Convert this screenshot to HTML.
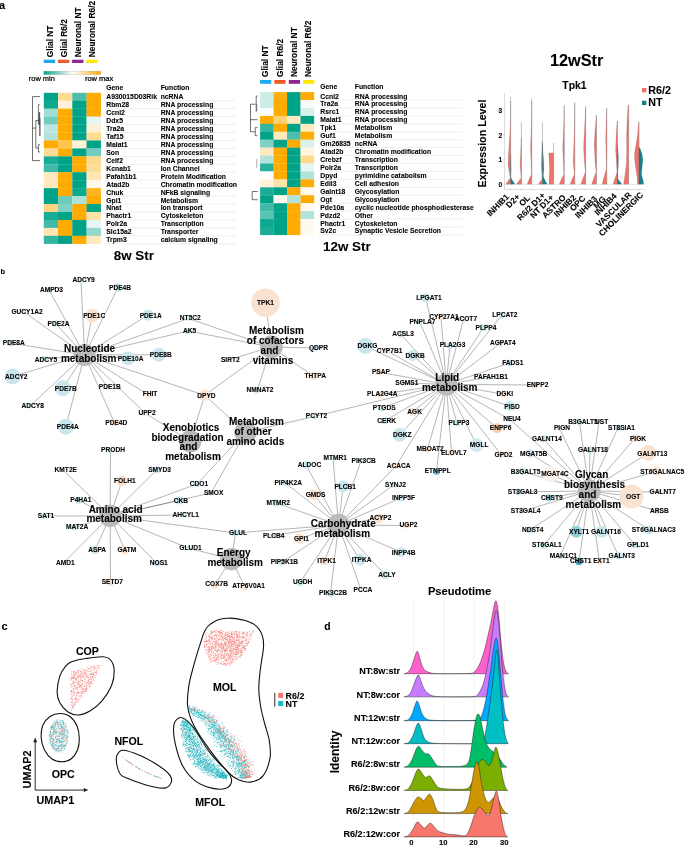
<!DOCTYPE html>
<html><head><meta charset="utf-8"><title>Figure</title>
<style>
html,body{margin:0;padding:0;background:#fff;}
svg{display:block;font-family:'Liberation Sans', Arial, Helvetica, sans-serif;}
text{stroke:#000;stroke-width:0.09px;}
text.rm{stroke-width:0.24px;}
</style></head><body>
<svg width="685" height="846" viewBox="0 0 685 846">
<rect width="685" height="846" fill="#fff"/>
<defs><linearGradient id="lg" x1="0" x2="1" y1="0" y2="0"><stop offset="0" stop-color="#00a388"/><stop offset="0.5" stop-color="#ffffff"/><stop offset="1" stop-color="#ffab00"/></linearGradient></defs>
<text x="-1.0" y="8.8" font-size="11" text-anchor="start" font-weight="bold" fill="#000">a</text>
<text x="0.5" y="273.6" font-size="7.5" text-anchor="start" font-weight="bold" fill="#000">b</text>
<text x="1.4" y="629.5" font-size="11" text-anchor="start" font-weight="bold" fill="#000">c</text>
<text x="324.2" y="629.5" font-size="10.3" text-anchor="start" font-weight="bold" fill="#000">d</text>
<rect x="43.80" y="92.80" width="14.40" height="8.10" fill="#00a388"/>
<rect x="58.05" y="92.80" width="14.40" height="8.10" fill="#ffdc94"/>
<rect x="72.30" y="92.80" width="14.40" height="8.10" fill="#4cbfac"/>
<rect x="86.55" y="92.80" width="14.40" height="8.10" fill="#ffab00"/>
<rect x="43.80" y="100.75" width="14.40" height="8.10" fill="#0da88e"/>
<rect x="58.05" y="100.75" width="14.40" height="8.10" fill="#fff2d9"/>
<rect x="72.30" y="100.75" width="14.40" height="8.10" fill="#00a388"/>
<rect x="86.55" y="100.75" width="14.40" height="8.10" fill="#ffab00"/>
<rect x="43.80" y="108.69" width="14.40" height="8.10" fill="#a1ddd3"/>
<rect x="58.05" y="108.69" width="14.40" height="8.10" fill="#ffab00"/>
<rect x="72.30" y="108.69" width="14.40" height="8.10" fill="#00a388"/>
<rect x="86.55" y="108.69" width="14.40" height="8.10" fill="#ffab00"/>
<rect x="43.80" y="116.63" width="14.40" height="8.10" fill="#73ccbe"/>
<rect x="58.05" y="116.63" width="14.40" height="8.10" fill="#ffab00"/>
<rect x="72.30" y="116.63" width="14.40" height="8.10" fill="#00a388"/>
<rect x="86.55" y="116.63" width="14.40" height="8.10" fill="#e6f6f3"/>
<rect x="43.80" y="124.58" width="14.40" height="8.10" fill="#bae6df"/>
<rect x="58.05" y="124.58" width="14.40" height="8.10" fill="#ffab00"/>
<rect x="72.30" y="124.58" width="14.40" height="8.10" fill="#00a388"/>
<rect x="86.55" y="124.58" width="14.40" height="8.10" fill="#fff1d4"/>
<rect x="43.80" y="132.53" width="14.40" height="8.10" fill="#b2e3db"/>
<rect x="58.05" y="132.53" width="14.40" height="8.10" fill="#ffab00"/>
<rect x="72.30" y="132.53" width="14.40" height="8.10" fill="#00a388"/>
<rect x="86.55" y="132.53" width="14.40" height="8.10" fill="#ffdc94"/>
<rect x="43.80" y="140.47" width="14.40" height="8.10" fill="#ffab00"/>
<rect x="58.05" y="140.47" width="14.40" height="8.10" fill="#ffc44c"/>
<rect x="72.30" y="140.47" width="14.40" height="8.10" fill="#fff1d4"/>
<rect x="86.55" y="140.47" width="14.40" height="8.10" fill="#00a388"/>
<rect x="43.80" y="148.41" width="14.40" height="8.10" fill="#ffdc94"/>
<rect x="58.05" y="148.41" width="14.40" height="8.10" fill="#ffab00"/>
<rect x="72.30" y="148.41" width="14.40" height="8.10" fill="#00a388"/>
<rect x="86.55" y="148.41" width="14.40" height="8.10" fill="#73ccbe"/>
<rect x="43.80" y="156.36" width="14.40" height="8.10" fill="#1aac94"/>
<rect x="58.05" y="156.36" width="14.40" height="8.10" fill="#00a388"/>
<rect x="72.30" y="156.36" width="14.40" height="8.10" fill="#ffab00"/>
<rect x="86.55" y="156.36" width="14.40" height="8.10" fill="#ffd98c"/>
<rect x="43.80" y="164.31" width="14.40" height="8.10" fill="#40baa6"/>
<rect x="58.05" y="164.31" width="14.40" height="8.10" fill="#00a388"/>
<rect x="72.30" y="164.31" width="14.40" height="8.10" fill="#ffab00"/>
<rect x="86.55" y="164.31" width="14.40" height="8.10" fill="#ffdd99"/>
<rect x="43.80" y="172.25" width="14.40" height="8.10" fill="#ffe8ba"/>
<rect x="58.05" y="172.25" width="14.40" height="8.10" fill="#ffab00"/>
<rect x="72.30" y="172.25" width="14.40" height="8.10" fill="#00a388"/>
<rect x="86.55" y="172.25" width="14.40" height="8.10" fill="#ffe6b2"/>
<rect x="43.80" y="180.19" width="14.40" height="8.10" fill="#ffeabf"/>
<rect x="58.05" y="180.19" width="14.40" height="8.10" fill="#ffab00"/>
<rect x="72.30" y="180.19" width="14.40" height="8.10" fill="#00a388"/>
<rect x="86.55" y="180.19" width="14.40" height="8.10" fill="#fff8eb"/>
<rect x="43.80" y="188.14" width="14.40" height="8.10" fill="#00a388"/>
<rect x="58.05" y="188.14" width="14.40" height="8.10" fill="#ffab00"/>
<rect x="72.30" y="188.14" width="14.40" height="8.10" fill="#0da88e"/>
<rect x="86.55" y="188.14" width="14.40" height="8.10" fill="#ffb51f"/>
<rect x="43.80" y="196.08" width="14.40" height="8.10" fill="#00a388"/>
<rect x="58.05" y="196.08" width="14.40" height="8.10" fill="#6ecbbb"/>
<rect x="72.30" y="196.08" width="14.40" height="8.10" fill="#ade2d9"/>
<rect x="86.55" y="196.08" width="14.40" height="8.10" fill="#ffab00"/>
<rect x="43.80" y="204.03" width="14.40" height="8.10" fill="#ffd580"/>
<rect x="58.05" y="204.03" width="14.40" height="8.10" fill="#80d1c4"/>
<rect x="72.30" y="204.03" width="14.40" height="8.10" fill="#ffab00"/>
<rect x="86.55" y="204.03" width="14.40" height="8.10" fill="#00a388"/>
<rect x="43.80" y="211.98" width="14.40" height="8.10" fill="#1aac94"/>
<rect x="58.05" y="211.98" width="14.40" height="8.10" fill="#00a388"/>
<rect x="72.30" y="211.98" width="14.40" height="8.10" fill="#ffab00"/>
<rect x="86.55" y="211.98" width="14.40" height="8.10" fill="#ffe2a6"/>
<rect x="43.80" y="219.92" width="14.40" height="8.10" fill="#40baa6"/>
<rect x="58.05" y="219.92" width="14.40" height="8.10" fill="#ffab00"/>
<rect x="72.30" y="219.92" width="14.40" height="8.10" fill="#00a388"/>
<rect x="86.55" y="219.92" width="14.40" height="8.10" fill="#e6f6f3"/>
<rect x="43.80" y="227.87" width="14.40" height="8.10" fill="#ffe6b2"/>
<rect x="58.05" y="227.87" width="14.40" height="8.10" fill="#ffab00"/>
<rect x="72.30" y="227.87" width="14.40" height="8.10" fill="#00a388"/>
<rect x="86.55" y="227.87" width="14.40" height="8.10" fill="#94d8cd"/>
<rect x="43.80" y="235.81" width="14.40" height="8.10" fill="#33b5a0"/>
<rect x="58.05" y="235.81" width="14.40" height="8.10" fill="#00a388"/>
<rect x="72.30" y="235.81" width="14.40" height="8.10" fill="#ffab00"/>
<rect x="86.55" y="235.81" width="14.40" height="8.10" fill="#ffeabf"/>
<text x="106.3" y="89.7" font-size="6.8" text-anchor="start" font-weight="bold" fill="#000">Gene</text>
<text x="160.7" y="89.7" font-size="6.8" text-anchor="start" font-weight="bold" fill="#000">Function</text>
<text x="106.3" y="99.2" font-size="6.8" text-anchor="start" font-weight="bold" fill="#000">A930015D03Rik</text>
<text x="160.7" y="99.2" font-size="6.8" text-anchor="start" font-weight="bold" fill="#000">ncRNA</text>
<line x1="105" x2="235" y1="100.75" y2="100.75" stroke="#dcdcdc" stroke-width="0.5"/>
<text x="106.3" y="107.2" font-size="6.8" text-anchor="start" font-weight="bold" fill="#000">Rbm28</text>
<text x="160.7" y="107.2" font-size="6.8" text-anchor="start" font-weight="bold" fill="#000">RNA processing</text>
<line x1="105" x2="235" y1="108.69" y2="108.69" stroke="#dcdcdc" stroke-width="0.5"/>
<text x="106.3" y="115.1" font-size="6.8" text-anchor="start" font-weight="bold" fill="#000">Ccnl2</text>
<text x="160.7" y="115.1" font-size="6.8" text-anchor="start" font-weight="bold" fill="#000">RNA processing</text>
<line x1="105" x2="235" y1="116.63" y2="116.63" stroke="#dcdcdc" stroke-width="0.5"/>
<text x="106.3" y="123.0" font-size="6.8" text-anchor="start" font-weight="bold" fill="#000">Ddx5</text>
<text x="160.7" y="123.0" font-size="6.8" text-anchor="start" font-weight="bold" fill="#000">RNA processing</text>
<line x1="105" x2="235" y1="124.58" y2="124.58" stroke="#dcdcdc" stroke-width="0.5"/>
<text x="106.3" y="131.0" font-size="6.8" text-anchor="start" font-weight="bold" fill="#000">Tra2a</text>
<text x="160.7" y="131.0" font-size="6.8" text-anchor="start" font-weight="bold" fill="#000">RNA processing</text>
<line x1="105" x2="235" y1="132.53" y2="132.53" stroke="#dcdcdc" stroke-width="0.5"/>
<text x="106.3" y="138.9" font-size="6.8" text-anchor="start" font-weight="bold" fill="#000">Taf15</text>
<text x="160.7" y="138.9" font-size="6.8" text-anchor="start" font-weight="bold" fill="#000">RNA processing</text>
<line x1="105" x2="235" y1="140.47" y2="140.47" stroke="#dcdcdc" stroke-width="0.5"/>
<text x="106.3" y="146.9" font-size="6.8" text-anchor="start" font-weight="bold" fill="#000">Malat1</text>
<text x="160.7" y="146.9" font-size="6.8" text-anchor="start" font-weight="bold" fill="#000">RNA processing</text>
<line x1="105" x2="235" y1="148.41" y2="148.41" stroke="#dcdcdc" stroke-width="0.5"/>
<text x="106.3" y="154.8" font-size="6.8" text-anchor="start" font-weight="bold" fill="#000">Son</text>
<text x="160.7" y="154.8" font-size="6.8" text-anchor="start" font-weight="bold" fill="#000">RNA processing</text>
<line x1="105" x2="235" y1="156.36" y2="156.36" stroke="#dcdcdc" stroke-width="0.5"/>
<text x="106.3" y="162.8" font-size="6.8" text-anchor="start" font-weight="bold" fill="#000">Celf2</text>
<text x="160.7" y="162.8" font-size="6.8" text-anchor="start" font-weight="bold" fill="#000">RNA processing</text>
<line x1="105" x2="235" y1="164.31" y2="164.31" stroke="#dcdcdc" stroke-width="0.5"/>
<text x="106.3" y="170.7" font-size="6.8" text-anchor="start" font-weight="bold" fill="#000">Kcnab1</text>
<text x="160.7" y="170.7" font-size="6.8" text-anchor="start" font-weight="bold" fill="#000">Ion Channel</text>
<line x1="105" x2="235" y1="172.25" y2="172.25" stroke="#dcdcdc" stroke-width="0.5"/>
<text x="106.3" y="178.7" font-size="6.8" text-anchor="start" font-weight="bold" fill="#000">Pafah1b1</text>
<text x="160.7" y="178.7" font-size="6.8" text-anchor="start" font-weight="bold" fill="#000">Protein Modification</text>
<line x1="105" x2="235" y1="180.19" y2="180.19" stroke="#dcdcdc" stroke-width="0.5"/>
<text x="106.3" y="186.6" font-size="6.8" text-anchor="start" font-weight="bold" fill="#000">Atad2b</text>
<text x="160.7" y="186.6" font-size="6.8" text-anchor="start" font-weight="bold" fill="#000">Chromatin modification</text>
<line x1="105" x2="235" y1="188.14" y2="188.14" stroke="#dcdcdc" stroke-width="0.5"/>
<text x="106.3" y="194.5" font-size="6.8" text-anchor="start" font-weight="bold" fill="#000">Chuk</text>
<text x="160.7" y="194.5" font-size="6.8" text-anchor="start" font-weight="bold" fill="#000">NFkB signaling</text>
<line x1="105" x2="235" y1="196.08" y2="196.08" stroke="#dcdcdc" stroke-width="0.5"/>
<text x="106.3" y="202.5" font-size="6.8" text-anchor="start" font-weight="bold" fill="#000">Gpi1</text>
<text x="160.7" y="202.5" font-size="6.8" text-anchor="start" font-weight="bold" fill="#000">Metabolism</text>
<line x1="105" x2="235" y1="204.03" y2="204.03" stroke="#dcdcdc" stroke-width="0.5"/>
<text x="106.3" y="210.4" font-size="6.8" text-anchor="start" font-weight="bold" fill="#000">Nnat</text>
<text x="160.7" y="210.4" font-size="6.8" text-anchor="start" font-weight="bold" fill="#000">Ion transport</text>
<line x1="105" x2="235" y1="211.98" y2="211.98" stroke="#dcdcdc" stroke-width="0.5"/>
<text x="106.3" y="218.4" font-size="6.8" text-anchor="start" font-weight="bold" fill="#000">Phactr1</text>
<text x="160.7" y="218.4" font-size="6.8" text-anchor="start" font-weight="bold" fill="#000">Cytoskeleton</text>
<line x1="105" x2="235" y1="219.92" y2="219.92" stroke="#dcdcdc" stroke-width="0.5"/>
<text x="106.3" y="226.3" font-size="6.8" text-anchor="start" font-weight="bold" fill="#000">Polr2a</text>
<text x="160.7" y="226.3" font-size="6.8" text-anchor="start" font-weight="bold" fill="#000">Transcription</text>
<line x1="105" x2="235" y1="227.87" y2="227.87" stroke="#dcdcdc" stroke-width="0.5"/>
<text x="106.3" y="234.3" font-size="6.8" text-anchor="start" font-weight="bold" fill="#000">Slc15a2</text>
<text x="160.7" y="234.3" font-size="6.8" text-anchor="start" font-weight="bold" fill="#000">Transporter</text>
<line x1="105" x2="235" y1="235.81" y2="235.81" stroke="#dcdcdc" stroke-width="0.5"/>
<text x="106.3" y="242.2" font-size="6.8" text-anchor="start" font-weight="bold" fill="#000">Trpm3</text>
<text x="160.7" y="242.2" font-size="6.8" text-anchor="start" font-weight="bold" fill="#000">calcium signaling</text>
<line x1="105" x2="235" y1="243.75" y2="243.75" stroke="#dcdcdc" stroke-width="0.5"/>
<rect x="43.8" y="59.7" width="11.3" height="3.3" fill="#1ba9e8"/>
<text transform="translate(53.2,57.2) rotate(-90)" font-size="8.4" text-anchor="start" font-weight="bold">Glial NT</text>
<rect x="57.9" y="59.7" width="11.3" height="3.3" fill="#f05a28"/>
<text transform="translate(67.2,57.2) rotate(-90)" font-size="8.4" text-anchor="start" font-weight="bold">Glial R6/2</text>
<rect x="72.1" y="59.7" width="11.3" height="3.3" fill="#92278f"/>
<text transform="translate(81.1,57.2) rotate(-90)" font-size="8.4" text-anchor="start" font-weight="bold">Neuronal NT</text>
<rect x="86.4" y="59.7" width="11.3" height="3.3" fill="#ffe900"/>
<text transform="translate(94.9,57.2) rotate(-90)" font-size="8.4" text-anchor="start" font-weight="bold">Neuronal R6/2</text>
<rect x="43.8" y="71.1" width="57" height="3.6" fill="url(#lg)" stroke="#a9a9a9" stroke-width="0.3"/>
<text x="28.8" y="80.7" font-size="7.45" text-anchor="start" font-weight="normal" fill="#000" class="rm">row min</text>
<text x="85.0" y="80.7" font-size="7.45" text-anchor="start" font-weight="normal" fill="#000" class="rm">row max</text>
<text x="133.8" y="260.1" font-size="13.4" text-anchor="middle" font-weight="bold" fill="#000">8w Str</text>
<polyline fill="none" stroke="#111" stroke-width="0.6" points="40.0,96.6 32.5,96.6 32.5,160.6 40.0,160.6"/>
<polyline fill="none" stroke="#111" stroke-width="0.6" points="32.5,128.1 35.8,128.1"/>
<polyline fill="none" stroke="#111" stroke-width="0.6" points="38.4,120.5 35.8,120.5 35.8,148.1 38.4,148.1"/>
<polyline fill="none" stroke="#111" stroke-width="0.6" points="39.7,104.7 38.4,104.7 38.4,124.4"/>
<polyline fill="none" stroke="#111" stroke-width="0.6" points="39.2,112.6 39.2,125.0"/>
<polyline fill="none" stroke="#111" stroke-width="0.6" points="39.7,112.0 39.7,136.2"/>
<polyline fill="none" stroke="#111" stroke-width="0.4" points="40.2,118.0 40.2,136.0"/>
<polyline fill="none" stroke="#111" stroke-width="0.6" points="40.0,144.8 38.4,144.8 38.4,152.0 40.0,152.0"/>
<rect x="260.10" y="92.10" width="13.63" height="8.08" fill="#ccede7"/>
<rect x="273.58" y="92.10" width="13.63" height="8.08" fill="#ffaf0d"/>
<rect x="287.06" y="92.10" width="13.63" height="8.08" fill="#00a388"/>
<rect x="300.54" y="92.10" width="13.63" height="8.08" fill="#ffab00"/>
<rect x="260.10" y="100.03" width="13.63" height="8.08" fill="#ccede7"/>
<rect x="273.58" y="100.03" width="13.63" height="8.08" fill="#ffab00"/>
<rect x="287.06" y="100.03" width="13.63" height="8.08" fill="#00a388"/>
<rect x="300.54" y="100.03" width="13.63" height="8.08" fill="#f7fcfb"/>
<rect x="260.10" y="107.97" width="13.63" height="8.08" fill="#fafdfd"/>
<rect x="273.58" y="107.97" width="13.63" height="8.08" fill="#ffab00"/>
<rect x="287.06" y="107.97" width="13.63" height="8.08" fill="#00a388"/>
<rect x="300.54" y="107.97" width="13.63" height="8.08" fill="#d9f1ed"/>
<rect x="260.10" y="115.91" width="13.63" height="8.08" fill="#ffab00"/>
<rect x="273.58" y="115.91" width="13.63" height="8.08" fill="#ffd173"/>
<rect x="287.06" y="115.91" width="13.63" height="8.08" fill="#ffeabf"/>
<rect x="300.54" y="115.91" width="13.63" height="8.08" fill="#00a388"/>
<rect x="260.10" y="123.84" width="13.63" height="8.08" fill="#33b5a0"/>
<rect x="273.58" y="123.84" width="13.63" height="8.08" fill="#ffab00"/>
<rect x="287.06" y="123.84" width="13.63" height="8.08" fill="#00a388"/>
<rect x="300.54" y="123.84" width="13.63" height="8.08" fill="#ffeabf"/>
<rect x="260.10" y="131.77" width="13.63" height="8.08" fill="#00a388"/>
<rect x="273.58" y="131.77" width="13.63" height="8.08" fill="#ffeabf"/>
<rect x="287.06" y="131.77" width="13.63" height="8.08" fill="#4cbfac"/>
<rect x="300.54" y="131.77" width="13.63" height="8.08" fill="#ffab00"/>
<rect x="260.10" y="139.71" width="13.63" height="8.08" fill="#80d1c4"/>
<rect x="273.58" y="139.71" width="13.63" height="8.08" fill="#00a388"/>
<rect x="287.06" y="139.71" width="13.63" height="8.08" fill="#ffab00"/>
<rect x="300.54" y="139.71" width="13.63" height="8.08" fill="#d9f1ed"/>
<rect x="260.10" y="147.64" width="13.63" height="8.08" fill="#ffeabf"/>
<rect x="273.58" y="147.64" width="13.63" height="8.08" fill="#ffab00"/>
<rect x="287.06" y="147.64" width="13.63" height="8.08" fill="#00a388"/>
<rect x="300.54" y="147.64" width="13.63" height="8.08" fill="#fff5e0"/>
<rect x="260.10" y="155.58" width="13.63" height="8.08" fill="#b2e3db"/>
<rect x="273.58" y="155.58" width="13.63" height="8.08" fill="#ffab00"/>
<rect x="287.06" y="155.58" width="13.63" height="8.08" fill="#00a388"/>
<rect x="300.54" y="155.58" width="13.63" height="8.08" fill="#ffd98c"/>
<rect x="260.10" y="163.51" width="13.63" height="8.08" fill="#26b19a"/>
<rect x="273.58" y="163.51" width="13.63" height="8.08" fill="#ffab00"/>
<rect x="287.06" y="163.51" width="13.63" height="8.08" fill="#00a388"/>
<rect x="300.54" y="163.51" width="13.63" height="8.08" fill="#e6f6f3"/>
<rect x="260.10" y="171.45" width="13.63" height="8.08" fill="#ffffff"/>
<rect x="273.58" y="171.45" width="13.63" height="8.08" fill="#ffab00"/>
<rect x="287.06" y="171.45" width="13.63" height="8.08" fill="#00a388"/>
<rect x="300.54" y="171.45" width="13.63" height="8.08" fill="#b2e3db"/>
<rect x="260.10" y="179.38" width="13.63" height="8.08" fill="#fff2d9"/>
<rect x="273.58" y="179.38" width="13.63" height="8.08" fill="#ffe2a6"/>
<rect x="287.06" y="179.38" width="13.63" height="8.08" fill="#00a388"/>
<rect x="300.54" y="179.38" width="13.63" height="8.08" fill="#ffab00"/>
<rect x="260.10" y="187.32" width="13.63" height="8.08" fill="#1aac94"/>
<rect x="273.58" y="187.32" width="13.63" height="8.08" fill="#00a388"/>
<rect x="287.06" y="187.32" width="13.63" height="8.08" fill="#ffab00"/>
<rect x="300.54" y="187.32" width="13.63" height="8.08" fill="#fff8eb"/>
<rect x="260.10" y="195.25" width="13.63" height="8.08" fill="#00a388"/>
<rect x="273.58" y="195.25" width="13.63" height="8.08" fill="#fff8eb"/>
<rect x="287.06" y="195.25" width="13.63" height="8.08" fill="#b2e3db"/>
<rect x="300.54" y="195.25" width="13.63" height="8.08" fill="#ffab00"/>
<rect x="260.10" y="203.19" width="13.63" height="8.08" fill="#40baa6"/>
<rect x="273.58" y="203.19" width="13.63" height="8.08" fill="#00a388"/>
<rect x="287.06" y="203.19" width="13.63" height="8.08" fill="#ffab00"/>
<rect x="300.54" y="203.19" width="13.63" height="8.08" fill="#fff8eb"/>
<rect x="260.10" y="211.12" width="13.63" height="8.08" fill="#59c3b2"/>
<rect x="273.58" y="211.12" width="13.63" height="8.08" fill="#00a388"/>
<rect x="287.06" y="211.12" width="13.63" height="8.08" fill="#ffab00"/>
<rect x="300.54" y="211.12" width="13.63" height="8.08" fill="#b2e3db"/>
<rect x="260.10" y="219.06" width="13.63" height="8.08" fill="#0da88e"/>
<rect x="273.58" y="219.06" width="13.63" height="8.08" fill="#00a388"/>
<rect x="287.06" y="219.06" width="13.63" height="8.08" fill="#ffab00"/>
<rect x="300.54" y="219.06" width="13.63" height="8.08" fill="#fffaf0"/>
<rect x="260.10" y="226.99" width="13.63" height="8.08" fill="#1aac94"/>
<rect x="273.58" y="226.99" width="13.63" height="8.08" fill="#00a388"/>
<rect x="287.06" y="226.99" width="13.63" height="8.08" fill="#ffab00"/>
<rect x="300.54" y="226.99" width="13.63" height="8.08" fill="#fffaf0"/>
<text x="320.3" y="89.0" font-size="6.8" text-anchor="start" font-weight="bold" fill="#000">Gene</text>
<text x="354.8" y="89.0" font-size="6.8" text-anchor="start" font-weight="bold" fill="#000">Function</text>
<text x="320.3" y="98.5" font-size="6.8" text-anchor="start" font-weight="bold" fill="#000">Ccnl2</text>
<text x="354.8" y="98.5" font-size="6.8" text-anchor="start" font-weight="bold" fill="#000">RNA processing</text>
<line x1="319" x2="463" y1="100.03" y2="100.03" stroke="#dcdcdc" stroke-width="0.5"/>
<text x="320.3" y="106.4" font-size="6.8" text-anchor="start" font-weight="bold" fill="#000">Tra2a</text>
<text x="354.8" y="106.4" font-size="6.8" text-anchor="start" font-weight="bold" fill="#000">RNA processing</text>
<line x1="319" x2="463" y1="107.97" y2="107.97" stroke="#dcdcdc" stroke-width="0.5"/>
<text x="320.3" y="114.4" font-size="6.8" text-anchor="start" font-weight="bold" fill="#000">Rsrc1</text>
<text x="354.8" y="114.4" font-size="6.8" text-anchor="start" font-weight="bold" fill="#000">RNA processing</text>
<line x1="319" x2="463" y1="115.91" y2="115.91" stroke="#dcdcdc" stroke-width="0.5"/>
<text x="320.3" y="122.3" font-size="6.8" text-anchor="start" font-weight="bold" fill="#000">Malat1</text>
<text x="354.8" y="122.3" font-size="6.8" text-anchor="start" font-weight="bold" fill="#000">RNA processing</text>
<line x1="319" x2="463" y1="123.84" y2="123.84" stroke="#dcdcdc" stroke-width="0.5"/>
<text x="320.3" y="130.2" font-size="6.8" text-anchor="start" font-weight="bold" fill="#000">Tpk1</text>
<text x="354.8" y="130.2" font-size="6.8" text-anchor="start" font-weight="bold" fill="#000">Metabolism</text>
<line x1="319" x2="463" y1="131.77" y2="131.77" stroke="#dcdcdc" stroke-width="0.5"/>
<text x="320.3" y="138.2" font-size="6.8" text-anchor="start" font-weight="bold" fill="#000">Guf1</text>
<text x="354.8" y="138.2" font-size="6.8" text-anchor="start" font-weight="bold" fill="#000">Metabolism</text>
<line x1="319" x2="463" y1="139.71" y2="139.71" stroke="#dcdcdc" stroke-width="0.5"/>
<text x="320.3" y="146.1" font-size="6.8" text-anchor="start" font-weight="bold" fill="#000">Gm26835</text>
<text x="354.8" y="146.1" font-size="6.8" text-anchor="start" font-weight="bold" fill="#000">ncRNA</text>
<line x1="319" x2="463" y1="147.64" y2="147.64" stroke="#dcdcdc" stroke-width="0.5"/>
<text x="320.3" y="154.0" font-size="6.8" text-anchor="start" font-weight="bold" fill="#000">Atad2b</text>
<text x="354.8" y="154.0" font-size="6.8" text-anchor="start" font-weight="bold" fill="#000">Chromatin modification</text>
<line x1="319" x2="463" y1="155.58" y2="155.58" stroke="#dcdcdc" stroke-width="0.5"/>
<text x="320.3" y="162.0" font-size="6.8" text-anchor="start" font-weight="bold" fill="#000">Crebzf</text>
<text x="354.8" y="162.0" font-size="6.8" text-anchor="start" font-weight="bold" fill="#000">Transcription</text>
<line x1="319" x2="463" y1="163.51" y2="163.51" stroke="#dcdcdc" stroke-width="0.5"/>
<text x="320.3" y="169.9" font-size="6.8" text-anchor="start" font-weight="bold" fill="#000">Polr2a</text>
<text x="354.8" y="169.9" font-size="6.8" text-anchor="start" font-weight="bold" fill="#000">Transcription</text>
<line x1="319" x2="463" y1="171.45" y2="171.45" stroke="#dcdcdc" stroke-width="0.5"/>
<text x="320.3" y="177.9" font-size="6.8" text-anchor="start" font-weight="bold" fill="#000">Dpyd</text>
<text x="354.8" y="177.9" font-size="6.8" text-anchor="start" font-weight="bold" fill="#000">pyrimidine catabolism</text>
<line x1="319" x2="463" y1="179.38" y2="179.38" stroke="#dcdcdc" stroke-width="0.5"/>
<text x="320.3" y="185.8" font-size="6.8" text-anchor="start" font-weight="bold" fill="#000">Edil3</text>
<text x="354.8" y="185.8" font-size="6.8" text-anchor="start" font-weight="bold" fill="#000">Cell adhesion</text>
<line x1="319" x2="463" y1="187.32" y2="187.32" stroke="#dcdcdc" stroke-width="0.5"/>
<text x="320.3" y="193.7" font-size="6.8" text-anchor="start" font-weight="bold" fill="#000">Galnt18</text>
<text x="354.8" y="193.7" font-size="6.8" text-anchor="start" font-weight="bold" fill="#000">Glycosylation</text>
<line x1="319" x2="463" y1="195.25" y2="195.25" stroke="#dcdcdc" stroke-width="0.5"/>
<text x="320.3" y="201.7" font-size="6.8" text-anchor="start" font-weight="bold" fill="#000">Ogt</text>
<text x="354.8" y="201.7" font-size="6.8" text-anchor="start" font-weight="bold" fill="#000">Glycosylation</text>
<line x1="319" x2="463" y1="203.19" y2="203.19" stroke="#dcdcdc" stroke-width="0.5"/>
<text x="320.3" y="209.6" font-size="6.8" text-anchor="start" font-weight="bold" fill="#000">Pde10a</text>
<text x="354.8" y="209.6" font-size="6.8" text-anchor="start" font-weight="bold" fill="#000">cyclic nucleotide phosphodiesterase</text>
<line x1="319" x2="463" y1="211.12" y2="211.12" stroke="#dcdcdc" stroke-width="0.5"/>
<text x="320.3" y="217.5" font-size="6.8" text-anchor="start" font-weight="bold" fill="#000">Pdzd2</text>
<text x="354.8" y="217.5" font-size="6.8" text-anchor="start" font-weight="bold" fill="#000">Other</text>
<line x1="319" x2="463" y1="219.06" y2="219.06" stroke="#dcdcdc" stroke-width="0.5"/>
<text x="320.3" y="225.5" font-size="6.8" text-anchor="start" font-weight="bold" fill="#000">Phactr1</text>
<text x="354.8" y="225.5" font-size="6.8" text-anchor="start" font-weight="bold" fill="#000">Cytoskeleton</text>
<line x1="319" x2="463" y1="226.99" y2="226.99" stroke="#dcdcdc" stroke-width="0.5"/>
<text x="320.3" y="233.4" font-size="6.8" text-anchor="start" font-weight="bold" fill="#000">Sv2c</text>
<text x="354.8" y="233.4" font-size="6.8" text-anchor="start" font-weight="bold" fill="#000">Synaptic Vesicle Secretion</text>
<line x1="319" x2="463" y1="234.93" y2="234.93" stroke="#dcdcdc" stroke-width="0.5"/>
<rect x="260.1" y="80" width="11.2" height="3.8" fill="#1ba9e8"/>
<text transform="translate(268.4,77.0) rotate(-90)" font-size="8.4" text-anchor="start" font-weight="bold">Glial NT</text>
<rect x="274.3" y="80" width="11.2" height="3.8" fill="#f05a28"/>
<text transform="translate(282.6,77.0) rotate(-90)" font-size="8.4" text-anchor="start" font-weight="bold">Glial R6/2</text>
<rect x="288.8" y="80" width="11.2" height="3.8" fill="#92278f"/>
<text transform="translate(296.8,77.0) rotate(-90)" font-size="8.4" text-anchor="start" font-weight="bold">Neuronal NT</text>
<rect x="303.1" y="80" width="11.2" height="3.8" fill="#ffe900"/>
<text transform="translate(311.2,77.0) rotate(-90)" font-size="8.4" text-anchor="start" font-weight="bold">Neuronal R6/2</text>
<text x="346.9" y="251.3" font-size="13.4" text-anchor="middle" font-weight="bold" fill="#000">12w Str</text>
<polyline fill="none" stroke="#111" stroke-width="0.6" points="255.5,104.2 250.5,104.2 250.5,131.8 255.2,131.8"/>
<polyline fill="none" stroke="#111" stroke-width="0.6" points="257.5,96.0 256.2,96.0 256.2,111.8"/>
<polyline fill="none" stroke="#111" stroke-width="0.4" points="256.8,104.0 256.8,111.0"/>
<polyline fill="none" stroke="#111" stroke-width="0.6" points="250.5,119.7 257.5,119.7"/>
<polyline fill="none" stroke="#111" stroke-width="0.6" points="257.5,127.6 255.2,127.6 255.2,135.7 257.5,135.7"/>
<polyline fill="none" stroke="#777" stroke-width="0.6" points="256.8,158.9 256.8,167.7"/>
<polyline fill="none" stroke="#111" stroke-width="0.6" points="257.7,191.5 252.2,191.5 252.2,199.7 257.7,199.7"/>
<text x="576.7" y="66.4" font-size="16.3" text-anchor="middle" font-weight="bold" fill="#000">12wStr</text>
<text x="574.5" y="89.4" font-size="10.4" text-anchor="middle" font-weight="bold" fill="#000">Tpk1</text>
<rect x="642" y="88" width="4.4" height="4.4" fill="#f0736a"/>
<rect x="642" y="100.7" width="4.4" height="4.4" fill="#17808d"/>
<text x="648.3" y="94.1" font-size="10.7" text-anchor="start" font-weight="bold" fill="#000">R6/2</text>
<text x="648.3" y="105.8" font-size="10.7" text-anchor="start" font-weight="bold" fill="#000">NT</text>
<text transform="translate(486.4,143.5) rotate(-90)" font-size="10.7" text-anchor="middle" font-weight="bold">Expression Level</text>
<polyline fill="none" stroke="#cfcfcf" stroke-width="0.7" points="504.5,93 504.5,189.4 645.5,189.4"/>
<text x="500.4" y="186.7" font-size="6.6" text-anchor="middle" font-weight="bold" fill="#000">0</text>
<line x1="503.3" x2="504.5" y1="184.3" y2="184.3" stroke="#999" stroke-width="0.4"/>
<text x="500.4" y="162.1" font-size="6.6" text-anchor="middle" font-weight="bold" fill="#000">1</text>
<line x1="503.3" x2="504.5" y1="159.8" y2="159.8" stroke="#999" stroke-width="0.4"/>
<text x="500.4" y="137.6" font-size="6.6" text-anchor="middle" font-weight="bold" fill="#000">2</text>
<line x1="503.3" x2="504.5" y1="135.2" y2="135.2" stroke="#999" stroke-width="0.4"/>
<text x="500.4" y="113.0" font-size="6.6" text-anchor="middle" font-weight="bold" fill="#000">3</text>
<line x1="503.3" x2="504.5" y1="110.7" y2="110.7" stroke="#999" stroke-width="0.4"/>
<line x1="510.6" x2="510.6" y1="97" y2="184.3" stroke="#555" stroke-width="0.35"/>
<path d="M510.60,184.30 L505.80,184.30 L508.44,180.32 L510.35,177.67 L509.40,173.25 L508.00,164.66 L508.60,152.39 L509.60,137.66 L510.40,124.15 L510.60,100.83 L510.60,100.83Z" fill="#f0736a" stroke="#444" stroke-width="0.15"/>
<path d="M510.60,184.30 L515.10,184.30 L513.40,181.84 L511.50,178.90 L510.80,176.94 L511.10,169.57 L510.90,162.21 L510.60,154.84 L510.60,154.84Z" fill="#17808d" stroke="#444" stroke-width="0.15"/>
<line x1="510.6" x2="510.6" y1="189.4" y2="190.3" stroke="#888" stroke-width="0.4"/>
<text transform="translate(509.6,197.4) rotate(-45)" font-size="8.4" text-anchor="end" font-weight="bold">INHIB1</text>
<line x1="505.40000000000003" x2="515.8000000000001" y1="184.5" y2="184.5" stroke="#bbb" stroke-width="0.3"/>
<line x1="521.4" x2="521.4" y1="121.9" y2="184.3" stroke="#555" stroke-width="0.35"/>
<path d="M521.40,184.30 L516.40,184.30 L519.15,180.62 L521.15,178.16 L520.80,173.25 L520.10,164.66 L520.60,154.84 L521.30,137.66 L521.40,137.66Z" fill="#f0736a" stroke="#444" stroke-width="0.15"/>
<line x1="521.4" x2="521.4" y1="189.4" y2="190.3" stroke="#888" stroke-width="0.4"/>
<text transform="translate(520.4,197.4) rotate(-45)" font-size="8.4" text-anchor="end" font-weight="bold">D2+</text>
<line x1="516.1999999999999" x2="526.6" y1="184.5" y2="184.5" stroke="#bbb" stroke-width="0.3"/>
<line x1="531.7" x2="531.7" y1="98.7" y2="184.3" stroke="#555" stroke-width="0.35"/>
<path d="M531.70,184.30 L527.10,184.30 L529.63,178.11 L531.45,173.99 L531.20,167.12 L530.50,147.48 L531.00,135.20 L531.55,122.93 L531.70,100.83 L531.70,100.83Z" fill="#f0736a" stroke="#444" stroke-width="0.15"/>
<line x1="531.7" x2="531.7" y1="189.4" y2="190.3" stroke="#888" stroke-width="0.4"/>
<text transform="translate(530.7,198.6) rotate(-45)" font-size="8.4" text-anchor="end" font-weight="bold">OL</text>
<line x1="526.5" x2="536.9000000000001" y1="184.5" y2="184.5" stroke="#bbb" stroke-width="0.3"/>
<line x1="542.4" x2="542.4" y1="121.9" y2="184.3" stroke="#555" stroke-width="0.35"/>
<path d="M542.40,184.30 L538.20,184.30 L540.51,181.06 L542.15,178.90 L541.90,173.25 L541.20,164.66 L541.80,154.84 L542.30,142.56 L542.40,142.56Z" fill="#f0736a" stroke="#444" stroke-width="0.15"/>
<path d="M542.40,184.30 L547.40,184.30 L545.60,181.35 L544.00,178.16 L543.30,175.71 L543.90,169.57 L543.70,162.21 L543.00,152.39 L542.40,141.34 L542.40,141.34Z" fill="#17808d" stroke="#444" stroke-width="0.15"/>
<line x1="542.4" x2="542.4" y1="189.4" y2="190.3" stroke="#888" stroke-width="0.4"/>
<text transform="translate(545.8,195.9) rotate(-45)" font-size="8.4" text-anchor="end" font-weight="bold">R6/2 D1+</text>
<line x1="537.1999999999999" x2="547.6" y1="184.5" y2="184.5" stroke="#bbb" stroke-width="0.3"/>
<line x1="553.6" x2="553.6" y1="143" y2="184.3" stroke="#555" stroke-width="0.35"/>
<path d="M553.60,184.30 L549.00,184.30 L549.20,176.94 L549.60,168.34 L549.10,159.75 L548.80,153.12 L553.60,152.88 L553.60,152.88Z" fill="#f0736a" stroke="#444" stroke-width="0.15"/>
<line x1="553.6" x2="553.6" y1="189.4" y2="190.3" stroke="#888" stroke-width="0.4"/>
<text transform="translate(554.1,198.1) rotate(-45)" font-size="8.4" text-anchor="end" font-weight="bold">NT D1+</text>
<line x1="548.4" x2="558.8000000000001" y1="184.5" y2="184.5" stroke="#bbb" stroke-width="0.3"/>
<line x1="564.2" x2="564.2" y1="105" y2="184.3" stroke="#555" stroke-width="0.35"/>
<path d="M564.20,184.30 L559.20,184.30 L561.95,178.11 L563.95,173.99 L563.50,164.66 L562.70,147.48 L563.30,135.20 L564.00,120.47 L564.20,105.74 L564.20,105.74Z" fill="#f0736a" stroke="#444" stroke-width="0.15"/>
<line x1="564.2" x2="564.2" y1="189.4" y2="190.3" stroke="#888" stroke-width="0.4"/>
<text transform="translate(566.3,198.1) rotate(-45)" font-size="8.4" text-anchor="end" font-weight="bold">ASTRO</text>
<line x1="559.0" x2="569.4000000000001" y1="184.5" y2="184.5" stroke="#bbb" stroke-width="0.3"/>
<line x1="574.7" x2="574.7" y1="102" y2="184.3" stroke="#555" stroke-width="0.35"/>
<path d="M574.70,184.30 L570.10,184.30 L572.63,178.11 L574.45,173.99 L573.80,169.57 L573.20,160.98 L573.80,145.02 L574.50,125.38 L574.70,103.29 L574.70,103.29Z" fill="#f0736a" stroke="#444" stroke-width="0.15"/>
<line x1="574.7" x2="574.7" y1="189.4" y2="190.3" stroke="#888" stroke-width="0.4"/>
<text transform="translate(576.7,198.1) rotate(-45)" font-size="8.4" text-anchor="end" font-weight="bold">INHIB2</text>
<line x1="569.5" x2="579.9000000000001" y1="184.5" y2="184.5" stroke="#bbb" stroke-width="0.3"/>
<line x1="585.6" x2="585.6" y1="105.9" y2="184.3" stroke="#555" stroke-width="0.35"/>
<path d="M585.60,184.30 L580.80,184.30 L583.44,176.94 L585.35,172.03 L584.40,162.21 L583.60,147.48 L584.30,132.75 L585.20,115.56 L585.60,106.97 L585.60,106.97Z" fill="#f0736a" stroke="#444" stroke-width="0.15"/>
<line x1="585.6" x2="585.6" y1="189.4" y2="190.3" stroke="#888" stroke-width="0.4"/>
<text transform="translate(586.1,198.9) rotate(-45)" font-size="8.4" text-anchor="end" font-weight="bold">OPC</text>
<line x1="580.4" x2="590.8000000000001" y1="184.5" y2="184.5" stroke="#bbb" stroke-width="0.3"/>
<line x1="596.4" x2="596.4" y1="115" y2="184.3" stroke="#555" stroke-width="0.35"/>
<path d="M596.40,184.30 L591.60,184.30 L594.24,176.94 L596.15,172.03 L595.10,162.21 L594.20,145.02 L594.90,132.75 L595.90,120.47 L596.40,115.56 L596.40,115.56Z" fill="#f0736a" stroke="#444" stroke-width="0.15"/>
<line x1="596.4" x2="596.4" y1="189.4" y2="190.3" stroke="#888" stroke-width="0.4"/>
<text transform="translate(597.9,199.4) rotate(-45)" font-size="8.4" text-anchor="end" font-weight="bold">INHIB3</text>
<line x1="591.1999999999999" x2="601.6" y1="184.5" y2="184.5" stroke="#bbb" stroke-width="0.3"/>
<line x1="606.7" x2="606.7" y1="108" y2="184.3" stroke="#555" stroke-width="0.35"/>
<path d="M606.70,184.30 L602.10,184.30 L604.63,174.73 L606.45,168.34 L606.20,159.75 L605.70,137.66 L606.20,122.93 L606.70,108.20 L606.70,108.20Z" fill="#f0736a" stroke="#444" stroke-width="0.15"/>
<line x1="606.7" x2="606.7" y1="189.4" y2="190.3" stroke="#888" stroke-width="0.4"/>
<text transform="translate(606.4,199.6) rotate(-45)" font-size="8.4" text-anchor="end" font-weight="bold">MG</text>
<line x1="601.5" x2="611.9000000000001" y1="184.5" y2="184.5" stroke="#bbb" stroke-width="0.3"/>
<line x1="617.4" x2="617.4" y1="121" y2="184.3" stroke="#555" stroke-width="0.35"/>
<path d="M617.40,184.30 L613.00,184.30 L615.42,176.94 L617.15,172.03 L616.40,162.21 L615.60,149.93 L616.20,135.20 L617.10,122.93 L617.40,120.96 L617.40,120.96Z" fill="#f0736a" stroke="#444" stroke-width="0.15"/>
<path d="M617.40,184.30 L621.90,184.30 L620.00,181.84 L618.00,178.90 L617.70,172.03 L618.30,164.66 L618.40,157.30 L617.90,149.93 L617.40,146.25 L617.40,146.25Z" fill="#17808d" stroke="#444" stroke-width="0.15"/>
<line x1="617.4" x2="617.4" y1="189.4" y2="190.3" stroke="#888" stroke-width="0.4"/>
<text transform="translate(617.4,196.7) rotate(-45)" font-size="8.4" text-anchor="end" font-weight="bold">INHIB4</text>
<line x1="612.1999999999999" x2="622.6" y1="184.5" y2="184.5" stroke="#bbb" stroke-width="0.3"/>
<line x1="628.6" x2="628.6" y1="105" y2="184.3" stroke="#555" stroke-width="0.35"/>
<path d="M628.60,184.30 L623.60,184.30 L625.00,174.48 L626.30,164.66 L626.70,152.39 L626.60,135.20 L627.10,120.47 L627.70,110.65 L628.00,105.25 L628.60,105.00 L628.60,105.00Z" fill="#f0736a" stroke="#444" stroke-width="0.15"/>
<line x1="628.6" x2="628.6" y1="189.4" y2="190.3" stroke="#888" stroke-width="0.4"/>
<text transform="translate(632.0,195.4) rotate(-45)" font-size="8.4" text-anchor="end" font-weight="bold">VASCULAR</text>
<line x1="623.4" x2="633.8000000000001" y1="184.5" y2="184.5" stroke="#bbb" stroke-width="0.3"/>
<line x1="638.9" x2="638.9" y1="121.6" y2="184.3" stroke="#555" stroke-width="0.35"/>
<path d="M638.90,184.30 L637.40,184.30 L637.30,178.16 L635.90,169.57 L634.60,159.75 L634.50,153.61 L635.90,145.02 L637.50,135.20 L638.40,125.38 L638.90,121.45 L638.90,121.45Z" fill="#f0736a" stroke="#444" stroke-width="0.15"/>
<path d="M638.90,184.30 L643.50,184.30 L643.20,180.62 L641.50,174.48 L642.10,167.12 L642.90,159.75 L641.90,153.61 L639.90,147.97 L638.90,147.48 L638.90,147.48Z" fill="#17808d" stroke="#444" stroke-width="0.15"/>
<line x1="638.9" x2="638.9" y1="189.4" y2="190.3" stroke="#888" stroke-width="0.4"/>
<text transform="translate(643.7,195.4) rotate(-45)" font-size="8.4" text-anchor="end" font-weight="bold">CHOLINERGIC</text>
<line x1="633.6999999999999" x2="644.1" y1="184.5" y2="184.5" stroke="#bbb" stroke-width="0.3"/>
<g stroke="#4f4f4f" stroke-width="0.42">
<line x1="84.6" y1="355" x2="81" y2="281.3"/>
<line x1="84.6" y1="355" x2="49" y2="290"/>
<line x1="84.6" y1="355" x2="118" y2="287.6"/>
<line x1="84.6" y1="355" x2="24" y2="312"/>
<line x1="84.6" y1="355" x2="92" y2="315.7"/>
<line x1="84.6" y1="355" x2="148" y2="315"/>
<line x1="84.6" y1="355" x2="56" y2="324"/>
<line x1="84.6" y1="355" x2="10.5" y2="343"/>
<line x1="84.6" y1="355" x2="44" y2="359.2"/>
<line x1="84.6" y1="355" x2="128" y2="358.4"/>
<line x1="84.6" y1="355" x2="158.8" y2="354.7"/>
<line x1="84.6" y1="355" x2="12.6" y2="376.4"/>
<line x1="84.6" y1="355" x2="62.8" y2="388.2"/>
<line x1="84.6" y1="355" x2="107.5" y2="387"/>
<line x1="84.6" y1="355" x2="148.2" y2="394.8"/>
<line x1="84.6" y1="355" x2="30" y2="406"/>
<line x1="84.6" y1="355" x2="145" y2="413"/>
<line x1="190.3" y1="441.3" x2="145" y2="413"/>
<line x1="84.6" y1="355" x2="114.5" y2="423"/>
<line x1="84.6" y1="355" x2="65.8" y2="426.7"/>
<line x1="84.6" y1="355" x2="188.5" y2="318.5"/>
<line x1="271.3" y1="347" x2="188.5" y2="318.5"/>
<line x1="84.6" y1="355" x2="188" y2="331"/>
<line x1="271.3" y1="347" x2="188" y2="331"/>
<line x1="84.6" y1="355" x2="204.7" y2="395.3"/>
<line x1="271.3" y1="347" x2="204.7" y2="395.3"/>
<line x1="190.3" y1="441.3" x2="204.7" y2="395.3"/>
<line x1="245.6" y1="432.2" x2="204.7" y2="395.3"/>
<line x1="271.3" y1="347" x2="265.5" y2="302.7"/>
<line x1="271.3" y1="347" x2="316" y2="348"/>
<line x1="271.3" y1="347" x2="228" y2="360"/>
<line x1="271.3" y1="347" x2="313.2" y2="376"/>
<line x1="271.3" y1="347" x2="257" y2="391"/>
<line x1="245.6" y1="432.2" x2="314.5" y2="416.5"/>
<line x1="446.3" y1="384.4" x2="314.5" y2="416.5"/>
<line x1="245.6" y1="432.2" x2="197" y2="484"/>
<line x1="110.2" y1="515.9" x2="197" y2="484"/>
<line x1="245.6" y1="432.2" x2="211" y2="493"/>
<line x1="110.2" y1="515.9" x2="211" y2="493"/>
<line x1="110.2" y1="515.9" x2="110.5" y2="451"/>
<line x1="110.2" y1="515.9" x2="63.5" y2="470.5"/>
<line x1="110.2" y1="515.9" x2="157" y2="469.8"/>
<line x1="110.2" y1="515.9" x2="121.9" y2="481"/>
<line x1="110.2" y1="515.9" x2="78.5" y2="500.5"/>
<line x1="110.2" y1="515.9" x2="44" y2="516"/>
<line x1="110.2" y1="515.9" x2="74.5" y2="527.5"/>
<line x1="110.2" y1="515.9" x2="95" y2="550.3"/>
<line x1="110.2" y1="515.9" x2="124.9" y2="550.3"/>
<line x1="110.2" y1="515.9" x2="63" y2="563.5"/>
<line x1="110.2" y1="515.9" x2="157" y2="563.5"/>
<line x1="110.2" y1="515.9" x2="110.5" y2="582.5"/>
<line x1="110.2" y1="515.9" x2="179" y2="500.5"/>
<line x1="110.2" y1="515.9" x2="183" y2="515"/>
<line x1="110.2" y1="515.9" x2="235.5" y2="533"/>
<line x1="231.4" y1="559.2" x2="235.5" y2="533"/>
<line x1="338.5" y1="524.9" x2="235.5" y2="533"/>
<line x1="110.2" y1="515.9" x2="188" y2="548"/>
<line x1="231.4" y1="559.2" x2="188" y2="548"/>
<line x1="231.4" y1="559.2" x2="214.5" y2="585"/>
<line x1="231.4" y1="559.2" x2="245" y2="587"/>
<line x1="338.5" y1="524.9" x2="333" y2="458"/>
<line x1="338.5" y1="524.9" x2="361" y2="461"/>
<line x1="338.5" y1="524.9" x2="306" y2="465"/>
<line x1="338.5" y1="524.9" x2="396" y2="466"/>
<line x1="446.3" y1="384.4" x2="396" y2="466"/>
<line x1="338.5" y1="524.9" x2="343.2" y2="486.2"/>
<line x1="338.5" y1="524.9" x2="393" y2="485.5"/>
<line x1="338.5" y1="524.9" x2="313.8" y2="494.5"/>
<line x1="338.5" y1="524.9" x2="401" y2="498"/>
<line x1="338.5" y1="524.9" x2="378.5" y2="518.5"/>
<line x1="338.5" y1="524.9" x2="406" y2="525.5"/>
<line x1="338.5" y1="524.9" x2="285.5" y2="483"/>
<line x1="338.5" y1="524.9" x2="276" y2="503"/>
<line x1="338.5" y1="524.9" x2="271" y2="536"/>
<line x1="338.5" y1="524.9" x2="299.5" y2="538.8"/>
<line x1="338.5" y1="524.9" x2="281.5" y2="562.5"/>
<line x1="338.5" y1="524.9" x2="300" y2="582.5"/>
<line x1="338.5" y1="524.9" x2="324.5" y2="561"/>
<line x1="338.5" y1="524.9" x2="330.5" y2="593.5"/>
<line x1="338.5" y1="524.9" x2="361" y2="590"/>
<line x1="338.5" y1="524.9" x2="359.6" y2="559.5"/>
<line x1="338.5" y1="524.9" x2="385" y2="574.9"/>
<line x1="338.5" y1="524.9" x2="401.3" y2="552.3"/>
<line x1="446.3" y1="384.4" x2="425.7" y2="298"/>
<line x1="446.3" y1="384.4" x2="441" y2="317.2"/>
<line x1="446.3" y1="384.4" x2="463.5" y2="319.5"/>
<line x1="446.3" y1="384.4" x2="501.5" y2="315.5"/>
<line x1="446.3" y1="384.4" x2="420" y2="322.5"/>
<line x1="446.3" y1="384.4" x2="483.5" y2="327.5"/>
<line x1="446.3" y1="384.4" x2="401" y2="334.5"/>
<line x1="446.3" y1="384.4" x2="500" y2="343.5"/>
<line x1="446.3" y1="384.4" x2="450" y2="345.5"/>
<line x1="446.3" y1="384.4" x2="365.4" y2="345.9"/>
<line x1="446.3" y1="384.4" x2="387.5" y2="351"/>
<line x1="446.3" y1="384.4" x2="412.6" y2="355.4"/>
<line x1="446.3" y1="384.4" x2="378" y2="372"/>
<line x1="446.3" y1="384.4" x2="509.5" y2="363"/>
<line x1="446.3" y1="384.4" x2="488" y2="377.5"/>
<line x1="446.3" y1="384.4" x2="404" y2="383"/>
<line x1="446.3" y1="384.4" x2="379" y2="394.5"/>
<line x1="446.3" y1="384.4" x2="502.5" y2="394"/>
<line x1="446.3" y1="384.4" x2="535" y2="385"/>
<line x1="446.3" y1="384.4" x2="381.5" y2="408"/>
<line x1="446.3" y1="384.4" x2="412.5" y2="412"/>
<line x1="446.3" y1="384.4" x2="509.9" y2="406.3"/>
<line x1="446.3" y1="384.4" x2="384.5" y2="421"/>
<line x1="446.3" y1="384.4" x2="457" y2="423"/>
<line x1="446.3" y1="384.4" x2="510" y2="419.5"/>
<line x1="589.2" y1="490.9" x2="510" y2="419.5"/>
<line x1="446.3" y1="384.4" x2="497.1" y2="428.2"/>
<line x1="446.3" y1="384.4" x2="399.8" y2="434.9"/>
<line x1="446.3" y1="384.4" x2="476.7" y2="445"/>
<line x1="446.3" y1="384.4" x2="427.5" y2="449"/>
<line x1="446.3" y1="384.4" x2="451.5" y2="452.8"/>
<line x1="446.3" y1="384.4" x2="501" y2="454.5"/>
<line x1="446.3" y1="384.4" x2="436.5" y2="471.5"/>
<line x1="589.2" y1="490.9" x2="579.5" y2="422.5"/>
<line x1="589.2" y1="490.9" x2="599" y2="422.5"/>
<line x1="589.2" y1="490.9" x2="559.5" y2="428.5"/>
<line x1="589.2" y1="490.9" x2="618" y2="428"/>
<line x1="589.2" y1="490.9" x2="543.5" y2="438.8"/>
<line x1="589.2" y1="490.9" x2="635.2" y2="438.2"/>
<line x1="589.2" y1="490.9" x2="590" y2="450"/>
<line x1="589.2" y1="490.9" x2="648.3" y2="452.9"/>
<line x1="589.2" y1="490.9" x2="530" y2="453.5"/>
<line x1="589.2" y1="490.9" x2="522" y2="471.5"/>
<line x1="589.2" y1="490.9" x2="550.3" y2="474.2"/>
<line x1="589.2" y1="490.9" x2="656.5" y2="471.3"/>
<line x1="589.2" y1="490.9" x2="518.5" y2="492"/>
<line x1="589.2" y1="490.9" x2="549" y2="497.8"/>
<line x1="589.2" y1="490.9" x2="631.5" y2="496.4"/>
<line x1="589.2" y1="490.9" x2="659.5" y2="492"/>
<line x1="589.2" y1="490.9" x2="521.5" y2="511.5"/>
<line x1="589.2" y1="490.9" x2="657" y2="511"/>
<line x1="589.2" y1="490.9" x2="530" y2="530"/>
<line x1="589.2" y1="490.9" x2="576.3" y2="531.7"/>
<line x1="589.2" y1="490.9" x2="601.9" y2="531.7"/>
<line x1="589.2" y1="490.9" x2="648.6" y2="529.7"/>
<line x1="589.2" y1="490.9" x2="543.5" y2="545.5"/>
<line x1="589.2" y1="490.9" x2="635.5" y2="545.5"/>
<line x1="589.2" y1="490.9" x2="560" y2="556"/>
<line x1="589.2" y1="490.9" x2="618.5" y2="556"/>
<line x1="589.2" y1="490.9" x2="579" y2="561.4"/>
<line x1="589.2" y1="490.9" x2="599.5" y2="561.5"/>
</g>
<circle cx="84.6" cy="355" r="11" fill="#bababa"/>
<circle cx="271.3" cy="347" r="11.4" fill="#bababa"/>
<circle cx="190.3" cy="441.3" r="11.1" fill="#bababa"/>
<circle cx="245.6" cy="432.2" r="11.3" fill="#bababa"/>
<circle cx="110.2" cy="515.9" r="11.1" fill="#bababa"/>
<circle cx="231.4" cy="559.2" r="11.2" fill="#bababa"/>
<circle cx="338.5" cy="524.9" r="11.1" fill="#bababa"/>
<circle cx="446.3" cy="384.4" r="11.1" fill="#bababa"/>
<circle cx="589.2" cy="490.9" r="11.4" fill="#bababa"/>
<circle cx="81" cy="281.3" r="2.6" fill="#d2ebef"/>
<circle cx="49" cy="290" r="2.6" fill="#d2ebef"/>
<circle cx="118" cy="287.6" r="4.5" fill="#c9e7ec"/>
<circle cx="24" cy="312" r="2.6" fill="#d2ebef"/>
<circle cx="92" cy="315.7" r="7" fill="#fae2d1"/>
<circle cx="148" cy="315" r="5.5" fill="#c9e7ec"/>
<circle cx="56" cy="324" r="2.6" fill="#d2ebef"/>
<circle cx="10.5" cy="343" r="3.5" fill="#c9e7ec"/>
<circle cx="44" cy="359.2" r="3.1" fill="#c9e7ec"/>
<circle cx="128" cy="358.4" r="7" fill="#c9e7ec"/>
<circle cx="158.8" cy="354.7" r="7" fill="#c9e7ec"/>
<circle cx="12.6" cy="376.4" r="8" fill="#c9e7ec"/>
<circle cx="62.8" cy="388.2" r="8" fill="#c9e7ec"/>
<circle cx="107.5" cy="387" r="2.6" fill="#d2ebef"/>
<circle cx="148.2" cy="394.8" r="3.6" fill="#fdf1e8"/>
<circle cx="30" cy="406" r="2.6" fill="#d2ebef"/>
<circle cx="145" cy="413" r="3.1" fill="#fdf1e8"/>
<circle cx="114.5" cy="423" r="3.6" fill="#fae2d1"/>
<circle cx="65.8" cy="426.7" r="8" fill="#c9e7ec"/>
<circle cx="188.5" cy="318.5" r="2.6" fill="#d2ebef"/>
<circle cx="188" cy="331" r="3.1" fill="#c9e7ec"/>
<circle cx="204.7" cy="395.3" r="5.5" fill="#fae2d1"/>
<circle cx="265.5" cy="302.7" r="14.3" fill="#fae2d1"/>
<circle cx="316" cy="348" r="3.1" fill="#c9e7ec"/>
<circle cx="228" cy="360" r="2.6" fill="#fdf1e8"/>
<circle cx="313.2" cy="376" r="4" fill="#fae2d1"/>
<circle cx="257" cy="391" r="2.6" fill="#d2ebef"/>
<circle cx="314.5" cy="416.5" r="2.6" fill="#c9e7ec"/>
<circle cx="197" cy="484" r="3.1" fill="#c9e7ec"/>
<circle cx="211" cy="493" r="2.6" fill="#d2ebef"/>
<circle cx="110.5" cy="451" r="2.6" fill="#d2ebef"/>
<circle cx="63.5" cy="470.5" r="2.6" fill="#fdf1e8"/>
<circle cx="157" cy="469.8" r="3.6" fill="#c9e7ec"/>
<circle cx="121.9" cy="481" r="5.5" fill="#fae2d1"/>
<circle cx="78.5" cy="500.5" r="3.6" fill="#c9e7ec"/>
<circle cx="44" cy="516" r="2.6" fill="#c9e7ec"/>
<circle cx="74.5" cy="527.5" r="3.1" fill="#c9e7ec"/>
<circle cx="95" cy="550.3" r="4" fill="#c9e7ec"/>
<circle cx="124.9" cy="550.3" r="4" fill="#fae2d1"/>
<circle cx="63" cy="563.5" r="2.6" fill="#fdf1e8"/>
<circle cx="157" cy="563.5" r="3.1" fill="#c9e7ec"/>
<circle cx="110.5" cy="582.5" r="3.6" fill="#fae2d1"/>
<circle cx="179" cy="500.5" r="4" fill="#c9e7ec"/>
<circle cx="183" cy="515" r="2.6" fill="#d2ebef"/>
<circle cx="235.5" cy="533" r="3.6" fill="#c9e7ec"/>
<circle cx="188" cy="548" r="2.6" fill="#d2ebef"/>
<circle cx="214.5" cy="585" r="3.6" fill="#fae2d1"/>
<circle cx="245" cy="587" r="3.1" fill="#fae2d1"/>
<circle cx="333" cy="458" r="2.6" fill="#d2ebef"/>
<circle cx="361" cy="461" r="2.6" fill="#d2ebef"/>
<circle cx="306" cy="465" r="3.6" fill="#c9e7ec"/>
<circle cx="396" cy="466" r="3.1" fill="#fae2d1"/>
<circle cx="343.2" cy="486.2" r="6" fill="#c9e7ec"/>
<circle cx="393" cy="485.5" r="2.6" fill="#d2ebef"/>
<circle cx="313.8" cy="494.5" r="5.5" fill="#fae2d1"/>
<circle cx="401" cy="498" r="3.6" fill="#c9e7ec"/>
<circle cx="378.5" cy="518.5" r="5" fill="#fae2d1"/>
<circle cx="406" cy="525.5" r="3.1" fill="#fae2d1"/>
<circle cx="285.5" cy="483" r="3.1" fill="#c9e7ec"/>
<circle cx="276" cy="503" r="3.6" fill="#c9e7ec"/>
<circle cx="271" cy="536" r="2.6" fill="#d2ebef"/>
<circle cx="299.5" cy="538.8" r="5" fill="#fae2d1"/>
<circle cx="281.5" cy="562.5" r="3.1" fill="#c9e7ec"/>
<circle cx="300" cy="582.5" r="3.6" fill="#c9e7ec"/>
<circle cx="324.5" cy="561" r="4.5" fill="#fae2d1"/>
<circle cx="330.5" cy="593.5" r="3.6" fill="#c9e7ec"/>
<circle cx="361" cy="590" r="2.6" fill="#fdf1e8"/>
<circle cx="359.6" cy="559.5" r="6" fill="#c9e7ec"/>
<circle cx="385" cy="574.9" r="4" fill="#c9e7ec"/>
<circle cx="401.3" cy="552.3" r="5" fill="#c9e7ec"/>
<circle cx="425.7" cy="298" r="4.5" fill="#c9e7ec"/>
<circle cx="441" cy="317.2" r="3.6" fill="#fae2d1"/>
<circle cx="463.5" cy="319.5" r="3.1" fill="#fae2d1"/>
<circle cx="501.5" cy="315.5" r="3.1" fill="#c9e7ec"/>
<circle cx="420" cy="322.5" r="2.6" fill="#d2ebef"/>
<circle cx="483.5" cy="327.5" r="3.5" fill="#c9e7ec"/>
<circle cx="401" cy="334.5" r="3.1" fill="#c9e7ec"/>
<circle cx="500" cy="343.5" r="3.1" fill="#fae2d1"/>
<circle cx="450" cy="345.5" r="3.6" fill="#c9e7ec"/>
<circle cx="365.4" cy="345.9" r="8" fill="#c9e7ec"/>
<circle cx="387.5" cy="351" r="3.1" fill="#fae2d1"/>
<circle cx="412.6" cy="355.4" r="5.5" fill="#c9e7ec"/>
<circle cx="378" cy="372" r="3.1" fill="#fae2d1"/>
<circle cx="509.5" cy="363" r="3.6" fill="#c9e7ec"/>
<circle cx="488" cy="377.5" r="2.6" fill="#d2ebef"/>
<circle cx="404" cy="383" r="2.6" fill="#d2ebef"/>
<circle cx="379" cy="394.5" r="3.1" fill="#fae2d1"/>
<circle cx="502.5" cy="394" r="3.6" fill="#fae2d1"/>
<circle cx="535" cy="385" r="3.5" fill="#fae2d1"/>
<circle cx="381.5" cy="408" r="3.1" fill="#c9e7ec"/>
<circle cx="412.5" cy="412" r="4" fill="#fae2d1"/>
<circle cx="509.9" cy="406.3" r="5" fill="#c9e7ec"/>
<circle cx="384.5" cy="421" r="3.6" fill="#c9e7ec"/>
<circle cx="457" cy="423" r="3.6" fill="#c9e7ec"/>
<circle cx="510" cy="419.5" r="2.6" fill="#d2ebef"/>
<circle cx="497.1" cy="428.2" r="5" fill="#f9cfae"/>
<circle cx="399.8" cy="434.9" r="7" fill="#c9e7ec"/>
<circle cx="476.7" cy="445" r="7" fill="#d2ebef"/>
<circle cx="427.5" cy="449" r="3.5" fill="#fae2d1"/>
<circle cx="451.5" cy="452.8" r="3.6" fill="#fae2d1"/>
<circle cx="501" cy="454.5" r="3.6" fill="#fae2d1"/>
<circle cx="436.5" cy="471.5" r="3.5" fill="#74c4d0"/>
<circle cx="579.5" cy="422.5" r="3.1" fill="#c9e7ec"/>
<circle cx="599" cy="422.5" r="2.6" fill="#d2ebef"/>
<circle cx="559.5" cy="428.5" r="2.6" fill="#d2ebef"/>
<circle cx="618" cy="428" r="3.1" fill="#c9e7ec"/>
<circle cx="543.5" cy="438.8" r="3.6" fill="#c9e7ec"/>
<circle cx="635.2" cy="438.2" r="4" fill="#fae2d1"/>
<circle cx="590" cy="450" r="3.6" fill="#c9e7ec"/>
<circle cx="648.3" cy="452.9" r="8" fill="#fae2d1"/>
<circle cx="530" cy="453.5" r="4" fill="#c9e7ec"/>
<circle cx="522" cy="471.5" r="3.6" fill="#c9e7ec"/>
<circle cx="550.3" cy="474.2" r="8" fill="#fdf1e8"/>
<circle cx="656.5" cy="471.3" r="5" fill="#fae2d1"/>
<circle cx="518.5" cy="492" r="3.6" fill="#c9e7ec"/>
<circle cx="549" cy="497.8" r="3.5" fill="#8fd0db"/>
<circle cx="631.5" cy="496.4" r="12" fill="#fae2d1"/>
<circle cx="659.5" cy="492" r="2.6" fill="#d2ebef"/>
<circle cx="521.5" cy="511.5" r="3.1" fill="#fdf1e8"/>
<circle cx="657" cy="511" r="3.5" fill="#fae2d1"/>
<circle cx="530" cy="530" r="3.5" fill="#c9e7ec"/>
<circle cx="576.3" cy="531.7" r="6" fill="#8fd0db"/>
<circle cx="601.9" cy="531.7" r="6" fill="#c9e7ec"/>
<circle cx="648.6" cy="529.7" r="4.5" fill="#c9e7ec"/>
<circle cx="543.5" cy="545.5" r="3.6" fill="#c9e7ec"/>
<circle cx="635.5" cy="545.5" r="3.1" fill="#c9e7ec"/>
<circle cx="560" cy="556" r="3.1" fill="#d2ebef"/>
<circle cx="618.5" cy="556" r="3.5" fill="#c9e7ec"/>
<circle cx="579" cy="561.4" r="3.6" fill="#3fa9b8"/>
<circle cx="599.5" cy="561.5" r="3.1" fill="#fae2d1"/>
<g font-size="6.6" font-weight="bold" text-anchor="middle">
<text x="83.6" y="282.4">ADCY9</text>
<text x="51.5" y="291.7">AMPD3</text>
<text x="120.0" y="290.0">PDE4B</text>
<text x="27.0" y="313.9">GUCY1A2</text>
<text x="94.2" y="318.1">PDE1C</text>
<text x="150.7" y="317.6">PDE1A</text>
<text x="58.5" y="325.7">PDE2A</text>
<text x="13.8" y="345.3">PDE8A</text>
<text x="46.0" y="361.6">ADCY5</text>
<text x="130.6" y="361.4">PDE10A</text>
<text x="160.8" y="357.1">PDE8B</text>
<text x="16.3" y="378.8">ADCY2</text>
<text x="65.8" y="390.6">PDE7B</text>
<text x="109.8" y="389.1">PDE1B</text>
<text x="150.0" y="396.4">FHIT</text>
<text x="32.7" y="408.2">ADCY8</text>
<text x="147.0" y="414.8">UPP2</text>
<text x="116.3" y="425.4">PDE4D</text>
<text x="67.8" y="429.1">PDE4A</text>
<text x="190.3" y="320.1">NT5C2</text>
<text x="189.6" y="332.7">AK5</text>
<text x="206.4" y="397.7">DPYD</text>
<text x="265.5" y="305.1">TPK1</text>
<text x="318.5" y="349.8">QDPR</text>
<text x="230.3" y="362.4">SIRT2</text>
<text x="315.2" y="378.4">THTPA</text>
<text x="260.0" y="392.1">NMNAT2</text>
<text x="316.5" y="418.4">PCYT2</text>
<text x="199.0" y="485.8">CDO1</text>
<text x="213.6" y="494.9">SMOX</text>
<text x="113.0" y="452.0">PRODH</text>
<text x="65.8" y="471.6">KMT2E</text>
<text x="159.5" y="471.6">SMYD3</text>
<text x="124.9" y="483.4">FOLH1</text>
<text x="80.9" y="502.3">P4HA1</text>
<text x="46.0" y="518.1">SAT1</text>
<text x="77.1" y="529.1">MAT2A</text>
<text x="97.2" y="552.2">ASPA</text>
<text x="126.9" y="551.9">GATM</text>
<text x="65.3" y="565.0">AMD1</text>
<text x="158.8" y="565.0">NOS1</text>
<text x="112.3" y="584.1">SETD7</text>
<text x="181.0" y="502.9">CKB</text>
<text x="185.7" y="516.8">AHCYL1</text>
<text x="238.0" y="534.7">GLUL</text>
<text x="190.5" y="549.5">GLUD1</text>
<text x="216.7" y="586.4">COX7B</text>
<text x="248.6" y="588.4">ATP6V0A1</text>
<text x="335.2" y="459.5">MTMR1</text>
<text x="363.6" y="462.5">PIK3CB</text>
<text x="309.5" y="467.0">ALDOC</text>
<text x="398.7" y="467.8">ACACA</text>
<text x="345.2" y="488.6">PLCB1</text>
<text x="395.5" y="486.9">SYNJ2</text>
<text x="315.6" y="496.9">GMDS</text>
<text x="403.5" y="499.9">INPP5F</text>
<text x="380.4" y="520.3">ACYP2</text>
<text x="408.5" y="527.3">UGP2</text>
<text x="288.2" y="484.8">PIP4K2A</text>
<text x="278.2" y="504.7">MTMR2</text>
<text x="273.7" y="537.9">PLCB4</text>
<text x="301.5" y="540.9">GPI1</text>
<text x="284.4" y="564.2">PIP5K1B</text>
<text x="302.6" y="583.9">UGDH</text>
<text x="326.5" y="563.0">ITPK1</text>
<text x="333.0" y="595.0">PIK3C2B</text>
<text x="362.9" y="591.8">PCCA</text>
<text x="361.6" y="561.9">ITPKA</text>
<text x="387.0" y="577.3">ACLY</text>
<text x="403.6" y="554.7">INPP4B</text>
<text x="428.9" y="300.0">LPGAT1</text>
<text x="444.0" y="318.9">CYP27A1</text>
<text x="465.9" y="320.9">ACOT7</text>
<text x="504.8" y="317.1">LPCAT2</text>
<text x="422.4" y="323.9">PNPLA7</text>
<text x="486.0" y="329.9">PLPP4</text>
<text x="403.0" y="335.9">ACSL3</text>
<text x="502.8" y="345.2">AGPAT4</text>
<text x="452.5" y="347.0">PLA2G3</text>
<text x="367.4" y="348.3">DGKG</text>
<text x="389.5" y="352.8">CYP7B1</text>
<text x="415.1" y="357.8">DGKB</text>
<text x="380.9" y="373.9">PSAP</text>
<text x="512.8" y="364.7">FADS1</text>
<text x="491.0" y="379.2">PAFAH1B1</text>
<text x="406.8" y="384.5">SGMS1</text>
<text x="382.2" y="396.3">PLA2G4A</text>
<text x="504.8" y="396.0">DGKI</text>
<text x="537.5" y="386.8">ENPP2</text>
<text x="384.2" y="409.9">PTGDS</text>
<text x="414.6" y="413.9">AGK</text>
<text x="512.0" y="408.8">PISD</text>
<text x="386.7" y="422.7">CERK</text>
<text x="459.0" y="424.7">PLPP3</text>
<text x="512.0" y="421.3">NEU4</text>
<text x="500.6" y="430.4">ENPP6</text>
<text x="402.3" y="437.3">DGKZ</text>
<text x="479.2" y="447.4">MGLL</text>
<text x="430.1" y="450.8">MBOAT2</text>
<text x="453.8" y="454.5">ELOVL7</text>
<text x="503.5" y="456.6">GPD2</text>
<text x="437.7" y="473.3">ETNPPL</text>
<text x="583.0" y="423.8">B3GALT5</text>
<text x="601.6" y="424.1">UST</text>
<text x="562.0" y="430.1">PIGN</text>
<text x="621.5" y="429.8">ST8SIA1</text>
<text x="546.9" y="440.6">GALNT14</text>
<text x="638.0" y="440.6">PIGK</text>
<text x="593.0" y="451.7">GALNT18</text>
<text x="652.3" y="455.7">GALNT13</text>
<text x="533.6" y="455.7">MGAT5B</text>
<text x="525.6" y="473.7">B3GALT5</text>
<text x="554.9" y="476.0">MGAT4C</text>
<text x="662.2" y="473.7">ST6GALNAC5</text>
<text x="522.7" y="493.9">ST3GAL3</text>
<text x="551.8" y="500.2">CHST9</text>
<text x="633.2" y="498.8">OGT</text>
<text x="662.8" y="493.9">GALNT7</text>
<text x="525.6" y="513.3">ST3GAL4</text>
<text x="659.4" y="513.3">ARSB</text>
<text x="532.7" y="532.1">NDST4</text>
<text x="579.1" y="534.1">XYLT1</text>
<text x="605.9" y="534.1">GALNT16</text>
<text x="653.7" y="532.1">ST6GALNAC3</text>
<text x="546.9" y="547.2">ST6GAL1</text>
<text x="638.0" y="547.2">GPLD1</text>
<text x="563.3" y="557.9">MAN1C1</text>
<text x="621.7" y="557.9">GALNT3</text>
<text x="580.7" y="563.4">CHST1</text>
<text x="601.4" y="563.4">EXT1</text>
</g>
<g font-size="10" font-weight="bold" text-anchor="middle">
<text x="89.6" y="351.9">Nucleotide</text>
<text x="88.7" y="361.8">metabolism</text>
<text x="276.4" y="334.4">Metabolism</text>
<text x="275.4" y="343.9">of cofactors</text>
<text x="269.5" y="353.9">and</text>
<text x="273.0" y="363.9">vitamins</text>
<text x="191.1" y="430.8">Xenobiotics</text>
<text x="187.5" y="440.5">biodegradation</text>
<text x="188.5" y="450.4">and</text>
<text x="193.0" y="460.3">metabolism</text>
<text x="256.5" y="424.8">Metabolism</text>
<text x="253.0" y="434.8">of other</text>
<text x="255.3" y="444.7">amino acids</text>
<text x="115.6" y="512.5">Amino acid</text>
<text x="114.2" y="522.4">metabolism</text>
<text x="233.7" y="556.4">Energy</text>
<text x="235.2" y="566.3">metabolism</text>
<text x="343.2" y="526.6">Carbohydrate</text>
<text x="342.3" y="536.5">metabolism</text>
<text x="447.3" y="380.7">Lipid</text>
<text x="449.7" y="390.5">metabolism</text>
<text x="591.6" y="478.0">Glycan</text>
<text x="594.6" y="487.9">biosynthesis</text>
<text x="587.5" y="497.6">and</text>
<text x="593.4" y="507.5">metabolism</text>
</g>
<path d="M71.5,661.8C75.0,660.4 80.7,659.3 86.0,658.5C91.3,657.7 98.9,656.5 103.1,656.8C107.3,657.1 109.2,658.1 111.0,660.5C112.8,662.9 114.1,666.8 114.2,671.0C114.3,675.2 113.7,680.5 111.6,685.5C109.5,690.5 105.4,696.9 101.8,701.2C98.2,705.5 93.9,708.8 89.9,711.1C86.0,713.4 81.8,714.9 78.1,715.0C74.4,715.1 70.7,713.9 67.6,711.8C64.5,709.7 61.5,705.9 59.7,702.6C58.0,699.3 57.1,696.4 57.1,692.0C57.1,687.6 58.4,680.4 59.7,676.3C61.0,672.1 63.0,669.5 65.0,667.1C67.0,664.7 68.0,663.2 71.5,661.8Z" fill="none" stroke="#111" stroke-width="1.1"/>
<path d="M60.0,713.5C63.3,713.5 67.2,714.4 70.0,716.5C72.8,718.6 75.5,722.4 77.0,726.0C78.5,729.6 79.2,734.0 79.3,738.0C79.4,742.0 78.9,746.5 77.5,750.0C76.1,753.5 73.6,757.0 71.0,759.0C68.4,761.0 65.2,761.7 62.0,761.7C58.8,761.7 54.9,761.0 52.0,759.0C49.1,757.0 46.3,753.5 44.5,750.0C42.7,746.5 41.5,742.2 41.2,738.0C41.0,733.8 41.5,728.6 43.0,725.0C44.5,721.4 47.2,718.4 50.0,716.5C52.8,714.6 56.7,713.5 60.0,713.5Z" fill="none" stroke="#111" stroke-width="1.1"/>
<path d="M116.8,755.7C117.8,753.2 119.1,750.2 123.1,750.2C127.1,750.2 135.2,753.4 140.7,755.7C146.2,758.0 151.4,761.1 156.0,764.0C160.6,766.9 165.7,770.5 168.3,773.3C170.9,776.1 172.0,778.4 171.6,780.8C171.2,783.2 169.1,786.9 165.8,787.9C162.5,788.9 156.2,787.3 152.0,786.5C147.8,785.7 144.7,784.6 140.7,783.3C136.7,782.0 131.3,780.0 128.0,778.5C124.7,777.0 122.4,776.8 120.6,774.5C118.8,772.2 117.5,768.1 116.9,765.0C116.3,761.9 115.8,758.2 116.8,755.7Z" fill="none" stroke="#111" stroke-width="1.1"/>
<path d="M203.8,633.0C204.9,630.6 206.0,628.4 207.7,626.5C209.3,624.6 211.6,623.1 213.7,621.9C215.8,620.7 217.8,619.8 220.2,619.2C222.6,618.6 225.5,618.3 228.1,618.2C230.7,618.1 233.2,618.2 236.0,618.6C238.8,619.0 242.3,619.6 245.2,620.5C248.0,621.4 250.8,622.4 253.1,623.8C255.4,625.2 257.5,627.1 259.0,629.1C260.5,631.1 261.5,633.1 262.3,635.7C263.1,638.3 263.6,641.5 263.6,644.8C263.6,648.1 263.1,651.2 262.5,655.4C261.9,659.6 260.9,664.4 260.3,669.8C259.7,675.2 258.8,682.0 258.8,688.0C258.8,694.0 259.6,699.7 260.5,705.5C261.4,711.3 263.0,717.1 264.5,723.0C266.0,728.9 268.4,734.8 269.3,740.7C270.2,746.6 271.1,752.4 270.0,758.2C268.9,764.1 266.2,771.8 263.0,775.8C259.8,779.8 254.7,781.5 250.5,782.1C246.3,782.7 241.7,781.3 237.9,779.6C234.1,777.9 232.4,776.8 227.8,772.0C223.2,767.2 216.0,758.4 210.3,750.7C204.7,743.0 197.7,733.1 193.9,725.6C190.1,718.1 188.4,712.2 187.6,705.5C186.8,698.8 188.1,691.3 188.9,685.4C189.7,679.5 191.2,675.0 192.5,670.0C193.8,665.0 195.2,660.2 196.6,655.4C198.0,650.5 200.0,644.6 201.2,640.9C202.4,637.2 202.7,635.4 203.8,633.0Z" fill="none" stroke="#111" stroke-width="1.1"/>
<path d="M178.8,718.0C180.7,717.0 182.6,717.6 185.1,719.3C187.6,721.0 191.2,724.6 193.9,728.1C196.6,731.6 198.8,735.8 201.5,740.0C204.2,744.2 207.4,749.4 210.3,753.2C213.2,757.0 216.1,759.9 219.0,763.0C221.9,766.1 225.7,769.0 227.8,772.0C229.9,775.0 231.8,778.2 231.6,780.9C231.4,783.5 229.7,786.6 226.6,787.9C223.5,789.1 218.0,789.6 212.8,788.4C207.6,787.2 200.2,784.7 195.2,780.9C190.2,777.1 185.9,772.1 182.6,765.8C179.2,759.5 176.6,749.9 175.1,743.2C173.6,736.5 173.2,729.8 173.8,725.6C174.4,721.4 176.9,719.0 178.8,718.0Z" fill="none" stroke="#111" stroke-width="1.1"/>
<path d="M69.0,678.7h0.62v0.62h-0.62zM69.9,698.7h0.62v0.62h-0.62zM70.7,710.2h0.62v0.62h-0.62zM155.1,776.1h0.62v0.62h-0.62zM132.4,765.0h0.62v0.62h-0.62zM157.4,777.2h0.62v0.62h-0.62zM129.8,762.2h0.62v0.62h-0.62zM128.9,762.4h0.62v0.62h-0.62zM135.6,766.6h0.62v0.62h-0.62zM156.3,776.7h0.62v0.62h-0.62zM122.5,756.7h0.62v0.62h-0.62zM137.1,767.5h0.62v0.62h-0.62zM138.3,768.2h0.62v0.62h-0.62zM157.2,776.9h0.62v0.62h-0.62zM153.9,775.4h0.62v0.62h-0.62zM159.2,777.2h0.62v0.62h-0.62zM148.9,773.4h0.62v0.62h-0.62zM135.5,766.5h0.62v0.62h-0.62zM153.9,775.8h0.62v0.62h-0.62zM157.7,777.0h0.62v0.62h-0.62zM138.6,768.0h0.62v0.62h-0.62zM160.1,778.1h0.62v0.62h-0.62zM127.0,760.6h0.62v0.62h-0.62zM139.2,768.6h0.62v0.62h-0.62zM139.1,768.8h0.62v0.62h-0.62zM157.1,776.3h0.62v0.62h-0.62zM139.3,768.3h0.62v0.62h-0.62zM135.1,766.1h0.62v0.62h-0.62zM141.9,769.9h0.62v0.62h-0.62zM127.8,762.2h0.62v0.62h-0.62zM158.1,776.8h0.62v0.62h-0.62zM136.4,766.8h0.62v0.62h-0.62zM130.3,763.2h0.62v0.62h-0.62zM157.7,777.1h0.62v0.62h-0.62zM147.1,772.5h0.62v0.62h-0.62zM138.7,768.2h0.62v0.62h-0.62zM150.5,774.2h0.62v0.62h-0.62zM146.0,772.4h0.62v0.62h-0.62zM130.1,762.5h0.62v0.62h-0.62zM150.3,773.9h0.62v0.62h-0.62zM125.5,759.8h0.62v0.62h-0.62zM147.4,773.0h0.62v0.62h-0.62zM125.5,759.4h0.62v0.62h-0.62zM139.5,769.0h0.62v0.62h-0.62zM149.9,774.0h0.62v0.62h-0.62zM155.7,776.0h0.62v0.62h-0.62zM236.9,757.1h0.62v0.62h-0.62zM213.3,721.7h0.62v0.62h-0.62zM220.9,736.0h0.62v0.62h-0.62zM214.1,725.1h0.62v0.62h-0.62zM246.2,764.1h0.62v0.62h-0.62zM216.8,730.6h0.62v0.62h-0.62zM213.1,719.3h0.62v0.62h-0.62zM238.3,765.4h0.62v0.62h-0.62zM226.8,744.4h0.62v0.62h-0.62zM213.9,732.4h0.62v0.62h-0.62zM209.6,721.6h0.62v0.62h-0.62zM241.0,765.0h0.62v0.62h-0.62zM235.8,757.5h0.62v0.62h-0.62zM240.0,757.6h0.62v0.62h-0.62zM229.5,753.2h0.62v0.62h-0.62zM214.1,735.3h0.62v0.62h-0.62zM231.7,761.4h0.62v0.62h-0.62zM210.1,722.0h0.62v0.62h-0.62zM201.9,711.7h0.62v0.62h-0.62zM221.8,734.0h0.62v0.62h-0.62zM248.5,765.9h0.62v0.62h-0.62zM222.3,736.2h0.62v0.62h-0.62zM244.7,774.4h0.62v0.62h-0.62zM236.0,764.2h0.62v0.62h-0.62zM229.1,741.1h0.62v0.62h-0.62zM219.1,729.7h0.62v0.62h-0.62zM232.8,757.8h0.62v0.62h-0.62zM208.7,725.1h0.62v0.62h-0.62zM238.7,756.7h0.62v0.62h-0.62zM223.7,741.4h0.62v0.62h-0.62zM232.1,752.2h0.62v0.62h-0.62zM236.1,749.2h0.62v0.62h-0.62zM244.0,765.2h0.62v0.62h-0.62zM229.7,745.3h0.62v0.62h-0.62zM210.1,723.3h0.62v0.62h-0.62zM211.6,724.6h0.62v0.62h-0.62zM194.4,708.4h0.62v0.62h-0.62zM217.7,728.0h0.62v0.62h-0.62zM246.3,774.4h0.62v0.62h-0.62zM219.7,729.8h0.62v0.62h-0.62zM220.5,736.2h0.62v0.62h-0.62zM221.4,732.9h0.62v0.62h-0.62zM240.8,766.5h0.62v0.62h-0.62zM245.7,765.5h0.62v0.62h-0.62zM241.4,774.9h0.62v0.62h-0.62zM232.3,756.2h0.62v0.62h-0.62zM205.2,718.6h0.62v0.62h-0.62zM202.3,710.8h0.62v0.62h-0.62zM213.7,720.7h0.62v0.62h-0.62zM213.4,731.8h0.62v0.62h-0.62zM244.7,777.9h0.62v0.62h-0.62zM241.1,771.0h0.62v0.62h-0.62zM208.6,717.7h0.62v0.62h-0.62zM196.8,710.8h0.62v0.62h-0.62zM220.5,734.1h0.62v0.62h-0.62zM223.1,737.7h0.62v0.62h-0.62zM230.0,739.9h0.62v0.62h-0.62zM228.6,760.3h0.62v0.62h-0.62zM206.1,722.9h0.62v0.62h-0.62zM219.8,740.4h0.62v0.62h-0.62zM240.0,771.7h0.62v0.62h-0.62zM238.4,763.8h0.62v0.62h-0.62zM240.7,762.3h0.62v0.62h-0.62zM238.7,756.4h0.62v0.62h-0.62zM244.4,762.8h0.62v0.62h-0.62zM246.3,767.3h0.62v0.62h-0.62zM237.1,754.9h0.62v0.62h-0.62zM199.6,712.0h0.62v0.62h-0.62zM212.9,725.2h0.62v0.62h-0.62zM230.2,747.5h0.62v0.62h-0.62zM216.8,725.7h0.62v0.62h-0.62zM223.0,738.0h0.62v0.62h-0.62zM227.2,730.9h0.62v0.62h-0.62zM188.7,707.5h0.62v0.62h-0.62zM233.3,753.3h0.62v0.62h-0.62zM230.1,747.6h0.62v0.62h-0.62zM214.5,727.1h0.62v0.62h-0.62zM211.2,724.5h0.62v0.62h-0.62zM220.2,740.4h0.62v0.62h-0.62zM202.3,711.3h0.62v0.62h-0.62zM239.1,764.7h0.62v0.62h-0.62zM248.8,776.9h0.62v0.62h-0.62zM234.5,756.9h0.62v0.62h-0.62zM204.4,717.5h0.62v0.62h-0.62zM231.6,751.6h0.62v0.62h-0.62zM245.9,760.1h0.62v0.62h-0.62zM221.1,745.7h0.62v0.62h-0.62zM223.4,735.2h0.62v0.62h-0.62zM194.1,709.9h0.62v0.62h-0.62zM236.2,758.7h0.62v0.62h-0.62zM210.2,713.4h0.62v0.62h-0.62zM238.2,767.9h0.62v0.62h-0.62zM222.5,750.1h0.62v0.62h-0.62zM215.6,726.6h0.62v0.62h-0.62zM212.8,724.2h0.62v0.62h-0.62zM204.6,721.0h0.62v0.62h-0.62zM209.2,720.9h0.62v0.62h-0.62zM219.8,744.8h0.62v0.62h-0.62zM240.5,764.3h0.62v0.62h-0.62zM216.2,731.8h0.62v0.62h-0.62zM211.9,725.0h0.62v0.62h-0.62zM230.7,736.8h0.62v0.62h-0.62zM241.6,778.7h0.62v0.62h-0.62zM236.1,750.3h0.62v0.62h-0.62zM202.9,711.7h0.62v0.62h-0.62zM225.5,736.2h0.62v0.62h-0.62zM232.6,754.8h0.62v0.62h-0.62zM205.6,723.1h0.62v0.62h-0.62zM195.4,710.2h0.62v0.62h-0.62zM223.5,749.5h0.62v0.62h-0.62zM235.8,761.4h0.62v0.62h-0.62zM227.3,732.5h0.62v0.62h-0.62zM203.3,715.8h0.62v0.62h-0.62zM228.5,732.0h0.62v0.62h-0.62zM194.4,709.2h0.62v0.62h-0.62zM245.4,776.5h0.62v0.62h-0.62zM218.5,737.8h0.62v0.62h-0.62zM241.8,776.3h0.62v0.62h-0.62zM244.4,760.2h0.62v0.62h-0.62zM210.8,726.4h0.62v0.62h-0.62zM219.9,737.8h0.62v0.62h-0.62zM212.5,724.6h0.62v0.62h-0.62zM245.2,760.4h0.62v0.62h-0.62zM200.8,712.5h0.62v0.62h-0.62zM229.8,738.6h0.62v0.62h-0.62zM238.1,768.4h0.62v0.62h-0.62zM236.1,753.0h0.62v0.62h-0.62zM219.2,725.0h0.62v0.62h-0.62zM233.6,754.7h0.62v0.62h-0.62zM246.6,766.3h0.62v0.62h-0.62zM244.5,761.1h0.62v0.62h-0.62zM240.4,757.2h0.62v0.62h-0.62zM241.5,768.4h0.62v0.62h-0.62zM219.2,739.0h0.62v0.62h-0.62zM218.8,729.4h0.62v0.62h-0.62zM245.0,763.3h0.62v0.62h-0.62zM208.8,729.6h0.62v0.62h-0.62zM215.4,721.2h0.62v0.62h-0.62zM198.5,710.0h0.62v0.62h-0.62zM193.8,709.9h0.62v0.62h-0.62zM210.4,727.4h0.62v0.62h-0.62zM244.5,768.4h0.62v0.62h-0.62zM230.5,739.5h0.62v0.62h-0.62zM239.7,760.5h0.62v0.62h-0.62zM212.4,724.6h0.62v0.62h-0.62zM234.7,772.0h0.62v0.62h-0.62zM224.9,753.5h0.62v0.62h-0.62zM236.3,762.2h0.62v0.62h-0.62zM224.1,730.1h0.62v0.62h-0.62zM200.8,714.5h0.62v0.62h-0.62zM232.3,742.0h0.62v0.62h-0.62zM246.7,769.6h0.62v0.62h-0.62zM200.9,715.1h0.62v0.62h-0.62zM213.5,721.8h0.62v0.62h-0.62zM197.7,712.6h0.62v0.62h-0.62zM194.8,709.2h0.62v0.62h-0.62zM226.2,741.3h0.62v0.62h-0.62zM229.6,741.8h0.62v0.62h-0.62zM246.4,776.6h0.62v0.62h-0.62zM212.1,726.2h0.62v0.62h-0.62zM194.6,706.2h0.62v0.62h-0.62zM215.3,740.9h0.62v0.62h-0.62zM211.8,722.4h0.62v0.62h-0.62zM241.6,764.0h0.62v0.62h-0.62zM210.4,727.7h0.62v0.62h-0.62zM226.2,740.2h0.62v0.62h-0.62zM244.2,772.5h0.62v0.62h-0.62zM228.8,734.5h0.62v0.62h-0.62zM232.9,753.0h0.62v0.62h-0.62zM232.7,751.6h0.62v0.62h-0.62zM247.6,772.7h0.62v0.62h-0.62zM233.5,740.1h0.62v0.62h-0.62zM247.2,775.5h0.62v0.62h-0.62zM235.2,750.6h0.62v0.62h-0.62zM204.4,713.0h0.62v0.62h-0.62zM194.1,708.2h0.62v0.62h-0.62zM241.6,760.9h0.62v0.62h-0.62zM227.4,749.0h0.62v0.62h-0.62zM215.8,738.9h0.62v0.62h-0.62zM200.0,712.5h0.62v0.62h-0.62zM211.4,728.4h0.62v0.62h-0.62zM217.3,730.5h0.62v0.62h-0.62zM207.0,718.0h0.62v0.62h-0.62zM244.2,767.0h0.62v0.62h-0.62zM215.2,727.4h0.62v0.62h-0.62zM229.9,739.5h0.62v0.62h-0.62zM238.1,771.2h0.62v0.62h-0.62zM211.5,721.9h0.62v0.62h-0.62zM238.2,766.5h0.62v0.62h-0.62zM236.6,755.4h0.62v0.62h-0.62zM221.3,723.1h0.62v0.62h-0.62zM212.7,723.9h0.62v0.62h-0.62zM219.2,742.0h0.62v0.62h-0.62zM238.7,755.3h0.62v0.62h-0.62zM190.3,709.0h0.62v0.62h-0.62zM236.9,773.2h0.62v0.62h-0.62zM249.1,772.5h0.62v0.62h-0.62zM218.7,732.7h0.62v0.62h-0.62zM191.4,712.1h0.62v0.62h-0.62zM248.3,760.4h0.62v0.62h-0.62zM240.4,774.8h0.62v0.62h-0.62zM207.1,715.8h0.62v0.62h-0.62zM238.0,765.4h0.62v0.62h-0.62zM219.8,730.1h0.62v0.62h-0.62zM232.1,762.7h0.62v0.62h-0.62zM245.0,763.5h0.62v0.62h-0.62zM243.4,773.0h0.62v0.62h-0.62zM211.1,719.8h0.62v0.62h-0.62zM222.1,742.4h0.62v0.62h-0.62zM237.0,765.9h0.62v0.62h-0.62zM229.6,755.4h0.62v0.62h-0.62zM245.0,765.3h0.62v0.62h-0.62zM240.3,755.5h0.62v0.62h-0.62zM220.5,745.2h0.62v0.62h-0.62zM235.3,771.6h0.62v0.62h-0.62zM208.3,718.5h0.62v0.62h-0.62zM204.5,716.4h0.62v0.62h-0.62zM216.6,724.7h0.62v0.62h-0.62zM239.0,764.0h0.62v0.62h-0.62zM224.9,746.3h0.62v0.62h-0.62zM200.8,715.2h0.62v0.62h-0.62zM193.4,709.3h0.62v0.62h-0.62zM217.0,730.6h0.62v0.62h-0.62zM201.5,715.3h0.62v0.62h-0.62zM244.6,762.9h0.62v0.62h-0.62zM223.9,737.3h0.62v0.62h-0.62zM214.0,733.4h0.62v0.62h-0.62zM245.1,777.5h0.62v0.62h-0.62zM237.1,766.2h0.62v0.62h-0.62zM233.3,750.8h0.62v0.62h-0.62zM233.3,762.3h0.62v0.62h-0.62zM229.6,740.7h0.62v0.62h-0.62zM230.0,731.8h0.62v0.62h-0.62zM228.8,748.4h0.62v0.62h-0.62zM232.8,756.0h0.62v0.62h-0.62zM211.0,730.1h0.62v0.62h-0.62zM245.0,759.6h0.62v0.62h-0.62zM208.3,719.6h0.62v0.62h-0.62zM217.7,735.9h0.62v0.62h-0.62zM230.1,756.8h0.62v0.62h-0.62zM213.3,719.4h0.62v0.62h-0.62zM224.0,749.8h0.62v0.62h-0.62zM220.7,746.5h0.62v0.62h-0.62zM190.6,710.1h0.62v0.62h-0.62zM231.9,742.1h0.62v0.62h-0.62zM223.2,744.1h0.62v0.62h-0.62zM220.8,743.8h0.62v0.62h-0.62zM238.8,769.6h0.62v0.62h-0.62zM199.1,716.1h0.62v0.62h-0.62zM221.3,740.8h0.62v0.62h-0.62zM211.4,716.8h0.62v0.62h-0.62zM239.8,779.0h0.62v0.62h-0.62zM242.8,749.1h0.62v0.62h-0.62zM232.1,750.1h0.62v0.62h-0.62zM241.3,760.6h0.62v0.62h-0.62zM207.1,716.1h0.62v0.62h-0.62zM220.0,737.8h0.62v0.62h-0.62zM225.8,740.3h0.62v0.62h-0.62zM210.9,726.6h0.62v0.62h-0.62zM203.7,715.1h0.62v0.62h-0.62zM244.4,776.4h0.62v0.62h-0.62zM238.6,762.3h0.62v0.62h-0.62zM201.3,714.1h0.62v0.62h-0.62zM201.7,714.9h0.62v0.62h-0.62zM245.1,773.6h0.62v0.62h-0.62zM209.0,721.2h0.62v0.62h-0.62zM218.8,731.4h0.62v0.62h-0.62zM222.9,731.0h0.62v0.62h-0.62zM228.5,751.4h0.62v0.62h-0.62zM206.8,727.7h0.62v0.62h-0.62zM228.0,749.1h0.62v0.62h-0.62zM194.7,714.7h0.62v0.62h-0.62zM191.5,708.5h0.62v0.62h-0.62zM240.8,775.2h0.62v0.62h-0.62zM200.3,714.0h0.62v0.62h-0.62zM204.8,717.1h0.62v0.62h-0.62zM196.4,712.1h0.62v0.62h-0.62zM240.2,763.0h0.62v0.62h-0.62zM236.4,746.9h0.62v0.62h-0.62zM240.5,774.2h0.62v0.62h-0.62zM218.5,731.7h0.62v0.62h-0.62zM234.8,745.6h0.62v0.62h-0.62zM194.0,711.0h0.62v0.62h-0.62zM208.2,728.8h0.62v0.62h-0.62zM224.3,739.8h0.62v0.62h-0.62zM246.2,778.0h0.62v0.62h-0.62zM231.2,743.9h0.62v0.62h-0.62zM213.5,730.4h0.62v0.62h-0.62zM249.0,770.6h0.62v0.62h-0.62zM241.0,759.6h0.62v0.62h-0.62zM226.4,736.1h0.62v0.62h-0.62zM233.2,751.2h0.62v0.62h-0.62zM199.8,715.4h0.62v0.62h-0.62zM224.7,737.2h0.62v0.62h-0.62zM206.9,714.3h0.62v0.62h-0.62zM208.1,718.0h0.62v0.62h-0.62zM246.8,765.3h0.62v0.62h-0.62zM233.1,754.0h0.62v0.62h-0.62zM241.4,771.9h0.62v0.62h-0.62zM221.1,745.0h0.62v0.62h-0.62zM189.5,708.2h0.62v0.62h-0.62zM241.6,776.9h0.62v0.62h-0.62zM199.5,713.0h0.62v0.62h-0.62zM227.3,738.7h0.62v0.62h-0.62zM225.4,753.8h0.62v0.62h-0.62zM214.1,725.8h0.62v0.62h-0.62zM204.3,715.0h0.62v0.62h-0.62zM226.4,754.3h0.62v0.62h-0.62zM210.7,720.9h0.62v0.62h-0.62zM216.6,726.8h0.62v0.62h-0.62zM210.1,719.2h0.62v0.62h-0.62zM248.0,769.2h0.62v0.62h-0.62zM226.1,745.0h0.62v0.62h-0.62zM213.9,733.3h0.62v0.62h-0.62zM198.7,713.9h0.62v0.62h-0.62zM239.3,759.5h0.62v0.62h-0.62zM219.4,730.6h0.62v0.62h-0.62zM192.7,713.4h0.62v0.62h-0.62zM217.4,738.7h0.62v0.62h-0.62zM227.7,745.6h0.62v0.62h-0.62zM233.7,753.7h0.62v0.62h-0.62zM223.7,749.0h0.62v0.62h-0.62zM224.6,740.3h0.62v0.62h-0.62zM218.6,744.5h0.62v0.62h-0.62zM227.0,729.5h0.62v0.62h-0.62zM234.0,770.9h0.62v0.62h-0.62zM210.3,721.8h0.62v0.62h-0.62zM212.4,725.1h0.62v0.62h-0.62zM242.1,763.1h0.62v0.62h-0.62zM240.5,763.0h0.62v0.62h-0.62zM207.7,714.8h0.62v0.62h-0.62zM225.3,740.2h0.62v0.62h-0.62zM216.7,720.6h0.62v0.62h-0.62zM207.5,722.0h0.62v0.62h-0.62zM238.6,757.3h0.62v0.62h-0.62zM220.4,733.0h0.62v0.62h-0.62zM205.2,719.9h0.62v0.62h-0.62zM243.4,766.6h0.62v0.62h-0.62zM227.8,753.3h0.62v0.62h-0.62zM238.6,767.0h0.62v0.62h-0.62zM240.3,763.0h0.62v0.62h-0.62zM214.0,735.4h0.62v0.62h-0.62zM242.2,770.4h0.62v0.62h-0.62zM217.8,743.4h0.62v0.62h-0.62zM209.4,721.2h0.62v0.62h-0.62zM190.9,709.4h0.62v0.62h-0.62zM222.0,734.2h0.62v0.62h-0.62zM232.6,752.6h0.62v0.62h-0.62zM189.0,705.5h0.62v0.62h-0.62zM215.8,740.6h0.62v0.62h-0.62zM233.1,745.2h0.62v0.62h-0.62zM219.6,737.2h0.62v0.62h-0.62zM239.4,763.0h0.62v0.62h-0.62zM241.8,770.3h0.62v0.62h-0.62zM218.9,737.8h0.62v0.62h-0.62zM248.5,775.8h0.62v0.62h-0.62zM246.6,770.2h0.62v0.62h-0.62zM221.0,734.5h0.62v0.62h-0.62zM230.9,752.7h0.62v0.62h-0.62zM225.7,734.5h0.62v0.62h-0.62zM217.3,742.1h0.62v0.62h-0.62zM241.6,764.0h0.62v0.62h-0.62zM241.0,771.1h0.62v0.62h-0.62zM213.3,724.5h0.62v0.62h-0.62zM218.3,732.1h0.62v0.62h-0.62zM237.6,763.7h0.62v0.62h-0.62zM203.9,717.3h0.62v0.62h-0.62zM238.4,772.7h0.62v0.62h-0.62zM221.1,750.8h0.62v0.62h-0.62zM215.7,723.9h0.62v0.62h-0.62zM242.2,766.0h0.62v0.62h-0.62zM243.5,777.7h0.62v0.62h-0.62zM239.5,771.0h0.62v0.62h-0.62zM243.2,756.4h0.62v0.62h-0.62zM234.5,774.4h0.62v0.62h-0.62zM247.0,772.2h0.62v0.62h-0.62zM232.2,746.3h0.62v0.62h-0.62zM221.1,730.9h0.62v0.62h-0.62zM242.8,764.3h0.62v0.62h-0.62zM223.0,746.9h0.62v0.62h-0.62zM210.3,720.5h0.62v0.62h-0.62zM213.2,736.1h0.62v0.62h-0.62zM244.3,755.8h0.62v0.62h-0.62zM221.7,740.9h0.62v0.62h-0.62zM211.5,717.8h0.62v0.62h-0.62zM233.0,738.1h0.62v0.62h-0.62zM221.8,739.8h0.62v0.62h-0.62zM215.2,725.3h0.62v0.62h-0.62zM239.3,760.0h0.62v0.62h-0.62zM226.1,749.1h0.62v0.62h-0.62zM219.8,732.0h0.62v0.62h-0.62zM220.0,744.6h0.62v0.62h-0.62zM230.6,751.1h0.62v0.62h-0.62zM215.1,733.7h0.62v0.62h-0.62zM223.0,744.0h0.62v0.62h-0.62zM242.4,774.8h0.62v0.62h-0.62zM230.7,745.8h0.62v0.62h-0.62zM188.3,707.1h0.62v0.62h-0.62zM206.0,720.7h0.62v0.62h-0.62zM233.0,755.6h0.62v0.62h-0.62zM223.7,753.7h0.62v0.62h-0.62zM232.5,757.8h0.62v0.62h-0.62zM233.5,754.3h0.62v0.62h-0.62zM220.3,734.7h0.62v0.62h-0.62zM234.2,739.6h0.62v0.62h-0.62zM222.9,738.2h0.62v0.62h-0.62zM241.8,762.4h0.62v0.62h-0.62zM209.6,718.2h0.62v0.62h-0.62zM213.6,738.5h0.62v0.62h-0.62zM216.7,725.6h0.62v0.62h-0.62zM217.1,730.7h0.62v0.62h-0.62zM234.6,764.7h0.62v0.62h-0.62zM231.2,750.9h0.62v0.62h-0.62zM245.9,772.9h0.62v0.62h-0.62zM204.7,716.2h0.62v0.62h-0.62zM191.5,709.7h0.62v0.62h-0.62zM232.2,770.2h0.62v0.62h-0.62zM201.8,713.0h0.62v0.62h-0.62zM239.0,756.9h0.62v0.62h-0.62zM217.5,739.6h0.62v0.62h-0.62zM239.5,776.0h0.62v0.62h-0.62zM234.3,744.2h0.62v0.62h-0.62zM237.9,759.3h0.62v0.62h-0.62zM196.7,712.3h0.62v0.62h-0.62zM229.5,750.2h0.62v0.62h-0.62zM237.8,762.7h0.62v0.62h-0.62zM237.8,774.4h0.62v0.62h-0.62zM194.6,709.4h0.62v0.62h-0.62zM241.2,772.9h0.62v0.62h-0.62zM220.6,741.1h0.62v0.62h-0.62zM222.9,737.3h0.62v0.62h-0.62zM198.7,712.7h0.62v0.62h-0.62zM200.3,714.6h0.62v0.62h-0.62zM224.7,749.2h0.62v0.62h-0.62zM245.2,774.5h0.62v0.62h-0.62zM197.3,713.4h0.62v0.62h-0.62zM204.4,721.9h0.62v0.62h-0.62zM211.2,726.0h0.62v0.62h-0.62zM191.0,709.1h0.62v0.62h-0.62zM232.6,753.8h0.62v0.62h-0.62zM216.9,728.0h0.62v0.62h-0.62zM211.2,727.1h0.62v0.62h-0.62zM194.8,712.9h0.62v0.62h-0.62zM203.7,714.6h0.62v0.62h-0.62zM208.6,718.3h0.62v0.62h-0.62zM217.5,735.3h0.62v0.62h-0.62zM231.5,738.5h0.62v0.62h-0.62zM219.1,725.6h0.62v0.62h-0.62zM189.4,706.1h0.62v0.62h-0.62zM237.2,770.3h0.62v0.62h-0.62zM209.3,724.2h0.62v0.62h-0.62zM209.4,715.7h0.62v0.62h-0.62zM232.4,757.1h0.62v0.62h-0.62zM237.4,758.7h0.62v0.62h-0.62zM235.7,752.3h0.62v0.62h-0.62zM230.2,755.4h0.62v0.62h-0.62zM195.9,713.9h0.62v0.62h-0.62zM211.8,724.9h0.62v0.62h-0.62zM196.3,714.5h0.62v0.62h-0.62zM218.4,734.0h0.62v0.62h-0.62zM228.6,739.3h0.62v0.62h-0.62zM202.8,718.7h0.62v0.62h-0.62zM218.1,734.0h0.62v0.62h-0.62zM227.5,732.7h0.62v0.62h-0.62zM194.3,710.0h0.62v0.62h-0.62zM214.1,741.2h0.62v0.62h-0.62zM218.0,730.1h0.62v0.62h-0.62zM213.1,734.7h0.62v0.62h-0.62zM196.8,712.4h0.62v0.62h-0.62zM220.2,731.7h0.62v0.62h-0.62zM212.4,723.4h0.62v0.62h-0.62zM228.9,739.0h0.62v0.62h-0.62zM245.5,777.9h0.62v0.62h-0.62zM241.5,772.3h0.62v0.62h-0.62zM238.3,764.6h0.62v0.62h-0.62zM217.9,732.9h0.62v0.62h-0.62zM232.2,763.0h0.62v0.62h-0.62zM225.7,738.9h0.62v0.62h-0.62zM204.2,715.9h0.62v0.62h-0.62zM240.1,759.5h0.62v0.62h-0.62zM228.2,751.1h0.62v0.62h-0.62zM207.6,719.8h0.62v0.62h-0.62zM243.0,765.2h0.62v0.62h-0.62zM194.7,710.3h0.62v0.62h-0.62zM226.7,746.6h0.62v0.62h-0.62zM229.3,751.7h0.62v0.62h-0.62zM235.5,753.3h0.62v0.62h-0.62zM220.4,732.0h0.62v0.62h-0.62zM193.5,712.7h0.62v0.62h-0.62zM226.4,738.1h0.62v0.62h-0.62zM204.0,714.7h0.62v0.62h-0.62zM211.0,727.1h0.62v0.62h-0.62zM225.5,741.8h0.62v0.62h-0.62zM243.0,774.6h0.62v0.62h-0.62zM208.7,718.9h0.62v0.62h-0.62zM245.6,760.1h0.62v0.62h-0.62zM238.6,765.0h0.62v0.62h-0.62zM217.8,737.7h0.62v0.62h-0.62zM238.0,774.2h0.62v0.62h-0.62zM214.9,728.8h0.62v0.62h-0.62zM242.8,764.4h0.62v0.62h-0.62zM197.7,710.4h0.62v0.62h-0.62zM213.3,720.4h0.62v0.62h-0.62zM243.5,766.9h0.62v0.62h-0.62zM240.8,763.4h0.62v0.62h-0.62zM242.0,778.4h0.62v0.62h-0.62zM237.6,752.3h0.62v0.62h-0.62zM202.9,716.2h0.62v0.62h-0.62zM244.6,777.7h0.62v0.62h-0.62zM209.3,725.5h0.62v0.62h-0.62zM212.7,732.0h0.62v0.62h-0.62zM233.3,750.3h0.62v0.62h-0.62zM220.4,750.1h0.62v0.62h-0.62zM233.3,749.5h0.62v0.62h-0.62zM243.8,760.2h0.62v0.62h-0.62zM235.6,753.5h0.62v0.62h-0.62zM245.8,777.7h0.62v0.62h-0.62zM229.4,747.4h0.62v0.62h-0.62zM206.9,718.7h0.62v0.62h-0.62zM234.0,737.4h0.62v0.62h-0.62zM234.4,756.3h0.62v0.62h-0.62zM246.5,777.4h0.62v0.62h-0.62zM229.7,743.6h0.62v0.62h-0.62zM193.3,709.0h0.62v0.62h-0.62zM245.4,764.1h0.62v0.62h-0.62zM210.0,727.7h0.62v0.62h-0.62zM204.9,712.3h0.62v0.62h-0.62zM192.2,710.5h0.62v0.62h-0.62zM220.5,732.3h0.62v0.62h-0.62zM201.2,712.4h0.62v0.62h-0.62zM226.1,739.0h0.62v0.62h-0.62zM238.5,759.5h0.62v0.62h-0.62zM232.6,765.7h0.62v0.62h-0.62zM213.5,715.8h0.62v0.62h-0.62zM228.8,753.0h0.62v0.62h-0.62zM230.6,740.6h0.62v0.62h-0.62zM231.5,748.9h0.62v0.62h-0.62zM246.2,756.3h0.62v0.62h-0.62zM247.2,777.0h0.62v0.62h-0.62zM209.5,724.7h0.62v0.62h-0.62zM241.1,765.1h0.62v0.62h-0.62zM245.6,766.1h0.62v0.62h-0.62zM243.7,777.4h0.62v0.62h-0.62zM227.6,756.1h0.62v0.62h-0.62zM210.4,721.8h0.62v0.62h-0.62zM217.3,727.9h0.62v0.62h-0.62zM213.5,733.7h0.62v0.62h-0.62zM239.0,762.3h0.62v0.62h-0.62zM233.5,769.5h0.62v0.62h-0.62zM236.6,760.3h0.62v0.62h-0.62zM221.7,745.4h0.62v0.62h-0.62zM221.0,747.1h0.62v0.62h-0.62zM226.2,751.9h0.62v0.62h-0.62zM208.9,719.9h0.62v0.62h-0.62zM196.3,711.3h0.62v0.62h-0.62zM236.3,762.8h0.62v0.62h-0.62zM246.2,773.1h0.62v0.62h-0.62zM238.1,760.5h0.62v0.62h-0.62zM235.7,766.8h0.62v0.62h-0.62zM218.5,725.2h0.62v0.62h-0.62zM219.6,735.7h0.62v0.62h-0.62zM251.8,771.1h0.62v0.62h-0.62zM212.9,728.9h0.62v0.62h-0.62zM203.0,715.1h0.62v0.62h-0.62zM210.8,721.5h0.62v0.62h-0.62zM232.3,758.4h0.62v0.62h-0.62zM211.9,734.9h0.62v0.62h-0.62zM224.0,738.8h0.62v0.62h-0.62zM236.3,775.4h0.62v0.62h-0.62zM203.8,717.3h0.62v0.62h-0.62zM233.6,753.5h0.62v0.62h-0.62zM238.5,771.5h0.62v0.62h-0.62zM208.7,724.0h0.62v0.62h-0.62zM229.5,754.9h0.62v0.62h-0.62zM211.0,723.4h0.62v0.62h-0.62zM208.0,726.5h0.62v0.62h-0.62zM223.0,726.2h0.62v0.62h-0.62zM222.6,745.4h0.62v0.62h-0.62zM203.6,717.5h0.62v0.62h-0.62zM246.4,771.8h0.62v0.62h-0.62zM209.4,728.3h0.62v0.62h-0.62zM220.2,746.4h0.62v0.62h-0.62zM214.1,733.3h0.62v0.62h-0.62zM223.7,739.2h0.62v0.62h-0.62zM230.5,741.7h0.62v0.62h-0.62zM216.0,719.8h0.62v0.62h-0.62zM242.5,770.3h0.62v0.62h-0.62zM236.7,753.2h0.62v0.62h-0.62zM214.1,719.1h0.62v0.62h-0.62zM207.5,718.2h0.62v0.62h-0.62zM224.6,740.7h0.62v0.62h-0.62zM201.6,717.9h0.62v0.62h-0.62zM241.5,763.0h0.62v0.62h-0.62zM241.1,762.4h0.62v0.62h-0.62zM224.0,745.9h0.62v0.62h-0.62zM220.9,743.0h0.62v0.62h-0.62zM238.4,768.9h0.62v0.62h-0.62zM245.2,777.1h0.62v0.62h-0.62zM206.0,717.6h0.62v0.62h-0.62zM230.4,757.5h0.62v0.62h-0.62zM225.3,736.8h0.62v0.62h-0.62zM221.8,737.8h0.62v0.62h-0.62zM209.8,716.3h0.62v0.62h-0.62zM213.8,724.2h0.62v0.62h-0.62zM245.0,775.7h0.62v0.62h-0.62zM201.6,717.4h0.62v0.62h-0.62zM230.5,759.3h0.62v0.62h-0.62zM230.0,757.9h0.62v0.62h-0.62zM212.8,724.4h0.62v0.62h-0.62zM213.8,734.6h0.62v0.62h-0.62zM220.6,742.6h0.62v0.62h-0.62zM193.9,707.3h0.62v0.62h-0.62zM202.4,716.4h0.62v0.62h-0.62zM240.4,776.9h0.62v0.62h-0.62zM203.9,718.7h0.62v0.62h-0.62zM195.6,711.6h0.62v0.62h-0.62zM237.2,759.2h0.62v0.62h-0.62zM194.3,708.9h0.62v0.62h-0.62zM198.5,717.3h0.62v0.62h-0.62zM230.1,757.5h0.62v0.62h-0.62zM240.7,776.4h0.62v0.62h-0.62zM218.6,735.5h0.62v0.62h-0.62zM218.9,732.8h0.62v0.62h-0.62zM229.3,742.6h0.62v0.62h-0.62zM223.8,728.2h0.62v0.62h-0.62zM218.7,738.8h0.62v0.62h-0.62zM220.7,743.1h0.62v0.62h-0.62zM234.0,756.8h0.62v0.62h-0.62zM221.2,739.4h0.62v0.62h-0.62zM221.1,733.7h0.62v0.62h-0.62zM244.0,777.9h0.62v0.62h-0.62zM231.9,765.8h0.62v0.62h-0.62zM189.6,708.5h0.62v0.62h-0.62zM222.6,733.6h0.62v0.62h-0.62zM221.0,735.6h0.62v0.62h-0.62zM189.1,707.8h0.62v0.62h-0.62zM199.3,713.9h0.62v0.62h-0.62zM231.8,756.0h0.62v0.62h-0.62zM218.5,724.4h0.62v0.62h-0.62zM189.3,708.6h0.62v0.62h-0.62zM229.9,752.5h0.62v0.62h-0.62zM232.5,764.7h0.62v0.62h-0.62zM234.7,765.9h0.62v0.62h-0.62zM209.2,720.4h0.62v0.62h-0.62zM239.6,763.4h0.62v0.62h-0.62zM217.8,736.4h0.62v0.62h-0.62zM194.4,711.4h0.62v0.62h-0.62zM228.2,756.3h0.62v0.62h-0.62zM233.4,748.5h0.62v0.62h-0.62zM218.0,729.5h0.62v0.62h-0.62zM228.4,740.4h0.62v0.62h-0.62zM215.5,729.5h0.62v0.62h-0.62zM238.9,762.4h0.62v0.62h-0.62zM218.5,729.6h0.62v0.62h-0.62zM208.7,727.8h0.62v0.62h-0.62zM191.7,709.5h0.62v0.62h-0.62zM208.8,721.0h0.62v0.62h-0.62zM239.4,762.1h0.62v0.62h-0.62zM224.3,744.4h0.62v0.62h-0.62zM245.6,774.7h0.62v0.62h-0.62zM241.1,766.3h0.62v0.62h-0.62zM199.7,712.6h0.62v0.62h-0.62zM245.1,777.1h0.62v0.62h-0.62zM189.5,708.8h0.62v0.62h-0.62zM202.8,710.1h0.62v0.62h-0.62zM228.5,742.1h0.62v0.62h-0.62zM224.8,736.0h0.62v0.62h-0.62zM219.6,731.5h0.62v0.62h-0.62zM215.5,730.2h0.62v0.62h-0.62zM233.3,763.1h0.62v0.62h-0.62zM242.9,769.0h0.62v0.62h-0.62zM243.6,775.3h0.62v0.62h-0.62zM245.1,755.4h0.62v0.62h-0.62zM229.6,738.8h0.62v0.62h-0.62zM226.7,731.4h0.62v0.62h-0.62zM221.8,722.0h0.62v0.62h-0.62zM212.9,722.5h0.62v0.62h-0.62zM246.2,777.6h0.62v0.62h-0.62zM225.5,733.7h0.62v0.62h-0.62zM219.9,727.7h0.62v0.62h-0.62zM211.1,730.4h0.62v0.62h-0.62zM223.0,736.4h0.62v0.62h-0.62zM210.2,731.4h0.62v0.62h-0.62zM236.8,763.6h0.62v0.62h-0.62zM198.4,713.5h0.62v0.62h-0.62zM224.5,738.3h0.62v0.62h-0.62zM214.1,734.4h0.62v0.62h-0.62zM205.9,717.0h0.62v0.62h-0.62zM219.9,730.5h0.62v0.62h-0.62zM207.7,715.4h0.62v0.62h-0.62zM252.5,774.3h0.62v0.62h-0.62zM234.1,760.2h0.62v0.62h-0.62zM232.8,755.2h0.62v0.62h-0.62zM246.4,775.5h0.62v0.62h-0.62zM240.6,777.2h0.62v0.62h-0.62zM240.9,757.5h0.62v0.62h-0.62zM234.9,773.4h0.62v0.62h-0.62zM239.1,767.6h0.62v0.62h-0.62zM214.3,721.2h0.62v0.62h-0.62zM220.6,747.0h0.62v0.62h-0.62zM239.4,768.9h0.62v0.62h-0.62zM192.1,711.7h0.62v0.62h-0.62zM244.2,767.4h0.62v0.62h-0.62zM216.0,726.3h0.62v0.62h-0.62zM248.9,766.6h0.62v0.62h-0.62zM225.7,739.4h0.62v0.62h-0.62zM239.2,766.1h0.62v0.62h-0.62zM193.8,710.8h0.62v0.62h-0.62zM233.8,739.4h0.62v0.62h-0.62zM223.3,743.3h0.62v0.62h-0.62zM242.0,769.9h0.62v0.62h-0.62zM217.9,732.1h0.62v0.62h-0.62zM209.8,716.8h0.62v0.62h-0.62zM235.2,757.1h0.62v0.62h-0.62zM228.8,747.4h0.62v0.62h-0.62zM224.5,742.2h0.62v0.62h-0.62zM221.6,736.3h0.62v0.62h-0.62zM221.8,752.0h0.62v0.62h-0.62zM213.2,735.6h0.62v0.62h-0.62zM237.4,766.3h0.62v0.62h-0.62zM242.9,761.4h0.62v0.62h-0.62zM212.0,723.6h0.62v0.62h-0.62zM221.5,731.5h0.62v0.62h-0.62zM218.4,735.5h0.62v0.62h-0.62zM217.6,731.6h0.62v0.62h-0.62zM219.7,734.5h0.62v0.62h-0.62zM207.9,718.2h0.62v0.62h-0.62zM223.8,736.5h0.62v0.62h-0.62zM231.3,740.7h0.62v0.62h-0.62zM242.5,763.1h0.62v0.62h-0.62zM240.3,772.4h0.62v0.62h-0.62zM228.3,740.8h0.62v0.62h-0.62zM215.4,721.0h0.62v0.62h-0.62zM231.6,744.5h0.62v0.62h-0.62zM232.0,743.8h0.62v0.62h-0.62zM216.1,735.1h0.62v0.62h-0.62zM208.8,720.0h0.62v0.62h-0.62zM197.4,711.8h0.62v0.62h-0.62zM236.8,753.0h0.62v0.62h-0.62zM217.5,732.5h0.62v0.62h-0.62zM239.2,769.3h0.62v0.62h-0.62zM221.5,751.3h0.62v0.62h-0.62zM240.3,774.9h0.62v0.62h-0.62zM233.0,761.2h0.62v0.62h-0.62zM225.3,749.2h0.62v0.62h-0.62zM228.7,757.7h0.62v0.62h-0.62zM251.9,761.2h0.62v0.62h-0.62zM224.0,749.7h0.62v0.62h-0.62zM219.9,729.1h0.62v0.62h-0.62zM230.0,744.0h0.62v0.62h-0.62zM224.7,742.7h0.62v0.62h-0.62zM211.5,721.4h0.62v0.62h-0.62zM206.4,712.8h0.62v0.62h-0.62zM239.9,770.5h0.62v0.62h-0.62zM213.6,733.3h0.62v0.62h-0.62zM235.6,762.2h0.62v0.62h-0.62zM228.0,744.2h0.62v0.62h-0.62zM219.3,735.6h0.62v0.62h-0.62zM238.5,765.3h0.62v0.62h-0.62zM223.8,734.2h0.62v0.62h-0.62zM236.0,764.7h0.62v0.62h-0.62zM197.6,710.6h0.62v0.62h-0.62zM244.4,766.8h0.62v0.62h-0.62zM234.9,750.9h0.62v0.62h-0.62zM241.4,777.6h0.62v0.62h-0.62zM218.0,731.9h0.62v0.62h-0.62zM190.4,708.5h0.62v0.62h-0.62zM216.6,722.6h0.62v0.62h-0.62zM241.8,775.7h0.62v0.62h-0.62zM227.5,732.7h0.62v0.62h-0.62zM228.7,738.8h0.62v0.62h-0.62zM236.8,760.9h0.62v0.62h-0.62zM214.2,726.2h0.62v0.62h-0.62zM240.5,764.7h0.62v0.62h-0.62zM213.9,725.3h0.62v0.62h-0.62zM230.0,751.6h0.62v0.62h-0.62zM235.5,768.7h0.62v0.62h-0.62zM242.1,766.1h0.62v0.62h-0.62zM202.8,713.5h0.62v0.62h-0.62zM241.7,772.3h0.62v0.62h-0.62zM247.0,776.0h0.62v0.62h-0.62zM219.5,731.8h0.62v0.62h-0.62zM226.4,752.0h0.62v0.62h-0.62zM224.0,737.2h0.62v0.62h-0.62zM211.6,721.6h0.62v0.62h-0.62zM226.8,751.9h0.62v0.62h-0.62zM241.0,777.8h0.62v0.62h-0.62zM201.6,716.3h0.62v0.62h-0.62zM213.7,723.0h0.62v0.62h-0.62zM245.2,765.0h0.62v0.62h-0.62zM216.9,726.9h0.62v0.62h-0.62zM229.4,743.9h0.62v0.62h-0.62zM234.1,761.0h0.62v0.62h-0.62zM247.0,774.6h0.62v0.62h-0.62zM193.9,710.8h0.62v0.62h-0.62zM235.2,741.9h0.62v0.62h-0.62zM245.9,772.8h0.62v0.62h-0.62zM199.8,715.4h0.62v0.62h-0.62zM214.3,721.9h0.62v0.62h-0.62zM213.1,725.7h0.62v0.62h-0.62zM238.1,759.7h0.62v0.62h-0.62zM231.0,744.7h0.62v0.62h-0.62zM245.9,775.3h0.62v0.62h-0.62zM247.7,769.6h0.62v0.62h-0.62zM238.5,763.9h0.62v0.62h-0.62zM230.7,744.9h0.62v0.62h-0.62zM222.4,737.9h0.62v0.62h-0.62zM232.2,756.9h0.62v0.62h-0.62zM223.1,736.5h0.62v0.62h-0.62zM190.8,710.0h0.62v0.62h-0.62zM193.5,709.0h0.62v0.62h-0.62zM218.9,728.8h0.62v0.62h-0.62zM202.8,719.5h0.62v0.62h-0.62zM215.3,737.3h0.62v0.62h-0.62zM237.6,756.9h0.62v0.62h-0.62zM229.7,747.9h0.62v0.62h-0.62zM239.6,752.0h0.62v0.62h-0.62zM201.2,717.0h0.62v0.62h-0.62zM229.9,764.7h0.62v0.62h-0.62zM245.7,765.4h0.62v0.62h-0.62zM235.5,750.2h0.62v0.62h-0.62zM220.7,740.7h0.62v0.62h-0.62zM194.4,708.2h0.62v0.62h-0.62zM198.9,716.4h0.62v0.62h-0.62zM247.6,777.3h0.62v0.62h-0.62zM235.5,753.8h0.62v0.62h-0.62zM233.2,758.8h0.62v0.62h-0.62zM241.0,756.7h0.62v0.62h-0.62zM247.3,762.5h0.62v0.62h-0.62zM210.2,720.8h0.62v0.62h-0.62zM215.6,728.2h0.62v0.62h-0.62zM243.6,771.7h0.62v0.62h-0.62zM241.5,757.8h0.62v0.62h-0.62zM239.5,771.8h0.62v0.62h-0.62zM227.1,756.5h0.62v0.62h-0.62zM229.8,748.7h0.62v0.62h-0.62zM189.6,707.7h0.62v0.62h-0.62zM237.4,751.5h0.62v0.62h-0.62zM223.8,735.6h0.62v0.62h-0.62zM234.5,739.2h0.62v0.62h-0.62zM242.4,775.5h0.62v0.62h-0.62zM229.2,750.4h0.62v0.62h-0.62zM227.3,745.4h0.62v0.62h-0.62zM225.2,753.1h0.62v0.62h-0.62zM242.2,777.3h0.62v0.62h-0.62zM213.9,723.9h0.62v0.62h-0.62zM197.6,717.0h0.62v0.62h-0.62zM210.3,728.3h0.62v0.62h-0.62zM240.6,765.2h0.62v0.62h-0.62zM216.2,739.1h0.62v0.62h-0.62zM236.9,751.0h0.62v0.62h-0.62zM214.5,734.4h0.62v0.62h-0.62zM219.1,731.1h0.62v0.62h-0.62zM214.7,729.2h0.62v0.62h-0.62zM247.8,774.4h0.62v0.62h-0.62zM215.9,729.1h0.62v0.62h-0.62zM237.1,755.5h0.62v0.62h-0.62zM240.3,749.6h0.62v0.62h-0.62zM218.9,733.5h0.62v0.62h-0.62zM210.8,723.6h0.62v0.62h-0.62zM201.1,714.5h0.62v0.62h-0.62zM207.2,719.3h0.62v0.62h-0.62zM207.7,722.9h0.62v0.62h-0.62zM229.8,740.8h0.62v0.62h-0.62zM221.5,737.4h0.62v0.62h-0.62zM237.1,759.6h0.62v0.62h-0.62zM197.7,715.4h0.62v0.62h-0.62zM214.0,727.8h0.62v0.62h-0.62zM244.9,768.5h0.62v0.62h-0.62zM198.2,712.0h0.62v0.62h-0.62zM227.0,737.7h0.62v0.62h-0.62zM241.9,767.2h0.62v0.62h-0.62zM226.3,735.5h0.62v0.62h-0.62zM212.7,719.4h0.62v0.62h-0.62zM241.8,776.5h0.62v0.62h-0.62zM250.1,757.5h0.62v0.62h-0.62zM223.5,741.7h0.62v0.62h-0.62zM241.1,767.3h0.62v0.62h-0.62zM244.1,760.8h0.62v0.62h-0.62zM227.3,752.5h0.62v0.62h-0.62zM198.1,714.5h0.62v0.62h-0.62zM233.3,745.2h0.62v0.62h-0.62zM222.4,735.1h0.62v0.62h-0.62zM203.8,718.8h0.62v0.62h-0.62zM244.1,771.8h0.62v0.62h-0.62zM245.2,775.7h0.62v0.62h-0.62zM218.8,728.6h0.62v0.62h-0.62zM233.0,761.8h0.62v0.62h-0.62zM225.1,744.8h0.62v0.62h-0.62zM225.9,744.7h0.62v0.62h-0.62zM198.5,715.3h0.62v0.62h-0.62zM210.5,733.4h0.62v0.62h-0.62zM232.6,751.9h0.62v0.62h-0.62zM223.0,743.1h0.62v0.62h-0.62zM243.3,769.2h0.62v0.62h-0.62zM242.7,760.9h0.62v0.62h-0.62zM235.3,755.7h0.62v0.62h-0.62zM207.5,724.5h0.62v0.62h-0.62zM226.6,738.8h0.62v0.62h-0.62zM239.6,767.5h0.62v0.62h-0.62zM193.5,707.1h0.62v0.62h-0.62zM240.6,755.4h0.62v0.62h-0.62zM216.0,738.1h0.62v0.62h-0.62zM214.2,728.4h0.62v0.62h-0.62zM237.7,756.4h0.62v0.62h-0.62zM241.9,760.6h0.62v0.62h-0.62zM239.4,770.5h0.62v0.62h-0.62zM239.3,775.0h0.62v0.62h-0.62zM224.8,752.0h0.62v0.62h-0.62zM244.1,761.8h0.62v0.62h-0.62zM216.5,728.7h0.62v0.62h-0.62zM226.4,749.0h0.62v0.62h-0.62zM223.1,737.6h0.62v0.62h-0.62zM220.9,733.2h0.62v0.62h-0.62zM236.5,751.4h0.62v0.62h-0.62zM237.6,763.3h0.62v0.62h-0.62zM236.9,756.3h0.62v0.62h-0.62zM225.3,739.6h0.62v0.62h-0.62zM230.9,745.3h0.62v0.62h-0.62zM217.9,723.1h0.62v0.62h-0.62zM214.7,723.6h0.62v0.62h-0.62zM212.0,719.5h0.62v0.62h-0.62zM217.1,737.2h0.62v0.62h-0.62zM193.1,707.9h0.62v0.62h-0.62zM214.9,737.0h0.62v0.62h-0.62zM213.4,728.5h0.62v0.62h-0.62zM231.0,768.1h0.62v0.62h-0.62zM246.7,776.5h0.62v0.62h-0.62zM221.8,732.0h0.62v0.62h-0.62zM245.2,767.2h0.62v0.62h-0.62zM215.2,723.1h0.62v0.62h-0.62zM210.0,725.8h0.62v0.62h-0.62zM236.0,766.0h0.62v0.62h-0.62zM218.2,729.4h0.62v0.62h-0.62zM242.1,775.6h0.62v0.62h-0.62zM222.3,739.0h0.62v0.62h-0.62zM247.0,773.0h0.62v0.62h-0.62zM243.8,772.5h0.62v0.62h-0.62zM246.7,777.9h0.62v0.62h-0.62zM239.9,768.2h0.62v0.62h-0.62zM211.6,727.0h0.62v0.62h-0.62zM216.7,733.3h0.62v0.62h-0.62zM191.5,711.4h0.62v0.62h-0.62zM248.6,773.5h0.62v0.62h-0.62zM206.7,716.9h0.62v0.62h-0.62zM195.8,712.4h0.62v0.62h-0.62zM219.8,733.9h0.62v0.62h-0.62zM225.3,738.1h0.62v0.62h-0.62zM219.7,733.1h0.62v0.62h-0.62zM236.4,768.0h0.62v0.62h-0.62zM222.8,742.5h0.62v0.62h-0.62zM221.4,747.7h0.62v0.62h-0.62zM246.6,753.5h0.62v0.62h-0.62zM241.1,772.1h0.62v0.62h-0.62zM224.0,733.2h0.62v0.62h-0.62zM221.7,722.3h0.62v0.62h-0.62zM220.3,730.8h0.62v0.62h-0.62zM202.4,715.5h0.62v0.62h-0.62zM212.5,726.7h0.62v0.62h-0.62zM248.0,775.8h0.62v0.62h-0.62zM222.5,746.4h0.62v0.62h-0.62zM224.8,746.3h0.62v0.62h-0.62zM230.9,750.9h0.62v0.62h-0.62zM228.5,755.6h0.62v0.62h-0.62zM224.2,751.5h0.62v0.62h-0.62zM243.8,773.2h0.62v0.62h-0.62zM249.7,777.4h0.62v0.62h-0.62zM229.3,754.2h0.62v0.62h-0.62zM194.4,712.0h0.62v0.62h-0.62zM233.5,753.4h0.62v0.62h-0.62zM238.9,740.1h0.62v0.62h-0.62zM244.1,756.4h0.62v0.62h-0.62zM245.6,771.1h0.62v0.62h-0.62zM202.2,718.1h0.62v0.62h-0.62zM216.9,728.7h0.62v0.62h-0.62zM246.1,776.8h0.62v0.62h-0.62zM232.0,747.5h0.62v0.62h-0.62zM244.4,768.5h0.62v0.62h-0.62zM212.3,723.7h0.62v0.62h-0.62zM246.5,763.8h0.62v0.62h-0.62zM226.9,735.5h0.62v0.62h-0.62zM238.9,762.7h0.62v0.62h-0.62zM192.7,708.6h0.62v0.62h-0.62zM225.3,744.6h0.62v0.62h-0.62zM224.5,740.6h0.62v0.62h-0.62zM201.4,714.6h0.62v0.62h-0.62zM240.5,774.7h0.62v0.62h-0.62zM211.4,729.0h0.62v0.62h-0.62zM233.4,751.9h0.62v0.62h-0.62zM207.4,722.4h0.62v0.62h-0.62zM237.0,755.6h0.62v0.62h-0.62zM229.5,752.7h0.62v0.62h-0.62zM220.4,740.3h0.62v0.62h-0.62zM236.3,757.0h0.62v0.62h-0.62zM197.9,712.8h0.62v0.62h-0.62zM229.6,736.3h0.62v0.62h-0.62zM189.2,707.8h0.62v0.62h-0.62zM222.4,736.7h0.62v0.62h-0.62zM231.2,745.2h0.62v0.62h-0.62zM214.5,723.2h0.62v0.62h-0.62zM219.3,734.5h0.62v0.62h-0.62zM224.1,732.0h0.62v0.62h-0.62zM226.5,730.1h0.62v0.62h-0.62zM221.4,736.4h0.62v0.62h-0.62zM228.0,745.8h0.62v0.62h-0.62zM208.9,723.8h0.62v0.62h-0.62zM247.8,765.5h0.62v0.62h-0.62zM206.5,717.7h0.62v0.62h-0.62zM241.3,777.1h0.62v0.62h-0.62zM233.9,758.2h0.62v0.62h-0.62zM213.7,716.7h0.62v0.62h-0.62zM238.3,758.5h0.62v0.62h-0.62zM240.9,767.8h0.62v0.62h-0.62zM247.7,769.3h0.62v0.62h-0.62zM226.7,748.5h0.62v0.62h-0.62zM198.3,713.8h0.62v0.62h-0.62zM237.3,766.8h0.62v0.62h-0.62zM219.1,745.4h0.62v0.62h-0.62zM201.3,717.4h0.62v0.62h-0.62zM209.6,732.5h0.62v0.62h-0.62zM228.4,747.9h0.62v0.62h-0.62zM243.2,773.0h0.62v0.62h-0.62zM202.3,718.4h0.62v0.62h-0.62zM214.0,727.8h0.62v0.62h-0.62zM229.2,745.4h0.62v0.62h-0.62zM216.1,731.8h0.62v0.62h-0.62zM209.5,726.1h0.62v0.62h-0.62zM240.5,774.8h0.62v0.62h-0.62zM241.2,759.1h0.62v0.62h-0.62zM238.1,766.8h0.62v0.62h-0.62zM203.8,712.0h0.62v0.62h-0.62zM199.7,713.9h0.62v0.62h-0.62zM240.1,765.6h0.62v0.62h-0.62zM216.3,737.4h0.62v0.62h-0.62zM247.6,776.3h0.62v0.62h-0.62zM239.0,755.8h0.62v0.62h-0.62zM204.2,718.8h0.62v0.62h-0.62zM228.5,744.1h0.62v0.62h-0.62zM237.7,761.7h0.62v0.62h-0.62zM201.5,715.0h0.62v0.62h-0.62zM222.9,745.2h0.62v0.62h-0.62zM195.8,713.6h0.62v0.62h-0.62zM225.0,735.9h0.62v0.62h-0.62zM222.7,736.8h0.62v0.62h-0.62zM223.8,736.8h0.62v0.62h-0.62zM189.5,706.3h0.62v0.62h-0.62zM215.6,731.9h0.62v0.62h-0.62zM223.3,743.8h0.62v0.62h-0.62zM208.1,716.6h0.62v0.62h-0.62zM225.1,725.9h0.62v0.62h-0.62zM218.7,736.1h0.62v0.62h-0.62zM212.3,727.6h0.62v0.62h-0.62zM196.0,713.2h0.62v0.62h-0.62zM213.8,730.5h0.62v0.62h-0.62zM227.8,744.3h0.62v0.62h-0.62zM218.3,736.2h0.62v0.62h-0.62zM203.7,717.8h0.62v0.62h-0.62zM230.5,752.6h0.62v0.62h-0.62zM219.5,736.1h0.62v0.62h-0.62zM215.6,732.0h0.62v0.62h-0.62zM199.2,711.6h0.62v0.62h-0.62zM211.8,726.3h0.62v0.62h-0.62zM229.5,762.2h0.62v0.62h-0.62zM222.3,746.6h0.62v0.62h-0.62zM216.3,742.0h0.62v0.62h-0.62zM219.5,728.8h0.62v0.62h-0.62zM203.9,714.2h0.62v0.62h-0.62zM211.2,726.8h0.62v0.62h-0.62zM240.7,769.6h0.62v0.62h-0.62zM219.5,746.3h0.62v0.62h-0.62zM238.3,748.7h0.62v0.62h-0.62zM214.9,730.0h0.62v0.62h-0.62zM205.8,721.7h0.62v0.62h-0.62zM216.4,727.9h0.62v0.62h-0.62zM228.7,740.3h0.62v0.62h-0.62zM233.6,746.6h0.62v0.62h-0.62zM233.3,752.7h0.62v0.62h-0.62zM209.0,719.4h0.62v0.62h-0.62zM216.8,731.5h0.62v0.62h-0.62zM204.9,717.8h0.62v0.62h-0.62zM238.5,758.6h0.62v0.62h-0.62zM208.9,717.3h0.62v0.62h-0.62zM214.4,725.8h0.62v0.62h-0.62zM240.9,745.6h0.62v0.62h-0.62zM245.6,775.0h0.62v0.62h-0.62zM205.6,716.8h0.62v0.62h-0.62zM235.7,749.9h0.62v0.62h-0.62zM223.4,745.1h0.62v0.62h-0.62zM215.9,732.9h0.62v0.62h-0.62zM200.0,712.5h0.62v0.62h-0.62zM229.8,745.1h0.62v0.62h-0.62zM246.6,770.6h0.62v0.62h-0.62zM241.7,772.8h0.62v0.62h-0.62zM212.6,717.3h0.62v0.62h-0.62zM215.1,729.5h0.62v0.62h-0.62zM218.0,728.2h0.62v0.62h-0.62zM237.9,769.9h0.62v0.62h-0.62zM244.4,761.8h0.62v0.62h-0.62zM238.6,763.3h0.62v0.62h-0.62zM227.4,752.7h0.62v0.62h-0.62zM195.0,713.5h0.62v0.62h-0.62zM243.5,771.1h0.62v0.62h-0.62zM229.6,749.6h0.62v0.62h-0.62zM225.7,733.3h0.62v0.62h-0.62zM212.9,727.9h0.62v0.62h-0.62zM245.9,759.6h0.62v0.62h-0.62zM213.0,729.7h0.62v0.62h-0.62zM238.7,764.1h0.62v0.62h-0.62zM193.0,710.0h0.62v0.62h-0.62zM241.9,768.4h0.62v0.62h-0.62zM205.2,717.2h0.62v0.62h-0.62zM214.1,719.9h0.62v0.62h-0.62zM202.2,712.4h0.62v0.62h-0.62zM226.9,734.8h0.62v0.62h-0.62zM213.4,733.2h0.62v0.62h-0.62zM214.3,732.6h0.62v0.62h-0.62zM232.7,755.1h0.62v0.62h-0.62zM212.2,724.7h0.62v0.62h-0.62zM219.2,726.3h0.62v0.62h-0.62zM220.9,737.7h0.62v0.62h-0.62zM224.4,755.2h0.62v0.62h-0.62zM237.2,770.8h0.62v0.62h-0.62zM241.2,761.7h0.62v0.62h-0.62zM222.7,743.4h0.62v0.62h-0.62zM236.0,757.5h0.62v0.62h-0.62zM205.6,725.3h0.62v0.62h-0.62zM223.5,734.8h0.62v0.62h-0.62zM218.2,733.8h0.62v0.62h-0.62zM231.3,761.7h0.62v0.62h-0.62zM209.3,713.9h0.62v0.62h-0.62zM238.4,757.3h0.62v0.62h-0.62zM218.3,728.7h0.62v0.62h-0.62zM224.5,747.1h0.62v0.62h-0.62zM220.4,739.4h0.62v0.62h-0.62zM233.8,762.1h0.62v0.62h-0.62zM221.6,734.8h0.62v0.62h-0.62zM224.9,743.7h0.62v0.62h-0.62zM233.3,754.0h0.62v0.62h-0.62zM224.1,746.4h0.62v0.62h-0.62zM217.1,730.0h0.62v0.62h-0.62zM215.3,731.4h0.62v0.62h-0.62zM195.8,712.0h0.62v0.62h-0.62zM220.9,744.8h0.62v0.62h-0.62zM215.0,734.4h0.62v0.62h-0.62zM234.0,735.9h0.62v0.62h-0.62zM239.7,774.5h0.62v0.62h-0.62zM222.2,750.2h0.62v0.62h-0.62zM225.1,747.2h0.62v0.62h-0.62zM192.0,709.3h0.62v0.62h-0.62zM217.4,733.6h0.62v0.62h-0.62zM200.1,716.5h0.62v0.62h-0.62zM246.5,772.8h0.62v0.62h-0.62zM228.2,740.2h0.62v0.62h-0.62zM239.0,770.3h0.62v0.62h-0.62zM235.0,768.6h0.62v0.62h-0.62zM192.6,705.8h0.62v0.62h-0.62zM193.8,712.5h0.62v0.62h-0.62zM235.6,763.8h0.62v0.62h-0.62zM231.7,737.2h0.62v0.62h-0.62zM235.7,757.8h0.62v0.62h-0.62zM238.8,764.0h0.62v0.62h-0.62zM231.9,754.8h0.62v0.62h-0.62zM235.8,754.8h0.62v0.62h-0.62zM216.6,736.8h0.62v0.62h-0.62zM210.9,724.1h0.62v0.62h-0.62zM235.6,752.6h0.62v0.62h-0.62zM242.2,769.0h0.62v0.62h-0.62zM233.8,757.8h0.62v0.62h-0.62zM226.2,734.8h0.62v0.62h-0.62zM248.7,762.4h0.62v0.62h-0.62zM222.7,731.6h0.62v0.62h-0.62zM222.0,732.5h0.62v0.62h-0.62zM200.0,714.7h0.62v0.62h-0.62zM248.3,774.9h0.62v0.62h-0.62zM202.0,715.5h0.62v0.62h-0.62zM232.4,762.0h0.62v0.62h-0.62zM202.9,715.1h0.62v0.62h-0.62zM200.8,710.8h0.62v0.62h-0.62zM207.8,716.8h0.62v0.62h-0.62zM216.4,731.5h0.62v0.62h-0.62zM243.9,765.6h0.62v0.62h-0.62zM226.5,751.0h0.62v0.62h-0.62zM197.0,711.2h0.62v0.62h-0.62zM233.7,751.9h0.62v0.62h-0.62zM240.3,766.4h0.62v0.62h-0.62zM208.5,730.4h0.62v0.62h-0.62zM222.6,735.5h0.62v0.62h-0.62zM215.7,721.2h0.62v0.62h-0.62zM201.7,717.6h0.62v0.62h-0.62zM245.1,771.3h0.62v0.62h-0.62zM211.2,731.0h0.62v0.62h-0.62zM188.1,707.6h0.62v0.62h-0.62zM241.2,757.6h0.62v0.62h-0.62zM219.5,730.4h0.62v0.62h-0.62zM238.1,772.4h0.62v0.62h-0.62zM231.5,736.5h0.62v0.62h-0.62zM194.4,708.6h0.62v0.62h-0.62zM199.9,711.5h0.62v0.62h-0.62zM232.2,761.2h0.62v0.62h-0.62zM243.2,769.7h0.62v0.62h-0.62zM215.8,726.7h0.62v0.62h-0.62zM220.9,731.0h0.62v0.62h-0.62zM242.1,773.6h0.62v0.62h-0.62zM230.6,765.0h0.62v0.62h-0.62zM218.1,731.6h0.62v0.62h-0.62zM247.3,776.9h0.62v0.62h-0.62zM223.5,731.0h0.62v0.62h-0.62zM209.1,724.1h0.62v0.62h-0.62zM238.3,767.0h0.62v0.62h-0.62zM215.0,731.3h0.62v0.62h-0.62zM244.8,765.3h0.62v0.62h-0.62zM199.5,716.3h0.62v0.62h-0.62zM217.8,731.5h0.62v0.62h-0.62zM218.2,723.9h0.62v0.62h-0.62zM222.2,730.6h0.62v0.62h-0.62zM235.4,772.9h0.62v0.62h-0.62zM229.9,754.3h0.62v0.62h-0.62zM189.2,706.5h0.62v0.62h-0.62zM240.9,763.8h0.62v0.62h-0.62zM209.4,712.1h0.62v0.62h-0.62zM228.9,743.1h0.62v0.62h-0.62zM228.1,739.0h0.62v0.62h-0.62zM224.3,754.8h0.62v0.62h-0.62zM213.0,725.0h0.62v0.62h-0.62zM200.5,715.5h0.62v0.62h-0.62zM194.5,707.9h0.62v0.62h-0.62zM242.8,763.0h0.62v0.62h-0.62zM238.1,757.3h0.62v0.62h-0.62zM227.2,748.4h0.62v0.62h-0.62zM241.7,764.6h0.62v0.62h-0.62zM205.9,715.9h0.62v0.62h-0.62zM236.7,770.1h0.62v0.62h-0.62zM215.6,732.7h0.62v0.62h-0.62zM223.3,728.9h0.62v0.62h-0.62zM233.8,751.0h0.62v0.62h-0.62zM240.1,777.3h0.62v0.62h-0.62zM195.0,708.2h0.62v0.62h-0.62zM226.0,745.1h0.62v0.62h-0.62zM236.3,765.0h0.62v0.62h-0.62zM224.3,740.9h0.62v0.62h-0.62zM208.3,713.8h0.62v0.62h-0.62zM197.5,709.6h0.62v0.62h-0.62zM237.9,760.1h0.62v0.62h-0.62zM238.1,771.9h0.62v0.62h-0.62zM222.8,735.1h0.62v0.62h-0.62zM214.5,723.8h0.62v0.62h-0.62zM223.4,737.9h0.62v0.62h-0.62zM195.0,710.7h0.62v0.62h-0.62zM224.4,741.0h0.62v0.62h-0.62zM210.3,721.7h0.62v0.62h-0.62zM233.9,768.6h0.62v0.62h-0.62zM242.6,773.9h0.62v0.62h-0.62zM212.7,738.1h0.62v0.62h-0.62zM229.2,753.2h0.62v0.62h-0.62zM209.7,729.8h0.62v0.62h-0.62zM241.8,762.1h0.62v0.62h-0.62zM241.4,768.7h0.62v0.62h-0.62zM221.4,732.3h0.62v0.62h-0.62zM205.3,723.2h0.62v0.62h-0.62zM220.4,730.6h0.62v0.62h-0.62zM230.9,754.5h0.62v0.62h-0.62zM243.6,773.7h0.62v0.62h-0.62zM215.3,730.1h0.62v0.62h-0.62zM245.3,774.0h0.62v0.62h-0.62zM214.5,729.4h0.62v0.62h-0.62zM236.6,756.7h0.62v0.62h-0.62zM192.8,708.8h0.62v0.62h-0.62zM245.5,775.5h0.62v0.62h-0.62zM224.0,745.3h0.62v0.62h-0.62zM218.6,721.7h0.62v0.62h-0.62zM229.8,750.0h0.62v0.62h-0.62zM218.3,736.2h0.62v0.62h-0.62zM241.9,762.7h0.62v0.62h-0.62zM199.3,710.1h0.62v0.62h-0.62zM244.3,775.1h0.62v0.62h-0.62zM197.7,714.9h0.62v0.62h-0.62zM202.5,711.0h0.62v0.62h-0.62zM233.2,760.1h0.62v0.62h-0.62zM213.5,726.1h0.62v0.62h-0.62zM242.3,770.8h0.62v0.62h-0.62zM213.9,722.4h0.62v0.62h-0.62zM242.4,752.9h0.62v0.62h-0.62zM241.7,774.9h0.62v0.62h-0.62zM243.8,774.6h0.62v0.62h-0.62zM233.3,738.4h0.62v0.62h-0.62zM248.9,763.9h0.62v0.62h-0.62zM215.5,722.7h0.62v0.62h-0.62zM217.0,725.1h0.62v0.62h-0.62zM236.2,772.7h0.62v0.62h-0.62zM223.3,730.3h0.62v0.62h-0.62zM203.3,715.9h0.62v0.62h-0.62zM214.7,726.8h0.62v0.62h-0.62zM200.4,712.3h0.62v0.62h-0.62zM222.0,753.4h0.62v0.62h-0.62zM235.4,756.1h0.62v0.62h-0.62zM219.4,737.0h0.62v0.62h-0.62zM246.1,775.2h0.62v0.62h-0.62zM205.2,714.0h0.62v0.62h-0.62zM237.2,765.6h0.62v0.62h-0.62zM203.0,719.2h0.62v0.62h-0.62zM227.0,756.0h0.62v0.62h-0.62zM226.7,742.6h0.62v0.62h-0.62zM204.0,714.6h0.62v0.62h-0.62zM238.7,764.7h0.62v0.62h-0.62zM244.5,777.3h0.62v0.62h-0.62zM205.9,717.2h0.62v0.62h-0.62zM217.6,732.7h0.62v0.62h-0.62zM237.5,754.8h0.62v0.62h-0.62zM216.5,721.0h0.62v0.62h-0.62zM213.7,735.4h0.62v0.62h-0.62zM245.9,770.9h0.62v0.62h-0.62zM217.1,726.9h0.62v0.62h-0.62zM219.5,727.7h0.62v0.62h-0.62zM245.8,767.0h0.62v0.62h-0.62zM226.3,748.9h0.62v0.62h-0.62zM229.9,751.8h0.62v0.62h-0.62zM238.8,753.6h0.62v0.62h-0.62zM245.8,772.6h0.62v0.62h-0.62zM204.6,713.7h0.62v0.62h-0.62zM222.8,724.3h0.62v0.62h-0.62zM217.6,736.0h0.62v0.62h-0.62zM218.3,729.9h0.62v0.62h-0.62zM225.9,750.7h0.62v0.62h-0.62zM231.8,749.9h0.62v0.62h-0.62zM203.1,716.6h0.62v0.62h-0.62zM236.9,773.0h0.62v0.62h-0.62zM213.5,727.5h0.62v0.62h-0.62zM211.7,732.9h0.62v0.62h-0.62zM222.6,741.1h0.62v0.62h-0.62zM224.4,733.5h0.62v0.62h-0.62zM219.8,732.8h0.62v0.62h-0.62zM203.6,721.8h0.62v0.62h-0.62zM252.8,774.7h0.62v0.62h-0.62zM244.0,776.8h0.62v0.62h-0.62zM237.6,756.2h0.62v0.62h-0.62zM241.0,773.3h0.62v0.62h-0.62zM237.3,756.3h0.62v0.62h-0.62zM208.4,714.5h0.62v0.62h-0.62zM243.7,777.1h0.62v0.62h-0.62zM236.1,759.3h0.62v0.62h-0.62zM219.1,727.6h0.62v0.62h-0.62zM213.7,721.9h0.62v0.62h-0.62zM223.4,744.2h0.62v0.62h-0.62zM235.3,743.0h0.62v0.62h-0.62zM190.4,710.6h0.62v0.62h-0.62zM216.3,724.5h0.62v0.62h-0.62zM228.0,743.5h0.62v0.62h-0.62zM221.4,740.7h0.62v0.62h-0.62zM198.7,708.7h0.62v0.62h-0.62zM191.8,712.9h0.62v0.62h-0.62zM240.8,776.1h0.62v0.62h-0.62zM230.4,748.6h0.62v0.62h-0.62zM226.3,742.3h0.62v0.62h-0.62zM243.3,771.3h0.62v0.62h-0.62zM228.3,746.5h0.62v0.62h-0.62zM247.3,764.7h0.62v0.62h-0.62zM243.4,774.8h0.62v0.62h-0.62zM243.1,769.8h0.62v0.62h-0.62zM233.5,743.5h0.62v0.62h-0.62zM233.6,745.5h0.62v0.62h-0.62zM195.4,709.4h0.62v0.62h-0.62zM242.6,762.4h0.62v0.62h-0.62zM241.5,763.2h0.62v0.62h-0.62zM206.4,714.7h0.62v0.62h-0.62zM218.5,744.2h0.62v0.62h-0.62zM238.0,772.3h0.62v0.62h-0.62zM213.3,720.9h0.62v0.62h-0.62zM218.8,742.5h0.62v0.62h-0.62zM204.7,718.5h0.62v0.62h-0.62zM200.9,714.2h0.62v0.62h-0.62zM243.5,769.9h0.62v0.62h-0.62zM223.9,727.6h0.62v0.62h-0.62zM222.0,736.2h0.62v0.62h-0.62zM230.3,745.8h0.62v0.62h-0.62zM233.9,762.1h0.62v0.62h-0.62zM222.3,741.3h0.62v0.62h-0.62zM221.6,750.5h0.62v0.62h-0.62zM225.8,748.2h0.62v0.62h-0.62zM221.2,731.4h0.62v0.62h-0.62zM235.8,754.7h0.62v0.62h-0.62zM190.9,711.1h0.62v0.62h-0.62zM225.8,745.6h0.62v0.62h-0.62zM219.9,727.6h0.62v0.62h-0.62zM215.7,731.0h0.62v0.62h-0.62zM240.0,766.4h0.62v0.62h-0.62zM243.9,761.3h0.62v0.62h-0.62zM226.4,740.7h0.62v0.62h-0.62zM228.2,763.7h0.62v0.62h-0.62zM225.7,735.1h0.62v0.62h-0.62zM244.8,759.4h0.62v0.62h-0.62zM226.5,740.8h0.62v0.62h-0.62zM224.6,737.2h0.62v0.62h-0.62zM217.2,731.3h0.62v0.62h-0.62zM231.3,736.8h0.62v0.62h-0.62zM191.4,712.8h0.62v0.62h-0.62zM240.1,763.0h0.62v0.62h-0.62zM198.9,717.4h0.62v0.62h-0.62zM201.4,720.7h0.62v0.62h-0.62zM199.4,709.1h0.62v0.62h-0.62zM199.3,713.2h0.62v0.62h-0.62zM187.9,706.0h0.62v0.62h-0.62zM230.6,740.0h0.62v0.62h-0.62zM197.1,708.4h0.62v0.62h-0.62zM194.4,711.2h0.62v0.62h-0.62zM222.2,735.6h0.62v0.62h-0.62zM248.9,771.5h0.62v0.62h-0.62zM232.3,745.4h0.62v0.62h-0.62zM190.6,708.0h0.62v0.62h-0.62zM232.3,747.9h0.62v0.62h-0.62zM242.1,771.5h0.62v0.62h-0.62zM241.9,773.5h0.62v0.62h-0.62zM221.4,733.9h0.62v0.62h-0.62zM214.2,723.6h0.62v0.62h-0.62zM228.8,753.5h0.62v0.62h-0.62zM198.7,714.5h0.62v0.62h-0.62zM245.1,770.8h0.62v0.62h-0.62zM231.2,741.1h0.62v0.62h-0.62zM226.1,747.0h0.62v0.62h-0.62zM223.8,727.0h0.62v0.62h-0.62zM239.8,773.7h0.62v0.62h-0.62zM193.1,710.6h0.62v0.62h-0.62zM210.7,728.2h0.62v0.62h-0.62zM218.6,726.6h0.62v0.62h-0.62zM191.0,710.3h0.62v0.62h-0.62zM230.7,735.2h0.62v0.62h-0.62zM243.7,776.7h0.62v0.62h-0.62zM217.4,742.7h0.62v0.62h-0.62zM229.4,741.9h0.62v0.62h-0.62zM244.4,770.8h0.62v0.62h-0.62zM232.9,742.2h0.62v0.62h-0.62zM210.7,727.4h0.62v0.62h-0.62zM239.6,758.3h0.62v0.62h-0.62zM208.0,721.3h0.62v0.62h-0.62zM220.6,737.4h0.62v0.62h-0.62zM208.4,725.6h0.62v0.62h-0.62zM233.1,749.5h0.62v0.62h-0.62zM213.6,734.8h0.62v0.62h-0.62zM237.9,751.1h0.62v0.62h-0.62zM190.8,709.6h0.62v0.62h-0.62zM235.8,743.0h0.62v0.62h-0.62zM241.7,776.2h0.62v0.62h-0.62zM205.1,712.3h0.62v0.62h-0.62zM236.8,758.4h0.62v0.62h-0.62zM243.3,776.1h0.62v0.62h-0.62zM242.3,765.9h0.62v0.62h-0.62zM220.2,729.5h0.62v0.62h-0.62zM231.0,761.1h0.62v0.62h-0.62zM198.1,712.4h0.62v0.62h-0.62zM201.1,719.2h0.62v0.62h-0.62zM224.8,751.4h0.62v0.62h-0.62zM241.5,774.1h0.62v0.62h-0.62zM230.6,753.8h0.62v0.62h-0.62zM236.4,758.4h0.62v0.62h-0.62zM225.3,749.9h0.62v0.62h-0.62zM216.8,731.4h0.62v0.62h-0.62zM229.2,741.1h0.62v0.62h-0.62zM196.7,709.9h0.62v0.62h-0.62zM229.3,750.3h0.62v0.62h-0.62zM231.4,749.5h0.62v0.62h-0.62zM206.9,725.2h0.62v0.62h-0.62zM237.9,749.6h0.62v0.62h-0.62zM194.1,710.0h0.62v0.62h-0.62zM243.0,762.0h0.62v0.62h-0.62zM216.6,732.4h0.62v0.62h-0.62zM201.2,710.6h0.62v0.62h-0.62zM241.4,764.5h0.62v0.62h-0.62zM205.5,718.0h0.62v0.62h-0.62zM212.0,718.4h0.62v0.62h-0.62zM228.2,738.3h0.62v0.62h-0.62zM223.9,753.9h0.62v0.62h-0.62zM242.9,762.7h0.62v0.62h-0.62zM226.4,746.1h0.62v0.62h-0.62zM243.4,774.4h0.62v0.62h-0.62zM189.7,708.8h0.62v0.62h-0.62zM245.8,775.5h0.62v0.62h-0.62zM211.6,715.4h0.62v0.62h-0.62zM247.7,769.6h0.62v0.62h-0.62zM195.3,706.6h0.62v0.62h-0.62zM233.0,764.6h0.62v0.62h-0.62zM244.6,777.9h0.62v0.62h-0.62zM249.3,773.1h0.62v0.62h-0.62zM236.7,765.1h0.62v0.62h-0.62zM238.7,760.8h0.62v0.62h-0.62zM213.2,731.1h0.62v0.62h-0.62zM245.4,769.7h0.62v0.62h-0.62zM229.8,766.1h0.62v0.62h-0.62zM217.3,730.3h0.62v0.62h-0.62zM245.5,767.0h0.62v0.62h-0.62zM203.3,720.1h0.62v0.62h-0.62zM215.9,737.9h0.62v0.62h-0.62zM231.4,762.0h0.62v0.62h-0.62zM245.0,771.0h0.62v0.62h-0.62zM216.8,729.3h0.62v0.62h-0.62zM198.4,712.6h0.62v0.62h-0.62zM232.7,749.5h0.62v0.62h-0.62zM243.3,766.6h0.62v0.62h-0.62zM235.1,771.7h0.62v0.62h-0.62zM194.0,712.2h0.62v0.62h-0.62zM212.7,733.3h0.62v0.62h-0.62zM215.0,731.2h0.62v0.62h-0.62zM218.1,739.2h0.62v0.62h-0.62zM232.1,745.9h0.62v0.62h-0.62zM208.0,720.4h0.62v0.62h-0.62zM218.2,738.6h0.62v0.62h-0.62zM242.6,772.9h0.62v0.62h-0.62zM211.0,734.0h0.62v0.62h-0.62zM228.6,745.7h0.62v0.62h-0.62zM224.8,749.6h0.62v0.62h-0.62zM211.1,719.3h0.62v0.62h-0.62zM191.7,708.7h0.62v0.62h-0.62zM207.8,715.0h0.62v0.62h-0.62zM245.4,777.6h0.62v0.62h-0.62zM215.3,722.4h0.62v0.62h-0.62zM226.6,730.8h0.62v0.62h-0.62zM210.6,734.0h0.62v0.62h-0.62zM217.9,735.9h0.62v0.62h-0.62zM219.5,738.3h0.62v0.62h-0.62zM215.4,732.2h0.62v0.62h-0.62zM245.6,762.8h0.62v0.62h-0.62zM228.1,741.1h0.62v0.62h-0.62zM224.5,753.6h0.62v0.62h-0.62zM208.2,730.6h0.62v0.62h-0.62zM233.5,763.7h0.62v0.62h-0.62zM216.2,745.2h0.62v0.62h-0.62zM208.4,728.5h0.62v0.62h-0.62zM234.7,767.9h0.62v0.62h-0.62zM212.2,731.7h0.62v0.62h-0.62zM237.1,777.6h0.62v0.62h-0.62zM201.5,717.5h0.62v0.62h-0.62zM193.6,714.8h0.62v0.62h-0.62zM241.2,778.7h0.62v0.62h-0.62zM201.6,720.2h0.62v0.62h-0.62zM238.7,778.9h0.62v0.62h-0.62zM228.5,764.9h0.62v0.62h-0.62zM214.4,734.5h0.62v0.62h-0.62zM223.4,755.0h0.62v0.62h-0.62zM240.0,775.6h0.62v0.62h-0.62zM237.1,774.4h0.62v0.62h-0.62zM195.7,716.2h0.62v0.62h-0.62zM200.1,719.7h0.62v0.62h-0.62zM198.5,716.8h0.62v0.62h-0.62zM227.2,766.0h0.62v0.62h-0.62zM233.3,765.1h0.62v0.62h-0.62zM218.8,741.1h0.62v0.62h-0.62zM193.6,715.6h0.62v0.62h-0.62zM195.0,716.3h0.62v0.62h-0.62zM230.3,762.7h0.62v0.62h-0.62zM196.4,714.7h0.62v0.62h-0.62zM227.2,758.8h0.62v0.62h-0.62zM204.4,724.5h0.62v0.62h-0.62zM239.4,777.3h0.62v0.62h-0.62zM190.8,712.3h0.62v0.62h-0.62zM220.1,746.8h0.62v0.62h-0.62zM216.1,746.3h0.62v0.62h-0.62zM224.9,756.3h0.62v0.62h-0.62zM227.2,753.5h0.62v0.62h-0.62zM234.4,774.3h0.62v0.62h-0.62zM227.5,764.1h0.62v0.62h-0.62zM206.7,730.9h0.62v0.62h-0.62zM228.9,765.9h0.62v0.62h-0.62zM232.7,767.1h0.62v0.62h-0.62zM232.9,766.0h0.62v0.62h-0.62zM201.0,718.2h0.62v0.62h-0.62zM230.8,766.0h0.62v0.62h-0.62zM229.4,765.4h0.62v0.62h-0.62zM194.0,714.2h0.62v0.62h-0.62zM192.0,713.3h0.62v0.62h-0.62zM238.1,772.3h0.62v0.62h-0.62zM228.0,762.3h0.62v0.62h-0.62zM197.9,717.0h0.62v0.62h-0.62zM193.6,713.1h0.62v0.62h-0.62zM228.8,767.7h0.62v0.62h-0.62zM207.7,727.9h0.62v0.62h-0.62zM211.3,732.2h0.62v0.62h-0.62zM189.5,710.6h0.62v0.62h-0.62zM222.4,756.1h0.62v0.62h-0.62zM192.3,714.3h0.62v0.62h-0.62zM198.3,717.5h0.62v0.62h-0.62zM197.7,719.0h0.62v0.62h-0.62zM207.9,733.2h0.62v0.62h-0.62zM219.3,751.5h0.62v0.62h-0.62zM205.5,725.9h0.62v0.62h-0.62zM212.9,735.6h0.62v0.62h-0.62zM200.0,718.1h0.62v0.62h-0.62zM225.0,751.8h0.62v0.62h-0.62zM233.0,765.1h0.62v0.62h-0.62zM217.5,751.3h0.62v0.62h-0.62zM235.8,772.5h0.62v0.62h-0.62zM220.1,751.4h0.62v0.62h-0.62zM192.9,714.8h0.62v0.62h-0.62zM235.3,773.9h0.62v0.62h-0.62zM212.8,732.4h0.62v0.62h-0.62zM214.4,741.7h0.62v0.62h-0.62zM211.2,734.1h0.62v0.62h-0.62zM222.8,750.8h0.62v0.62h-0.62zM189.9,710.8h0.62v0.62h-0.62zM229.1,757.1h0.62v0.62h-0.62zM207.3,731.2h0.62v0.62h-0.62zM237.7,777.3h0.62v0.62h-0.62zM235.3,767.2h0.62v0.62h-0.62zM226.2,761.1h0.62v0.62h-0.62zM216.8,742.9h0.62v0.62h-0.62zM205.3,724.3h0.62v0.62h-0.62zM239.5,777.6h0.62v0.62h-0.62zM220.5,750.9h0.62v0.62h-0.62zM205.1,722.1h0.62v0.62h-0.62zM193.7,714.1h0.62v0.62h-0.62zM224.5,749.7h0.62v0.62h-0.62zM200.6,717.0h0.62v0.62h-0.62zM220.7,756.0h0.62v0.62h-0.62zM206.5,729.4h0.62v0.62h-0.62zM235.1,771.0h0.62v0.62h-0.62zM231.6,774.0h0.62v0.62h-0.62zM214.7,735.9h0.62v0.62h-0.62zM197.0,717.1h0.62v0.62h-0.62zM223.9,750.3h0.62v0.62h-0.62zM201.0,721.0h0.62v0.62h-0.62zM189.7,711.2h0.62v0.62h-0.62zM220.7,756.0h0.62v0.62h-0.62zM196.4,716.1h0.62v0.62h-0.62zM219.8,754.8h0.62v0.62h-0.62zM234.6,771.7h0.62v0.62h-0.62zM222.7,751.4h0.62v0.62h-0.62zM210.5,731.8h0.62v0.62h-0.62zM211.8,732.5h0.62v0.62h-0.62zM214.3,745.2h0.62v0.62h-0.62zM208.1,733.5h0.62v0.62h-0.62zM231.8,773.9h0.62v0.62h-0.62zM214.3,736.7h0.62v0.62h-0.62zM209.8,737.1h0.62v0.62h-0.62zM202.0,720.4h0.62v0.62h-0.62zM204.8,721.9h0.62v0.62h-0.62zM203.1,719.0h0.62v0.62h-0.62zM223.5,757.7h0.62v0.62h-0.62zM212.5,735.4h0.62v0.62h-0.62zM199.7,716.6h0.62v0.62h-0.62zM197.6,716.2h0.62v0.62h-0.62zM218.1,741.6h0.62v0.62h-0.62zM193.0,714.7h0.62v0.62h-0.62zM217.6,748.5h0.62v0.62h-0.62zM195.1,735.8h0.62v0.62h-0.62zM209.6,771.2h0.62v0.62h-0.62zM185.2,740.4h0.62v0.62h-0.62zM190.4,729.5h0.62v0.62h-0.62zM190.1,745.7h0.62v0.62h-0.62zM188.6,739.7h0.62v0.62h-0.62zM222.5,776.1h0.62v0.62h-0.62zM200.6,769.7h0.62v0.62h-0.62zM219.2,772.8h0.62v0.62h-0.62zM192.5,743.3h0.62v0.62h-0.62zM189.0,724.8h0.62v0.62h-0.62zM185.8,722.7h0.62v0.62h-0.62zM215.8,775.2h0.62v0.62h-0.62zM184.5,728.3h0.62v0.62h-0.62zM184.6,737.4h0.62v0.62h-0.62zM188.6,756.7h0.62v0.62h-0.62zM211.8,769.9h0.62v0.62h-0.62zM191.2,737.5h0.62v0.62h-0.62zM193.5,729.3h0.62v0.62h-0.62zM220.4,776.6h0.62v0.62h-0.62zM187.0,723.1h0.62v0.62h-0.62zM221.4,773.4h0.62v0.62h-0.62zM189.2,735.4h0.62v0.62h-0.62zM196.4,756.4h0.62v0.62h-0.62zM198.1,758.5h0.62v0.62h-0.62zM196.8,743.9h0.62v0.62h-0.62zM194.2,748.8h0.62v0.62h-0.62zM203.4,767.6h0.62v0.62h-0.62zM197.0,752.3h0.62v0.62h-0.62zM184.2,746.4h0.62v0.62h-0.62zM205.8,768.0h0.62v0.62h-0.62zM216.3,772.1h0.62v0.62h-0.62zM194.1,752.2h0.62v0.62h-0.62zM208.7,756.1h0.62v0.62h-0.62zM206.5,764.0h0.62v0.62h-0.62zM208.1,775.3h0.62v0.62h-0.62zM192.1,755.3h0.62v0.62h-0.62zM221.6,775.7h0.62v0.62h-0.62zM182.6,721.0h0.62v0.62h-0.62zM211.5,761.5h0.62v0.62h-0.62zM216.0,765.1h0.62v0.62h-0.62zM214.7,772.0h0.62v0.62h-0.62zM181.4,724.0h0.62v0.62h-0.62zM207.1,766.0h0.62v0.62h-0.62zM196.0,746.2h0.62v0.62h-0.62zM186.4,737.9h0.62v0.62h-0.62zM181.5,736.5h0.62v0.62h-0.62zM222.9,775.4h0.62v0.62h-0.62zM190.4,726.2h0.62v0.62h-0.62zM212.7,765.6h0.62v0.62h-0.62zM188.7,747.0h0.62v0.62h-0.62zM193.3,754.0h0.62v0.62h-0.62zM205.2,749.9h0.62v0.62h-0.62zM213.3,772.7h0.62v0.62h-0.62zM195.6,749.4h0.62v0.62h-0.62zM192.9,749.0h0.62v0.62h-0.62zM192.1,750.4h0.62v0.62h-0.62zM182.7,725.4h0.62v0.62h-0.62zM189.7,737.0h0.62v0.62h-0.62zM225.5,775.7h0.62v0.62h-0.62zM219.5,771.2h0.62v0.62h-0.62zM208.1,770.8h0.62v0.62h-0.62zM199.2,760.9h0.62v0.62h-0.62zM200.7,762.0h0.62v0.62h-0.62zM207.8,774.2h0.62v0.62h-0.62zM189.3,736.5h0.62v0.62h-0.62zM200.3,761.4h0.62v0.62h-0.62zM220.0,772.2h0.62v0.62h-0.62zM225.1,777.5h0.62v0.62h-0.62zM221.1,772.3h0.62v0.62h-0.62zM194.5,760.8h0.62v0.62h-0.62zM219.7,775.1h0.62v0.62h-0.62zM217.1,766.9h0.62v0.62h-0.62zM183.9,724.1h0.62v0.62h-0.62zM197.4,738.6h0.62v0.62h-0.62zM185.2,719.7h0.62v0.62h-0.62zM189.9,732.8h0.62v0.62h-0.62zM209.4,758.2h0.62v0.62h-0.62zM212.5,766.0h0.62v0.62h-0.62zM180.3,725.0h0.62v0.62h-0.62zM206.8,762.7h0.62v0.62h-0.62zM207.8,764.8h0.62v0.62h-0.62zM189.2,738.5h0.62v0.62h-0.62zM182.4,726.4h0.62v0.62h-0.62zM213.0,764.3h0.62v0.62h-0.62zM204.6,763.4h0.62v0.62h-0.62zM189.3,757.1h0.62v0.62h-0.62zM204.4,760.0h0.62v0.62h-0.62zM224.5,775.0h0.62v0.62h-0.62zM190.5,725.4h0.62v0.62h-0.62zM189.7,727.8h0.62v0.62h-0.62zM220.8,777.5h0.62v0.62h-0.62zM203.2,761.7h0.62v0.62h-0.62zM197.3,763.3h0.62v0.62h-0.62zM206.6,756.7h0.62v0.62h-0.62zM186.4,726.2h0.62v0.62h-0.62zM187.8,748.2h0.62v0.62h-0.62zM212.1,759.4h0.62v0.62h-0.62zM187.4,726.6h0.62v0.62h-0.62zM190.0,750.4h0.62v0.62h-0.62zM188.5,744.6h0.62v0.62h-0.62zM225.3,777.5h0.62v0.62h-0.62zM207.6,772.4h0.62v0.62h-0.62zM186.7,722.3h0.62v0.62h-0.62zM188.4,742.4h0.62v0.62h-0.62zM191.6,751.2h0.62v0.62h-0.62zM209.7,766.8h0.62v0.62h-0.62zM221.3,769.2h0.62v0.62h-0.62zM198.0,752.4h0.62v0.62h-0.62zM226.0,775.7h0.62v0.62h-0.62zM198.9,736.9h0.62v0.62h-0.62zM213.0,768.7h0.62v0.62h-0.62zM204.6,754.6h0.62v0.62h-0.62zM216.0,768.9h0.62v0.62h-0.62zM187.5,733.7h0.62v0.62h-0.62zM198.5,743.8h0.62v0.62h-0.62zM186.2,730.5h0.62v0.62h-0.62zM201.2,761.0h0.62v0.62h-0.62zM190.7,747.2h0.62v0.62h-0.62zM216.8,768.8h0.62v0.62h-0.62zM181.3,737.3h0.62v0.62h-0.62zM206.2,759.6h0.62v0.62h-0.62zM200.7,748.3h0.62v0.62h-0.62zM202.0,765.2h0.62v0.62h-0.62zM213.5,764.5h0.62v0.62h-0.62zM187.2,721.7h0.62v0.62h-0.62zM206.6,764.0h0.62v0.62h-0.62zM219.4,774.8h0.62v0.62h-0.62zM210.1,759.9h0.62v0.62h-0.62zM221.6,776.5h0.62v0.62h-0.62zM189.0,750.0h0.62v0.62h-0.62zM195.9,752.9h0.62v0.62h-0.62zM190.9,743.2h0.62v0.62h-0.62zM218.4,769.2h0.62v0.62h-0.62zM202.9,762.3h0.62v0.62h-0.62zM207.1,766.5h0.62v0.62h-0.62zM185.7,720.5h0.62v0.62h-0.62zM193.2,729.6h0.62v0.62h-0.62zM200.5,754.5h0.62v0.62h-0.62zM202.9,753.9h0.62v0.62h-0.62zM198.1,759.6h0.62v0.62h-0.62zM206.7,763.1h0.62v0.62h-0.62zM190.0,746.6h0.62v0.62h-0.62zM196.6,761.4h0.62v0.62h-0.62zM190.1,732.7h0.62v0.62h-0.62zM190.8,753.4h0.62v0.62h-0.62zM199.3,749.7h0.62v0.62h-0.62zM207.0,769.6h0.62v0.62h-0.62zM201.7,759.2h0.62v0.62h-0.62zM183.4,728.2h0.62v0.62h-0.62zM186.9,724.1h0.62v0.62h-0.62zM211.3,770.4h0.62v0.62h-0.62zM224.7,778.2h0.62v0.62h-0.62zM196.8,759.4h0.62v0.62h-0.62zM183.2,726.9h0.62v0.62h-0.62zM188.5,731.6h0.62v0.62h-0.62zM197.5,755.6h0.62v0.62h-0.62zM190.8,754.4h0.62v0.62h-0.62zM201.4,756.8h0.62v0.62h-0.62zM191.7,744.8h0.62v0.62h-0.62zM199.2,764.2h0.62v0.62h-0.62zM205.7,761.7h0.62v0.62h-0.62zM212.2,768.2h0.62v0.62h-0.62zM189.7,732.1h0.62v0.62h-0.62zM188.9,744.2h0.62v0.62h-0.62zM208.0,755.3h0.62v0.62h-0.62zM207.9,767.5h0.62v0.62h-0.62zM205.4,752.9h0.62v0.62h-0.62zM200.4,763.2h0.62v0.62h-0.62zM186.8,747.0h0.62v0.62h-0.62zM197.7,739.1h0.62v0.62h-0.62zM189.1,723.3h0.62v0.62h-0.62zM199.9,757.8h0.62v0.62h-0.62zM223.4,775.0h0.62v0.62h-0.62zM206.7,769.4h0.62v0.62h-0.62zM189.6,736.1h0.62v0.62h-0.62zM215.7,766.5h0.62v0.62h-0.62zM188.3,725.5h0.62v0.62h-0.62zM210.6,773.1h0.62v0.62h-0.62zM215.8,772.0h0.62v0.62h-0.62zM211.9,761.0h0.62v0.62h-0.62zM199.7,749.0h0.62v0.62h-0.62zM209.4,761.6h0.62v0.62h-0.62zM203.1,767.5h0.62v0.62h-0.62zM205.8,772.2h0.62v0.62h-0.62zM197.3,752.0h0.62v0.62h-0.62zM206.6,762.5h0.62v0.62h-0.62zM182.7,720.4h0.62v0.62h-0.62zM186.5,722.2h0.62v0.62h-0.62zM193.9,745.7h0.62v0.62h-0.62zM197.6,763.1h0.62v0.62h-0.62zM213.2,768.8h0.62v0.62h-0.62zM183.9,722.2h0.62v0.62h-0.62zM183.4,723.6h0.62v0.62h-0.62zM191.2,738.9h0.62v0.62h-0.62zM215.4,776.7h0.62v0.62h-0.62zM206.6,772.2h0.62v0.62h-0.62zM200.2,755.2h0.62v0.62h-0.62zM188.5,729.1h0.62v0.62h-0.62zM200.9,744.7h0.62v0.62h-0.62zM183.4,729.0h0.62v0.62h-0.62zM207.5,758.9h0.62v0.62h-0.62zM192.1,742.7h0.62v0.62h-0.62zM221.9,773.0h0.62v0.62h-0.62zM223.0,774.2h0.62v0.62h-0.62zM214.7,767.3h0.62v0.62h-0.62zM190.5,750.8h0.62v0.62h-0.62zM186.9,745.1h0.62v0.62h-0.62zM219.0,774.2h0.62v0.62h-0.62zM188.3,749.5h0.62v0.62h-0.62zM220.8,773.0h0.62v0.62h-0.62zM189.3,744.3h0.62v0.62h-0.62zM191.8,739.8h0.62v0.62h-0.62zM183.3,743.6h0.62v0.62h-0.62zM212.6,775.5h0.62v0.62h-0.62zM214.5,775.6h0.62v0.62h-0.62zM200.5,762.0h0.62v0.62h-0.62zM199.4,744.9h0.62v0.62h-0.62zM196.6,750.2h0.62v0.62h-0.62zM209.6,762.9h0.62v0.62h-0.62zM204.6,770.7h0.62v0.62h-0.62zM225.3,776.1h0.62v0.62h-0.62zM187.2,735.0h0.62v0.62h-0.62zM220.8,773.1h0.62v0.62h-0.62zM194.3,737.8h0.62v0.62h-0.62zM190.7,729.7h0.62v0.62h-0.62zM186.6,751.6h0.62v0.62h-0.62zM222.3,776.0h0.62v0.62h-0.62zM207.1,753.7h0.62v0.62h-0.62zM199.3,762.3h0.62v0.62h-0.62zM222.1,774.7h0.62v0.62h-0.62zM223.8,777.3h0.62v0.62h-0.62zM186.1,726.1h0.62v0.62h-0.62zM194.2,741.2h0.62v0.62h-0.62zM220.8,774.6h0.62v0.62h-0.62zM213.0,774.5h0.62v0.62h-0.62zM198.9,755.1h0.62v0.62h-0.62zM202.3,761.2h0.62v0.62h-0.62zM186.8,733.5h0.62v0.62h-0.62zM184.6,719.6h0.62v0.62h-0.62zM197.6,745.1h0.62v0.62h-0.62zM201.7,757.0h0.62v0.62h-0.62zM205.4,769.3h0.62v0.62h-0.62zM218.4,768.1h0.62v0.62h-0.62zM223.3,773.1h0.62v0.62h-0.62zM184.2,719.6h0.62v0.62h-0.62zM195.4,749.0h0.62v0.62h-0.62zM182.4,721.1h0.62v0.62h-0.62zM196.7,741.0h0.62v0.62h-0.62zM210.6,776.2h0.62v0.62h-0.62zM205.2,764.1h0.62v0.62h-0.62zM186.1,723.3h0.62v0.62h-0.62zM190.3,746.2h0.62v0.62h-0.62zM215.1,773.2h0.62v0.62h-0.62zM202.6,752.9h0.62v0.62h-0.62zM203.6,760.1h0.62v0.62h-0.62zM213.7,771.4h0.62v0.62h-0.62zM210.7,771.0h0.62v0.62h-0.62zM207.6,764.0h0.62v0.62h-0.62zM209.6,768.5h0.62v0.62h-0.62zM183.9,726.0h0.62v0.62h-0.62zM219.8,776.4h0.62v0.62h-0.62zM201.0,745.5h0.62v0.62h-0.62zM186.8,734.4h0.62v0.62h-0.62zM198.0,746.3h0.62v0.62h-0.62zM192.6,750.2h0.62v0.62h-0.62zM208.8,769.0h0.62v0.62h-0.62zM190.1,744.1h0.62v0.62h-0.62zM188.1,746.1h0.62v0.62h-0.62zM215.5,768.4h0.62v0.62h-0.62zM224.9,774.2h0.62v0.62h-0.62zM205.6,769.8h0.62v0.62h-0.62zM225.7,778.4h0.62v0.62h-0.62zM197.7,762.8h0.62v0.62h-0.62zM196.0,757.0h0.62v0.62h-0.62zM195.4,745.8h0.62v0.62h-0.62zM195.8,760.5h0.62v0.62h-0.62zM204.2,768.0h0.62v0.62h-0.62zM194.6,731.7h0.62v0.62h-0.62zM210.9,766.0h0.62v0.62h-0.62zM181.1,725.7h0.62v0.62h-0.62zM209.9,759.6h0.62v0.62h-0.62zM221.2,770.6h0.62v0.62h-0.62zM208.6,767.1h0.62v0.62h-0.62zM199.4,746.8h0.62v0.62h-0.62zM202.9,763.2h0.62v0.62h-0.62zM189.4,752.8h0.62v0.62h-0.62zM207.7,763.1h0.62v0.62h-0.62zM218.4,772.0h0.62v0.62h-0.62zM220.8,776.9h0.62v0.62h-0.62zM201.2,743.1h0.62v0.62h-0.62zM218.3,772.0h0.62v0.62h-0.62zM196.8,750.9h0.62v0.62h-0.62zM217.2,775.2h0.62v0.62h-0.62zM184.1,735.7h0.62v0.62h-0.62zM187.2,724.6h0.62v0.62h-0.62zM202.9,754.7h0.62v0.62h-0.62zM186.1,748.2h0.62v0.62h-0.62zM191.2,741.0h0.62v0.62h-0.62zM187.0,725.8h0.62v0.62h-0.62zM217.3,765.2h0.62v0.62h-0.62zM216.8,770.7h0.62v0.62h-0.62zM191.8,755.6h0.62v0.62h-0.62zM198.5,762.9h0.62v0.62h-0.62zM182.9,724.9h0.62v0.62h-0.62zM202.4,761.2h0.62v0.62h-0.62zM198.9,740.8h0.62v0.62h-0.62zM226.4,776.4h0.62v0.62h-0.62zM188.4,750.1h0.62v0.62h-0.62zM189.9,724.2h0.62v0.62h-0.62zM220.8,776.1h0.62v0.62h-0.62zM191.8,726.7h0.62v0.62h-0.62zM186.5,745.2h0.62v0.62h-0.62zM194.5,751.6h0.62v0.62h-0.62zM205.0,754.1h0.62v0.62h-0.62zM189.2,724.4h0.62v0.62h-0.62zM221.5,776.4h0.62v0.62h-0.62zM187.5,722.7h0.62v0.62h-0.62zM213.1,758.9h0.62v0.62h-0.62zM217.6,774.9h0.62v0.62h-0.62zM189.9,728.8h0.62v0.62h-0.62zM202.7,772.6h0.62v0.62h-0.62zM187.3,722.0h0.62v0.62h-0.62zM189.9,742.1h0.62v0.62h-0.62zM213.9,768.5h0.62v0.62h-0.62zM193.8,742.2h0.62v0.62h-0.62zM217.5,771.0h0.62v0.62h-0.62zM200.1,768.7h0.62v0.62h-0.62zM209.4,762.4h0.62v0.62h-0.62zM214.2,760.4h0.62v0.62h-0.62zM195.8,765.9h0.62v0.62h-0.62zM199.0,754.5h0.62v0.62h-0.62zM220.1,768.4h0.62v0.62h-0.62zM224.4,774.0h0.62v0.62h-0.62zM195.5,739.9h0.62v0.62h-0.62zM195.8,734.0h0.62v0.62h-0.62zM189.6,737.5h0.62v0.62h-0.62zM192.1,750.5h0.62v0.62h-0.62zM203.3,753.1h0.62v0.62h-0.62zM189.9,729.3h0.62v0.62h-0.62zM203.8,757.3h0.62v0.62h-0.62zM188.5,757.3h0.62v0.62h-0.62zM220.7,775.8h0.62v0.62h-0.62zM194.9,745.9h0.62v0.62h-0.62zM197.3,751.7h0.62v0.62h-0.62zM218.2,774.5h0.62v0.62h-0.62zM212.6,775.5h0.62v0.62h-0.62zM224.7,775.9h0.62v0.62h-0.62zM200.2,768.6h0.62v0.62h-0.62zM183.4,724.7h0.62v0.62h-0.62zM206.0,768.0h0.62v0.62h-0.62zM218.7,765.1h0.62v0.62h-0.62zM207.4,771.6h0.62v0.62h-0.62zM203.3,751.5h0.62v0.62h-0.62zM198.3,744.6h0.62v0.62h-0.62zM200.2,754.5h0.62v0.62h-0.62zM224.1,776.9h0.62v0.62h-0.62zM198.6,768.7h0.62v0.62h-0.62zM211.2,764.2h0.62v0.62h-0.62zM190.1,744.6h0.62v0.62h-0.62zM192.3,739.2h0.62v0.62h-0.62zM194.5,747.9h0.62v0.62h-0.62zM195.4,751.2h0.62v0.62h-0.62zM186.3,725.6h0.62v0.62h-0.62zM217.7,767.7h0.62v0.62h-0.62zM186.8,725.2h0.62v0.62h-0.62zM188.7,735.1h0.62v0.62h-0.62zM206.4,769.0h0.62v0.62h-0.62zM199.5,755.7h0.62v0.62h-0.62zM198.9,755.5h0.62v0.62h-0.62zM214.3,772.5h0.62v0.62h-0.62zM182.7,746.5h0.62v0.62h-0.62zM192.6,734.5h0.62v0.62h-0.62zM207.4,769.9h0.62v0.62h-0.62zM190.2,728.4h0.62v0.62h-0.62zM191.8,742.1h0.62v0.62h-0.62zM210.9,766.9h0.62v0.62h-0.62zM188.3,726.8h0.62v0.62h-0.62zM204.2,758.7h0.62v0.62h-0.62zM194.0,755.5h0.62v0.62h-0.62zM185.0,725.2h0.62v0.62h-0.62zM225.9,778.0h0.62v0.62h-0.62zM197.1,741.8h0.62v0.62h-0.62zM196.6,756.3h0.62v0.62h-0.62zM214.5,764.9h0.62v0.62h-0.62zM216.4,769.7h0.62v0.62h-0.62zM192.8,750.5h0.62v0.62h-0.62zM202.8,753.3h0.62v0.62h-0.62zM196.8,734.3h0.62v0.62h-0.62zM205.5,770.4h0.62v0.62h-0.62zM199.9,759.7h0.62v0.62h-0.62zM183.5,728.8h0.62v0.62h-0.62zM222.3,775.8h0.62v0.62h-0.62zM189.9,736.0h0.62v0.62h-0.62zM186.5,739.5h0.62v0.62h-0.62zM218.7,774.2h0.62v0.62h-0.62zM200.9,766.3h0.62v0.62h-0.62zM222.0,775.2h0.62v0.62h-0.62zM208.0,764.0h0.62v0.62h-0.62zM201.1,744.1h0.62v0.62h-0.62zM189.1,738.5h0.62v0.62h-0.62zM183.0,730.5h0.62v0.62h-0.62zM217.0,770.5h0.62v0.62h-0.62zM202.7,758.1h0.62v0.62h-0.62zM179.9,728.4h0.62v0.62h-0.62zM209.0,766.2h0.62v0.62h-0.62zM197.0,740.8h0.62v0.62h-0.62zM208.6,767.9h0.62v0.62h-0.62zM192.9,742.7h0.62v0.62h-0.62zM199.6,752.5h0.62v0.62h-0.62zM212.7,774.8h0.62v0.62h-0.62zM223.5,778.2h0.62v0.62h-0.62zM205.4,762.3h0.62v0.62h-0.62zM203.6,768.0h0.62v0.62h-0.62zM190.1,725.2h0.62v0.62h-0.62zM194.7,733.3h0.62v0.62h-0.62zM210.4,769.3h0.62v0.62h-0.62zM225.8,776.2h0.62v0.62h-0.62zM183.9,719.5h0.62v0.62h-0.62zM193.7,757.1h0.62v0.62h-0.62zM196.6,759.3h0.62v0.62h-0.62zM221.1,773.0h0.62v0.62h-0.62zM189.3,731.0h0.62v0.62h-0.62zM205.9,759.4h0.62v0.62h-0.62zM226.5,776.1h0.62v0.62h-0.62zM186.7,725.0h0.62v0.62h-0.62zM209.7,767.0h0.62v0.62h-0.62zM205.6,759.2h0.62v0.62h-0.62zM198.6,758.1h0.62v0.62h-0.62zM189.1,732.9h0.62v0.62h-0.62zM184.9,745.4h0.62v0.62h-0.62zM208.4,765.8h0.62v0.62h-0.62zM201.6,770.4h0.62v0.62h-0.62zM196.9,741.6h0.62v0.62h-0.62zM183.3,719.5h0.62v0.62h-0.62zM199.3,753.6h0.62v0.62h-0.62zM203.2,766.8h0.62v0.62h-0.62zM204.1,768.5h0.62v0.62h-0.62zM204.3,761.8h0.62v0.62h-0.62zM185.1,734.7h0.62v0.62h-0.62zM208.2,762.9h0.62v0.62h-0.62zM204.6,766.6h0.62v0.62h-0.62zM217.2,771.2h0.62v0.62h-0.62zM226.2,777.2h0.62v0.62h-0.62zM223.6,776.7h0.62v0.62h-0.62zM210.6,766.9h0.62v0.62h-0.62zM206.0,766.8h0.62v0.62h-0.62zM200.5,751.5h0.62v0.62h-0.62zM193.9,743.7h0.62v0.62h-0.62zM182.7,725.0h0.62v0.62h-0.62zM207.6,764.0h0.62v0.62h-0.62zM218.7,773.2h0.62v0.62h-0.62zM201.2,760.4h0.62v0.62h-0.62zM206.1,760.5h0.62v0.62h-0.62zM226.6,777.2h0.62v0.62h-0.62zM203.2,763.3h0.62v0.62h-0.62zM181.8,721.0h0.62v0.62h-0.62zM192.0,739.3h0.62v0.62h-0.62zM214.4,775.3h0.62v0.62h-0.62zM215.9,768.5h0.62v0.62h-0.62zM188.6,750.2h0.62v0.62h-0.62zM199.6,746.9h0.62v0.62h-0.62zM185.0,720.2h0.62v0.62h-0.62zM218.7,777.4h0.62v0.62h-0.62zM186.4,740.3h0.62v0.62h-0.62zM192.6,729.8h0.62v0.62h-0.62zM217.1,774.3h0.62v0.62h-0.62zM185.7,741.5h0.62v0.62h-0.62zM222.1,776.3h0.62v0.62h-0.62zM192.6,737.3h0.62v0.62h-0.62zM210.6,768.1h0.62v0.62h-0.62zM216.8,775.8h0.62v0.62h-0.62zM216.7,769.1h0.62v0.62h-0.62zM204.1,746.8h0.62v0.62h-0.62zM221.2,769.7h0.62v0.62h-0.62zM203.8,764.5h0.62v0.62h-0.62zM185.4,731.1h0.62v0.62h-0.62zM208.8,764.3h0.62v0.62h-0.62zM196.8,748.8h0.62v0.62h-0.62zM215.6,775.4h0.62v0.62h-0.62zM185.3,725.3h0.62v0.62h-0.62zM192.5,750.9h0.62v0.62h-0.62zM207.2,774.5h0.62v0.62h-0.62zM213.8,764.3h0.62v0.62h-0.62zM197.5,760.0h0.62v0.62h-0.62zM198.1,750.5h0.62v0.62h-0.62zM202.4,765.3h0.62v0.62h-0.62zM208.2,760.3h0.62v0.62h-0.62zM213.0,766.9h0.62v0.62h-0.62zM184.9,729.3h0.62v0.62h-0.62zM205.4,768.5h0.62v0.62h-0.62zM191.5,737.8h0.62v0.62h-0.62zM203.9,754.0h0.62v0.62h-0.62zM210.5,770.2h0.62v0.62h-0.62zM201.3,754.9h0.62v0.62h-0.62zM197.8,744.3h0.62v0.62h-0.62zM188.7,728.6h0.62v0.62h-0.62zM191.7,753.5h0.62v0.62h-0.62zM200.7,747.7h0.62v0.62h-0.62zM188.8,729.8h0.62v0.62h-0.62zM204.7,761.3h0.62v0.62h-0.62zM197.7,764.5h0.62v0.62h-0.62zM194.5,756.6h0.62v0.62h-0.62zM222.7,777.0h0.62v0.62h-0.62zM220.4,774.0h0.62v0.62h-0.62zM219.5,770.8h0.62v0.62h-0.62zM182.4,720.8h0.62v0.62h-0.62zM203.0,753.1h0.62v0.62h-0.62zM203.1,768.9h0.62v0.62h-0.62zM207.9,753.2h0.62v0.62h-0.62zM215.4,772.0h0.62v0.62h-0.62zM184.1,732.7h0.62v0.62h-0.62zM208.2,769.0h0.62v0.62h-0.62zM195.8,760.5h0.62v0.62h-0.62zM195.3,736.1h0.62v0.62h-0.62zM204.9,769.5h0.62v0.62h-0.62zM212.9,765.9h0.62v0.62h-0.62zM197.4,744.9h0.62v0.62h-0.62zM225.5,777.4h0.62v0.62h-0.62zM212.3,772.5h0.62v0.62h-0.62zM188.1,749.4h0.62v0.62h-0.62zM190.2,742.8h0.62v0.62h-0.62zM200.1,741.3h0.62v0.62h-0.62zM189.1,730.1h0.62v0.62h-0.62zM207.4,765.8h0.62v0.62h-0.62zM214.3,772.0h0.62v0.62h-0.62zM197.7,765.2h0.62v0.62h-0.62zM181.8,730.1h0.62v0.62h-0.62zM183.2,725.3h0.62v0.62h-0.62zM185.3,723.5h0.62v0.62h-0.62zM204.9,763.3h0.62v0.62h-0.62zM219.7,769.2h0.62v0.62h-0.62zM191.8,762.9h0.62v0.62h-0.62zM204.9,764.5h0.62v0.62h-0.62zM221.7,776.1h0.62v0.62h-0.62zM219.9,766.0h0.62v0.62h-0.62zM207.4,750.8h0.62v0.62h-0.62zM190.9,733.5h0.62v0.62h-0.62zM196.7,745.3h0.62v0.62h-0.62zM226.3,777.4h0.62v0.62h-0.62zM186.3,731.8h0.62v0.62h-0.62zM191.5,750.0h0.62v0.62h-0.62zM204.9,758.9h0.62v0.62h-0.62zM199.6,767.8h0.62v0.62h-0.62zM221.0,769.8h0.62v0.62h-0.62zM211.3,774.3h0.62v0.62h-0.62zM205.4,761.2h0.62v0.62h-0.62zM200.5,760.6h0.62v0.62h-0.62zM211.8,770.4h0.62v0.62h-0.62zM205.3,769.5h0.62v0.62h-0.62zM198.9,753.8h0.62v0.62h-0.62zM219.1,771.7h0.62v0.62h-0.62zM216.0,769.8h0.62v0.62h-0.62zM208.5,764.1h0.62v0.62h-0.62zM224.0,777.6h0.62v0.62h-0.62zM212.3,777.0h0.62v0.62h-0.62zM182.8,744.6h0.62v0.62h-0.62zM225.0,773.9h0.62v0.62h-0.62zM182.4,745.0h0.62v0.62h-0.62zM203.2,762.1h0.62v0.62h-0.62zM215.1,773.3h0.62v0.62h-0.62zM184.6,735.5h0.62v0.62h-0.62zM185.0,720.0h0.62v0.62h-0.62zM183.2,741.3h0.62v0.62h-0.62zM183.4,720.3h0.62v0.62h-0.62zM185.3,743.9h0.62v0.62h-0.62zM191.8,738.8h0.62v0.62h-0.62zM221.4,774.9h0.62v0.62h-0.62zM181.7,723.3h0.62v0.62h-0.62zM214.1,765.5h0.62v0.62h-0.62zM201.7,768.4h0.62v0.62h-0.62zM193.2,749.3h0.62v0.62h-0.62zM181.1,735.2h0.62v0.62h-0.62zM196.5,757.3h0.62v0.62h-0.62zM195.2,738.4h0.62v0.62h-0.62zM206.3,770.1h0.62v0.62h-0.62zM185.8,745.4h0.62v0.62h-0.62zM226.4,775.6h0.62v0.62h-0.62zM185.1,748.3h0.62v0.62h-0.62zM220.9,777.3h0.62v0.62h-0.62zM226.0,778.7h0.62v0.62h-0.62zM192.6,735.3h0.62v0.62h-0.62zM198.7,758.7h0.62v0.62h-0.62zM214.9,762.9h0.62v0.62h-0.62zM186.4,729.5h0.62v0.62h-0.62zM189.9,746.6h0.62v0.62h-0.62zM219.9,772.7h0.62v0.62h-0.62zM208.8,771.4h0.62v0.62h-0.62zM190.3,729.9h0.62v0.62h-0.62zM201.8,770.2h0.62v0.62h-0.62zM212.6,759.5h0.62v0.62h-0.62zM193.3,737.3h0.62v0.62h-0.62zM197.7,765.4h0.62v0.62h-0.62zM218.6,775.1h0.62v0.62h-0.62zM212.1,758.2h0.62v0.62h-0.62zM218.3,773.1h0.62v0.62h-0.62zM189.5,756.2h0.62v0.62h-0.62zM222.2,771.9h0.62v0.62h-0.62zM226.1,778.3h0.62v0.62h-0.62zM191.1,729.7h0.62v0.62h-0.62zM190.6,740.9h0.62v0.62h-0.62zM186.6,724.0h0.62v0.62h-0.62zM203.3,764.0h0.62v0.62h-0.62zM218.2,776.4h0.62v0.62h-0.62zM193.7,736.6h0.62v0.62h-0.62zM186.6,743.5h0.62v0.62h-0.62zM197.8,752.2h0.62v0.62h-0.62zM184.1,728.4h0.62v0.62h-0.62zM191.9,753.7h0.62v0.62h-0.62zM185.9,722.8h0.62v0.62h-0.62zM189.7,738.0h0.62v0.62h-0.62zM195.8,742.9h0.62v0.62h-0.62zM201.2,754.5h0.62v0.62h-0.62zM214.7,768.7h0.62v0.62h-0.62zM208.8,765.5h0.62v0.62h-0.62zM198.7,746.2h0.62v0.62h-0.62zM189.6,730.0h0.62v0.62h-0.62zM188.9,737.1h0.62v0.62h-0.62zM201.7,754.3h0.62v0.62h-0.62zM220.3,773.0h0.62v0.62h-0.62zM211.1,768.6h0.62v0.62h-0.62zM188.8,740.5h0.62v0.62h-0.62zM222.8,776.7h0.62v0.62h-0.62zM200.9,760.0h0.62v0.62h-0.62zM186.5,724.3h0.62v0.62h-0.62zM207.3,767.7h0.62v0.62h-0.62zM191.0,740.8h0.62v0.62h-0.62zM194.5,761.5h0.62v0.62h-0.62zM191.8,738.1h0.62v0.62h-0.62zM187.2,739.5h0.62v0.62h-0.62zM206.9,759.5h0.62v0.62h-0.62zM216.8,772.0h0.62v0.62h-0.62zM195.3,753.7h0.62v0.62h-0.62zM211.9,771.2h0.62v0.62h-0.62zM197.6,734.6h0.62v0.62h-0.62zM183.5,730.2h0.62v0.62h-0.62zM198.0,762.1h0.62v0.62h-0.62zM185.7,744.8h0.62v0.62h-0.62zM204.8,765.4h0.62v0.62h-0.62zM196.3,753.8h0.62v0.62h-0.62zM204.9,769.7h0.62v0.62h-0.62zM186.4,733.6h0.62v0.62h-0.62zM183.6,725.9h0.62v0.62h-0.62zM226.8,776.0h0.62v0.62h-0.62zM212.7,771.0h0.62v0.62h-0.62zM220.2,772.2h0.62v0.62h-0.62zM196.7,746.8h0.62v0.62h-0.62zM185.9,750.4h0.62v0.62h-0.62zM200.2,740.9h0.62v0.62h-0.62zM185.6,748.6h0.62v0.62h-0.62zM183.5,744.1h0.62v0.62h-0.62zM184.1,721.9h0.62v0.62h-0.62zM196.6,747.2h0.62v0.62h-0.62zM184.8,734.8h0.62v0.62h-0.62zM219.2,777.3h0.62v0.62h-0.62zM193.1,741.3h0.62v0.62h-0.62zM184.1,723.2h0.62v0.62h-0.62zM202.2,762.0h0.62v0.62h-0.62zM205.0,752.6h0.62v0.62h-0.62zM209.1,763.2h0.62v0.62h-0.62zM214.6,770.2h0.62v0.62h-0.62zM211.5,772.0h0.62v0.62h-0.62zM218.1,765.1h0.62v0.62h-0.62zM198.6,740.2h0.62v0.62h-0.62zM208.1,760.3h0.62v0.62h-0.62zM196.4,752.9h0.62v0.62h-0.62zM183.2,744.6h0.62v0.62h-0.62zM209.0,762.4h0.62v0.62h-0.62zM196.5,756.4h0.62v0.62h-0.62zM204.8,752.2h0.62v0.62h-0.62zM199.7,764.7h0.62v0.62h-0.62zM186.2,731.7h0.62v0.62h-0.62zM185.1,739.5h0.62v0.62h-0.62zM199.6,761.3h0.62v0.62h-0.62zM196.1,765.4h0.62v0.62h-0.62zM220.1,773.8h0.62v0.62h-0.62zM188.1,728.2h0.62v0.62h-0.62zM191.7,730.4h0.62v0.62h-0.62zM193.2,735.6h0.62v0.62h-0.62zM190.0,751.5h0.62v0.62h-0.62zM189.5,751.2h0.62v0.62h-0.62zM200.3,748.3h0.62v0.62h-0.62zM226.5,775.7h0.62v0.62h-0.62zM182.5,721.5h0.62v0.62h-0.62zM193.5,764.1h0.62v0.62h-0.62zM187.2,734.9h0.62v0.62h-0.62zM200.7,739.7h0.62v0.62h-0.62zM202.4,763.8h0.62v0.62h-0.62zM212.2,771.2h0.62v0.62h-0.62zM227.0,775.5h0.62v0.62h-0.62zM223.7,776.5h0.62v0.62h-0.62zM223.0,778.5h0.62v0.62h-0.62zM193.9,749.0h0.62v0.62h-0.62zM209.1,762.3h0.62v0.62h-0.62zM225.7,779.3h0.62v0.62h-0.62zM202.1,769.7h0.62v0.62h-0.62zM206.1,765.3h0.62v0.62h-0.62zM202.8,755.6h0.62v0.62h-0.62zM183.7,731.9h0.62v0.62h-0.62zM204.2,761.6h0.62v0.62h-0.62zM195.0,745.6h0.62v0.62h-0.62zM203.8,753.7h0.62v0.62h-0.62zM187.1,730.6h0.62v0.62h-0.62zM202.2,762.1h0.62v0.62h-0.62zM194.8,743.7h0.62v0.62h-0.62zM184.7,725.0h0.62v0.62h-0.62zM213.2,764.9h0.62v0.62h-0.62zM213.6,771.0h0.62v0.62h-0.62zM197.3,742.1h0.62v0.62h-0.62zM206.1,767.7h0.62v0.62h-0.62zM208.7,765.9h0.62v0.62h-0.62zM194.3,744.6h0.62v0.62h-0.62zM193.9,749.6h0.62v0.62h-0.62zM203.9,758.2h0.62v0.62h-0.62zM190.6,738.0h0.62v0.62h-0.62zM190.8,748.3h0.62v0.62h-0.62zM190.3,735.8h0.62v0.62h-0.62zM197.2,744.8h0.62v0.62h-0.62zM188.0,743.9h0.62v0.62h-0.62zM187.3,723.5h0.62v0.62h-0.62zM183.2,725.2h0.62v0.62h-0.62zM210.5,774.2h0.62v0.62h-0.62zM188.9,748.3h0.62v0.62h-0.62zM217.6,771.9h0.62v0.62h-0.62zM199.2,756.5h0.62v0.62h-0.62zM200.2,757.9h0.62v0.62h-0.62zM214.4,769.0h0.62v0.62h-0.62zM197.2,752.9h0.62v0.62h-0.62zM208.4,769.4h0.62v0.62h-0.62zM208.6,771.2h0.62v0.62h-0.62zM213.6,775.8h0.62v0.62h-0.62zM201.1,755.5h0.62v0.62h-0.62zM220.9,774.7h0.62v0.62h-0.62zM213.5,768.7h0.62v0.62h-0.62zM212.7,764.0h0.62v0.62h-0.62zM183.7,724.9h0.62v0.62h-0.62zM210.5,761.9h0.62v0.62h-0.62zM196.8,751.7h0.62v0.62h-0.62zM182.9,730.0h0.62v0.62h-0.62zM207.4,771.8h0.62v0.62h-0.62zM211.9,771.6h0.62v0.62h-0.62zM189.0,751.4h0.62v0.62h-0.62zM193.3,753.2h0.62v0.62h-0.62zM204.3,759.6h0.62v0.62h-0.62zM224.8,775.3h0.62v0.62h-0.62zM225.4,776.7h0.62v0.62h-0.62zM200.1,760.2h0.62v0.62h-0.62zM204.7,760.2h0.62v0.62h-0.62zM181.8,723.8h0.62v0.62h-0.62zM220.5,775.2h0.62v0.62h-0.62zM207.2,761.1h0.62v0.62h-0.62zM188.5,722.9h0.62v0.62h-0.62zM194.0,757.8h0.62v0.62h-0.62zM203.3,764.0h0.62v0.62h-0.62zM209.0,775.3h0.62v0.62h-0.62zM187.9,729.3h0.62v0.62h-0.62zM189.1,730.3h0.62v0.62h-0.62zM187.2,727.4h0.62v0.62h-0.62zM204.2,768.1h0.62v0.62h-0.62zM214.2,767.6h0.62v0.62h-0.62zM187.5,734.0h0.62v0.62h-0.62zM217.5,770.8h0.62v0.62h-0.62zM202.4,753.5h0.62v0.62h-0.62zM202.1,768.9h0.62v0.62h-0.62zM218.9,776.4h0.62v0.62h-0.62zM197.9,755.6h0.62v0.62h-0.62zM193.0,736.3h0.62v0.62h-0.62zM213.9,762.9h0.62v0.62h-0.62zM209.4,769.6h0.62v0.62h-0.62zM222.9,776.9h0.62v0.62h-0.62zM206.3,762.1h0.62v0.62h-0.62zM190.3,742.7h0.62v0.62h-0.62zM221.6,774.4h0.62v0.62h-0.62zM188.3,731.5h0.62v0.62h-0.62zM199.9,742.4h0.62v0.62h-0.62zM187.8,726.9h0.62v0.62h-0.62zM212.0,765.5h0.62v0.62h-0.62zM195.7,755.6h0.62v0.62h-0.62zM197.8,755.0h0.62v0.62h-0.62zM189.2,744.1h0.62v0.62h-0.62zM196.6,744.9h0.62v0.62h-0.62zM192.7,742.7h0.62v0.62h-0.62zM208.1,760.4h0.62v0.62h-0.62zM184.9,736.2h0.62v0.62h-0.62zM215.2,770.7h0.62v0.62h-0.62zM181.7,724.0h0.62v0.62h-0.62zM187.6,739.6h0.62v0.62h-0.62zM216.5,772.4h0.62v0.62h-0.62zM202.6,760.7h0.62v0.62h-0.62zM224.5,773.8h0.62v0.62h-0.62zM221.9,773.8h0.62v0.62h-0.62zM200.0,760.8h0.62v0.62h-0.62zM222.8,772.9h0.62v0.62h-0.62zM214.3,769.3h0.62v0.62h-0.62zM216.9,775.1h0.62v0.62h-0.62zM219.1,775.6h0.62v0.62h-0.62zM191.9,744.8h0.62v0.62h-0.62zM197.7,759.1h0.62v0.62h-0.62zM215.6,774.1h0.62v0.62h-0.62zM183.9,724.8h0.62v0.62h-0.62zM223.3,774.0h0.62v0.62h-0.62zM202.5,769.9h0.62v0.62h-0.62zM216.1,772.1h0.62v0.62h-0.62zM195.2,742.8h0.62v0.62h-0.62zM226.3,776.1h0.62v0.62h-0.62zM184.0,723.1h0.62v0.62h-0.62zM188.9,739.6h0.62v0.62h-0.62zM192.8,749.4h0.62v0.62h-0.62zM200.0,742.9h0.62v0.62h-0.62zM188.1,727.0h0.62v0.62h-0.62zM183.7,736.5h0.62v0.62h-0.62zM188.2,732.4h0.62v0.62h-0.62zM214.6,768.7h0.62v0.62h-0.62zM201.3,750.6h0.62v0.62h-0.62zM193.8,741.2h0.62v0.62h-0.62zM196.4,761.4h0.62v0.62h-0.62zM192.2,734.4h0.62v0.62h-0.62zM218.7,764.8h0.62v0.62h-0.62zM193.6,748.0h0.62v0.62h-0.62zM185.1,741.1h0.62v0.62h-0.62zM192.7,736.0h0.62v0.62h-0.62zM217.0,777.8h0.62v0.62h-0.62zM215.7,778.2h0.62v0.62h-0.62zM192.8,749.4h0.62v0.62h-0.62zM195.4,754.0h0.62v0.62h-0.62zM203.3,771.7h0.62v0.62h-0.62zM182.6,721.5h0.62v0.62h-0.62zM225.9,777.8h0.62v0.62h-0.62zM183.8,721.8h0.62v0.62h-0.62zM189.9,725.8h0.62v0.62h-0.62zM212.8,758.1h0.62v0.62h-0.62zM183.7,725.6h0.62v0.62h-0.62zM183.1,724.5h0.62v0.62h-0.62zM208.0,769.9h0.62v0.62h-0.62zM224.4,775.1h0.62v0.62h-0.62zM196.3,747.3h0.62v0.62h-0.62zM224.0,778.0h0.62v0.62h-0.62zM225.7,777.1h0.62v0.62h-0.62zM191.5,741.6h0.62v0.62h-0.62zM186.3,738.8h0.62v0.62h-0.62zM195.0,742.2h0.62v0.62h-0.62zM211.9,775.3h0.62v0.62h-0.62zM211.9,769.9h0.62v0.62h-0.62zM191.0,739.3h0.62v0.62h-0.62zM198.1,759.9h0.62v0.62h-0.62zM199.0,745.5h0.62v0.62h-0.62zM193.0,745.9h0.62v0.62h-0.62zM197.9,762.3h0.62v0.62h-0.62zM188.5,731.7h0.62v0.62h-0.62zM209.2,764.6h0.62v0.62h-0.62zM187.8,735.4h0.62v0.62h-0.62zM182.5,726.2h0.62v0.62h-0.62zM196.3,751.6h0.62v0.62h-0.62zM185.6,737.3h0.62v0.62h-0.62zM219.1,775.0h0.62v0.62h-0.62zM211.1,771.1h0.62v0.62h-0.62zM205.5,759.2h0.62v0.62h-0.62zM190.2,736.0h0.62v0.62h-0.62zM186.5,728.7h0.62v0.62h-0.62zM218.5,771.6h0.62v0.62h-0.62zM185.7,722.5h0.62v0.62h-0.62zM183.6,732.4h0.62v0.62h-0.62zM197.7,749.4h0.62v0.62h-0.62zM185.4,721.9h0.62v0.62h-0.62zM223.5,776.2h0.62v0.62h-0.62zM192.8,751.8h0.62v0.62h-0.62zM188.0,753.4h0.62v0.62h-0.62zM206.0,756.7h0.62v0.62h-0.62zM196.2,743.6h0.62v0.62h-0.62zM187.4,738.0h0.62v0.62h-0.62zM197.7,760.7h0.62v0.62h-0.62zM191.3,737.0h0.62v0.62h-0.62zM180.7,724.3h0.62v0.62h-0.62zM197.4,759.0h0.62v0.62h-0.62zM189.0,731.3h0.62v0.62h-0.62zM199.3,763.3h0.62v0.62h-0.62zM215.3,769.4h0.62v0.62h-0.62zM181.0,734.7h0.62v0.62h-0.62zM186.3,736.6h0.62v0.62h-0.62zM209.8,771.2h0.62v0.62h-0.62zM207.8,771.2h0.62v0.62h-0.62zM209.4,758.9h0.62v0.62h-0.62zM197.2,757.8h0.62v0.62h-0.62zM216.4,772.8h0.62v0.62h-0.62zM221.8,773.1h0.62v0.62h-0.62zM183.6,733.9h0.62v0.62h-0.62zM182.1,731.1h0.62v0.62h-0.62zM206.4,767.7h0.62v0.62h-0.62zM219.5,773.1h0.62v0.62h-0.62zM205.6,768.4h0.62v0.62h-0.62zM183.3,719.5h0.62v0.62h-0.62zM186.4,732.1h0.62v0.62h-0.62zM182.0,737.5h0.62v0.62h-0.62zM197.8,745.9h0.62v0.62h-0.62zM189.5,755.3h0.62v0.62h-0.62zM213.8,761.9h0.62v0.62h-0.62zM187.3,754.7h0.62v0.62h-0.62zM201.3,767.6h0.62v0.62h-0.62zM205.7,764.7h0.62v0.62h-0.62zM209.1,763.4h0.62v0.62h-0.62zM186.4,742.4h0.62v0.62h-0.62zM202.3,764.6h0.62v0.62h-0.62zM183.4,721.7h0.62v0.62h-0.62zM200.1,765.5h0.62v0.62h-0.62zM208.7,759.8h0.62v0.62h-0.62zM222.8,772.3h0.62v0.62h-0.62zM195.1,743.2h0.62v0.62h-0.62zM196.9,750.4h0.62v0.62h-0.62zM212.0,763.5h0.62v0.62h-0.62zM211.8,772.5h0.62v0.62h-0.62zM202.0,761.7h0.62v0.62h-0.62zM192.1,727.3h0.62v0.62h-0.62zM196.2,766.1h0.62v0.62h-0.62zM222.5,776.9h0.62v0.62h-0.62zM216.7,769.3h0.62v0.62h-0.62zM204.2,753.5h0.62v0.62h-0.62zM188.8,748.7h0.62v0.62h-0.62zM215.1,768.7h0.62v0.62h-0.62zM223.4,776.2h0.62v0.62h-0.62zM191.6,762.7h0.62v0.62h-0.62zM206.8,774.8h0.62v0.62h-0.62zM186.2,748.1h0.62v0.62h-0.62zM190.7,730.3h0.62v0.62h-0.62zM193.4,729.9h0.62v0.62h-0.62zM188.0,755.6h0.62v0.62h-0.62zM199.5,758.7h0.62v0.62h-0.62zM224.3,775.5h0.62v0.62h-0.62zM205.1,759.0h0.62v0.62h-0.62zM226.2,775.6h0.62v0.62h-0.62zM189.0,732.0h0.62v0.62h-0.62zM222.6,776.5h0.62v0.62h-0.62zM181.8,720.5h0.62v0.62h-0.62zM203.6,760.4h0.62v0.62h-0.62zM219.5,776.3h0.62v0.62h-0.62zM200.1,754.3h0.62v0.62h-0.62zM203.6,761.2h0.62v0.62h-0.62zM196.9,748.7h0.62v0.62h-0.62zM188.9,738.8h0.62v0.62h-0.62zM189.2,743.1h0.62v0.62h-0.62zM195.3,758.1h0.62v0.62h-0.62zM213.0,767.2h0.62v0.62h-0.62zM203.8,767.4h0.62v0.62h-0.62zM190.9,759.2h0.62v0.62h-0.62zM223.2,772.4h0.62v0.62h-0.62zM222.1,774.9h0.62v0.62h-0.62zM203.8,753.4h0.62v0.62h-0.62zM185.5,731.6h0.62v0.62h-0.62zM191.1,744.7h0.62v0.62h-0.62zM185.3,721.3h0.62v0.62h-0.62zM189.5,741.2h0.62v0.62h-0.62zM216.1,767.6h0.62v0.62h-0.62zM210.0,767.4h0.62v0.62h-0.62zM189.1,734.4h0.62v0.62h-0.62zM185.0,732.4h0.62v0.62h-0.62zM221.8,775.6h0.62v0.62h-0.62zM218.3,769.8h0.62v0.62h-0.62zM198.7,741.7h0.62v0.62h-0.62zM206.0,750.4h0.62v0.62h-0.62zM198.4,762.3h0.62v0.62h-0.62zM188.3,723.4h0.62v0.62h-0.62zM190.3,731.6h0.62v0.62h-0.62zM193.6,749.1h0.62v0.62h-0.62zM205.1,766.6h0.62v0.62h-0.62zM202.8,764.5h0.62v0.62h-0.62zM182.0,721.0h0.62v0.62h-0.62zM188.8,748.6h0.62v0.62h-0.62zM184.3,740.5h0.62v0.62h-0.62zM192.4,733.3h0.62v0.62h-0.62zM182.6,722.2h0.62v0.62h-0.62zM184.0,724.3h0.62v0.62h-0.62zM186.8,729.4h0.62v0.62h-0.62zM207.7,757.7h0.62v0.62h-0.62zM194.9,760.5h0.62v0.62h-0.62zM196.3,732.0h0.62v0.62h-0.62zM198.1,764.1h0.62v0.62h-0.62zM187.4,727.4h0.62v0.62h-0.62zM209.7,766.9h0.62v0.62h-0.62zM215.4,777.8h0.62v0.62h-0.62zM222.3,776.0h0.62v0.62h-0.62zM187.9,748.2h0.62v0.62h-0.62zM193.4,737.9h0.62v0.62h-0.62zM196.9,752.5h0.62v0.62h-0.62zM207.5,753.1h0.62v0.62h-0.62zM210.9,769.8h0.62v0.62h-0.62zM207.1,755.8h0.62v0.62h-0.62zM193.9,752.0h0.62v0.62h-0.62zM197.6,755.4h0.62v0.62h-0.62zM195.6,758.0h0.62v0.62h-0.62zM184.4,721.3h0.62v0.62h-0.62zM207.8,766.3h0.62v0.62h-0.62zM192.8,755.2h0.62v0.62h-0.62zM188.1,754.2h0.62v0.62h-0.62zM221.3,777.9h0.62v0.62h-0.62zM196.7,749.1h0.62v0.62h-0.62zM182.0,723.8h0.62v0.62h-0.62zM206.8,765.4h0.62v0.62h-0.62zM195.4,737.2h0.62v0.62h-0.62zM216.0,776.9h0.62v0.62h-0.62zM181.7,726.9h0.62v0.62h-0.62zM203.5,767.3h0.62v0.62h-0.62zM220.2,773.8h0.62v0.62h-0.62zM187.2,728.8h0.62v0.62h-0.62zM185.2,732.8h0.62v0.62h-0.62zM190.1,728.5h0.62v0.62h-0.62zM202.1,762.6h0.62v0.62h-0.62zM223.0,777.9h0.62v0.62h-0.62zM216.0,769.8h0.62v0.62h-0.62zM194.8,762.9h0.62v0.62h-0.62zM186.2,745.9h0.62v0.62h-0.62zM180.9,725.4h0.62v0.62h-0.62zM193.5,748.6h0.62v0.62h-0.62zM222.0,778.3h0.62v0.62h-0.62zM209.5,770.0h0.62v0.62h-0.62zM211.6,760.6h0.62v0.62h-0.62zM220.8,777.3h0.62v0.62h-0.62zM199.8,750.5h0.62v0.62h-0.62zM207.2,755.1h0.62v0.62h-0.62zM218.6,777.5h0.62v0.62h-0.62zM190.8,734.9h0.62v0.62h-0.62zM181.1,733.8h0.62v0.62h-0.62zM190.9,746.8h0.62v0.62h-0.62zM223.1,775.5h0.62v0.62h-0.62zM222.8,774.2h0.62v0.62h-0.62zM198.7,764.3h0.62v0.62h-0.62zM187.6,730.5h0.62v0.62h-0.62zM184.7,725.3h0.62v0.62h-0.62zM225.0,777.1h0.62v0.62h-0.62zM221.9,770.6h0.62v0.62h-0.62zM213.0,770.1h0.62v0.62h-0.62zM191.3,732.3h0.62v0.62h-0.62zM184.8,750.8h0.62v0.62h-0.62zM211.3,761.2h0.62v0.62h-0.62zM199.3,748.7h0.62v0.62h-0.62zM189.2,749.2h0.62v0.62h-0.62zM194.1,737.8h0.62v0.62h-0.62zM200.5,748.9h0.62v0.62h-0.62zM192.4,743.0h0.62v0.62h-0.62zM197.6,750.5h0.62v0.62h-0.62zM185.8,734.1h0.62v0.62h-0.62zM207.1,762.3h0.62v0.62h-0.62zM226.0,775.9h0.62v0.62h-0.62zM206.9,769.2h0.62v0.62h-0.62zM216.3,772.6h0.62v0.62h-0.62zM198.1,763.2h0.62v0.62h-0.62zM200.2,762.1h0.62v0.62h-0.62zM192.7,754.5h0.62v0.62h-0.62zM184.7,733.6h0.62v0.62h-0.62zM221.3,777.2h0.62v0.62h-0.62zM193.8,763.4h0.62v0.62h-0.62zM197.5,765.7h0.62v0.62h-0.62zM186.1,725.7h0.62v0.62h-0.62zM186.6,733.9h0.62v0.62h-0.62zM202.5,763.0h0.62v0.62h-0.62zM222.0,775.3h0.62v0.62h-0.62zM192.0,747.3h0.62v0.62h-0.62zM211.2,766.6h0.62v0.62h-0.62zM191.7,739.6h0.62v0.62h-0.62zM200.5,739.2h0.62v0.62h-0.62zM188.7,727.3h0.62v0.62h-0.62zM191.2,737.9h0.62v0.62h-0.62zM180.9,728.8h0.62v0.62h-0.62zM196.1,732.1h0.62v0.62h-0.62zM186.2,739.0h0.62v0.62h-0.62zM195.2,763.9h0.62v0.62h-0.62zM200.5,754.1h0.62v0.62h-0.62zM227.5,774.9h0.62v0.62h-0.62zM193.2,747.9h0.62v0.62h-0.62zM211.9,766.8h0.62v0.62h-0.62zM192.3,758.7h0.62v0.62h-0.62zM190.7,750.7h0.62v0.62h-0.62zM208.6,766.8h0.62v0.62h-0.62zM203.0,758.9h0.62v0.62h-0.62zM184.2,726.2h0.62v0.62h-0.62zM208.5,763.9h0.62v0.62h-0.62zM196.5,750.8h0.62v0.62h-0.62zM218.7,770.6h0.62v0.62h-0.62zM209.4,775.6h0.62v0.62h-0.62zM216.2,774.8h0.62v0.62h-0.62zM208.7,764.2h0.62v0.62h-0.62zM183.4,739.4h0.62v0.62h-0.62zM200.3,760.3h0.62v0.62h-0.62zM196.8,754.6h0.62v0.62h-0.62zM197.0,765.7h0.62v0.62h-0.62zM223.7,777.6h0.62v0.62h-0.62zM219.1,768.5h0.62v0.62h-0.62zM218.2,771.9h0.62v0.62h-0.62zM190.6,747.0h0.62v0.62h-0.62zM220.4,774.6h0.62v0.62h-0.62zM189.4,735.6h0.62v0.62h-0.62zM203.3,761.3h0.62v0.62h-0.62zM185.3,738.8h0.62v0.62h-0.62zM193.0,743.7h0.62v0.62h-0.62zM208.0,765.6h0.62v0.62h-0.62zM185.6,721.2h0.62v0.62h-0.62zM192.9,754.6h0.62v0.62h-0.62zM215.9,771.4h0.62v0.62h-0.62zM203.9,770.4h0.62v0.62h-0.62zM223.9,772.9h0.62v0.62h-0.62zM184.8,728.7h0.62v0.62h-0.62zM189.8,749.7h0.62v0.62h-0.62zM190.8,733.1h0.62v0.62h-0.62zM184.0,719.5h0.62v0.62h-0.62zM200.9,762.0h0.62v0.62h-0.62zM194.8,746.8h0.62v0.62h-0.62zM194.0,754.5h0.62v0.62h-0.62zM216.0,772.7h0.62v0.62h-0.62zM202.7,751.3h0.62v0.62h-0.62zM180.1,729.2h0.62v0.62h-0.62zM183.2,721.7h0.62v0.62h-0.62zM215.4,771.5h0.62v0.62h-0.62zM184.0,721.0h0.62v0.62h-0.62zM199.6,750.5h0.62v0.62h-0.62zM210.0,766.6h0.62v0.62h-0.62zM190.2,740.7h0.62v0.62h-0.62zM197.2,752.7h0.62v0.62h-0.62zM198.8,754.5h0.62v0.62h-0.62zM197.1,742.5h0.62v0.62h-0.62zM225.0,776.5h0.62v0.62h-0.62zM189.7,735.1h0.62v0.62h-0.62zM191.3,747.0h0.62v0.62h-0.62zM196.9,744.2h0.62v0.62h-0.62zM200.9,751.8h0.62v0.62h-0.62zM206.0,768.8h0.62v0.62h-0.62zM195.9,750.3h0.62v0.62h-0.62zM184.6,725.2h0.62v0.62h-0.62zM218.0,768.9h0.62v0.62h-0.62zM201.7,761.9h0.62v0.62h-0.62zM204.4,765.8h0.62v0.62h-0.62zM212.9,774.8h0.62v0.62h-0.62zM214.8,772.9h0.62v0.62h-0.62zM191.6,752.2h0.62v0.62h-0.62zM218.0,775.8h0.62v0.62h-0.62zM220.2,777.3h0.62v0.62h-0.62zM217.7,773.7h0.62v0.62h-0.62zM183.2,728.2h0.62v0.62h-0.62zM190.2,738.3h0.62v0.62h-0.62zM187.7,733.3h0.62v0.62h-0.62zM198.2,765.4h0.62v0.62h-0.62zM181.6,721.7h0.62v0.62h-0.62zM182.7,744.2h0.62v0.62h-0.62zM200.0,760.7h0.62v0.62h-0.62zM223.2,776.6h0.62v0.62h-0.62zM180.8,728.3h0.62v0.62h-0.62zM201.3,763.8h0.62v0.62h-0.62zM193.1,736.7h0.62v0.62h-0.62zM185.2,728.2h0.62v0.62h-0.62zM222.0,772.6h0.62v0.62h-0.62zM207.2,755.3h0.62v0.62h-0.62zM188.7,741.1h0.62v0.62h-0.62zM211.9,770.4h0.62v0.62h-0.62zM200.1,753.8h0.62v0.62h-0.62zM196.6,750.9h0.62v0.62h-0.62zM221.7,771.1h0.62v0.62h-0.62zM212.6,769.4h0.62v0.62h-0.62zM205.2,765.6h0.62v0.62h-0.62zM184.3,741.2h0.62v0.62h-0.62zM191.4,748.1h0.62v0.62h-0.62zM221.0,777.6h0.62v0.62h-0.62zM199.8,752.1h0.62v0.62h-0.62zM222.2,774.8h0.62v0.62h-0.62zM217.7,771.1h0.62v0.62h-0.62zM189.2,755.7h0.62v0.62h-0.62zM210.8,773.1h0.62v0.62h-0.62zM182.2,731.0h0.62v0.62h-0.62zM187.2,746.9h0.62v0.62h-0.62zM197.3,751.1h0.62v0.62h-0.62zM193.1,764.1h0.62v0.62h-0.62zM193.0,745.2h0.62v0.62h-0.62zM196.2,759.4h0.62v0.62h-0.62zM197.3,746.1h0.62v0.62h-0.62zM186.1,727.4h0.62v0.62h-0.62zM204.6,751.6h0.62v0.62h-0.62zM205.2,757.8h0.62v0.62h-0.62zM200.4,747.4h0.62v0.62h-0.62zM185.8,720.8h0.62v0.62h-0.62zM200.4,754.8h0.62v0.62h-0.62zM200.4,763.2h0.62v0.62h-0.62zM202.1,761.5h0.62v0.62h-0.62zM215.5,775.9h0.62v0.62h-0.62zM186.5,729.1h0.62v0.62h-0.62zM204.4,767.2h0.62v0.62h-0.62zM193.3,748.2h0.62v0.62h-0.62zM193.1,740.7h0.62v0.62h-0.62zM187.9,726.2h0.62v0.62h-0.62zM189.7,744.2h0.62v0.62h-0.62zM198.9,765.4h0.62v0.62h-0.62zM199.5,739.2h0.62v0.62h-0.62zM213.1,769.0h0.62v0.62h-0.62zM223.8,771.5h0.62v0.62h-0.62zM217.2,769.8h0.62v0.62h-0.62zM185.6,723.6h0.62v0.62h-0.62zM184.9,721.4h0.62v0.62h-0.62zM195.3,752.5h0.62v0.62h-0.62zM215.8,772.6h0.62v0.62h-0.62zM186.5,734.0h0.62v0.62h-0.62zM194.2,757.7h0.62v0.62h-0.62zM192.4,734.1h0.62v0.62h-0.62zM220.9,775.6h0.62v0.62h-0.62zM203.4,753.7h0.62v0.62h-0.62zM204.5,756.7h0.62v0.62h-0.62zM204.3,752.1h0.62v0.62h-0.62zM210.1,758.4h0.62v0.62h-0.62zM195.6,757.0h0.62v0.62h-0.62zM183.3,739.2h0.62v0.62h-0.62zM206.4,766.4h0.62v0.62h-0.62zM208.4,759.7h0.62v0.62h-0.62zM198.0,762.2h0.62v0.62h-0.62zM199.4,751.9h0.62v0.62h-0.62zM193.1,740.2h0.62v0.62h-0.62zM196.0,740.0h0.62v0.62h-0.62zM202.3,760.4h0.62v0.62h-0.62zM194.1,744.0h0.62v0.62h-0.62zM189.7,754.8h0.62v0.62h-0.62zM216.8,773.2h0.62v0.62h-0.62zM200.1,766.0h0.62v0.62h-0.62zM223.1,775.0h0.62v0.62h-0.62zM182.1,734.1h0.62v0.62h-0.62zM208.1,770.6h0.62v0.62h-0.62zM190.1,739.6h0.62v0.62h-0.62zM193.7,742.3h0.62v0.62h-0.62zM183.4,733.4h0.62v0.62h-0.62zM186.6,754.5h0.62v0.62h-0.62zM213.4,769.1h0.62v0.62h-0.62zM214.3,768.7h0.62v0.62h-0.62zM224.3,774.3h0.62v0.62h-0.62zM187.0,735.9h0.62v0.62h-0.62zM194.4,755.0h0.62v0.62h-0.62zM216.5,774.3h0.62v0.62h-0.62zM196.7,762.0h0.62v0.62h-0.62zM199.8,759.2h0.62v0.62h-0.62zM213.1,772.3h0.62v0.62h-0.62zM218.8,774.9h0.62v0.62h-0.62zM212.1,769.0h0.62v0.62h-0.62zM186.3,743.6h0.62v0.62h-0.62zM203.6,769.1h0.62v0.62h-0.62zM195.2,755.3h0.62v0.62h-0.62zM188.4,727.1h0.62v0.62h-0.62zM198.3,762.2h0.62v0.62h-0.62zM193.4,738.9h0.62v0.62h-0.62zM208.2,772.2h0.62v0.62h-0.62zM214.0,766.5h0.62v0.62h-0.62zM187.6,755.3h0.62v0.62h-0.62zM210.4,762.3h0.62v0.62h-0.62zM200.6,757.8h0.62v0.62h-0.62zM222.8,771.9h0.62v0.62h-0.62zM199.5,753.1h0.62v0.62h-0.62zM186.1,737.1h0.62v0.62h-0.62zM205.2,762.3h0.62v0.62h-0.62zM184.5,723.7h0.62v0.62h-0.62zM212.5,769.4h0.62v0.62h-0.62zM207.1,764.4h0.62v0.62h-0.62zM187.9,731.9h0.62v0.62h-0.62zM183.5,734.2h0.62v0.62h-0.62zM197.6,752.0h0.62v0.62h-0.62zM210.5,760.4h0.62v0.62h-0.62zM218.6,765.8h0.62v0.62h-0.62zM197.8,749.0h0.62v0.62h-0.62zM206.1,747.5h0.62v0.62h-0.62zM189.7,728.4h0.62v0.62h-0.62zM183.9,726.9h0.62v0.62h-0.62zM198.9,741.0h0.62v0.62h-0.62zM189.4,747.5h0.62v0.62h-0.62zM183.5,735.6h0.62v0.62h-0.62zM210.7,761.3h0.62v0.62h-0.62zM191.1,756.3h0.62v0.62h-0.62zM213.3,768.8h0.62v0.62h-0.62zM197.5,758.9h0.62v0.62h-0.62zM220.2,773.1h0.62v0.62h-0.62zM193.6,753.5h0.62v0.62h-0.62zM214.2,768.1h0.62v0.62h-0.62zM207.6,772.5h0.62v0.62h-0.62zM185.3,725.4h0.62v0.62h-0.62zM212.2,756.4h0.62v0.62h-0.62zM206.1,750.7h0.62v0.62h-0.62zM205.0,763.6h0.62v0.62h-0.62zM190.9,744.2h0.62v0.62h-0.62zM185.7,723.3h0.62v0.62h-0.62zM191.5,744.8h0.62v0.62h-0.62zM182.7,720.9h0.62v0.62h-0.62zM198.4,760.3h0.62v0.62h-0.62zM225.3,774.9h0.62v0.62h-0.62zM212.3,764.1h0.62v0.62h-0.62zM204.5,768.0h0.62v0.62h-0.62zM204.5,763.5h0.62v0.62h-0.62zM187.8,734.9h0.62v0.62h-0.62zM209.7,759.2h0.62v0.62h-0.62zM221.8,775.5h0.62v0.62h-0.62zM197.6,761.6h0.62v0.62h-0.62zM201.0,757.3h0.62v0.62h-0.62zM208.9,762.5h0.62v0.62h-0.62zM200.1,750.9h0.62v0.62h-0.62zM219.9,772.4h0.62v0.62h-0.62zM203.3,745.2h0.62v0.62h-0.62zM190.9,744.3h0.62v0.62h-0.62zM219.0,775.8h0.62v0.62h-0.62zM181.0,720.9h0.62v0.62h-0.62zM191.1,733.5h0.62v0.62h-0.62zM180.9,732.7h0.62v0.62h-0.62zM190.4,754.8h0.62v0.62h-0.62zM199.7,761.1h0.62v0.62h-0.62zM220.6,774.2h0.62v0.62h-0.62zM211.7,770.3h0.62v0.62h-0.62zM188.0,751.7h0.62v0.62h-0.62zM214.0,772.0h0.62v0.62h-0.62zM207.7,762.1h0.62v0.62h-0.62zM219.6,775.1h0.62v0.62h-0.62zM199.3,768.0h0.62v0.62h-0.62zM201.5,752.0h0.62v0.62h-0.62zM209.1,764.8h0.62v0.62h-0.62zM194.6,735.3h0.62v0.62h-0.62zM191.1,739.1h0.62v0.62h-0.62zM186.7,728.8h0.62v0.62h-0.62zM191.3,748.3h0.62v0.62h-0.62zM204.6,767.7h0.62v0.62h-0.62zM204.0,750.6h0.62v0.62h-0.62zM197.6,758.9h0.62v0.62h-0.62zM182.0,731.0h0.62v0.62h-0.62zM189.5,726.9h0.62v0.62h-0.62zM219.9,775.9h0.62v0.62h-0.62zM205.1,759.9h0.62v0.62h-0.62zM191.9,728.7h0.62v0.62h-0.62zM224.2,776.4h0.62v0.62h-0.62zM214.0,766.0h0.62v0.62h-0.62zM217.2,771.4h0.62v0.62h-0.62zM199.9,763.3h0.62v0.62h-0.62zM197.2,762.5h0.62v0.62h-0.62zM198.2,753.9h0.62v0.62h-0.62zM198.9,754.8h0.62v0.62h-0.62zM225.8,773.6h0.62v0.62h-0.62zM212.8,777.2h0.62v0.62h-0.62zM191.8,738.5h0.62v0.62h-0.62zM200.6,762.3h0.62v0.62h-0.62zM225.5,774.6h0.62v0.62h-0.62zM195.0,751.5h0.62v0.62h-0.62zM222.4,773.5h0.62v0.62h-0.62zM195.1,753.5h0.62v0.62h-0.62zM185.8,742.9h0.62v0.62h-0.62zM188.2,755.5h0.62v0.62h-0.62zM182.6,732.6h0.62v0.62h-0.62zM226.4,776.2h0.62v0.62h-0.62zM201.7,761.0h0.62v0.62h-0.62zM199.8,759.3h0.62v0.62h-0.62zM209.4,767.5h0.62v0.62h-0.62zM193.5,746.2h0.62v0.62h-0.62zM184.3,736.8h0.62v0.62h-0.62zM185.6,740.7h0.62v0.62h-0.62zM190.2,734.3h0.62v0.62h-0.62zM207.0,770.1h0.62v0.62h-0.62zM216.2,765.5h0.62v0.62h-0.62zM185.2,735.5h0.62v0.62h-0.62zM196.7,759.1h0.62v0.62h-0.62zM189.7,730.4h0.62v0.62h-0.62zM218.2,771.4h0.62v0.62h-0.62zM212.9,769.1h0.62v0.62h-0.62zM200.6,764.4h0.62v0.62h-0.62zM188.1,724.1h0.62v0.62h-0.62zM183.8,722.2h0.62v0.62h-0.62zM205.2,769.3h0.62v0.62h-0.62zM189.3,755.1h0.62v0.62h-0.62zM219.3,775.6h0.62v0.62h-0.62zM190.5,754.8h0.62v0.62h-0.62zM187.8,748.9h0.62v0.62h-0.62zM196.3,755.0h0.62v0.62h-0.62zM195.0,766.1h0.62v0.62h-0.62zM216.1,775.5h0.62v0.62h-0.62zM188.8,747.1h0.62v0.62h-0.62zM187.5,730.2h0.62v0.62h-0.62zM194.9,756.4h0.62v0.62h-0.62zM210.1,764.6h0.62v0.62h-0.62zM194.0,760.6h0.62v0.62h-0.62zM220.8,772.6h0.62v0.62h-0.62zM208.0,768.1h0.62v0.62h-0.62zM197.8,747.5h0.62v0.62h-0.62zM214.9,769.4h0.62v0.62h-0.62zM188.1,737.2h0.62v0.62h-0.62zM199.8,754.4h0.62v0.62h-0.62zM187.9,747.4h0.62v0.62h-0.62zM207.9,765.8h0.62v0.62h-0.62zM213.3,763.7h0.62v0.62h-0.62zM223.4,775.6h0.62v0.62h-0.62zM198.2,767.3h0.62v0.62h-0.62zM221.9,770.7h0.62v0.62h-0.62zM215.1,767.0h0.62v0.62h-0.62zM192.0,742.9h0.62v0.62h-0.62zM187.4,731.1h0.62v0.62h-0.62zM225.7,777.0h0.62v0.62h-0.62zM190.2,746.5h0.62v0.62h-0.62zM220.6,775.6h0.62v0.62h-0.62zM219.3,770.9h0.62v0.62h-0.62zM197.0,763.8h0.62v0.62h-0.62zM194.0,751.9h0.62v0.62h-0.62zM186.0,728.5h0.62v0.62h-0.62zM185.0,745.2h0.62v0.62h-0.62zM185.0,735.8h0.62v0.62h-0.62zM185.3,739.3h0.62v0.62h-0.62zM186.4,726.3h0.62v0.62h-0.62zM192.6,738.0h0.62v0.62h-0.62zM210.7,765.1h0.62v0.62h-0.62zM189.8,738.7h0.62v0.62h-0.62zM191.4,744.7h0.62v0.62h-0.62zM196.7,756.5h0.62v0.62h-0.62zM192.6,756.1h0.62v0.62h-0.62zM186.4,735.3h0.62v0.62h-0.62zM224.6,776.5h0.62v0.62h-0.62zM186.1,741.9h0.62v0.62h-0.62zM184.8,727.6h0.62v0.62h-0.62zM204.2,747.1h0.62v0.62h-0.62zM183.5,726.7h0.62v0.62h-0.62zM211.3,771.1h0.62v0.62h-0.62zM194.7,744.1h0.62v0.62h-0.62zM224.4,777.4h0.62v0.62h-0.62zM201.4,744.0h0.62v0.62h-0.62zM185.1,721.6h0.62v0.62h-0.62zM194.5,742.2h0.62v0.62h-0.62zM195.0,763.6h0.62v0.62h-0.62zM201.3,766.9h0.62v0.62h-0.62zM189.9,754.8h0.62v0.62h-0.62zM203.3,760.7h0.62v0.62h-0.62zM200.2,753.6h0.62v0.62h-0.62zM195.1,742.5h0.62v0.62h-0.62zM194.6,756.6h0.62v0.62h-0.62zM188.4,732.4h0.62v0.62h-0.62zM193.2,757.8h0.62v0.62h-0.62zM216.9,773.7h0.62v0.62h-0.62zM218.7,766.4h0.62v0.62h-0.62zM182.4,724.1h0.62v0.62h-0.62zM189.3,745.0h0.62v0.62h-0.62zM203.7,766.5h0.62v0.62h-0.62zM183.5,728.0h0.62v0.62h-0.62zM218.5,770.9h0.62v0.62h-0.62zM183.2,722.3h0.62v0.62h-0.62zM219.7,777.4h0.62v0.62h-0.62zM225.3,775.3h0.62v0.62h-0.62zM188.1,732.0h0.62v0.62h-0.62zM198.2,767.6h0.62v0.62h-0.62zM211.7,775.3h0.62v0.62h-0.62zM209.0,769.1h0.62v0.62h-0.62zM182.7,731.0h0.62v0.62h-0.62zM196.7,764.2h0.62v0.62h-0.62zM190.6,750.7h0.62v0.62h-0.62zM189.2,741.4h0.62v0.62h-0.62zM213.0,770.5h0.62v0.62h-0.62zM209.6,763.9h0.62v0.62h-0.62zM186.5,732.6h0.62v0.62h-0.62zM209.5,757.8h0.62v0.62h-0.62zM190.5,729.2h0.62v0.62h-0.62zM209.3,759.5h0.62v0.62h-0.62zM192.4,751.6h0.62v0.62h-0.62zM182.6,724.0h0.62v0.62h-0.62zM188.3,748.9h0.62v0.62h-0.62zM188.3,728.4h0.62v0.62h-0.62zM221.3,774.2h0.62v0.62h-0.62zM187.2,736.5h0.62v0.62h-0.62zM223.2,770.9h0.62v0.62h-0.62zM193.9,743.4h0.62v0.62h-0.62zM183.9,729.1h0.62v0.62h-0.62zM203.2,752.8h0.62v0.62h-0.62zM209.7,768.2h0.62v0.62h-0.62zM226.2,775.6h0.62v0.62h-0.62zM189.0,755.6h0.62v0.62h-0.62zM183.1,722.1h0.62v0.62h-0.62zM185.9,726.2h0.62v0.62h-0.62zM207.6,767.8h0.62v0.62h-0.62zM190.2,757.2h0.62v0.62h-0.62zM209.9,766.5h0.62v0.62h-0.62zM203.7,764.7h0.62v0.62h-0.62zM181.6,721.7h0.62v0.62h-0.62zM184.5,744.5h0.62v0.62h-0.62zM197.2,755.6h0.62v0.62h-0.62zM198.8,743.4h0.62v0.62h-0.62zM188.9,736.7h0.62v0.62h-0.62zM227.0,775.0h0.62v0.62h-0.62zM205.3,768.4h0.62v0.62h-0.62zM200.8,766.7h0.62v0.62h-0.62zM188.9,730.1h0.62v0.62h-0.62zM200.5,764.9h0.62v0.62h-0.62zM202.5,758.7h0.62v0.62h-0.62zM193.7,757.9h0.62v0.62h-0.62zM192.9,733.1h0.62v0.62h-0.62zM200.9,754.6h0.62v0.62h-0.62zM202.4,753.2h0.62v0.62h-0.62zM182.9,735.6h0.62v0.62h-0.62zM214.0,774.6h0.62v0.62h-0.62zM207.9,772.0h0.62v0.62h-0.62zM197.5,755.1h0.62v0.62h-0.62zM204.3,759.1h0.62v0.62h-0.62zM186.1,751.6h0.62v0.62h-0.62zM189.3,758.0h0.62v0.62h-0.62zM189.4,753.1h0.62v0.62h-0.62zM189.6,742.1h0.62v0.62h-0.62zM185.5,733.9h0.62v0.62h-0.62zM198.9,762.3h0.62v0.62h-0.62zM209.7,768.4h0.62v0.62h-0.62zM203.9,767.9h0.62v0.62h-0.62zM199.5,746.0h0.62v0.62h-0.62zM189.0,730.6h0.62v0.62h-0.62zM187.6,734.8h0.62v0.62h-0.62zM224.4,774.6h0.62v0.62h-0.62zM201.1,762.6h0.62v0.62h-0.62zM201.6,769.3h0.62v0.62h-0.62zM214.8,768.5h0.62v0.62h-0.62zM200.1,758.5h0.62v0.62h-0.62zM221.5,771.6h0.62v0.62h-0.62zM209.4,761.6h0.62v0.62h-0.62zM189.4,750.0h0.62v0.62h-0.62zM186.1,723.6h0.62v0.62h-0.62zM197.0,756.5h0.62v0.62h-0.62zM217.3,772.3h0.62v0.62h-0.62zM212.7,774.2h0.62v0.62h-0.62zM217.0,766.7h0.62v0.62h-0.62zM189.2,734.1h0.62v0.62h-0.62zM181.5,728.3h0.62v0.62h-0.62zM207.6,772.3h0.62v0.62h-0.62zM217.8,775.6h0.62v0.62h-0.62zM205.6,755.9h0.62v0.62h-0.62zM179.8,725.5h0.62v0.62h-0.62zM188.5,739.9h0.62v0.62h-0.62zM182.6,735.8h0.62v0.62h-0.62zM186.0,730.6h0.62v0.62h-0.62zM185.3,725.0h0.62v0.62h-0.62zM190.0,745.8h0.62v0.62h-0.62zM222.2,775.0h0.62v0.62h-0.62zM207.1,767.2h0.62v0.62h-0.62zM193.5,758.8h0.62v0.62h-0.62zM184.4,729.3h0.62v0.62h-0.62zM193.5,733.7h0.62v0.62h-0.62zM211.4,769.1h0.62v0.62h-0.62zM197.8,754.2h0.62v0.62h-0.62zM224.7,773.9h0.62v0.62h-0.62zM190.3,736.0h0.62v0.62h-0.62zM187.6,737.6h0.62v0.62h-0.62zM202.8,772.1h0.62v0.62h-0.62zM183.4,734.0h0.62v0.62h-0.62zM196.0,754.5h0.62v0.62h-0.62zM191.7,736.1h0.62v0.62h-0.62zM207.3,769.6h0.62v0.62h-0.62zM207.5,756.7h0.62v0.62h-0.62zM222.0,775.6h0.62v0.62h-0.62zM194.3,750.6h0.62v0.62h-0.62zM186.7,747.4h0.62v0.62h-0.62zM185.7,720.8h0.62v0.62h-0.62zM195.4,766.6h0.62v0.62h-0.62zM199.9,755.8h0.62v0.62h-0.62zM208.0,760.0h0.62v0.62h-0.62zM179.7,725.3h0.62v0.62h-0.62zM188.8,729.5h0.62v0.62h-0.62zM202.6,759.4h0.62v0.62h-0.62zM214.8,772.9h0.62v0.62h-0.62zM196.2,752.8h0.62v0.62h-0.62zM219.8,773.9h0.62v0.62h-0.62zM223.9,775.2h0.62v0.62h-0.62zM184.8,722.6h0.62v0.62h-0.62zM208.0,757.5h0.62v0.62h-0.62zM214.1,765.7h0.62v0.62h-0.62zM193.8,756.6h0.62v0.62h-0.62zM204.5,763.5h0.62v0.62h-0.62zM197.7,754.4h0.62v0.62h-0.62zM216.1,768.6h0.62v0.62h-0.62zM205.0,749.4h0.62v0.62h-0.62zM196.1,747.8h0.62v0.62h-0.62zM192.8,753.8h0.62v0.62h-0.62zM186.0,724.8h0.62v0.62h-0.62zM196.0,756.8h0.62v0.62h-0.62zM205.2,768.7h0.62v0.62h-0.62zM205.5,767.1h0.62v0.62h-0.62zM204.9,748.6h0.62v0.62h-0.62zM187.3,724.4h0.62v0.62h-0.62zM211.0,765.3h0.62v0.62h-0.62zM200.5,740.8h0.62v0.62h-0.62zM211.8,764.4h0.62v0.62h-0.62zM192.0,763.6h0.62v0.62h-0.62zM211.1,768.1h0.62v0.62h-0.62zM192.6,727.7h0.62v0.62h-0.62zM191.2,739.2h0.62v0.62h-0.62zM185.0,739.0h0.62v0.62h-0.62zM185.9,720.7h0.62v0.62h-0.62zM217.1,775.0h0.62v0.62h-0.62zM222.5,775.2h0.62v0.62h-0.62zM193.8,756.9h0.62v0.62h-0.62zM202.1,762.0h0.62v0.62h-0.62zM209.1,770.2h0.62v0.62h-0.62zM214.1,771.9h0.62v0.62h-0.62zM201.8,764.7h0.62v0.62h-0.62zM186.5,733.4h0.62v0.62h-0.62zM199.2,755.9h0.62v0.62h-0.62zM188.3,739.5h0.62v0.62h-0.62zM197.7,750.5h0.62v0.62h-0.62zM190.8,759.2h0.62v0.62h-0.62zM203.2,757.8h0.62v0.62h-0.62zM224.7,776.4h0.62v0.62h-0.62zM194.1,739.4h0.62v0.62h-0.62zM197.8,759.2h0.62v0.62h-0.62zM181.4,734.0h0.62v0.62h-0.62zM187.5,743.6h0.62v0.62h-0.62zM188.7,736.6h0.62v0.62h-0.62zM190.7,727.1h0.62v0.62h-0.62zM193.4,748.8h0.62v0.62h-0.62zM183.4,741.9h0.62v0.62h-0.62zM192.5,749.5h0.62v0.62h-0.62zM192.9,748.4h0.62v0.62h-0.62zM185.6,724.6h0.62v0.62h-0.62zM222.0,777.0h0.62v0.62h-0.62zM195.4,750.9h0.62v0.62h-0.62zM188.6,736.7h0.62v0.62h-0.62zM196.4,748.2h0.62v0.62h-0.62zM189.1,748.6h0.62v0.62h-0.62zM195.2,758.1h0.62v0.62h-0.62zM181.7,722.3h0.62v0.62h-0.62zM185.3,732.2h0.62v0.62h-0.62zM224.2,773.6h0.62v0.62h-0.62zM194.2,731.3h0.62v0.62h-0.62zM204.1,772.4h0.62v0.62h-0.62zM192.7,745.4h0.62v0.62h-0.62zM217.1,773.9h0.62v0.62h-0.62zM207.5,763.3h0.62v0.62h-0.62zM189.0,724.7h0.62v0.62h-0.62zM205.3,763.1h0.62v0.62h-0.62zM192.1,732.2h0.62v0.62h-0.62zM196.2,739.0h0.62v0.62h-0.62zM194.3,762.3h0.62v0.62h-0.62zM198.6,759.2h0.62v0.62h-0.62zM206.7,760.6h0.62v0.62h-0.62zM190.4,728.2h0.62v0.62h-0.62zM225.2,775.3h0.62v0.62h-0.62zM199.5,756.5h0.62v0.62h-0.62zM213.2,772.9h0.62v0.62h-0.62zM225.4,774.5h0.62v0.62h-0.62zM200.5,750.8h0.62v0.62h-0.62zM190.0,727.6h0.62v0.62h-0.62zM200.2,765.0h0.62v0.62h-0.62zM211.0,773.0h0.62v0.62h-0.62zM205.6,766.8h0.62v0.62h-0.62zM204.2,767.5h0.62v0.62h-0.62zM188.9,723.9h0.62v0.62h-0.62zM208.0,770.3h0.62v0.62h-0.62zM183.5,722.4h0.62v0.62h-0.62zM195.5,738.9h0.62v0.62h-0.62zM225.9,775.2h0.62v0.62h-0.62zM204.7,751.5h0.62v0.62h-0.62zM203.6,757.2h0.62v0.62h-0.62zM198.6,758.5h0.62v0.62h-0.62zM206.8,768.3h0.62v0.62h-0.62zM185.8,744.5h0.62v0.62h-0.62zM197.8,749.9h0.62v0.62h-0.62zM223.4,775.2h0.62v0.62h-0.62zM190.3,754.0h0.62v0.62h-0.62zM226.5,774.7h0.62v0.62h-0.62zM196.0,754.2h0.62v0.62h-0.62zM216.9,772.7h0.62v0.62h-0.62zM210.8,768.0h0.62v0.62h-0.62zM210.9,772.2h0.62v0.62h-0.62zM219.5,769.3h0.62v0.62h-0.62zM197.7,759.5h0.62v0.62h-0.62zM197.7,757.4h0.62v0.62h-0.62zM190.0,735.8h0.62v0.62h-0.62zM191.9,745.4h0.62v0.62h-0.62zM189.2,728.9h0.62v0.62h-0.62zM212.3,769.6h0.62v0.62h-0.62zM224.3,774.8h0.62v0.62h-0.62zM196.6,742.7h0.62v0.62h-0.62zM214.6,777.4h0.62v0.62h-0.62zM204.9,763.3h0.62v0.62h-0.62zM201.9,769.8h0.62v0.62h-0.62zM204.3,764.6h0.62v0.62h-0.62zM180.3,724.6h0.62v0.62h-0.62zM209.2,767.9h0.62v0.62h-0.62zM188.2,741.5h0.62v0.62h-0.62zM220.6,769.6h0.62v0.62h-0.62zM212.3,772.7h0.62v0.62h-0.62zM186.5,739.6h0.62v0.62h-0.62zM206.0,767.0h0.62v0.62h-0.62zM218.3,773.3h0.62v0.62h-0.62zM214.4,775.2h0.62v0.62h-0.62zM191.6,748.3h0.62v0.62h-0.62zM188.2,743.9h0.62v0.62h-0.62zM220.1,773.5h0.62v0.62h-0.62zM185.0,722.2h0.62v0.62h-0.62zM215.2,766.3h0.62v0.62h-0.62zM183.8,744.1h0.62v0.62h-0.62zM182.7,727.1h0.62v0.62h-0.62zM194.7,746.8h0.62v0.62h-0.62zM192.2,732.9h0.62v0.62h-0.62zM194.6,730.6h0.62v0.62h-0.62zM219.2,776.9h0.62v0.62h-0.62zM198.3,747.6h0.62v0.62h-0.62zM198.4,758.2h0.62v0.62h-0.62zM222.4,774.6h0.62v0.62h-0.62zM189.1,748.6h0.62v0.62h-0.62zM212.6,770.7h0.62v0.62h-0.62zM190.2,729.3h0.62v0.62h-0.62zM216.1,771.5h0.62v0.62h-0.62zM205.0,761.8h0.62v0.62h-0.62zM196.9,756.5h0.62v0.62h-0.62zM201.6,754.8h0.62v0.62h-0.62zM217.8,773.0h0.62v0.62h-0.62zM218.0,776.8h0.62v0.62h-0.62zM182.4,722.7h0.62v0.62h-0.62zM198.6,760.5h0.62v0.62h-0.62zM188.7,736.1h0.62v0.62h-0.62zM200.9,754.5h0.62v0.62h-0.62zM223.8,777.5h0.62v0.62h-0.62zM206.5,772.3h0.62v0.62h-0.62zM203.4,759.3h0.62v0.62h-0.62zM189.4,739.2h0.62v0.62h-0.62zM185.1,751.4h0.62v0.62h-0.62zM200.3,741.5h0.62v0.62h-0.62zM187.8,736.1h0.62v0.62h-0.62zM204.8,752.9h0.62v0.62h-0.62zM181.1,725.2h0.62v0.62h-0.62zM196.7,755.9h0.62v0.62h-0.62zM226.6,775.9h0.62v0.62h-0.62zM205.9,756.9h0.62v0.62h-0.62zM191.9,758.7h0.62v0.62h-0.62zM188.5,732.5h0.62v0.62h-0.62zM212.9,762.9h0.62v0.62h-0.62zM200.7,762.8h0.62v0.62h-0.62zM182.8,725.8h0.62v0.62h-0.62zM222.7,774.3h0.62v0.62h-0.62zM184.4,733.0h0.62v0.62h-0.62zM205.4,767.3h0.62v0.62h-0.62zM185.0,747.7h0.62v0.62h-0.62zM195.6,756.5h0.62v0.62h-0.62zM188.7,732.7h0.62v0.62h-0.62zM208.9,756.2h0.62v0.62h-0.62zM189.6,729.4h0.62v0.62h-0.62zM223.8,777.3h0.62v0.62h-0.62zM197.1,735.9h0.62v0.62h-0.62zM202.2,765.1h0.62v0.62h-0.62zM220.6,775.5h0.62v0.62h-0.62zM218.2,770.3h0.62v0.62h-0.62zM181.5,728.8h0.62v0.62h-0.62zM214.9,773.6h0.62v0.62h-0.62zM219.5,773.1h0.62v0.62h-0.62zM193.8,739.3h0.62v0.62h-0.62zM197.1,737.8h0.62v0.62h-0.62zM205.7,756.2h0.62v0.62h-0.62zM201.7,755.7h0.62v0.62h-0.62zM209.8,770.7h0.62v0.62h-0.62zM205.0,762.2h0.62v0.62h-0.62zM202.2,752.2h0.62v0.62h-0.62zM193.1,754.7h0.62v0.62h-0.62zM191.8,755.2h0.62v0.62h-0.62zM193.6,745.0h0.62v0.62h-0.62zM206.0,766.5h0.62v0.62h-0.62zM184.3,719.2h0.62v0.62h-0.62zM193.8,737.5h0.62v0.62h-0.62zM209.7,774.2h0.62v0.62h-0.62zM209.2,767.7h0.62v0.62h-0.62zM215.0,773.6h0.62v0.62h-0.62zM199.9,743.0h0.62v0.62h-0.62zM193.4,755.8h0.62v0.62h-0.62zM216.0,773.9h0.62v0.62h-0.62zM217.2,771.8h0.62v0.62h-0.62zM189.1,738.9h0.62v0.62h-0.62zM202.4,749.8h0.62v0.62h-0.62zM200.4,759.9h0.62v0.62h-0.62zM192.2,730.5h0.62v0.62h-0.62zM202.7,765.3h0.62v0.62h-0.62zM190.7,740.2h0.62v0.62h-0.62zM201.4,761.8h0.62v0.62h-0.62zM185.0,720.9h0.62v0.62h-0.62zM190.0,749.0h0.62v0.62h-0.62zM203.4,749.8h0.62v0.62h-0.62zM206.4,760.1h0.62v0.62h-0.62zM188.2,736.3h0.62v0.62h-0.62zM186.6,727.2h0.62v0.62h-0.62zM204.6,767.9h0.62v0.62h-0.62zM208.6,763.4h0.62v0.62h-0.62zM207.8,764.3h0.62v0.62h-0.62zM193.9,742.0h0.62v0.62h-0.62zM191.6,738.1h0.62v0.62h-0.62zM192.4,743.0h0.62v0.62h-0.62zM205.3,765.0h0.62v0.62h-0.62zM199.7,757.6h0.62v0.62h-0.62zM182.7,738.1h0.62v0.62h-0.62zM202.8,755.9h0.62v0.62h-0.62zM183.6,743.8h0.62v0.62h-0.62zM206.3,770.4h0.62v0.62h-0.62zM194.2,736.4h0.62v0.62h-0.62zM183.2,741.6h0.62v0.62h-0.62zM194.6,743.2h0.62v0.62h-0.62zM216.1,776.4h0.62v0.62h-0.62zM193.3,758.8h0.62v0.62h-0.62zM201.1,760.0h0.62v0.62h-0.62zM198.6,761.0h0.62v0.62h-0.62zM216.8,770.9h0.62v0.62h-0.62zM216.1,770.7h0.62v0.62h-0.62zM189.2,723.6h0.62v0.62h-0.62zM189.6,729.1h0.62v0.62h-0.62zM215.3,776.3h0.62v0.62h-0.62zM217.5,774.6h0.62v0.62h-0.62zM190.0,759.3h0.62v0.62h-0.62zM209.1,763.8h0.62v0.62h-0.62zM222.5,771.3h0.62v0.62h-0.62zM186.1,742.0h0.62v0.62h-0.62zM202.6,750.7h0.62v0.62h-0.62zM204.6,752.1h0.62v0.62h-0.62zM211.4,762.8h0.62v0.62h-0.62zM184.9,729.0h0.62v0.62h-0.62zM204.8,752.6h0.62v0.62h-0.62zM196.2,739.7h0.62v0.62h-0.62zM211.2,766.1h0.62v0.62h-0.62zM183.5,730.2h0.62v0.62h-0.62zM184.7,743.0h0.62v0.62h-0.62zM222.7,775.3h0.62v0.62h-0.62zM189.9,747.6h0.62v0.62h-0.62zM191.8,727.2h0.62v0.62h-0.62zM188.1,750.1h0.62v0.62h-0.62zM189.1,736.9h0.62v0.62h-0.62zM219.3,774.4h0.62v0.62h-0.62zM210.2,767.5h0.62v0.62h-0.62zM188.5,727.3h0.62v0.62h-0.62zM225.7,777.3h0.62v0.62h-0.62zM189.2,749.4h0.62v0.62h-0.62zM196.4,763.1h0.62v0.62h-0.62zM207.0,773.4h0.62v0.62h-0.62zM194.7,736.6h0.62v0.62h-0.62zM202.2,757.0h0.62v0.62h-0.62zM203.0,753.4h0.62v0.62h-0.62zM207.8,764.4h0.62v0.62h-0.62zM197.0,748.6h0.62v0.62h-0.62zM183.5,724.1h0.62v0.62h-0.62zM225.0,777.9h0.62v0.62h-0.62zM189.1,749.6h0.62v0.62h-0.62zM205.7,771.9h0.62v0.62h-0.62zM226.6,775.7h0.62v0.62h-0.62zM189.7,739.5h0.62v0.62h-0.62zM182.2,735.5h0.62v0.62h-0.62zM190.4,755.9h0.62v0.62h-0.62zM192.5,758.4h0.62v0.62h-0.62zM182.2,732.0h0.62v0.62h-0.62zM212.9,768.0h0.62v0.62h-0.62zM192.9,754.5h0.62v0.62h-0.62zM183.8,719.3h0.62v0.62h-0.62zM209.3,772.7h0.62v0.62h-0.62zM203.2,771.6h0.62v0.62h-0.62zM195.2,732.4h0.62v0.62h-0.62zM211.4,772.2h0.62v0.62h-0.62zM213.7,771.9h0.62v0.62h-0.62zM206.9,769.5h0.62v0.62h-0.62zM186.3,721.9h0.62v0.62h-0.62zM201.8,769.8h0.62v0.62h-0.62zM205.2,764.8h0.62v0.62h-0.62zM196.3,752.1h0.62v0.62h-0.62zM192.4,758.8h0.62v0.62h-0.62zM199.9,741.9h0.62v0.62h-0.62zM222.6,774.2h0.62v0.62h-0.62zM190.6,731.2h0.62v0.62h-0.62zM192.4,742.0h0.62v0.62h-0.62zM203.1,769.2h0.62v0.62h-0.62zM215.8,771.7h0.62v0.62h-0.62zM191.8,747.2h0.62v0.62h-0.62zM199.1,755.0h0.62v0.62h-0.62zM194.4,762.6h0.62v0.62h-0.62zM222.5,774.7h0.62v0.62h-0.62zM204.9,763.3h0.62v0.62h-0.62zM181.6,726.7h0.62v0.62h-0.62zM196.8,764.3h0.62v0.62h-0.62zM187.2,723.9h0.62v0.62h-0.62zM205.1,762.1h0.62v0.62h-0.62zM203.9,766.3h0.62v0.62h-0.62zM215.7,770.1h0.62v0.62h-0.62zM189.0,730.3h0.62v0.62h-0.62zM191.8,748.6h0.62v0.62h-0.62zM219.6,772.8h0.62v0.62h-0.62zM218.8,766.7h0.62v0.62h-0.62zM213.8,767.4h0.62v0.62h-0.62zM192.2,739.7h0.62v0.62h-0.62zM203.5,743.7h0.62v0.62h-0.62zM190.4,760.2h0.62v0.62h-0.62zM200.1,755.0h0.62v0.62h-0.62zM202.1,768.4h0.62v0.62h-0.62zM222.6,776.1h0.62v0.62h-0.62zM185.6,737.7h0.62v0.62h-0.62zM193.5,743.3h0.62v0.62h-0.62zM203.0,743.2h0.62v0.62h-0.62zM210.9,763.7h0.62v0.62h-0.62zM222.7,777.6h0.62v0.62h-0.62zM206.6,765.1h0.62v0.62h-0.62zM206.5,760.7h0.62v0.62h-0.62zM183.4,721.7h0.62v0.62h-0.62zM188.3,735.8h0.62v0.62h-0.62zM187.5,743.9h0.62v0.62h-0.62zM204.0,758.2h0.62v0.62h-0.62zM193.6,741.6h0.62v0.62h-0.62zM213.9,773.0h0.62v0.62h-0.62zM192.6,735.4h0.62v0.62h-0.62zM225.0,775.6h0.62v0.62h-0.62zM204.2,766.7h0.62v0.62h-0.62zM189.7,736.2h0.62v0.62h-0.62zM192.6,728.2h0.62v0.62h-0.62zM209.9,766.6h0.62v0.62h-0.62zM191.8,740.8h0.62v0.62h-0.62zM225.0,777.2h0.62v0.62h-0.62zM194.7,739.2h0.62v0.62h-0.62zM200.3,742.0h0.62v0.62h-0.62zM212.3,774.6h0.62v0.62h-0.62zM205.1,769.0h0.62v0.62h-0.62zM210.5,776.4h0.62v0.62h-0.62zM189.8,730.0h0.62v0.62h-0.62zM223.6,773.7h0.62v0.62h-0.62zM221.3,775.4h0.62v0.62h-0.62zM182.7,742.9h0.62v0.62h-0.62zM221.0,773.6h0.62v0.62h-0.62zM212.7,760.2h0.62v0.62h-0.62zM209.5,764.5h0.62v0.62h-0.62zM187.7,751.5h0.62v0.62h-0.62zM226.0,776.5h0.62v0.62h-0.62zM195.5,745.1h0.62v0.62h-0.62zM208.1,766.0h0.62v0.62h-0.62zM209.9,766.9h0.62v0.62h-0.62zM196.7,742.2h0.62v0.62h-0.62zM181.1,729.5h0.62v0.62h-0.62zM210.7,772.2h0.62v0.62h-0.62zM200.2,766.4h0.62v0.62h-0.62zM221.8,774.3h0.62v0.62h-0.62zM184.9,730.2h0.62v0.62h-0.62zM224.5,775.3h0.62v0.62h-0.62zM194.8,761.6h0.62v0.62h-0.62zM207.1,767.3h0.62v0.62h-0.62zM188.7,734.5h0.62v0.62h-0.62zM206.5,764.7h0.62v0.62h-0.62zM198.1,761.5h0.62v0.62h-0.62zM211.2,768.9h0.62v0.62h-0.62zM185.6,742.2h0.62v0.62h-0.62zM187.8,743.9h0.62v0.62h-0.62zM187.0,730.6h0.62v0.62h-0.62zM204.6,759.6h0.62v0.62h-0.62zM187.0,743.2h0.62v0.62h-0.62zM187.6,747.2h0.62v0.62h-0.62zM191.0,752.3h0.62v0.62h-0.62zM224.6,772.3h0.62v0.62h-0.62zM210.1,770.0h0.62v0.62h-0.62zM219.0,775.0h0.62v0.62h-0.62zM195.6,745.3h0.62v0.62h-0.62zM193.3,745.4h0.62v0.62h-0.62zM206.5,766.9h0.62v0.62h-0.62zM191.5,738.0h0.62v0.62h-0.62zM194.3,755.8h0.62v0.62h-0.62zM218.8,777.3h0.62v0.62h-0.62zM222.7,778.0h0.62v0.62h-0.62zM218.3,773.1h0.62v0.62h-0.62zM222.7,773.5h0.62v0.62h-0.62zM221.0,773.0h0.62v0.62h-0.62zM186.7,723.4h0.62v0.62h-0.62zM185.1,733.2h0.62v0.62h-0.62zM200.2,759.6h0.62v0.62h-0.62zM219.9,768.3h0.62v0.62h-0.62zM211.4,764.9h0.62v0.62h-0.62zM195.5,754.4h0.62v0.62h-0.62zM185.8,742.9h0.62v0.62h-0.62zM198.2,757.8h0.62v0.62h-0.62zM208.5,772.4h0.62v0.62h-0.62zM185.0,729.5h0.62v0.62h-0.62zM219.4,770.4h0.62v0.62h-0.62zM227.3,773.5h0.62v0.62h-0.62zM203.8,760.0h0.62v0.62h-0.62zM224.3,771.9h0.62v0.62h-0.62zM194.2,763.8h0.62v0.62h-0.62zM189.5,735.0h0.62v0.62h-0.62zM185.3,721.1h0.62v0.62h-0.62zM191.2,750.8h0.62v0.62h-0.62zM192.9,729.2h0.62v0.62h-0.62zM185.0,726.5h0.62v0.62h-0.62zM186.3,738.5h0.62v0.62h-0.62zM190.0,751.0h0.62v0.62h-0.62zM221.8,774.9h0.62v0.62h-0.62zM183.9,726.2h0.62v0.62h-0.62zM205.9,768.7h0.62v0.62h-0.62zM210.5,770.3h0.62v0.62h-0.62zM212.4,766.4h0.62v0.62h-0.62zM199.1,748.0h0.62v0.62h-0.62zM194.1,740.6h0.62v0.62h-0.62zM216.8,776.4h0.62v0.62h-0.62zM193.5,762.2h0.62v0.62h-0.62zM188.2,736.7h0.62v0.62h-0.62zM204.0,754.0h0.62v0.62h-0.62zM209.4,772.7h0.62v0.62h-0.62zM200.9,744.0h0.62v0.62h-0.62zM186.8,738.2h0.62v0.62h-0.62zM199.8,749.7h0.62v0.62h-0.62zM190.0,734.7h0.62v0.62h-0.62zM200.7,760.5h0.62v0.62h-0.62zM190.1,754.4h0.62v0.62h-0.62zM201.6,766.5h0.62v0.62h-0.62zM199.4,764.7h0.62v0.62h-0.62zM213.5,765.9h0.62v0.62h-0.62zM207.1,756.9h0.62v0.62h-0.62zM187.5,751.7h0.62v0.62h-0.62zM224.4,777.3h0.62v0.62h-0.62zM217.9,776.1h0.62v0.62h-0.62zM187.0,749.2h0.62v0.62h-0.62zM184.3,738.0h0.62v0.62h-0.62zM192.7,744.6h0.62v0.62h-0.62zM205.8,760.1h0.62v0.62h-0.62zM198.5,766.7h0.62v0.62h-0.62zM214.0,765.0h0.62v0.62h-0.62zM196.0,744.1h0.62v0.62h-0.62zM199.3,744.0h0.62v0.62h-0.62zM222.9,774.8h0.62v0.62h-0.62zM224.5,772.4h0.62v0.62h-0.62zM185.9,728.0h0.62v0.62h-0.62zM200.0,751.3h0.62v0.62h-0.62zM189.8,736.6h0.62v0.62h-0.62zM183.8,745.4h0.62v0.62h-0.62zM212.9,765.5h0.62v0.62h-0.62zM202.4,746.3h0.62v0.62h-0.62zM214.1,772.8h0.62v0.62h-0.62zM203.2,753.4h0.62v0.62h-0.62zM194.2,743.7h0.62v0.62h-0.62zM184.9,733.1h0.62v0.62h-0.62zM198.2,742.1h0.62v0.62h-0.62zM188.3,726.0h0.62v0.62h-0.62zM202.3,758.9h0.62v0.62h-0.62zM211.5,771.0h0.62v0.62h-0.62zM188.0,754.9h0.62v0.62h-0.62zM186.5,741.8h0.62v0.62h-0.62zM217.6,769.7h0.62v0.62h-0.62zM211.3,771.8h0.62v0.62h-0.62zM215.4,777.2h0.62v0.62h-0.62zM203.6,760.0h0.62v0.62h-0.62zM185.7,721.4h0.62v0.62h-0.62zM187.4,750.7h0.62v0.62h-0.62zM207.5,763.7h0.62v0.62h-0.62zM212.2,768.2h0.62v0.62h-0.62zM192.3,752.1h0.62v0.62h-0.62zM197.5,749.8h0.62v0.62h-0.62zM225.6,774.4h0.62v0.62h-0.62zM205.3,770.6h0.62v0.62h-0.62zM210.0,770.1h0.62v0.62h-0.62zM185.8,725.2h0.62v0.62h-0.62zM200.4,748.1h0.62v0.62h-0.62zM194.5,761.7h0.62v0.62h-0.62zM190.0,728.5h0.62v0.62h-0.62zM186.0,738.4h0.62v0.62h-0.62zM211.1,766.1h0.62v0.62h-0.62zM205.7,758.7h0.62v0.62h-0.62zM209.1,773.5h0.62v0.62h-0.62zM224.3,774.7h0.62v0.62h-0.62zM186.8,724.8h0.62v0.62h-0.62zM195.7,763.8h0.62v0.62h-0.62zM210.8,767.5h0.62v0.62h-0.62zM191.6,733.1h0.62v0.62h-0.62zM193.0,728.9h0.62v0.62h-0.62zM204.0,772.6h0.62v0.62h-0.62zM220.0,776.9h0.62v0.62h-0.62zM193.1,747.7h0.62v0.62h-0.62zM196.6,737.6h0.62v0.62h-0.62zM184.8,725.6h0.62v0.62h-0.62zM203.1,761.2h0.62v0.62h-0.62zM215.6,777.7h0.62v0.62h-0.62zM187.0,737.3h0.62v0.62h-0.62zM194.0,754.4h0.62v0.62h-0.62zM225.9,774.0h0.62v0.62h-0.62zM195.7,753.2h0.62v0.62h-0.62zM187.2,737.3h0.62v0.62h-0.62zM195.8,753.0h0.62v0.62h-0.62zM199.1,757.3h0.62v0.62h-0.62zM184.0,728.9h0.62v0.62h-0.62zM188.8,750.8h0.62v0.62h-0.62zM188.9,735.0h0.62v0.62h-0.62zM189.5,726.2h0.62v0.62h-0.62zM192.2,750.6h0.62v0.62h-0.62zM219.0,772.4h0.62v0.62h-0.62z" fill="#1fb6c1"/>
<path d="M80.2,671.5h0.62v0.62h-0.62zM90.5,667.7h0.62v0.62h-0.62zM86.9,682.0h0.62v0.62h-0.62zM71.8,688.9h0.62v0.62h-0.62zM71.2,685.3h0.62v0.62h-0.62zM73.9,675.1h0.62v0.62h-0.62zM88.2,683.5h0.62v0.62h-0.62zM75.7,692.5h0.62v0.62h-0.62zM90.1,682.3h0.62v0.62h-0.62zM87.2,667.2h0.62v0.62h-0.62zM71.9,674.2h0.62v0.62h-0.62zM79.9,692.7h0.62v0.62h-0.62zM84.3,678.8h0.62v0.62h-0.62zM77.7,692.2h0.62v0.62h-0.62zM93.0,678.2h0.62v0.62h-0.62zM74.8,688.0h0.62v0.62h-0.62zM71.2,696.7h0.62v0.62h-0.62zM88.3,686.4h0.62v0.62h-0.62zM71.9,698.4h0.62v0.62h-0.62zM70.7,686.7h0.62v0.62h-0.62zM71.8,701.6h0.62v0.62h-0.62zM74.1,676.2h0.62v0.62h-0.62zM72.5,686.1h0.62v0.62h-0.62zM78.8,684.4h0.62v0.62h-0.62zM75.5,675.5h0.62v0.62h-0.62zM77.3,687.8h0.62v0.62h-0.62zM88.5,677.0h0.62v0.62h-0.62zM81.6,691.8h0.62v0.62h-0.62zM91.3,666.8h0.62v0.62h-0.62zM82.3,683.6h0.62v0.62h-0.62zM73.3,695.1h0.62v0.62h-0.62zM76.6,672.1h0.62v0.62h-0.62zM73.2,681.9h0.62v0.62h-0.62zM89.3,671.4h0.62v0.62h-0.62zM77.9,681.1h0.62v0.62h-0.62zM81.5,670.2h0.62v0.62h-0.62zM84.7,687.8h0.62v0.62h-0.62zM80.8,677.1h0.62v0.62h-0.62zM96.1,672.1h0.62v0.62h-0.62zM70.7,710.5h0.62v0.62h-0.62zM86.6,671.3h0.62v0.62h-0.62zM78.2,682.0h0.62v0.62h-0.62zM75.3,701.8h0.62v0.62h-0.62zM80.4,675.1h0.62v0.62h-0.62zM77.1,689.4h0.62v0.62h-0.62zM70.9,677.8h0.62v0.62h-0.62zM78.2,697.9h0.62v0.62h-0.62zM76.9,675.2h0.62v0.62h-0.62zM76.2,674.1h0.62v0.62h-0.62zM72.7,696.4h0.62v0.62h-0.62zM75.6,702.6h0.62v0.62h-0.62zM92.8,672.5h0.62v0.62h-0.62zM74.0,671.6h0.62v0.62h-0.62zM74.6,704.4h0.62v0.62h-0.62zM81.0,690.9h0.62v0.62h-0.62zM96.0,674.5h0.62v0.62h-0.62zM77.9,678.5h0.62v0.62h-0.62zM77.6,692.7h0.62v0.62h-0.62zM78.2,684.6h0.62v0.62h-0.62zM81.1,686.5h0.62v0.62h-0.62zM85.8,690.1h0.62v0.62h-0.62zM83.9,673.1h0.62v0.62h-0.62zM75.4,687.2h0.62v0.62h-0.62zM80.3,689.4h0.62v0.62h-0.62zM73.3,691.5h0.62v0.62h-0.62zM77.8,677.7h0.62v0.62h-0.62zM84.2,690.2h0.62v0.62h-0.62zM96.4,670.9h0.62v0.62h-0.62zM73.8,685.7h0.62v0.62h-0.62zM72.3,675.9h0.62v0.62h-0.62zM72.3,696.8h0.62v0.62h-0.62zM74.9,699.1h0.62v0.62h-0.62zM90.8,671.2h0.62v0.62h-0.62zM82.5,687.9h0.62v0.62h-0.62zM75.1,685.2h0.62v0.62h-0.62zM86.2,680.7h0.62v0.62h-0.62zM76.2,679.7h0.62v0.62h-0.62zM87.4,685.6h0.62v0.62h-0.62zM70.6,680.3h0.62v0.62h-0.62zM73.3,677.1h0.62v0.62h-0.62zM71.2,702.1h0.62v0.62h-0.62zM78.5,670.5h0.62v0.62h-0.62zM72.6,705.9h0.62v0.62h-0.62zM72.1,706.2h0.62v0.62h-0.62zM84.3,680.7h0.62v0.62h-0.62zM78.4,670.5h0.62v0.62h-0.62zM86.6,675.8h0.62v0.62h-0.62zM73.4,672.1h0.62v0.62h-0.62zM71.6,674.0h0.62v0.62h-0.62zM79.8,679.0h0.62v0.62h-0.62zM93.9,678.3h0.62v0.62h-0.62zM85.7,672.9h0.62v0.62h-0.62zM76.0,687.3h0.62v0.62h-0.62zM82.4,688.9h0.62v0.62h-0.62zM82.7,681.1h0.62v0.62h-0.62zM72.2,700.3h0.62v0.62h-0.62zM78.0,672.1h0.62v0.62h-0.62zM72.7,705.2h0.62v0.62h-0.62zM78.9,676.0h0.62v0.62h-0.62zM79.2,686.6h0.62v0.62h-0.62zM75.0,685.9h0.62v0.62h-0.62zM79.7,681.6h0.62v0.62h-0.62zM84.9,688.7h0.62v0.62h-0.62zM76.3,688.8h0.62v0.62h-0.62zM72.8,683.6h0.62v0.62h-0.62zM79.6,675.5h0.62v0.62h-0.62zM82.3,680.1h0.62v0.62h-0.62zM71.4,704.9h0.62v0.62h-0.62zM74.4,689.7h0.62v0.62h-0.62zM74.2,681.8h0.62v0.62h-0.62zM73.3,704.9h0.62v0.62h-0.62zM85.8,690.3h0.62v0.62h-0.62zM90.8,667.4h0.62v0.62h-0.62zM93.2,676.5h0.62v0.62h-0.62zM72.3,677.1h0.62v0.62h-0.62zM93.0,674.2h0.62v0.62h-0.62zM85.5,682.8h0.62v0.62h-0.62zM90.2,668.0h0.62v0.62h-0.62zM74.6,676.6h0.62v0.62h-0.62zM93.4,679.0h0.62v0.62h-0.62zM71.9,677.3h0.62v0.62h-0.62zM91.3,678.4h0.62v0.62h-0.62zM86.3,686.8h0.62v0.62h-0.62zM84.7,670.0h0.62v0.62h-0.62zM70.5,686.5h0.62v0.62h-0.62zM84.1,677.3h0.62v0.62h-0.62zM76.6,692.5h0.62v0.62h-0.62zM74.5,689.7h0.62v0.62h-0.62zM84.2,678.9h0.62v0.62h-0.62zM74.4,680.9h0.62v0.62h-0.62zM96.4,670.0h0.62v0.62h-0.62zM81.7,683.3h0.62v0.62h-0.62zM81.4,685.0h0.62v0.62h-0.62zM73.2,704.8h0.62v0.62h-0.62zM77.8,677.1h0.62v0.62h-0.62zM86.1,673.4h0.62v0.62h-0.62zM92.7,666.6h0.62v0.62h-0.62zM84.9,680.9h0.62v0.62h-0.62zM90.7,678.8h0.62v0.62h-0.62zM87.5,683.4h0.62v0.62h-0.62zM75.3,672.1h0.62v0.62h-0.62zM85.6,674.9h0.62v0.62h-0.62zM84.2,671.0h0.62v0.62h-0.62zM80.8,668.6h0.62v0.62h-0.62zM77.5,676.8h0.62v0.62h-0.62zM83.0,689.7h0.62v0.62h-0.62zM81.9,680.7h0.62v0.62h-0.62zM71.9,677.7h0.62v0.62h-0.62zM78.5,676.3h0.62v0.62h-0.62zM82.6,685.9h0.62v0.62h-0.62zM97.5,665.3h0.62v0.62h-0.62zM71.0,698.7h0.62v0.62h-0.62zM73.4,671.7h0.62v0.62h-0.62zM84.4,691.0h0.62v0.62h-0.62zM71.2,702.3h0.62v0.62h-0.62zM90.3,679.0h0.62v0.62h-0.62zM74.0,676.5h0.62v0.62h-0.62zM82.2,675.1h0.62v0.62h-0.62zM79.5,686.6h0.62v0.62h-0.62zM77.4,676.2h0.62v0.62h-0.62zM83.2,676.7h0.62v0.62h-0.62zM80.6,684.7h0.62v0.62h-0.62zM91.5,673.8h0.62v0.62h-0.62zM85.9,674.2h0.62v0.62h-0.62zM95.8,675.4h0.62v0.62h-0.62zM77.0,701.2h0.62v0.62h-0.62zM85.6,673.3h0.62v0.62h-0.62zM77.0,684.5h0.62v0.62h-0.62zM74.6,683.4h0.62v0.62h-0.62zM71.9,683.3h0.62v0.62h-0.62zM93.5,665.7h0.62v0.62h-0.62zM90.9,682.6h0.62v0.62h-0.62zM81.8,680.3h0.62v0.62h-0.62zM78.8,681.3h0.62v0.62h-0.62zM71.5,687.2h0.62v0.62h-0.62zM76.1,681.9h0.62v0.62h-0.62zM98.2,665.7h0.62v0.62h-0.62zM94.1,666.2h0.62v0.62h-0.62zM80.7,677.5h0.62v0.62h-0.62zM78.2,699.1h0.62v0.62h-0.62zM80.0,677.6h0.62v0.62h-0.62zM99.7,665.4h0.62v0.62h-0.62zM77.4,687.3h0.62v0.62h-0.62zM82.2,676.4h0.62v0.62h-0.62zM83.5,688.2h0.62v0.62h-0.62zM89.1,680.2h0.62v0.62h-0.62zM80.1,681.8h0.62v0.62h-0.62zM94.6,668.0h0.62v0.62h-0.62zM76.2,700.9h0.62v0.62h-0.62zM71.1,691.1h0.62v0.62h-0.62zM73.0,688.5h0.62v0.62h-0.62zM77.4,684.5h0.62v0.62h-0.62zM90.9,670.1h0.62v0.62h-0.62zM87.8,682.4h0.62v0.62h-0.62zM93.2,673.9h0.62v0.62h-0.62zM77.8,676.1h0.62v0.62h-0.62zM88.2,680.1h0.62v0.62h-0.62zM86.0,675.5h0.62v0.62h-0.62zM71.3,678.5h0.62v0.62h-0.62zM73.7,673.4h0.62v0.62h-0.62zM76.8,682.1h0.62v0.62h-0.62zM74.4,674.1h0.62v0.62h-0.62zM78.0,693.4h0.62v0.62h-0.62zM90.5,674.1h0.62v0.62h-0.62zM91.4,673.2h0.62v0.62h-0.62zM79.8,674.1h0.62v0.62h-0.62zM82.4,691.0h0.62v0.62h-0.62zM90.1,668.6h0.62v0.62h-0.62zM75.1,698.1h0.62v0.62h-0.62zM82.9,678.0h0.62v0.62h-0.62zM79.8,691.8h0.62v0.62h-0.62zM81.2,684.5h0.62v0.62h-0.62zM81.4,673.8h0.62v0.62h-0.62zM92.9,674.1h0.62v0.62h-0.62zM84.5,672.1h0.62v0.62h-0.62zM70.5,691.1h0.62v0.62h-0.62zM72.8,694.5h0.62v0.62h-0.62zM81.7,688.8h0.62v0.62h-0.62zM74.6,678.0h0.62v0.62h-0.62zM73.4,688.1h0.62v0.62h-0.62zM76.2,670.4h0.62v0.62h-0.62zM96.0,672.0h0.62v0.62h-0.62zM94.7,675.0h0.62v0.62h-0.62zM96.1,673.1h0.62v0.62h-0.62zM76.9,683.7h0.62v0.62h-0.62zM86.3,682.9h0.62v0.62h-0.62zM73.9,676.2h0.62v0.62h-0.62zM71.3,691.6h0.62v0.62h-0.62zM93.9,666.0h0.62v0.62h-0.62zM96.4,669.9h0.62v0.62h-0.62zM89.7,679.1h0.62v0.62h-0.62zM83.2,692.6h0.62v0.62h-0.62zM84.1,685.5h0.62v0.62h-0.62zM70.7,694.3h0.62v0.62h-0.62zM85.4,675.6h0.62v0.62h-0.62zM84.4,672.9h0.62v0.62h-0.62zM84.9,669.4h0.62v0.62h-0.62zM74.0,685.2h0.62v0.62h-0.62zM72.9,685.7h0.62v0.62h-0.62zM90.0,668.2h0.62v0.62h-0.62zM85.9,682.6h0.62v0.62h-0.62zM72.1,681.3h0.62v0.62h-0.62zM93.8,671.9h0.62v0.62h-0.62zM95.7,671.2h0.62v0.62h-0.62zM76.6,677.0h0.62v0.62h-0.62zM85.9,679.7h0.62v0.62h-0.62zM71.2,673.1h0.62v0.62h-0.62zM75.3,702.4h0.62v0.62h-0.62zM73.6,690.0h0.62v0.62h-0.62zM90.0,681.7h0.62v0.62h-0.62zM89.8,683.4h0.62v0.62h-0.62zM95.1,677.1h0.62v0.62h-0.62zM83.9,672.8h0.62v0.62h-0.62zM93.4,666.5h0.62v0.62h-0.62zM71.1,671.5h0.62v0.62h-0.62zM89.4,685.2h0.62v0.62h-0.62zM74.1,675.3h0.62v0.62h-0.62zM73.3,681.6h0.62v0.62h-0.62zM77.1,692.6h0.62v0.62h-0.62zM88.5,674.1h0.62v0.62h-0.62zM77.7,671.5h0.62v0.62h-0.62zM73.0,695.3h0.62v0.62h-0.62zM82.7,677.1h0.62v0.62h-0.62zM87.7,681.3h0.62v0.62h-0.62zM90.3,685.8h0.62v0.62h-0.62zM71.4,690.1h0.62v0.62h-0.62zM82.8,675.8h0.62v0.62h-0.62zM71.8,702.1h0.62v0.62h-0.62zM70.4,691.0h0.62v0.62h-0.62zM76.3,693.8h0.62v0.62h-0.62zM95.6,672.7h0.62v0.62h-0.62zM79.7,678.8h0.62v0.62h-0.62zM71.5,707.5h0.62v0.62h-0.62zM92.4,677.1h0.62v0.62h-0.62zM87.4,685.4h0.62v0.62h-0.62zM78.3,695.5h0.62v0.62h-0.62zM97.7,664.9h0.62v0.62h-0.62zM78.2,675.7h0.62v0.62h-0.62zM93.5,680.1h0.62v0.62h-0.62zM88.0,679.2h0.62v0.62h-0.62zM76.7,694.5h0.62v0.62h-0.62zM72.4,708.5h0.62v0.62h-0.62zM80.9,671.1h0.62v0.62h-0.62zM72.1,692.9h0.62v0.62h-0.62zM72.1,706.5h0.62v0.62h-0.62zM73.4,674.2h0.62v0.62h-0.62zM89.9,678.2h0.62v0.62h-0.62zM93.8,674.2h0.62v0.62h-0.62zM80.0,684.8h0.62v0.62h-0.62zM70.6,676.7h0.62v0.62h-0.62zM78.9,699.0h0.62v0.62h-0.62zM81.6,679.8h0.62v0.62h-0.62zM71.0,684.3h0.62v0.62h-0.62zM86.9,674.7h0.62v0.62h-0.62zM97.2,668.6h0.62v0.62h-0.62zM95.8,672.5h0.62v0.62h-0.62zM75.8,688.3h0.62v0.62h-0.62zM78.9,674.6h0.62v0.62h-0.62zM73.5,695.2h0.62v0.62h-0.62zM72.5,702.6h0.62v0.62h-0.62zM89.8,681.5h0.62v0.62h-0.62zM82.6,683.4h0.62v0.62h-0.62zM98.0,668.4h0.62v0.62h-0.62zM98.0,665.4h0.62v0.62h-0.62zM76.5,677.0h0.62v0.62h-0.62zM77.3,686.6h0.62v0.62h-0.62zM81.0,680.1h0.62v0.62h-0.62zM74.9,705.2h0.62v0.62h-0.62zM75.3,685.6h0.62v0.62h-0.62zM74.0,686.7h0.62v0.62h-0.62zM76.0,678.9h0.62v0.62h-0.62zM74.9,671.8h0.62v0.62h-0.62zM77.8,680.1h0.62v0.62h-0.62zM86.4,672.0h0.62v0.62h-0.62zM80.3,673.4h0.62v0.62h-0.62zM73.2,682.9h0.62v0.62h-0.62zM76.2,695.3h0.62v0.62h-0.62zM73.4,674.2h0.62v0.62h-0.62zM74.5,693.6h0.62v0.62h-0.62zM83.3,675.3h0.62v0.62h-0.62zM79.8,694.8h0.62v0.62h-0.62zM73.1,684.6h0.62v0.62h-0.62zM89.8,676.4h0.62v0.62h-0.62zM83.3,686.4h0.62v0.62h-0.62zM89.6,684.1h0.62v0.62h-0.62zM75.8,696.1h0.62v0.62h-0.62zM71.2,690.7h0.62v0.62h-0.62zM75.1,702.3h0.62v0.62h-0.62zM73.2,692.2h0.62v0.62h-0.62zM76.6,697.5h0.62v0.62h-0.62zM78.6,683.7h0.62v0.62h-0.62zM70.4,684.6h0.62v0.62h-0.62zM81.1,677.1h0.62v0.62h-0.62zM77.1,700.3h0.62v0.62h-0.62zM82.3,674.5h0.62v0.62h-0.62zM74.1,702.0h0.62v0.62h-0.62zM84.8,691.6h0.62v0.62h-0.62zM81.1,695.3h0.62v0.62h-0.62zM84.7,678.5h0.62v0.62h-0.62zM87.3,670.3h0.62v0.62h-0.62zM81.8,676.5h0.62v0.62h-0.62zM83.4,673.2h0.62v0.62h-0.62zM78.8,676.1h0.62v0.62h-0.62zM79.5,687.5h0.62v0.62h-0.62zM90.8,681.8h0.62v0.62h-0.62zM71.8,704.5h0.62v0.62h-0.62zM74.4,704.7h0.62v0.62h-0.62zM90.7,676.4h0.62v0.62h-0.62zM73.2,671.1h0.62v0.62h-0.62zM77.3,702.0h0.62v0.62h-0.62zM80.9,671.6h0.62v0.62h-0.62zM76.2,697.9h0.62v0.62h-0.62zM87.5,677.1h0.62v0.62h-0.62zM77.4,671.0h0.62v0.62h-0.62zM84.7,671.2h0.62v0.62h-0.62zM85.5,688.5h0.62v0.62h-0.62zM84.7,691.6h0.62v0.62h-0.62zM81.8,684.6h0.62v0.62h-0.62zM70.9,693.9h0.62v0.62h-0.62zM86.1,687.8h0.62v0.62h-0.62zM98.3,665.8h0.62v0.62h-0.62zM81.5,687.3h0.62v0.62h-0.62zM76.6,685.4h0.62v0.62h-0.62zM83.3,691.2h0.62v0.62h-0.62zM85.9,677.4h0.62v0.62h-0.62zM80.4,679.6h0.62v0.62h-0.62zM79.4,692.8h0.62v0.62h-0.62zM71.3,699.4h0.62v0.62h-0.62zM71.6,678.8h0.62v0.62h-0.62zM91.4,674.5h0.62v0.62h-0.62zM94.0,669.1h0.62v0.62h-0.62zM90.6,682.2h0.62v0.62h-0.62zM87.7,676.8h0.62v0.62h-0.62zM79.5,684.7h0.62v0.62h-0.62zM80.0,685.2h0.62v0.62h-0.62zM71.7,691.8h0.62v0.62h-0.62zM70.4,683.0h0.62v0.62h-0.62zM83.0,669.2h0.62v0.62h-0.62zM90.3,674.5h0.62v0.62h-0.62zM72.8,706.5h0.62v0.62h-0.62zM92.6,676.0h0.62v0.62h-0.62zM93.1,673.3h0.62v0.62h-0.62zM71.6,701.9h0.62v0.62h-0.62zM93.0,668.3h0.62v0.62h-0.62zM95.7,668.1h0.62v0.62h-0.62zM81.6,692.2h0.62v0.62h-0.62zM74.6,703.0h0.62v0.62h-0.62zM81.4,695.6h0.62v0.62h-0.62zM89.8,684.5h0.62v0.62h-0.62zM87.8,678.4h0.62v0.62h-0.62zM80.4,693.7h0.62v0.62h-0.62zM88.9,679.2h0.62v0.62h-0.62zM83.3,692.8h0.62v0.62h-0.62zM71.3,704.8h0.62v0.62h-0.62zM88.0,677.5h0.62v0.62h-0.62zM76.3,700.7h0.62v0.62h-0.62zM84.6,674.3h0.62v0.62h-0.62zM78.0,700.8h0.62v0.62h-0.62zM72.8,703.5h0.62v0.62h-0.62zM94.3,675.5h0.62v0.62h-0.62zM85.0,692.9h0.62v0.62h-0.62zM75.9,673.6h0.62v0.62h-0.62zM75.7,698.3h0.62v0.62h-0.62zM81.4,691.7h0.62v0.62h-0.62zM82.7,689.4h0.62v0.62h-0.62zM73.3,695.0h0.62v0.62h-0.62zM94.8,671.8h0.62v0.62h-0.62zM88.8,681.0h0.62v0.62h-0.62zM87.9,676.9h0.62v0.62h-0.62zM76.3,673.0h0.62v0.62h-0.62zM98.7,667.3h0.62v0.62h-0.62zM88.8,683.5h0.62v0.62h-0.62zM78.1,691.7h0.62v0.62h-0.62zM91.1,683.3h0.62v0.62h-0.62zM84.1,672.0h0.62v0.62h-0.62zM78.0,681.3h0.62v0.62h-0.62zM96.4,666.5h0.62v0.62h-0.62zM71.7,671.2h0.62v0.62h-0.62zM91.3,678.7h0.62v0.62h-0.62zM73.3,680.0h0.62v0.62h-0.62zM78.1,670.2h0.62v0.62h-0.62zM85.2,672.4h0.62v0.62h-0.62zM77.5,671.2h0.62v0.62h-0.62zM92.6,673.7h0.62v0.62h-0.62zM71.1,709.4h0.62v0.62h-0.62zM74.4,686.0h0.62v0.62h-0.62zM84.2,680.7h0.62v0.62h-0.62zM89.8,671.1h0.62v0.62h-0.62zM78.4,684.2h0.62v0.62h-0.62zM74.9,677.4h0.62v0.62h-0.62zM75.3,688.1h0.62v0.62h-0.62zM71.8,707.8h0.62v0.62h-0.62zM91.0,674.5h0.62v0.62h-0.62zM85.0,678.1h0.62v0.62h-0.62zM78.1,674.0h0.62v0.62h-0.62zM73.1,678.3h0.62v0.62h-0.62zM98.2,667.0h0.62v0.62h-0.62zM92.9,678.5h0.62v0.62h-0.62zM100.8,665.0h0.62v0.62h-0.62zM75.8,685.4h0.62v0.62h-0.62zM88.0,670.9h0.62v0.62h-0.62zM75.7,701.7h0.62v0.62h-0.62zM92.4,673.8h0.62v0.62h-0.62zM78.6,674.2h0.62v0.62h-0.62zM92.7,666.9h0.62v0.62h-0.62zM81.6,672.2h0.62v0.62h-0.62zM81.7,693.2h0.62v0.62h-0.62zM84.0,689.3h0.62v0.62h-0.62zM73.8,699.0h0.62v0.62h-0.62zM71.9,706.7h0.62v0.62h-0.62zM86.2,690.0h0.62v0.62h-0.62zM92.0,673.7h0.62v0.62h-0.62zM70.5,693.4h0.62v0.62h-0.62zM92.1,669.2h0.62v0.62h-0.62zM85.5,688.6h0.62v0.62h-0.62zM78.8,670.1h0.62v0.62h-0.62zM82.8,670.9h0.62v0.62h-0.62zM74.6,692.1h0.62v0.62h-0.62zM93.5,672.2h0.62v0.62h-0.62zM82.2,684.7h0.62v0.62h-0.62zM77.6,680.5h0.62v0.62h-0.62zM71.7,689.4h0.62v0.62h-0.62zM77.8,684.7h0.62v0.62h-0.62zM89.9,681.9h0.62v0.62h-0.62zM86.7,667.6h0.62v0.62h-0.62zM83.6,688.8h0.62v0.62h-0.62zM97.9,665.9h0.62v0.62h-0.62zM90.2,677.1h0.62v0.62h-0.62zM91.4,677.5h0.62v0.62h-0.62zM89.6,676.4h0.62v0.62h-0.62zM86.4,685.3h0.62v0.62h-0.62zM79.6,695.7h0.62v0.62h-0.62zM73.8,693.1h0.62v0.62h-0.62zM78.4,686.9h0.62v0.62h-0.62zM86.8,671.4h0.62v0.62h-0.62zM73.9,670.6h0.62v0.62h-0.62zM79.2,684.0h0.62v0.62h-0.62zM79.1,676.0h0.62v0.62h-0.62zM72.8,690.8h0.62v0.62h-0.62zM76.3,698.8h0.62v0.62h-0.62zM84.5,690.9h0.62v0.62h-0.62zM89.3,687.0h0.62v0.62h-0.62zM79.8,676.0h0.62v0.62h-0.62zM77.0,689.1h0.62v0.62h-0.62zM82.1,692.7h0.62v0.62h-0.62zM87.5,688.1h0.62v0.62h-0.62zM71.9,683.1h0.62v0.62h-0.62zM73.4,675.2h0.62v0.62h-0.62zM74.9,680.6h0.62v0.62h-0.62zM81.1,697.1h0.62v0.62h-0.62zM88.0,684.5h0.62v0.62h-0.62zM89.1,682.7h0.62v0.62h-0.62zM84.2,686.5h0.62v0.62h-0.62zM92.8,678.5h0.62v0.62h-0.62zM82.3,691.2h0.62v0.62h-0.62zM82.1,679.9h0.62v0.62h-0.62zM85.7,685.8h0.62v0.62h-0.62zM75.8,679.0h0.62v0.62h-0.62zM74.6,692.2h0.62v0.62h-0.62zM88.3,668.5h0.62v0.62h-0.62zM87.8,688.4h0.62v0.62h-0.62zM86.3,689.4h0.62v0.62h-0.62zM91.6,683.2h0.62v0.62h-0.62zM81.3,693.2h0.62v0.62h-0.62zM73.1,682.4h0.62v0.62h-0.62zM82.6,691.5h0.62v0.62h-0.62zM75.4,679.7h0.62v0.62h-0.62zM86.1,669.6h0.62v0.62h-0.62zM74.9,678.3h0.62v0.62h-0.62zM86.1,688.8h0.62v0.62h-0.62zM75.9,673.1h0.62v0.62h-0.62zM90.0,666.3h0.62v0.62h-0.62zM79.7,697.8h0.62v0.62h-0.62zM91.0,673.8h0.62v0.62h-0.62zM85.7,691.1h0.62v0.62h-0.62zM78.4,695.7h0.62v0.62h-0.62zM88.1,684.2h0.62v0.62h-0.62zM73.8,671.8h0.62v0.62h-0.62zM93.9,669.4h0.62v0.62h-0.62zM73.1,672.5h0.62v0.62h-0.62zM94.3,679.9h0.62v0.62h-0.62zM92.5,681.4h0.62v0.62h-0.62zM75.3,677.2h0.62v0.62h-0.62zM73.1,708.2h0.62v0.62h-0.62zM88.3,681.2h0.62v0.62h-0.62zM84.2,683.0h0.62v0.62h-0.62zM71.7,707.6h0.62v0.62h-0.62zM77.6,683.2h0.62v0.62h-0.62zM92.6,675.0h0.62v0.62h-0.62zM77.7,672.6h0.62v0.62h-0.62zM81.3,673.3h0.62v0.62h-0.62zM87.7,669.8h0.62v0.62h-0.62zM86.8,683.0h0.62v0.62h-0.62zM73.9,704.4h0.62v0.62h-0.62zM81.1,676.1h0.62v0.62h-0.62zM76.0,678.0h0.62v0.62h-0.62zM90.9,680.8h0.62v0.62h-0.62zM74.9,698.6h0.62v0.62h-0.62zM72.9,677.3h0.62v0.62h-0.62zM96.3,670.4h0.62v0.62h-0.62zM95.3,671.9h0.62v0.62h-0.62zM85.9,675.3h0.62v0.62h-0.62zM84.2,670.6h0.62v0.62h-0.62zM92.2,676.9h0.62v0.62h-0.62zM81.6,676.2h0.62v0.62h-0.62zM89.1,674.5h0.62v0.62h-0.62zM97.5,670.2h0.62v0.62h-0.62zM86.2,690.6h0.62v0.62h-0.62zM82.1,696.2h0.62v0.62h-0.62zM87.9,679.3h0.62v0.62h-0.62zM82.3,668.4h0.62v0.62h-0.62zM80.1,696.5h0.62v0.62h-0.62zM73.4,691.6h0.62v0.62h-0.62zM81.4,688.6h0.62v0.62h-0.62zM79.8,675.2h0.62v0.62h-0.62zM74.0,699.1h0.62v0.62h-0.62zM78.9,683.8h0.62v0.62h-0.62zM74.2,677.7h0.62v0.62h-0.62zM70.9,697.3h0.62v0.62h-0.62zM90.9,681.3h0.62v0.62h-0.62zM92.0,676.3h0.62v0.62h-0.62zM89.8,673.0h0.62v0.62h-0.62zM75.1,673.8h0.62v0.62h-0.62zM79.5,682.7h0.62v0.62h-0.62zM71.2,679.3h0.62v0.62h-0.62zM90.1,672.9h0.62v0.62h-0.62zM92.6,676.6h0.62v0.62h-0.62zM71.5,676.1h0.62v0.62h-0.62zM73.5,702.7h0.62v0.62h-0.62zM93.6,668.4h0.62v0.62h-0.62zM91.9,683.4h0.62v0.62h-0.62zM89.8,686.2h0.62v0.62h-0.62zM71.7,698.2h0.62v0.62h-0.62zM83.5,689.1h0.62v0.62h-0.62zM94.0,666.3h0.62v0.62h-0.62zM78.2,690.8h0.62v0.62h-0.62zM87.1,676.3h0.62v0.62h-0.62zM71.9,681.6h0.62v0.62h-0.62zM83.0,674.0h0.62v0.62h-0.62zM79.8,670.8h0.62v0.62h-0.62zM77.5,676.0h0.62v0.62h-0.62zM86.2,685.9h0.62v0.62h-0.62zM74.5,691.6h0.62v0.62h-0.62zM75.3,696.7h0.62v0.62h-0.62zM88.8,686.6h0.62v0.62h-0.62zM73.6,678.3h0.62v0.62h-0.62zM81.3,674.2h0.62v0.62h-0.62zM71.9,677.9h0.62v0.62h-0.62zM76.2,698.4h0.62v0.62h-0.62zM84.1,669.7h0.62v0.62h-0.62zM80.2,687.0h0.62v0.62h-0.62zM81.4,672.4h0.62v0.62h-0.62zM72.6,699.1h0.62v0.62h-0.62zM73.4,688.0h0.62v0.62h-0.62zM83.7,673.4h0.62v0.62h-0.62zM90.5,676.4h0.62v0.62h-0.62zM77.7,670.9h0.62v0.62h-0.62zM70.9,701.9h0.62v0.62h-0.62zM75.8,695.3h0.62v0.62h-0.62zM75.3,702.4h0.62v0.62h-0.62zM80.3,673.2h0.62v0.62h-0.62zM81.6,691.0h0.62v0.62h-0.62zM85.6,688.5h0.62v0.62h-0.62zM75.0,678.8h0.62v0.62h-0.62zM88.3,668.1h0.62v0.62h-0.62zM91.7,672.2h0.62v0.62h-0.62zM83.8,673.5h0.62v0.62h-0.62zM78.9,696.4h0.62v0.62h-0.62zM86.2,684.7h0.62v0.62h-0.62zM80.7,685.6h0.62v0.62h-0.62zM79.3,685.8h0.62v0.62h-0.62zM87.7,681.1h0.62v0.62h-0.62zM80.2,686.6h0.62v0.62h-0.62zM95.5,667.1h0.62v0.62h-0.62zM79.3,692.0h0.62v0.62h-0.62zM90.4,678.8h0.62v0.62h-0.62zM70.9,673.4h0.62v0.62h-0.62zM72.7,696.4h0.62v0.62h-0.62zM81.7,692.5h0.62v0.62h-0.62zM83.1,690.0h0.62v0.62h-0.62zM87.8,683.5h0.62v0.62h-0.62zM73.6,673.0h0.62v0.62h-0.62zM73.5,706.2h0.62v0.62h-0.62zM86.7,676.4h0.62v0.62h-0.62zM85.4,691.2h0.62v0.62h-0.62zM77.1,692.1h0.62v0.62h-0.62zM73.6,689.2h0.62v0.62h-0.62zM88.5,668.1h0.62v0.62h-0.62zM93.8,669.8h0.62v0.62h-0.62zM73.2,704.6h0.62v0.62h-0.62zM82.3,672.5h0.62v0.62h-0.62zM94.4,670.9h0.62v0.62h-0.62zM94.4,667.0h0.62v0.62h-0.62zM77.5,682.3h0.62v0.62h-0.62zM70.5,693.1h0.62v0.62h-0.62zM76.7,678.8h0.62v0.62h-0.62zM75.3,700.5h0.62v0.62h-0.62zM73.9,682.4h0.62v0.62h-0.62zM92.7,666.3h0.62v0.62h-0.62zM89.0,669.0h0.62v0.62h-0.62zM64.2,701.7h0.62v0.62h-0.62zM69.7,699.2h0.62v0.62h-0.62zM59.3,746.1h0.62v0.62h-0.62zM61.7,729.1h0.62v0.62h-0.62zM52.6,735.0h0.62v0.62h-0.62zM64.8,739.2h0.62v0.62h-0.62zM51.0,746.0h0.62v0.62h-0.62zM52.4,738.4h0.62v0.62h-0.62zM54.4,742.5h0.62v0.62h-0.62zM56.1,725.7h0.62v0.62h-0.62zM65.5,737.9h0.62v0.62h-0.62zM62.0,746.2h0.62v0.62h-0.62zM55.4,725.9h0.62v0.62h-0.62zM58.4,748.3h0.62v0.62h-0.62zM52.4,746.6h0.62v0.62h-0.62zM61.8,733.4h0.62v0.62h-0.62zM57.9,726.1h0.62v0.62h-0.62zM64.9,733.4h0.62v0.62h-0.62zM65.5,740.1h0.62v0.62h-0.62zM50.3,731.4h0.62v0.62h-0.62zM53.0,748.9h0.62v0.62h-0.62zM60.1,722.5h0.62v0.62h-0.62zM52.1,732.4h0.62v0.62h-0.62zM57.8,739.1h0.62v0.62h-0.62zM56.3,732.2h0.62v0.62h-0.62zM57.6,751.8h0.62v0.62h-0.62zM61.6,729.6h0.62v0.62h-0.62zM54.1,736.7h0.62v0.62h-0.62zM53.9,738.8h0.62v0.62h-0.62zM58.9,750.9h0.62v0.62h-0.62zM59.5,745.1h0.62v0.62h-0.62zM65.5,745.2h0.62v0.62h-0.62zM60.9,740.9h0.62v0.62h-0.62zM55.8,729.9h0.62v0.62h-0.62zM64.0,748.2h0.62v0.62h-0.62zM66.7,742.3h0.62v0.62h-0.62zM54.7,744.9h0.62v0.62h-0.62zM62.9,737.0h0.62v0.62h-0.62zM61.0,732.1h0.62v0.62h-0.62zM59.4,733.8h0.62v0.62h-0.62zM50.0,731.6h0.62v0.62h-0.62zM58.0,732.6h0.62v0.62h-0.62zM53.5,728.5h0.62v0.62h-0.62zM55.5,725.4h0.62v0.62h-0.62zM57.5,735.0h0.62v0.62h-0.62zM59.7,730.6h0.62v0.62h-0.62zM54.6,730.8h0.62v0.62h-0.62zM62.7,738.3h0.62v0.62h-0.62zM66.7,731.7h0.62v0.62h-0.62zM66.4,739.3h0.62v0.62h-0.62zM59.9,751.8h0.62v0.62h-0.62zM55.7,745.2h0.62v0.62h-0.62zM57.0,748.1h0.62v0.62h-0.62zM50.2,736.2h0.62v0.62h-0.62zM66.0,729.7h0.62v0.62h-0.62zM52.0,729.5h0.62v0.62h-0.62zM62.3,728.0h0.62v0.62h-0.62zM56.5,727.4h0.62v0.62h-0.62zM60.3,748.0h0.62v0.62h-0.62zM61.2,727.3h0.62v0.62h-0.62zM60.3,723.6h0.62v0.62h-0.62zM64.3,748.3h0.62v0.62h-0.62zM55.4,725.4h0.62v0.62h-0.62zM52.5,737.8h0.62v0.62h-0.62zM65.5,741.0h0.62v0.62h-0.62zM55.1,744.4h0.62v0.62h-0.62zM61.2,733.8h0.62v0.62h-0.62zM61.8,731.7h0.62v0.62h-0.62zM50.0,734.0h0.62v0.62h-0.62zM49.8,740.6h0.62v0.62h-0.62zM55.2,736.5h0.62v0.62h-0.62zM60.2,729.2h0.62v0.62h-0.62zM57.7,721.6h0.62v0.62h-0.62zM66.5,738.7h0.62v0.62h-0.62zM60.6,743.6h0.62v0.62h-0.62zM55.1,724.1h0.62v0.62h-0.62zM51.9,725.6h0.62v0.62h-0.62zM63.5,724.0h0.62v0.62h-0.62zM64.4,734.3h0.62v0.62h-0.62zM59.1,739.4h0.62v0.62h-0.62zM59.4,741.6h0.62v0.62h-0.62zM60.3,731.4h0.62v0.62h-0.62zM63.0,729.2h0.62v0.62h-0.62zM62.4,744.9h0.62v0.62h-0.62zM63.6,730.8h0.62v0.62h-0.62zM57.5,729.8h0.62v0.62h-0.62zM58.8,750.4h0.62v0.62h-0.62zM57.9,741.5h0.62v0.62h-0.62zM63.6,732.4h0.62v0.62h-0.62zM63.3,724.0h0.62v0.62h-0.62zM50.0,736.7h0.62v0.62h-0.62zM59.4,726.8h0.62v0.62h-0.62zM66.7,732.5h0.62v0.62h-0.62zM51.7,726.7h0.62v0.62h-0.62zM62.9,749.8h0.62v0.62h-0.62zM63.7,728.7h0.62v0.62h-0.62zM67.6,736.7h0.62v0.62h-0.62zM61.0,731.9h0.62v0.62h-0.62zM64.1,735.5h0.62v0.62h-0.62zM55.0,749.2h0.62v0.62h-0.62zM50.9,743.9h0.62v0.62h-0.62zM50.1,741.2h0.62v0.62h-0.62zM56.5,748.0h0.62v0.62h-0.62zM50.0,738.7h0.62v0.62h-0.62zM56.7,749.7h0.62v0.62h-0.62zM66.8,740.6h0.62v0.62h-0.62zM53.1,729.0h0.62v0.62h-0.62zM53.9,734.6h0.62v0.62h-0.62zM53.3,727.5h0.62v0.62h-0.62zM63.3,741.1h0.62v0.62h-0.62zM53.0,738.8h0.62v0.62h-0.62zM51.9,747.9h0.62v0.62h-0.62zM65.4,729.5h0.62v0.62h-0.62zM63.2,746.7h0.62v0.62h-0.62zM54.3,731.5h0.62v0.62h-0.62zM58.1,748.8h0.62v0.62h-0.62zM52.0,742.4h0.62v0.62h-0.62zM60.2,735.2h0.62v0.62h-0.62zM59.9,748.6h0.62v0.62h-0.62zM52.9,748.6h0.62v0.62h-0.62zM55.7,745.4h0.62v0.62h-0.62zM65.3,726.8h0.62v0.62h-0.62zM51.8,744.0h0.62v0.62h-0.62zM61.9,724.0h0.62v0.62h-0.62zM55.3,749.7h0.62v0.62h-0.62zM62.5,748.5h0.62v0.62h-0.62zM53.3,745.7h0.62v0.62h-0.62zM62.0,722.4h0.62v0.62h-0.62zM58.5,728.4h0.62v0.62h-0.62zM57.1,724.4h0.62v0.62h-0.62zM54.9,748.4h0.62v0.62h-0.62zM51.2,736.3h0.62v0.62h-0.62zM51.5,734.5h0.62v0.62h-0.62zM52.3,742.4h0.62v0.62h-0.62zM51.7,744.1h0.62v0.62h-0.62zM58.4,724.7h0.62v0.62h-0.62zM55.6,736.6h0.62v0.62h-0.62zM66.3,732.0h0.62v0.62h-0.62zM65.7,743.9h0.62v0.62h-0.62zM54.1,726.7h0.62v0.62h-0.62zM53.9,723.3h0.62v0.62h-0.62zM49.7,737.0h0.62v0.62h-0.62zM56.6,738.4h0.62v0.62h-0.62zM62.0,741.4h0.62v0.62h-0.62zM59.2,738.2h0.62v0.62h-0.62zM65.5,743.4h0.62v0.62h-0.62zM56.5,731.1h0.62v0.62h-0.62zM56.9,751.4h0.62v0.62h-0.62zM56.2,733.1h0.62v0.62h-0.62zM56.7,725.6h0.62v0.62h-0.62zM60.4,749.9h0.62v0.62h-0.62zM53.7,740.1h0.62v0.62h-0.62zM56.1,728.7h0.62v0.62h-0.62zM52.7,724.8h0.62v0.62h-0.62zM64.9,745.5h0.62v0.62h-0.62zM62.1,731.2h0.62v0.62h-0.62zM61.2,738.2h0.62v0.62h-0.62zM65.1,737.0h0.62v0.62h-0.62zM53.3,740.7h0.62v0.62h-0.62zM63.0,732.9h0.62v0.62h-0.62zM62.4,733.4h0.62v0.62h-0.62zM58.9,740.2h0.62v0.62h-0.62zM61.8,731.2h0.62v0.62h-0.62zM60.8,738.0h0.62v0.62h-0.62zM53.1,740.2h0.62v0.62h-0.62zM53.9,749.4h0.62v0.62h-0.62zM57.9,743.6h0.62v0.62h-0.62zM58.8,736.0h0.62v0.62h-0.62zM53.1,725.6h0.62v0.62h-0.62zM66.5,737.6h0.62v0.62h-0.62zM58.8,737.5h0.62v0.62h-0.62zM64.3,728.6h0.62v0.62h-0.62zM52.2,746.7h0.62v0.62h-0.62zM57.6,741.0h0.62v0.62h-0.62zM56.1,747.0h0.62v0.62h-0.62zM64.4,725.0h0.62v0.62h-0.62zM51.8,729.0h0.62v0.62h-0.62zM50.8,732.2h0.62v0.62h-0.62zM64.2,737.4h0.62v0.62h-0.62zM57.5,723.9h0.62v0.62h-0.62zM62.1,735.1h0.62v0.62h-0.62zM58.0,745.9h0.62v0.62h-0.62zM63.3,725.8h0.62v0.62h-0.62zM61.8,732.6h0.62v0.62h-0.62zM58.8,728.6h0.62v0.62h-0.62zM55.9,731.7h0.62v0.62h-0.62zM56.1,721.7h0.62v0.62h-0.62zM52.7,738.9h0.62v0.62h-0.62zM62.5,729.7h0.62v0.62h-0.62zM55.0,728.7h0.62v0.62h-0.62zM61.0,747.8h0.62v0.62h-0.62zM52.7,734.3h0.62v0.62h-0.62zM63.9,740.3h0.62v0.62h-0.62zM56.0,722.6h0.62v0.62h-0.62zM57.3,732.6h0.62v0.62h-0.62zM62.4,730.3h0.62v0.62h-0.62zM56.6,741.3h0.62v0.62h-0.62zM64.3,732.1h0.62v0.62h-0.62zM56.2,739.1h0.62v0.62h-0.62zM56.0,741.8h0.62v0.62h-0.62zM55.1,723.4h0.62v0.62h-0.62zM63.3,733.0h0.62v0.62h-0.62zM58.9,736.6h0.62v0.62h-0.62zM66.0,744.7h0.62v0.62h-0.62zM49.4,739.6h0.62v0.62h-0.62zM57.7,735.5h0.62v0.62h-0.62zM64.8,734.1h0.62v0.62h-0.62zM57.9,748.8h0.62v0.62h-0.62zM57.2,736.4h0.62v0.62h-0.62zM58.6,746.8h0.62v0.62h-0.62zM61.6,744.1h0.62v0.62h-0.62zM56.5,722.4h0.62v0.62h-0.62zM61.8,738.4h0.62v0.62h-0.62zM63.5,745.1h0.62v0.62h-0.62zM51.1,728.0h0.62v0.62h-0.62zM63.2,738.7h0.62v0.62h-0.62zM49.9,742.3h0.62v0.62h-0.62zM62.4,736.2h0.62v0.62h-0.62zM49.9,742.6h0.62v0.62h-0.62zM56.8,739.3h0.62v0.62h-0.62zM55.2,737.3h0.62v0.62h-0.62zM54.1,729.3h0.62v0.62h-0.62zM54.8,729.1h0.62v0.62h-0.62zM65.2,738.4h0.62v0.62h-0.62zM58.6,734.2h0.62v0.62h-0.62zM49.9,730.6h0.62v0.62h-0.62zM65.4,746.1h0.62v0.62h-0.62zM65.2,729.2h0.62v0.62h-0.62zM59.1,732.8h0.62v0.62h-0.62zM57.7,736.3h0.62v0.62h-0.62zM60.0,732.5h0.62v0.62h-0.62zM64.1,727.4h0.62v0.62h-0.62zM66.4,738.4h0.62v0.62h-0.62zM49.9,730.9h0.62v0.62h-0.62zM59.0,733.9h0.62v0.62h-0.62zM59.6,731.2h0.62v0.62h-0.62zM54.1,745.9h0.62v0.62h-0.62zM54.4,743.2h0.62v0.62h-0.62zM64.1,739.5h0.62v0.62h-0.62zM57.5,750.2h0.62v0.62h-0.62zM57.3,748.4h0.62v0.62h-0.62zM50.0,734.6h0.62v0.62h-0.62zM139.0,768.6h0.62v0.62h-0.62zM127.0,760.5h0.62v0.62h-0.62zM146.0,772.0h0.62v0.62h-0.62zM140.5,769.2h0.62v0.62h-0.62zM126.3,760.1h0.62v0.62h-0.62zM132.2,764.0h0.62v0.62h-0.62zM161.3,778.6h0.62v0.62h-0.62zM159.8,777.5h0.62v0.62h-0.62zM155.7,776.4h0.62v0.62h-0.62zM136.9,767.1h0.62v0.62h-0.62zM150.9,774.4h0.62v0.62h-0.62zM148.1,772.6h0.62v0.62h-0.62zM155.3,776.3h0.62v0.62h-0.62zM154.6,776.1h0.62v0.62h-0.62zM155.5,776.5h0.62v0.62h-0.62zM143.8,771.0h0.62v0.62h-0.62zM130.6,762.7h0.62v0.62h-0.62zM132.0,764.3h0.62v0.62h-0.62zM153.6,775.6h0.62v0.62h-0.62zM124.9,759.2h0.62v0.62h-0.62zM140.4,769.4h0.62v0.62h-0.62zM157.5,776.9h0.62v0.62h-0.62zM144.8,771.3h0.62v0.62h-0.62zM145.4,772.0h0.62v0.62h-0.62zM148.4,773.3h0.62v0.62h-0.62zM153.3,775.5h0.62v0.62h-0.62zM130.9,763.4h0.62v0.62h-0.62zM130.1,763.1h0.62v0.62h-0.62zM153.6,775.1h0.62v0.62h-0.62zM142.3,770.6h0.62v0.62h-0.62zM138.9,768.2h0.62v0.62h-0.62zM140.6,769.4h0.62v0.62h-0.62zM131.5,763.8h0.62v0.62h-0.62zM132.9,765.0h0.62v0.62h-0.62zM159.5,777.2h0.62v0.62h-0.62zM127.7,761.3h0.62v0.62h-0.62zM131.8,764.0h0.62v0.62h-0.62zM128.5,761.4h0.62v0.62h-0.62zM128.5,761.9h0.62v0.62h-0.62zM129.4,762.5h0.62v0.62h-0.62zM140.8,769.4h0.62v0.62h-0.62zM145.5,772.0h0.62v0.62h-0.62zM138.1,767.8h0.62v0.62h-0.62zM149.4,773.9h0.62v0.62h-0.62zM128.1,761.6h0.62v0.62h-0.62zM136.1,766.4h0.62v0.62h-0.62zM139.2,768.2h0.62v0.62h-0.62zM250.9,634.7h0.62v0.62h-0.62zM232.9,653.9h0.62v0.62h-0.62zM223.6,636.0h0.62v0.62h-0.62zM204.8,641.1h0.62v0.62h-0.62zM228.2,642.5h0.62v0.62h-0.62zM235.4,646.7h0.62v0.62h-0.62zM216.5,642.8h0.62v0.62h-0.62zM211.5,654.4h0.62v0.62h-0.62zM210.8,637.6h0.62v0.62h-0.62zM231.0,662.8h0.62v0.62h-0.62zM238.8,652.2h0.62v0.62h-0.62zM225.2,643.5h0.62v0.62h-0.62zM212.2,635.9h0.62v0.62h-0.62zM221.0,656.1h0.62v0.62h-0.62zM229.9,654.0h0.62v0.62h-0.62zM225.4,658.0h0.62v0.62h-0.62zM231.5,634.5h0.62v0.62h-0.62zM222.6,654.4h0.62v0.62h-0.62zM231.9,655.8h0.62v0.62h-0.62zM219.3,643.0h0.62v0.62h-0.62zM219.4,656.8h0.62v0.62h-0.62zM224.8,663.2h0.62v0.62h-0.62zM242.3,633.1h0.62v0.62h-0.62zM225.5,655.7h0.62v0.62h-0.62zM239.9,652.9h0.62v0.62h-0.62zM228.1,655.5h0.62v0.62h-0.62zM236.1,639.4h0.62v0.62h-0.62zM226.3,660.7h0.62v0.62h-0.62zM209.4,656.5h0.62v0.62h-0.62zM230.5,656.2h0.62v0.62h-0.62zM235.3,643.0h0.62v0.62h-0.62zM226.7,646.4h0.62v0.62h-0.62zM209.5,636.1h0.62v0.62h-0.62zM227.1,657.8h0.62v0.62h-0.62zM242.0,652.2h0.62v0.62h-0.62zM246.1,645.4h0.62v0.62h-0.62zM237.5,656.3h0.62v0.62h-0.62zM231.1,644.1h0.62v0.62h-0.62zM210.3,646.4h0.62v0.62h-0.62zM216.9,642.7h0.62v0.62h-0.62zM241.5,650.7h0.62v0.62h-0.62zM222.7,649.2h0.62v0.62h-0.62zM204.9,636.8h0.62v0.62h-0.62zM217.7,652.2h0.62v0.62h-0.62zM221.5,651.3h0.62v0.62h-0.62zM252.0,631.7h0.62v0.62h-0.62zM231.1,636.8h0.62v0.62h-0.62zM219.1,650.0h0.62v0.62h-0.62zM223.7,654.6h0.62v0.62h-0.62zM209.0,656.4h0.62v0.62h-0.62zM231.0,642.4h0.62v0.62h-0.62zM216.2,634.5h0.62v0.62h-0.62zM211.5,647.6h0.62v0.62h-0.62zM231.5,644.3h0.62v0.62h-0.62zM224.6,638.0h0.62v0.62h-0.62zM215.6,659.2h0.62v0.62h-0.62zM208.1,646.7h0.62v0.62h-0.62zM220.2,657.1h0.62v0.62h-0.62zM233.6,635.9h0.62v0.62h-0.62zM207.6,641.4h0.62v0.62h-0.62zM235.9,644.7h0.62v0.62h-0.62zM229.0,663.3h0.62v0.62h-0.62zM211.2,640.4h0.62v0.62h-0.62zM224.9,635.4h0.62v0.62h-0.62zM211.3,652.0h0.62v0.62h-0.62zM228.8,641.5h0.62v0.62h-0.62zM240.5,655.3h0.62v0.62h-0.62zM211.9,653.6h0.62v0.62h-0.62zM223.4,636.6h0.62v0.62h-0.62zM220.2,639.0h0.62v0.62h-0.62zM214.6,643.9h0.62v0.62h-0.62zM225.0,635.0h0.62v0.62h-0.62zM227.9,636.4h0.62v0.62h-0.62zM228.2,658.7h0.62v0.62h-0.62zM227.1,634.5h0.62v0.62h-0.62zM243.5,633.5h0.62v0.62h-0.62zM220.9,654.6h0.62v0.62h-0.62zM239.3,633.6h0.62v0.62h-0.62zM213.3,648.2h0.62v0.62h-0.62zM220.3,642.9h0.62v0.62h-0.62zM232.8,637.4h0.62v0.62h-0.62zM228.6,647.6h0.62v0.62h-0.62zM236.6,636.1h0.62v0.62h-0.62zM242.5,648.1h0.62v0.62h-0.62zM222.2,639.9h0.62v0.62h-0.62zM227.6,655.9h0.62v0.62h-0.62zM226.0,642.3h0.62v0.62h-0.62zM236.2,653.9h0.62v0.62h-0.62zM238.1,639.3h0.62v0.62h-0.62zM243.6,637.7h0.62v0.62h-0.62zM227.8,642.8h0.62v0.62h-0.62zM225.4,644.6h0.62v0.62h-0.62zM213.1,657.4h0.62v0.62h-0.62zM225.4,643.8h0.62v0.62h-0.62zM216.2,630.1h0.62v0.62h-0.62zM222.0,656.9h0.62v0.62h-0.62zM237.4,652.0h0.62v0.62h-0.62zM234.0,640.0h0.62v0.62h-0.62zM215.1,650.6h0.62v0.62h-0.62zM219.6,630.7h0.62v0.62h-0.62zM235.6,651.2h0.62v0.62h-0.62zM209.6,637.1h0.62v0.62h-0.62zM224.3,642.5h0.62v0.62h-0.62zM215.5,660.4h0.62v0.62h-0.62zM232.8,643.0h0.62v0.62h-0.62zM216.9,657.5h0.62v0.62h-0.62zM252.7,631.4h0.62v0.62h-0.62zM245.5,649.2h0.62v0.62h-0.62zM243.4,633.2h0.62v0.62h-0.62zM208.0,646.1h0.62v0.62h-0.62zM208.0,642.7h0.62v0.62h-0.62zM228.8,639.9h0.62v0.62h-0.62zM229.2,664.9h0.62v0.62h-0.62zM229.0,647.3h0.62v0.62h-0.62zM221.3,641.5h0.62v0.62h-0.62zM231.6,639.7h0.62v0.62h-0.62zM221.5,643.9h0.62v0.62h-0.62zM236.5,653.5h0.62v0.62h-0.62zM223.7,637.8h0.62v0.62h-0.62zM226.3,659.5h0.62v0.62h-0.62zM237.5,653.9h0.62v0.62h-0.62zM227.1,636.5h0.62v0.62h-0.62zM235.7,654.5h0.62v0.62h-0.62zM235.7,634.3h0.62v0.62h-0.62zM212.1,647.8h0.62v0.62h-0.62zM231.0,634.2h0.62v0.62h-0.62zM234.3,634.3h0.62v0.62h-0.62zM237.4,649.2h0.62v0.62h-0.62zM242.4,650.1h0.62v0.62h-0.62zM241.1,642.6h0.62v0.62h-0.62zM236.1,633.2h0.62v0.62h-0.62zM216.8,660.0h0.62v0.62h-0.62zM244.8,648.2h0.62v0.62h-0.62zM230.1,660.6h0.62v0.62h-0.62zM248.3,641.7h0.62v0.62h-0.62zM220.3,631.8h0.62v0.62h-0.62zM234.6,633.8h0.62v0.62h-0.62zM210.7,654.7h0.62v0.62h-0.62zM242.7,645.9h0.62v0.62h-0.62zM215.9,654.6h0.62v0.62h-0.62zM221.9,647.8h0.62v0.62h-0.62zM221.3,637.0h0.62v0.62h-0.62zM240.0,653.2h0.62v0.62h-0.62zM227.0,647.7h0.62v0.62h-0.62zM213.4,655.5h0.62v0.62h-0.62zM244.0,632.8h0.62v0.62h-0.62zM235.2,646.9h0.62v0.62h-0.62zM232.4,637.3h0.62v0.62h-0.62zM233.5,652.1h0.62v0.62h-0.62zM251.0,636.2h0.62v0.62h-0.62zM224.0,647.8h0.62v0.62h-0.62zM214.5,660.8h0.62v0.62h-0.62zM210.9,636.0h0.62v0.62h-0.62zM213.0,646.6h0.62v0.62h-0.62zM225.4,647.6h0.62v0.62h-0.62zM231.9,648.9h0.62v0.62h-0.62zM214.9,650.1h0.62v0.62h-0.62zM222.0,646.8h0.62v0.62h-0.62zM235.6,654.4h0.62v0.62h-0.62zM231.0,655.9h0.62v0.62h-0.62zM206.0,638.4h0.62v0.62h-0.62zM216.1,632.5h0.62v0.62h-0.62zM216.0,640.3h0.62v0.62h-0.62zM209.2,637.5h0.62v0.62h-0.62zM224.0,663.1h0.62v0.62h-0.62zM229.0,645.3h0.62v0.62h-0.62zM227.2,635.8h0.62v0.62h-0.62zM231.4,646.1h0.62v0.62h-0.62zM226.9,634.1h0.62v0.62h-0.62zM239.1,655.8h0.62v0.62h-0.62zM235.6,653.2h0.62v0.62h-0.62zM204.6,645.4h0.62v0.62h-0.62zM233.3,641.6h0.62v0.62h-0.62zM209.3,655.9h0.62v0.62h-0.62zM239.6,642.7h0.62v0.62h-0.62zM223.2,647.5h0.62v0.62h-0.62zM209.6,648.3h0.62v0.62h-0.62zM223.1,656.7h0.62v0.62h-0.62zM225.9,661.0h0.62v0.62h-0.62zM225.5,657.0h0.62v0.62h-0.62zM211.1,648.2h0.62v0.62h-0.62zM215.4,649.7h0.62v0.62h-0.62zM218.6,650.6h0.62v0.62h-0.62zM204.5,643.0h0.62v0.62h-0.62zM211.0,637.4h0.62v0.62h-0.62zM208.0,636.4h0.62v0.62h-0.62zM210.3,659.1h0.62v0.62h-0.62zM232.8,655.5h0.62v0.62h-0.62zM228.3,636.1h0.62v0.62h-0.62zM217.5,650.6h0.62v0.62h-0.62zM217.2,652.6h0.62v0.62h-0.62zM243.5,647.3h0.62v0.62h-0.62zM209.2,647.8h0.62v0.62h-0.62zM239.4,642.9h0.62v0.62h-0.62zM212.2,638.8h0.62v0.62h-0.62zM208.3,653.3h0.62v0.62h-0.62zM227.2,652.9h0.62v0.62h-0.62zM223.0,644.8h0.62v0.62h-0.62zM223.6,650.0h0.62v0.62h-0.62zM216.8,657.9h0.62v0.62h-0.62zM219.1,642.7h0.62v0.62h-0.62zM236.9,635.6h0.62v0.62h-0.62zM231.8,637.1h0.62v0.62h-0.62zM214.6,660.1h0.62v0.62h-0.62zM245.8,640.3h0.62v0.62h-0.62zM225.2,643.1h0.62v0.62h-0.62zM246.5,643.0h0.62v0.62h-0.62zM216.1,630.3h0.62v0.62h-0.62zM238.9,650.5h0.62v0.62h-0.62zM230.9,658.8h0.62v0.62h-0.62zM230.4,639.0h0.62v0.62h-0.62zM242.4,652.1h0.62v0.62h-0.62zM222.0,633.1h0.62v0.62h-0.62zM242.3,645.5h0.62v0.62h-0.62zM241.4,640.9h0.62v0.62h-0.62zM234.4,658.7h0.62v0.62h-0.62zM209.9,634.3h0.62v0.62h-0.62zM212.2,632.1h0.62v0.62h-0.62zM204.4,646.8h0.62v0.62h-0.62zM232.7,638.0h0.62v0.62h-0.62zM228.0,643.7h0.62v0.62h-0.62zM228.7,641.1h0.62v0.62h-0.62zM232.7,650.4h0.62v0.62h-0.62zM222.6,638.9h0.62v0.62h-0.62zM206.8,649.0h0.62v0.62h-0.62zM228.0,644.0h0.62v0.62h-0.62zM233.3,633.6h0.62v0.62h-0.62zM215.8,650.3h0.62v0.62h-0.62zM234.6,646.7h0.62v0.62h-0.62zM243.4,638.0h0.62v0.62h-0.62zM214.8,654.9h0.62v0.62h-0.62zM233.7,641.2h0.62v0.62h-0.62zM229.2,643.4h0.62v0.62h-0.62zM243.6,635.7h0.62v0.62h-0.62zM206.7,641.3h0.62v0.62h-0.62zM243.9,637.7h0.62v0.62h-0.62zM217.2,638.5h0.62v0.62h-0.62zM218.8,632.9h0.62v0.62h-0.62zM211.5,633.2h0.62v0.62h-0.62zM247.4,635.2h0.62v0.62h-0.62zM247.1,644.2h0.62v0.62h-0.62zM205.0,641.7h0.62v0.62h-0.62zM209.8,643.3h0.62v0.62h-0.62zM217.6,656.1h0.62v0.62h-0.62zM235.4,646.8h0.62v0.62h-0.62zM216.3,638.8h0.62v0.62h-0.62zM228.5,657.2h0.62v0.62h-0.62zM227.5,643.2h0.62v0.62h-0.62zM248.0,643.0h0.62v0.62h-0.62zM236.4,640.5h0.62v0.62h-0.62zM217.8,645.5h0.62v0.62h-0.62zM214.2,656.6h0.62v0.62h-0.62zM214.5,643.0h0.62v0.62h-0.62zM235.1,642.6h0.62v0.62h-0.62zM225.8,665.0h0.62v0.62h-0.62zM221.0,644.5h0.62v0.62h-0.62zM230.6,644.8h0.62v0.62h-0.62zM219.2,647.3h0.62v0.62h-0.62zM213.8,631.3h0.62v0.62h-0.62zM215.3,657.6h0.62v0.62h-0.62zM230.3,648.7h0.62v0.62h-0.62zM218.6,631.8h0.62v0.62h-0.62zM236.1,637.5h0.62v0.62h-0.62zM240.3,652.0h0.62v0.62h-0.62zM225.7,637.8h0.62v0.62h-0.62zM212.5,658.9h0.62v0.62h-0.62zM233.2,653.1h0.62v0.62h-0.62zM237.0,648.7h0.62v0.62h-0.62zM208.5,641.5h0.62v0.62h-0.62zM239.4,640.3h0.62v0.62h-0.62zM238.6,640.2h0.62v0.62h-0.62zM221.0,656.9h0.62v0.62h-0.62zM205.0,649.1h0.62v0.62h-0.62zM241.9,640.8h0.62v0.62h-0.62zM242.0,637.3h0.62v0.62h-0.62zM213.8,648.8h0.62v0.62h-0.62zM239.9,636.5h0.62v0.62h-0.62zM220.6,632.9h0.62v0.62h-0.62zM239.9,650.3h0.62v0.62h-0.62zM210.9,632.9h0.62v0.62h-0.62zM240.9,654.6h0.62v0.62h-0.62zM204.1,641.3h0.62v0.62h-0.62zM248.4,639.2h0.62v0.62h-0.62zM209.3,642.7h0.62v0.62h-0.62zM212.5,638.4h0.62v0.62h-0.62zM225.8,640.4h0.62v0.62h-0.62zM231.5,646.6h0.62v0.62h-0.62zM238.4,638.0h0.62v0.62h-0.62zM245.1,642.1h0.62v0.62h-0.62zM236.7,636.4h0.62v0.62h-0.62zM224.7,665.0h0.62v0.62h-0.62zM217.2,633.7h0.62v0.62h-0.62zM227.0,663.1h0.62v0.62h-0.62zM223.3,664.1h0.62v0.62h-0.62zM240.9,651.1h0.62v0.62h-0.62zM239.6,640.9h0.62v0.62h-0.62zM224.0,656.6h0.62v0.62h-0.62zM218.5,649.1h0.62v0.62h-0.62zM233.2,658.9h0.62v0.62h-0.62zM217.0,630.9h0.62v0.62h-0.62zM236.7,650.5h0.62v0.62h-0.62zM224.1,663.7h0.62v0.62h-0.62zM228.1,647.2h0.62v0.62h-0.62zM229.1,658.4h0.62v0.62h-0.62zM247.2,644.6h0.62v0.62h-0.62zM215.4,646.0h0.62v0.62h-0.62zM229.1,665.2h0.62v0.62h-0.62zM204.3,641.3h0.62v0.62h-0.62zM209.7,644.5h0.62v0.62h-0.62zM239.9,656.8h0.62v0.62h-0.62zM239.9,636.8h0.62v0.62h-0.62zM233.2,657.5h0.62v0.62h-0.62zM252.3,633.7h0.62v0.62h-0.62zM235.8,657.6h0.62v0.62h-0.62zM236.2,650.7h0.62v0.62h-0.62zM241.3,650.1h0.62v0.62h-0.62zM224.7,644.6h0.62v0.62h-0.62zM231.5,642.5h0.62v0.62h-0.62zM239.5,643.7h0.62v0.62h-0.62zM233.0,642.7h0.62v0.62h-0.62zM226.7,641.1h0.62v0.62h-0.62zM215.5,638.6h0.62v0.62h-0.62zM243.2,646.4h0.62v0.62h-0.62zM226.4,634.6h0.62v0.62h-0.62zM208.5,650.7h0.62v0.62h-0.62zM209.6,637.7h0.62v0.62h-0.62zM232.1,641.1h0.62v0.62h-0.62zM219.8,651.3h0.62v0.62h-0.62zM224.0,652.0h0.62v0.62h-0.62zM220.6,630.6h0.62v0.62h-0.62zM231.5,635.6h0.62v0.62h-0.62zM229.2,638.6h0.62v0.62h-0.62zM217.2,657.7h0.62v0.62h-0.62zM211.7,636.4h0.62v0.62h-0.62zM214.2,641.4h0.62v0.62h-0.62zM241.4,644.0h0.62v0.62h-0.62zM224.7,662.7h0.62v0.62h-0.62zM237.5,643.2h0.62v0.62h-0.62zM210.2,661.4h0.62v0.62h-0.62zM238.4,646.1h0.62v0.62h-0.62zM213.8,635.8h0.62v0.62h-0.62zM237.5,649.1h0.62v0.62h-0.62zM239.0,645.1h0.62v0.62h-0.62zM230.9,641.2h0.62v0.62h-0.62zM218.0,639.5h0.62v0.62h-0.62zM236.1,633.5h0.62v0.62h-0.62zM211.7,638.7h0.62v0.62h-0.62zM244.5,650.6h0.62v0.62h-0.62zM241.1,641.7h0.62v0.62h-0.62zM221.3,661.6h0.62v0.62h-0.62zM237.5,639.6h0.62v0.62h-0.62zM205.7,651.6h0.62v0.62h-0.62zM215.9,635.3h0.62v0.62h-0.62zM236.3,647.9h0.62v0.62h-0.62zM247.1,633.4h0.62v0.62h-0.62zM215.6,648.0h0.62v0.62h-0.62zM204.4,640.9h0.62v0.62h-0.62zM233.5,657.7h0.62v0.62h-0.62zM223.9,635.0h0.62v0.62h-0.62zM219.4,634.2h0.62v0.62h-0.62zM223.6,634.0h0.62v0.62h-0.62zM231.0,649.4h0.62v0.62h-0.62zM243.4,632.6h0.62v0.62h-0.62zM230.2,657.9h0.62v0.62h-0.62zM209.4,638.6h0.62v0.62h-0.62zM247.2,641.0h0.62v0.62h-0.62zM247.5,640.9h0.62v0.62h-0.62zM241.5,654.5h0.62v0.62h-0.62zM226.5,658.8h0.62v0.62h-0.62zM219.5,648.0h0.62v0.62h-0.62zM231.2,642.5h0.62v0.62h-0.62zM218.7,632.5h0.62v0.62h-0.62zM229.9,649.4h0.62v0.62h-0.62zM224.0,649.6h0.62v0.62h-0.62zM249.4,633.1h0.62v0.62h-0.62zM215.3,657.6h0.62v0.62h-0.62zM230.0,657.3h0.62v0.62h-0.62zM223.3,646.7h0.62v0.62h-0.62zM237.4,640.4h0.62v0.62h-0.62zM227.8,658.3h0.62v0.62h-0.62zM226.0,649.8h0.62v0.62h-0.62zM229.9,664.2h0.62v0.62h-0.62zM227.9,660.2h0.62v0.62h-0.62zM235.9,631.0h0.62v0.62h-0.62zM207.3,650.0h0.62v0.62h-0.62zM216.5,645.6h0.62v0.62h-0.62zM231.4,645.5h0.62v0.62h-0.62zM244.7,632.1h0.62v0.62h-0.62zM220.7,634.0h0.62v0.62h-0.62zM214.6,630.2h0.62v0.62h-0.62zM206.3,648.5h0.62v0.62h-0.62zM237.1,649.7h0.62v0.62h-0.62zM239.1,646.4h0.62v0.62h-0.62zM217.8,630.8h0.62v0.62h-0.62zM244.2,647.1h0.62v0.62h-0.62zM221.1,642.0h0.62v0.62h-0.62zM209.1,659.9h0.62v0.62h-0.62zM248.8,641.3h0.62v0.62h-0.62zM232.9,659.3h0.62v0.62h-0.62zM250.2,633.2h0.62v0.62h-0.62zM216.7,649.7h0.62v0.62h-0.62zM216.3,659.1h0.62v0.62h-0.62zM224.3,663.6h0.62v0.62h-0.62zM221.8,650.5h0.62v0.62h-0.62zM238.8,653.0h0.62v0.62h-0.62zM220.9,634.6h0.62v0.62h-0.62zM213.4,660.5h0.62v0.62h-0.62zM230.3,650.2h0.62v0.62h-0.62zM212.7,644.3h0.62v0.62h-0.62zM208.1,655.2h0.62v0.62h-0.62zM247.5,635.7h0.62v0.62h-0.62zM241.1,651.1h0.62v0.62h-0.62zM204.4,645.0h0.62v0.62h-0.62zM208.9,637.5h0.62v0.62h-0.62zM219.3,646.6h0.62v0.62h-0.62zM223.6,654.7h0.62v0.62h-0.62zM243.2,636.1h0.62v0.62h-0.62zM222.0,634.0h0.62v0.62h-0.62zM241.3,646.5h0.62v0.62h-0.62zM237.7,651.4h0.62v0.62h-0.62zM212.8,646.2h0.62v0.62h-0.62zM231.3,641.3h0.62v0.62h-0.62zM235.0,656.1h0.62v0.62h-0.62zM223.0,663.4h0.62v0.62h-0.62zM206.7,640.5h0.62v0.62h-0.62zM229.7,652.3h0.62v0.62h-0.62zM221.3,651.8h0.62v0.62h-0.62zM216.6,657.6h0.62v0.62h-0.62zM208.9,657.6h0.62v0.62h-0.62zM229.6,644.6h0.62v0.62h-0.62zM238.4,634.5h0.62v0.62h-0.62zM235.0,640.7h0.62v0.62h-0.62zM204.5,641.7h0.62v0.62h-0.62zM203.7,644.5h0.62v0.62h-0.62zM244.9,648.1h0.62v0.62h-0.62zM246.3,633.7h0.62v0.62h-0.62zM214.8,641.1h0.62v0.62h-0.62zM252.8,631.6h0.62v0.62h-0.62zM228.2,654.8h0.62v0.62h-0.62zM241.8,641.6h0.62v0.62h-0.62zM232.1,644.2h0.62v0.62h-0.62zM207.3,632.9h0.62v0.62h-0.62zM240.0,651.7h0.62v0.62h-0.62zM234.4,637.6h0.62v0.62h-0.62zM223.2,639.1h0.62v0.62h-0.62zM250.0,635.6h0.62v0.62h-0.62zM228.9,631.5h0.62v0.62h-0.62zM232.3,652.5h0.62v0.62h-0.62zM242.7,642.7h0.62v0.62h-0.62zM209.8,633.4h0.62v0.62h-0.62zM236.3,634.1h0.62v0.62h-0.62zM216.4,643.2h0.62v0.62h-0.62zM215.7,641.1h0.62v0.62h-0.62zM221.4,641.1h0.62v0.62h-0.62zM209.6,647.5h0.62v0.62h-0.62zM237.1,652.1h0.62v0.62h-0.62zM222.3,631.9h0.62v0.62h-0.62zM212.1,641.9h0.62v0.62h-0.62zM216.5,650.2h0.62v0.62h-0.62zM215.1,643.2h0.62v0.62h-0.62zM243.2,636.1h0.62v0.62h-0.62zM217.4,652.6h0.62v0.62h-0.62zM214.0,648.7h0.62v0.62h-0.62zM215.6,634.7h0.62v0.62h-0.62zM207.5,657.4h0.62v0.62h-0.62zM232.9,648.6h0.62v0.62h-0.62zM224.6,648.9h0.62v0.62h-0.62zM230.4,655.3h0.62v0.62h-0.62zM241.4,637.2h0.62v0.62h-0.62zM225.4,637.8h0.62v0.62h-0.62zM214.5,655.1h0.62v0.62h-0.62zM228.2,663.4h0.62v0.62h-0.62zM221.3,630.3h0.62v0.62h-0.62zM230.1,640.5h0.62v0.62h-0.62zM227.6,631.9h0.62v0.62h-0.62zM225.6,642.0h0.62v0.62h-0.62zM229.9,643.5h0.62v0.62h-0.62zM217.5,642.1h0.62v0.62h-0.62zM213.8,642.7h0.62v0.62h-0.62zM222.7,664.3h0.62v0.62h-0.62zM230.2,650.5h0.62v0.62h-0.62zM240.7,642.9h0.62v0.62h-0.62zM217.6,662.6h0.62v0.62h-0.62zM217.2,661.7h0.62v0.62h-0.62zM221.3,658.9h0.62v0.62h-0.62zM216.4,634.8h0.62v0.62h-0.62zM232.1,660.6h0.62v0.62h-0.62zM227.5,646.4h0.62v0.62h-0.62zM211.7,638.1h0.62v0.62h-0.62zM229.0,650.5h0.62v0.62h-0.62zM226.9,634.5h0.62v0.62h-0.62zM230.3,640.6h0.62v0.62h-0.62zM252.6,631.9h0.62v0.62h-0.62zM225.9,638.7h0.62v0.62h-0.62zM226.0,633.2h0.62v0.62h-0.62zM229.3,657.8h0.62v0.62h-0.62zM208.2,656.6h0.62v0.62h-0.62zM214.8,631.1h0.62v0.62h-0.62zM221.2,655.3h0.62v0.62h-0.62zM229.2,648.9h0.62v0.62h-0.62zM232.4,645.5h0.62v0.62h-0.62zM209.5,633.2h0.62v0.62h-0.62zM233.4,633.7h0.62v0.62h-0.62zM231.5,651.4h0.62v0.62h-0.62zM229.3,633.5h0.62v0.62h-0.62zM236.1,632.3h0.62v0.62h-0.62zM221.9,645.1h0.62v0.62h-0.62zM212.5,650.5h0.62v0.62h-0.62zM227.1,655.2h0.62v0.62h-0.62zM228.8,640.8h0.62v0.62h-0.62zM244.4,646.3h0.62v0.62h-0.62zM217.9,638.7h0.62v0.62h-0.62zM230.1,637.5h0.62v0.62h-0.62zM228.4,642.3h0.62v0.62h-0.62zM250.3,638.4h0.62v0.62h-0.62zM220.3,645.4h0.62v0.62h-0.62zM237.5,650.6h0.62v0.62h-0.62zM214.3,638.7h0.62v0.62h-0.62zM231.2,662.6h0.62v0.62h-0.62zM229.3,639.6h0.62v0.62h-0.62zM213.4,652.0h0.62v0.62h-0.62zM238.5,651.0h0.62v0.62h-0.62zM230.7,635.3h0.62v0.62h-0.62zM235.7,658.6h0.62v0.62h-0.62zM226.6,658.7h0.62v0.62h-0.62zM234.3,661.1h0.62v0.62h-0.62zM232.2,636.0h0.62v0.62h-0.62zM210.9,646.2h0.62v0.62h-0.62zM207.5,654.9h0.62v0.62h-0.62zM226.4,639.4h0.62v0.62h-0.62zM239.2,637.7h0.62v0.62h-0.62zM227.6,653.2h0.62v0.62h-0.62zM216.8,657.3h0.62v0.62h-0.62zM234.5,646.9h0.62v0.62h-0.62zM229.5,636.0h0.62v0.62h-0.62zM231.8,647.9h0.62v0.62h-0.62zM228.1,643.3h0.62v0.62h-0.62zM204.6,642.1h0.62v0.62h-0.62zM233.7,656.2h0.62v0.62h-0.62zM245.4,638.6h0.62v0.62h-0.62zM237.7,647.1h0.62v0.62h-0.62zM247.4,631.9h0.62v0.62h-0.62zM237.7,648.7h0.62v0.62h-0.62zM216.4,637.5h0.62v0.62h-0.62zM229.2,633.2h0.62v0.62h-0.62zM241.5,642.6h0.62v0.62h-0.62zM235.7,643.5h0.62v0.62h-0.62zM248.2,641.2h0.62v0.62h-0.62zM213.2,652.4h0.62v0.62h-0.62zM231.5,656.1h0.62v0.62h-0.62zM234.9,653.6h0.62v0.62h-0.62zM221.4,643.4h0.62v0.62h-0.62zM230.1,652.2h0.62v0.62h-0.62zM226.5,664.0h0.62v0.62h-0.62zM229.7,646.7h0.62v0.62h-0.62zM210.4,661.4h0.62v0.62h-0.62zM235.9,634.7h0.62v0.62h-0.62zM224.5,656.7h0.62v0.62h-0.62zM224.4,644.0h0.62v0.62h-0.62zM217.5,663.9h0.62v0.62h-0.62zM210.1,649.2h0.62v0.62h-0.62zM218.5,645.1h0.62v0.62h-0.62zM230.1,639.6h0.62v0.62h-0.62zM224.0,655.0h0.62v0.62h-0.62zM226.3,649.6h0.62v0.62h-0.62zM236.0,644.9h0.62v0.62h-0.62zM209.1,634.7h0.62v0.62h-0.62zM212.6,653.4h0.62v0.62h-0.62zM248.8,637.9h0.62v0.62h-0.62zM232.4,638.5h0.62v0.62h-0.62zM237.2,644.9h0.62v0.62h-0.62zM236.3,645.4h0.62v0.62h-0.62zM221.7,663.6h0.62v0.62h-0.62zM246.6,642.9h0.62v0.62h-0.62zM229.1,638.5h0.62v0.62h-0.62zM209.9,654.3h0.62v0.62h-0.62zM234.4,645.2h0.62v0.62h-0.62zM210.8,649.2h0.62v0.62h-0.62zM217.3,659.5h0.62v0.62h-0.62zM235.8,649.5h0.62v0.62h-0.62zM207.5,647.0h0.62v0.62h-0.62zM244.3,636.7h0.62v0.62h-0.62zM218.7,658.4h0.62v0.62h-0.62zM223.0,649.6h0.62v0.62h-0.62zM232.4,642.0h0.62v0.62h-0.62zM222.4,651.2h0.62v0.62h-0.62zM211.6,649.8h0.62v0.62h-0.62zM236.4,648.3h0.62v0.62h-0.62zM227.2,637.2h0.62v0.62h-0.62zM207.2,650.4h0.62v0.62h-0.62zM218.2,654.1h0.62v0.62h-0.62zM241.6,651.1h0.62v0.62h-0.62zM226.2,643.7h0.62v0.62h-0.62zM237.3,644.2h0.62v0.62h-0.62zM230.4,646.1h0.62v0.62h-0.62zM230.6,642.2h0.62v0.62h-0.62zM212.8,641.5h0.62v0.62h-0.62zM239.8,645.6h0.62v0.62h-0.62zM246.8,643.6h0.62v0.62h-0.62zM214.6,646.9h0.62v0.62h-0.62zM221.5,653.4h0.62v0.62h-0.62zM213.8,631.7h0.62v0.62h-0.62zM205.6,639.2h0.62v0.62h-0.62zM225.7,637.8h0.62v0.62h-0.62zM207.9,649.2h0.62v0.62h-0.62zM233.8,636.0h0.62v0.62h-0.62zM206.6,644.5h0.62v0.62h-0.62zM217.3,651.8h0.62v0.62h-0.62zM227.2,648.6h0.62v0.62h-0.62zM211.9,659.7h0.62v0.62h-0.62zM221.8,663.9h0.62v0.62h-0.62zM251.2,636.7h0.62v0.62h-0.62zM221.3,632.4h0.62v0.62h-0.62zM220.8,656.1h0.62v0.62h-0.62zM231.7,648.5h0.62v0.62h-0.62zM219.5,637.4h0.62v0.62h-0.62zM234.1,641.1h0.62v0.62h-0.62zM232.1,659.3h0.62v0.62h-0.62zM215.4,654.6h0.62v0.62h-0.62zM239.5,650.5h0.62v0.62h-0.62zM218.5,656.6h0.62v0.62h-0.62zM235.0,649.1h0.62v0.62h-0.62zM219.9,646.7h0.62v0.62h-0.62zM240.9,632.0h0.62v0.62h-0.62zM216.4,650.7h0.62v0.62h-0.62zM216.9,649.4h0.62v0.62h-0.62zM209.1,648.2h0.62v0.62h-0.62zM223.5,647.4h0.62v0.62h-0.62zM237.8,647.9h0.62v0.62h-0.62zM225.6,664.5h0.62v0.62h-0.62zM226.8,632.2h0.62v0.62h-0.62zM230.7,654.0h0.62v0.62h-0.62zM208.8,659.2h0.62v0.62h-0.62zM213.1,655.1h0.62v0.62h-0.62zM220.5,634.0h0.62v0.62h-0.62zM240.4,649.8h0.62v0.62h-0.62zM215.5,646.6h0.62v0.62h-0.62zM205.7,645.7h0.62v0.62h-0.62zM243.1,640.8h0.62v0.62h-0.62zM216.4,664.0h0.62v0.62h-0.62zM224.5,640.8h0.62v0.62h-0.62zM242.2,653.8h0.62v0.62h-0.62zM227.4,639.1h0.62v0.62h-0.62zM223.3,645.9h0.62v0.62h-0.62zM232.8,661.6h0.62v0.62h-0.62zM217.2,636.1h0.62v0.62h-0.62zM206.8,638.4h0.62v0.62h-0.62zM204.3,638.6h0.62v0.62h-0.62zM237.5,635.0h0.62v0.62h-0.62zM220.0,632.7h0.62v0.62h-0.62zM218.5,659.1h0.62v0.62h-0.62zM215.0,646.6h0.62v0.62h-0.62zM238.0,651.9h0.62v0.62h-0.62zM229.2,650.8h0.62v0.62h-0.62zM241.2,648.7h0.62v0.62h-0.62zM229.3,637.1h0.62v0.62h-0.62zM213.9,647.8h0.62v0.62h-0.62zM232.4,646.0h0.62v0.62h-0.62zM209.5,638.8h0.62v0.62h-0.62zM221.2,647.2h0.62v0.62h-0.62zM224.2,642.1h0.62v0.62h-0.62zM212.3,642.8h0.62v0.62h-0.62zM213.5,641.7h0.62v0.62h-0.62zM227.3,634.2h0.62v0.62h-0.62zM224.0,638.3h0.62v0.62h-0.62zM218.2,638.9h0.62v0.62h-0.62zM236.1,649.2h0.62v0.62h-0.62zM210.7,650.8h0.62v0.62h-0.62zM212.5,638.1h0.62v0.62h-0.62zM231.0,632.3h0.62v0.62h-0.62zM211.4,634.5h0.62v0.62h-0.62zM230.6,658.3h0.62v0.62h-0.62zM228.8,657.0h0.62v0.62h-0.62zM205.4,646.3h0.62v0.62h-0.62zM237.6,636.5h0.62v0.62h-0.62zM235.4,654.5h0.62v0.62h-0.62zM221.5,648.2h0.62v0.62h-0.62zM229.2,657.2h0.62v0.62h-0.62zM205.1,649.2h0.62v0.62h-0.62zM220.2,643.7h0.62v0.62h-0.62zM226.3,660.0h0.62v0.62h-0.62zM233.9,653.0h0.62v0.62h-0.62zM209.1,650.0h0.62v0.62h-0.62zM232.5,651.0h0.62v0.62h-0.62zM236.8,638.6h0.62v0.62h-0.62zM207.9,657.4h0.62v0.62h-0.62zM234.7,648.7h0.62v0.62h-0.62zM213.9,634.7h0.62v0.62h-0.62zM224.8,653.2h0.62v0.62h-0.62zM210.1,658.7h0.62v0.62h-0.62zM218.4,648.4h0.62v0.62h-0.62zM237.3,644.0h0.62v0.62h-0.62zM205.9,635.9h0.62v0.62h-0.62zM242.3,633.4h0.62v0.62h-0.62zM238.8,651.3h0.62v0.62h-0.62zM225.3,648.5h0.62v0.62h-0.62zM231.6,632.7h0.62v0.62h-0.62zM240.2,643.2h0.62v0.62h-0.62zM213.5,651.7h0.62v0.62h-0.62zM213.1,635.7h0.62v0.62h-0.62zM225.8,660.4h0.62v0.62h-0.62zM210.9,632.4h0.62v0.62h-0.62zM233.7,654.3h0.62v0.62h-0.62zM237.1,645.3h0.62v0.62h-0.62zM226.8,633.9h0.62v0.62h-0.62zM239.0,645.6h0.62v0.62h-0.62zM231.6,640.7h0.62v0.62h-0.62zM205.6,652.4h0.62v0.62h-0.62zM229.7,649.8h0.62v0.62h-0.62zM238.2,649.3h0.62v0.62h-0.62zM226.4,631.7h0.62v0.62h-0.62zM210.2,645.1h0.62v0.62h-0.62zM233.8,637.7h0.62v0.62h-0.62zM232.5,647.0h0.62v0.62h-0.62zM243.1,647.2h0.62v0.62h-0.62zM245.6,633.6h0.62v0.62h-0.62zM204.1,647.2h0.62v0.62h-0.62zM223.7,647.3h0.62v0.62h-0.62zM241.1,648.2h0.62v0.62h-0.62zM247.2,630.9h0.62v0.62h-0.62zM220.3,663.0h0.62v0.62h-0.62zM206.0,646.9h0.62v0.62h-0.62zM232.2,634.1h0.62v0.62h-0.62zM216.2,636.3h0.62v0.62h-0.62zM233.2,648.2h0.62v0.62h-0.62zM229.9,640.8h0.62v0.62h-0.62zM210.5,656.4h0.62v0.62h-0.62zM243.6,641.6h0.62v0.62h-0.62zM240.7,651.0h0.62v0.62h-0.62zM209.7,649.6h0.62v0.62h-0.62zM225.3,645.7h0.62v0.62h-0.62zM218.4,655.1h0.62v0.62h-0.62zM225.2,639.3h0.62v0.62h-0.62zM229.9,648.5h0.62v0.62h-0.62zM214.8,648.4h0.62v0.62h-0.62zM228.8,648.9h0.62v0.62h-0.62zM209.3,659.2h0.62v0.62h-0.62zM223.0,648.4h0.62v0.62h-0.62zM239.3,641.8h0.62v0.62h-0.62zM240.2,643.2h0.62v0.62h-0.62zM248.6,642.8h0.62v0.62h-0.62zM227.6,659.7h0.62v0.62h-0.62zM217.8,643.6h0.62v0.62h-0.62zM228.6,655.8h0.62v0.62h-0.62zM232.8,646.0h0.62v0.62h-0.62zM215.8,641.6h0.62v0.62h-0.62zM212.2,646.9h0.62v0.62h-0.62zM231.7,654.3h0.62v0.62h-0.62zM240.9,651.9h0.62v0.62h-0.62zM236.3,646.9h0.62v0.62h-0.62zM225.7,645.8h0.62v0.62h-0.62zM222.1,637.7h0.62v0.62h-0.62zM234.8,631.4h0.62v0.62h-0.62zM250.0,639.6h0.62v0.62h-0.62zM214.7,635.6h0.62v0.62h-0.62zM209.1,640.6h0.62v0.62h-0.62zM225.0,642.5h0.62v0.62h-0.62zM224.5,652.7h0.62v0.62h-0.62zM238.3,657.0h0.62v0.62h-0.62zM234.5,642.6h0.62v0.62h-0.62zM224.8,645.4h0.62v0.62h-0.62zM226.9,660.3h0.62v0.62h-0.62zM230.0,643.4h0.62v0.62h-0.62zM229.8,642.3h0.62v0.62h-0.62zM237.1,647.1h0.62v0.62h-0.62zM227.3,649.7h0.62v0.62h-0.62zM228.2,646.6h0.62v0.62h-0.62zM240.2,656.0h0.62v0.62h-0.62zM242.2,643.0h0.62v0.62h-0.62zM242.3,643.2h0.62v0.62h-0.62zM225.1,651.3h0.62v0.62h-0.62zM230.7,663.0h0.62v0.62h-0.62zM239.4,656.6h0.62v0.62h-0.62zM239.5,637.3h0.62v0.62h-0.62zM229.2,642.6h0.62v0.62h-0.62zM212.3,657.3h0.62v0.62h-0.62zM233.3,649.8h0.62v0.62h-0.62zM218.5,653.9h0.62v0.62h-0.62zM242.5,647.3h0.62v0.62h-0.62zM221.6,644.6h0.62v0.62h-0.62zM220.6,644.3h0.62v0.62h-0.62zM222.5,647.5h0.62v0.62h-0.62zM225.8,652.6h0.62v0.62h-0.62zM232.2,636.1h0.62v0.62h-0.62zM219.7,638.9h0.62v0.62h-0.62zM231.0,650.4h0.62v0.62h-0.62zM230.9,662.2h0.62v0.62h-0.62zM234.6,644.3h0.62v0.62h-0.62zM219.0,638.5h0.62v0.62h-0.62zM208.8,639.1h0.62v0.62h-0.62zM250.4,635.6h0.62v0.62h-0.62zM222.1,652.6h0.62v0.62h-0.62zM236.9,634.8h0.62v0.62h-0.62zM232.4,655.6h0.62v0.62h-0.62zM205.9,653.6h0.62v0.62h-0.62zM211.5,644.2h0.62v0.62h-0.62zM235.3,650.5h0.62v0.62h-0.62zM236.2,647.4h0.62v0.62h-0.62zM245.2,640.3h0.62v0.62h-0.62zM220.7,645.1h0.62v0.62h-0.62zM212.9,646.7h0.62v0.62h-0.62zM232.3,657.4h0.62v0.62h-0.62zM227.8,636.2h0.62v0.62h-0.62zM237.3,637.4h0.62v0.62h-0.62zM223.1,645.9h0.62v0.62h-0.62zM226.5,663.8h0.62v0.62h-0.62zM218.5,647.0h0.62v0.62h-0.62zM239.5,656.3h0.62v0.62h-0.62zM216.0,651.0h0.62v0.62h-0.62zM228.1,642.5h0.62v0.62h-0.62zM231.2,657.4h0.62v0.62h-0.62zM208.4,654.2h0.62v0.62h-0.62zM247.0,641.0h0.62v0.62h-0.62zM232.8,645.7h0.62v0.62h-0.62zM216.1,647.7h0.62v0.62h-0.62zM244.0,645.6h0.62v0.62h-0.62zM249.1,631.4h0.62v0.62h-0.62zM211.7,652.4h0.62v0.62h-0.62zM212.2,648.9h0.62v0.62h-0.62zM229.8,638.6h0.62v0.62h-0.62zM206.3,634.9h0.62v0.62h-0.62zM211.8,646.2h0.62v0.62h-0.62zM227.6,661.6h0.62v0.62h-0.62zM225.3,647.9h0.62v0.62h-0.62zM222.4,638.6h0.62v0.62h-0.62zM238.0,645.1h0.62v0.62h-0.62zM224.5,664.6h0.62v0.62h-0.62zM233.2,639.7h0.62v0.62h-0.62zM237.8,657.0h0.62v0.62h-0.62zM240.1,644.9h0.62v0.62h-0.62zM248.0,641.1h0.62v0.62h-0.62zM236.7,654.3h0.62v0.62h-0.62zM234.7,659.1h0.62v0.62h-0.62zM218.8,663.3h0.62v0.62h-0.62zM230.7,631.0h0.62v0.62h-0.62zM236.0,633.6h0.62v0.62h-0.62zM220.8,643.4h0.62v0.62h-0.62zM221.7,635.4h0.62v0.62h-0.62zM210.5,646.6h0.62v0.62h-0.62zM213.4,652.1h0.62v0.62h-0.62zM234.2,636.1h0.62v0.62h-0.62zM206.1,646.7h0.62v0.62h-0.62zM218.0,645.7h0.62v0.62h-0.62zM241.4,636.5h0.62v0.62h-0.62zM207.3,640.9h0.62v0.62h-0.62zM210.0,661.9h0.62v0.62h-0.62zM223.8,649.5h0.62v0.62h-0.62zM209.4,641.5h0.62v0.62h-0.62zM238.2,635.9h0.62v0.62h-0.62zM249.2,635.7h0.62v0.62h-0.62zM226.5,648.5h0.62v0.62h-0.62zM208.3,651.0h0.62v0.62h-0.62zM241.2,655.3h0.62v0.62h-0.62zM216.8,662.1h0.62v0.62h-0.62zM242.5,642.8h0.62v0.62h-0.62zM232.8,658.5h0.62v0.62h-0.62zM248.3,637.2h0.62v0.62h-0.62zM210.7,635.6h0.62v0.62h-0.62zM223.2,658.3h0.62v0.62h-0.62zM237.6,632.5h0.62v0.62h-0.62zM217.4,641.3h0.62v0.62h-0.62zM236.9,650.9h0.62v0.62h-0.62zM222.5,644.1h0.62v0.62h-0.62zM223.7,637.5h0.62v0.62h-0.62zM224.9,651.1h0.62v0.62h-0.62zM240.9,638.7h0.62v0.62h-0.62zM224.3,655.0h0.62v0.62h-0.62zM221.2,647.6h0.62v0.62h-0.62zM224.9,656.5h0.62v0.62h-0.62zM215.1,643.4h0.62v0.62h-0.62zM208.2,649.4h0.62v0.62h-0.62zM219.4,631.6h0.62v0.62h-0.62zM241.1,643.5h0.62v0.62h-0.62zM219.9,654.5h0.62v0.62h-0.62zM216.3,655.4h0.62v0.62h-0.62zM214.8,656.5h0.62v0.62h-0.62zM211.0,650.4h0.62v0.62h-0.62zM222.5,646.2h0.62v0.62h-0.62zM208.8,637.5h0.62v0.62h-0.62zM216.3,642.3h0.62v0.62h-0.62zM227.4,631.9h0.62v0.62h-0.62zM244.2,645.1h0.62v0.62h-0.62zM235.8,654.2h0.62v0.62h-0.62zM224.3,660.4h0.62v0.62h-0.62zM229.9,641.9h0.62v0.62h-0.62zM220.2,646.3h0.62v0.62h-0.62zM212.3,649.0h0.62v0.62h-0.62zM231.8,651.8h0.62v0.62h-0.62zM235.8,640.4h0.62v0.62h-0.62zM225.2,647.5h0.62v0.62h-0.62zM233.2,646.3h0.62v0.62h-0.62zM204.6,643.9h0.62v0.62h-0.62zM233.8,642.2h0.62v0.62h-0.62zM245.2,646.3h0.62v0.62h-0.62zM205.9,641.0h0.62v0.62h-0.62zM232.1,637.4h0.62v0.62h-0.62zM208.2,640.1h0.62v0.62h-0.62zM217.9,637.1h0.62v0.62h-0.62zM235.0,651.3h0.62v0.62h-0.62zM244.5,648.7h0.62v0.62h-0.62zM228.2,646.5h0.62v0.62h-0.62zM223.7,657.1h0.62v0.62h-0.62zM228.7,654.1h0.62v0.62h-0.62zM238.6,635.4h0.62v0.62h-0.62zM229.7,655.6h0.62v0.62h-0.62zM223.9,663.7h0.62v0.62h-0.62zM226.8,655.3h0.62v0.62h-0.62zM215.5,645.3h0.62v0.62h-0.62zM236.2,659.3h0.62v0.62h-0.62zM236.7,652.3h0.62v0.62h-0.62zM226.2,662.7h0.62v0.62h-0.62zM211.2,647.2h0.62v0.62h-0.62zM222.8,657.9h0.62v0.62h-0.62zM217.7,659.4h0.62v0.62h-0.62zM239.7,639.3h0.62v0.62h-0.62zM226.9,638.3h0.62v0.62h-0.62zM211.4,630.3h0.62v0.62h-0.62zM216.5,643.9h0.62v0.62h-0.62zM223.1,656.6h0.62v0.62h-0.62zM235.7,633.4h0.62v0.62h-0.62zM214.9,658.8h0.62v0.62h-0.62zM225.6,661.2h0.62v0.62h-0.62zM225.9,664.9h0.62v0.62h-0.62zM230.4,652.9h0.62v0.62h-0.62zM234.9,644.6h0.62v0.62h-0.62zM231.3,655.7h0.62v0.62h-0.62zM238.3,643.5h0.62v0.62h-0.62zM221.6,641.2h0.62v0.62h-0.62zM241.9,648.4h0.62v0.62h-0.62zM238.6,631.8h0.62v0.62h-0.62zM223.9,641.8h0.62v0.62h-0.62zM229.1,656.3h0.62v0.62h-0.62zM231.4,633.1h0.62v0.62h-0.62zM216.2,655.2h0.62v0.62h-0.62zM233.2,657.5h0.62v0.62h-0.62zM245.4,648.3h0.62v0.62h-0.62zM218.8,649.5h0.62v0.62h-0.62zM212.4,631.9h0.62v0.62h-0.62zM235.1,644.0h0.62v0.62h-0.62zM239.8,642.7h0.62v0.62h-0.62zM215.3,653.5h0.62v0.62h-0.62zM220.7,636.3h0.62v0.62h-0.62zM227.9,634.6h0.62v0.62h-0.62zM234.0,644.2h0.62v0.62h-0.62zM216.4,646.7h0.62v0.62h-0.62zM222.0,649.0h0.62v0.62h-0.62zM215.0,631.3h0.62v0.62h-0.62zM236.0,649.1h0.62v0.62h-0.62zM239.0,637.4h0.62v0.62h-0.62zM225.3,645.8h0.62v0.62h-0.62zM210.4,654.6h0.62v0.62h-0.62zM231.6,642.7h0.62v0.62h-0.62zM211.6,657.0h0.62v0.62h-0.62zM211.1,661.0h0.62v0.62h-0.62zM214.9,635.1h0.62v0.62h-0.62zM245.0,644.7h0.62v0.62h-0.62zM249.4,634.5h0.62v0.62h-0.62zM245.1,640.7h0.62v0.62h-0.62zM214.1,638.8h0.62v0.62h-0.62zM224.5,634.1h0.62v0.62h-0.62zM231.4,639.2h0.62v0.62h-0.62zM221.0,650.6h0.62v0.62h-0.62zM226.7,650.4h0.62v0.62h-0.62zM233.7,649.0h0.62v0.62h-0.62zM209.4,644.4h0.62v0.62h-0.62zM230.7,650.9h0.62v0.62h-0.62zM244.8,649.3h0.62v0.62h-0.62zM229.3,663.6h0.62v0.62h-0.62zM242.1,637.8h0.62v0.62h-0.62zM231.7,634.3h0.62v0.62h-0.62zM213.5,631.1h0.62v0.62h-0.62zM221.0,643.7h0.62v0.62h-0.62zM216.2,640.3h0.62v0.62h-0.62zM238.5,654.5h0.62v0.62h-0.62zM209.4,650.9h0.62v0.62h-0.62zM231.0,653.1h0.62v0.62h-0.62zM246.8,632.6h0.62v0.62h-0.62zM224.8,659.5h0.62v0.62h-0.62zM232.1,662.6h0.62v0.62h-0.62zM225.8,635.4h0.62v0.62h-0.62zM243.6,650.0h0.62v0.62h-0.62zM237.4,639.7h0.62v0.62h-0.62zM212.6,638.9h0.62v0.62h-0.62zM232.0,640.8h0.62v0.62h-0.62zM247.3,642.7h0.62v0.62h-0.62zM205.0,649.6h0.62v0.62h-0.62zM226.9,651.8h0.62v0.62h-0.62zM230.6,644.4h0.62v0.62h-0.62zM211.9,637.6h0.62v0.62h-0.62zM222.8,661.1h0.62v0.62h-0.62zM237.4,653.8h0.62v0.62h-0.62zM239.2,642.1h0.62v0.62h-0.62zM208.5,649.4h0.62v0.62h-0.62zM217.6,640.2h0.62v0.62h-0.62zM230.9,643.9h0.62v0.62h-0.62zM244.1,648.3h0.62v0.62h-0.62zM221.0,636.1h0.62v0.62h-0.62zM207.9,639.7h0.62v0.62h-0.62zM224.2,650.1h0.62v0.62h-0.62zM241.2,645.7h0.62v0.62h-0.62zM209.5,649.3h0.62v0.62h-0.62zM240.7,642.8h0.62v0.62h-0.62zM206.0,644.3h0.62v0.62h-0.62zM219.4,632.4h0.62v0.62h-0.62zM232.8,643.9h0.62v0.62h-0.62zM224.1,651.5h0.62v0.62h-0.62zM237.4,645.1h0.62v0.62h-0.62zM229.9,650.6h0.62v0.62h-0.62zM227.6,647.2h0.62v0.62h-0.62zM244.1,649.4h0.62v0.62h-0.62zM212.4,644.4h0.62v0.62h-0.62zM225.1,638.7h0.62v0.62h-0.62zM232.1,633.1h0.62v0.62h-0.62zM238.9,636.5h0.62v0.62h-0.62zM224.0,650.7h0.62v0.62h-0.62zM225.7,638.8h0.62v0.62h-0.62zM235.7,657.1h0.62v0.62h-0.62zM207.8,639.8h0.62v0.62h-0.62zM236.7,631.5h0.62v0.62h-0.62zM232.5,644.5h0.62v0.62h-0.62zM236.8,640.2h0.62v0.62h-0.62zM228.8,641.0h0.62v0.62h-0.62zM217.7,642.4h0.62v0.62h-0.62zM211.7,638.7h0.62v0.62h-0.62zM225.5,648.2h0.62v0.62h-0.62zM215.6,641.8h0.62v0.62h-0.62zM236.4,638.1h0.62v0.62h-0.62zM243.7,637.7h0.62v0.62h-0.62zM225.8,650.1h0.62v0.62h-0.62zM208.4,650.6h0.62v0.62h-0.62zM240.0,641.7h0.62v0.62h-0.62zM218.4,656.2h0.62v0.62h-0.62zM238.2,646.2h0.62v0.62h-0.62zM231.8,639.7h0.62v0.62h-0.62zM228.7,643.7h0.62v0.62h-0.62zM240.8,643.3h0.62v0.62h-0.62zM224.8,643.7h0.62v0.62h-0.62zM228.2,661.9h0.62v0.62h-0.62zM236.4,651.0h0.62v0.62h-0.62zM229.2,642.2h0.62v0.62h-0.62zM234.7,641.7h0.62v0.62h-0.62zM226.6,658.4h0.62v0.62h-0.62zM227.0,638.0h0.62v0.62h-0.62zM233.3,643.6h0.62v0.62h-0.62zM219.1,633.2h0.62v0.62h-0.62zM226.1,665.2h0.62v0.62h-0.62zM226.4,643.8h0.62v0.62h-0.62zM211.1,646.5h0.62v0.62h-0.62zM208.8,646.6h0.62v0.62h-0.62zM233.5,641.9h0.62v0.62h-0.62zM242.6,644.0h0.62v0.62h-0.62zM230.4,653.7h0.62v0.62h-0.62zM221.8,655.5h0.62v0.62h-0.62zM225.3,649.8h0.62v0.62h-0.62zM227.0,640.1h0.62v0.62h-0.62zM229.7,654.8h0.62v0.62h-0.62zM228.4,653.6h0.62v0.62h-0.62zM238.2,643.2h0.62v0.62h-0.62zM246.6,639.5h0.62v0.62h-0.62zM226.4,634.2h0.62v0.62h-0.62zM208.9,654.3h0.62v0.62h-0.62zM238.7,631.3h0.62v0.62h-0.62zM214.8,654.9h0.62v0.62h-0.62zM226.6,640.7h0.62v0.62h-0.62zM218.6,639.3h0.62v0.62h-0.62zM247.1,643.1h0.62v0.62h-0.62zM220.6,662.3h0.62v0.62h-0.62zM243.3,632.6h0.62v0.62h-0.62zM225.5,632.0h0.62v0.62h-0.62zM242.8,637.5h0.62v0.62h-0.62zM242.0,648.5h0.62v0.62h-0.62zM218.8,663.6h0.62v0.62h-0.62zM222.1,652.3h0.62v0.62h-0.62zM212.8,631.4h0.62v0.62h-0.62zM236.2,639.7h0.62v0.62h-0.62zM220.1,650.4h0.62v0.62h-0.62zM212.9,645.5h0.62v0.62h-0.62zM230.9,642.1h0.62v0.62h-0.62zM228.8,664.6h0.62v0.62h-0.62zM240.8,641.1h0.62v0.62h-0.62zM216.7,655.4h0.62v0.62h-0.62zM219.0,645.6h0.62v0.62h-0.62zM225.1,650.6h0.62v0.62h-0.62zM237.4,634.0h0.62v0.62h-0.62zM241.7,633.1h0.62v0.62h-0.62zM234.4,655.9h0.62v0.62h-0.62zM231.6,661.0h0.62v0.62h-0.62zM222.4,637.3h0.62v0.62h-0.62zM223.2,662.7h0.62v0.62h-0.62zM224.9,642.9h0.62v0.62h-0.62zM210.9,655.5h0.62v0.62h-0.62zM215.8,654.3h0.62v0.62h-0.62zM215.7,644.8h0.62v0.62h-0.62zM222.0,638.7h0.62v0.62h-0.62zM250.9,632.8h0.62v0.62h-0.62zM210.4,636.9h0.62v0.62h-0.62zM229.2,636.0h0.62v0.62h-0.62zM230.2,662.1h0.62v0.62h-0.62zM220.3,646.2h0.62v0.62h-0.62zM235.8,647.1h0.62v0.62h-0.62zM241.6,644.4h0.62v0.62h-0.62zM237.1,635.2h0.62v0.62h-0.62zM220.6,634.8h0.62v0.62h-0.62zM217.2,651.8h0.62v0.62h-0.62zM246.8,645.0h0.62v0.62h-0.62zM208.5,648.4h0.62v0.62h-0.62zM228.5,633.3h0.62v0.62h-0.62zM228.7,632.4h0.62v0.62h-0.62zM209.9,652.2h0.62v0.62h-0.62zM230.0,635.8h0.62v0.62h-0.62zM225.9,650.5h0.62v0.62h-0.62zM207.4,654.9h0.62v0.62h-0.62zM227.5,636.0h0.62v0.62h-0.62zM236.2,655.9h0.62v0.62h-0.62zM231.0,651.8h0.62v0.62h-0.62zM243.8,634.5h0.62v0.62h-0.62zM242.1,641.4h0.62v0.62h-0.62zM236.3,633.4h0.62v0.62h-0.62zM217.2,643.9h0.62v0.62h-0.62zM235.1,651.7h0.62v0.62h-0.62zM240.7,652.4h0.62v0.62h-0.62zM245.8,643.4h0.62v0.62h-0.62zM210.0,636.7h0.62v0.62h-0.62zM224.0,636.4h0.62v0.62h-0.62zM210.5,661.2h0.62v0.62h-0.62zM224.3,643.1h0.62v0.62h-0.62zM239.7,649.9h0.62v0.62h-0.62zM225.6,660.1h0.62v0.62h-0.62zM235.1,649.4h0.62v0.62h-0.62zM205.6,640.4h0.62v0.62h-0.62zM209.7,650.4h0.62v0.62h-0.62zM219.9,653.6h0.62v0.62h-0.62zM236.6,642.0h0.62v0.62h-0.62zM235.9,631.5h0.62v0.62h-0.62zM235.6,651.3h0.62v0.62h-0.62zM230.0,636.2h0.62v0.62h-0.62zM219.3,639.5h0.62v0.62h-0.62zM242.4,640.5h0.62v0.62h-0.62zM214.1,658.1h0.62v0.62h-0.62zM210.4,657.8h0.62v0.62h-0.62zM221.7,658.1h0.62v0.62h-0.62zM234.8,638.7h0.62v0.62h-0.62zM217.6,644.7h0.62v0.62h-0.62zM244.8,634.5h0.62v0.62h-0.62zM215.2,647.4h0.62v0.62h-0.62zM221.1,651.1h0.62v0.62h-0.62zM243.2,637.1h0.62v0.62h-0.62zM237.6,637.4h0.62v0.62h-0.62zM223.5,631.1h0.62v0.62h-0.62zM233.2,648.6h0.62v0.62h-0.62zM215.3,632.5h0.62v0.62h-0.62zM223.0,640.0h0.62v0.62h-0.62zM213.3,631.7h0.62v0.62h-0.62zM213.7,629.7h0.62v0.62h-0.62zM246.6,632.0h0.62v0.62h-0.62zM246.3,643.0h0.62v0.62h-0.62zM238.5,648.6h0.62v0.62h-0.62zM248.7,630.8h0.62v0.62h-0.62zM229.7,639.0h0.62v0.62h-0.62zM228.5,638.9h0.62v0.62h-0.62zM224.4,658.8h0.62v0.62h-0.62zM230.3,658.7h0.62v0.62h-0.62zM227.6,645.7h0.62v0.62h-0.62zM234.4,649.3h0.62v0.62h-0.62zM247.9,642.2h0.62v0.62h-0.62zM212.3,638.2h0.62v0.62h-0.62zM243.3,645.8h0.62v0.62h-0.62zM214.7,661.6h0.62v0.62h-0.62zM224.6,659.3h0.62v0.62h-0.62zM213.6,646.7h0.62v0.62h-0.62zM216.3,657.4h0.62v0.62h-0.62zM234.7,640.4h0.62v0.62h-0.62zM238.7,651.5h0.62v0.62h-0.62zM233.0,652.2h0.62v0.62h-0.62zM204.4,638.6h0.62v0.62h-0.62zM249.9,639.2h0.62v0.62h-0.62zM209.6,641.3h0.62v0.62h-0.62zM215.7,657.3h0.62v0.62h-0.62zM217.0,634.4h0.62v0.62h-0.62zM217.7,650.1h0.62v0.62h-0.62zM214.8,634.2h0.62v0.62h-0.62zM223.4,645.6h0.62v0.62h-0.62zM235.1,654.3h0.62v0.62h-0.62zM230.1,646.0h0.62v0.62h-0.62zM223.8,658.5h0.62v0.62h-0.62zM233.4,639.2h0.62v0.62h-0.62zM218.6,643.7h0.62v0.62h-0.62zM223.8,660.6h0.62v0.62h-0.62zM235.3,655.5h0.62v0.62h-0.62zM213.6,635.4h0.62v0.62h-0.62zM218.6,644.5h0.62v0.62h-0.62zM226.5,630.7h0.62v0.62h-0.62zM228.8,631.3h0.62v0.62h-0.62zM230.4,646.3h0.62v0.62h-0.62zM231.1,650.2h0.62v0.62h-0.62zM219.5,644.4h0.62v0.62h-0.62zM243.8,645.4h0.62v0.62h-0.62zM227.1,634.8h0.62v0.62h-0.62zM206.0,643.2h0.62v0.62h-0.62zM222.8,631.2h0.62v0.62h-0.62zM218.3,635.3h0.62v0.62h-0.62zM230.1,636.9h0.62v0.62h-0.62zM213.6,638.0h0.62v0.62h-0.62zM213.9,637.6h0.62v0.62h-0.62zM215.4,653.4h0.62v0.62h-0.62zM216.8,644.5h0.62v0.62h-0.62zM206.0,632.7h0.62v0.62h-0.62zM237.1,631.2h0.62v0.62h-0.62zM218.8,643.9h0.62v0.62h-0.62zM219.5,631.3h0.62v0.62h-0.62zM210.6,636.9h0.62v0.62h-0.62zM208.6,651.7h0.62v0.62h-0.62zM229.0,654.5h0.62v0.62h-0.62zM225.8,637.1h0.62v0.62h-0.62zM238.1,642.7h0.62v0.62h-0.62zM226.7,644.8h0.62v0.62h-0.62zM238.8,637.5h0.62v0.62h-0.62zM217.2,635.9h0.62v0.62h-0.62zM221.1,646.8h0.62v0.62h-0.62zM221.6,637.8h0.62v0.62h-0.62zM247.0,636.5h0.62v0.62h-0.62zM225.6,654.3h0.62v0.62h-0.62zM225.4,648.2h0.62v0.62h-0.62zM221.8,653.9h0.62v0.62h-0.62zM246.0,638.1h0.62v0.62h-0.62zM220.7,632.3h0.62v0.62h-0.62zM234.1,645.0h0.62v0.62h-0.62zM222.5,655.2h0.62v0.62h-0.62zM214.9,639.5h0.62v0.62h-0.62zM211.2,638.8h0.62v0.62h-0.62zM210.8,643.0h0.62v0.62h-0.62zM217.4,650.2h0.62v0.62h-0.62zM234.9,651.2h0.62v0.62h-0.62zM218.4,657.0h0.62v0.62h-0.62zM235.2,631.1h0.62v0.62h-0.62zM242.7,636.1h0.62v0.62h-0.62zM236.0,653.8h0.62v0.62h-0.62zM226.9,643.7h0.62v0.62h-0.62zM237.1,637.0h0.62v0.62h-0.62zM220.5,663.6h0.62v0.62h-0.62zM206.6,641.5h0.62v0.62h-0.62zM227.8,642.9h0.62v0.62h-0.62zM211.2,631.8h0.62v0.62h-0.62zM243.1,635.9h0.62v0.62h-0.62zM212.0,645.2h0.62v0.62h-0.62zM208.1,646.9h0.62v0.62h-0.62zM221.2,632.0h0.62v0.62h-0.62zM235.9,653.6h0.62v0.62h-0.62zM220.7,636.7h0.62v0.62h-0.62zM246.0,635.4h0.62v0.62h-0.62zM228.5,636.8h0.62v0.62h-0.62zM252.9,630.3h0.62v0.62h-0.62zM213.6,635.4h0.62v0.62h-0.62zM209.4,634.2h0.62v0.62h-0.62zM221.6,644.4h0.62v0.62h-0.62zM232.4,644.3h0.62v0.62h-0.62zM237.7,645.4h0.62v0.62h-0.62zM232.8,644.0h0.62v0.62h-0.62zM228.1,640.0h0.62v0.62h-0.62zM217.9,645.9h0.62v0.62h-0.62zM204.1,646.1h0.62v0.62h-0.62zM228.4,646.5h0.62v0.62h-0.62zM206.2,641.1h0.62v0.62h-0.62zM208.7,651.1h0.62v0.62h-0.62zM230.0,655.1h0.62v0.62h-0.62zM221.3,649.0h0.62v0.62h-0.62zM211.8,647.3h0.62v0.62h-0.62zM214.4,644.8h0.62v0.62h-0.62zM246.2,639.2h0.62v0.62h-0.62zM232.1,650.5h0.62v0.62h-0.62zM226.3,650.1h0.62v0.62h-0.62zM219.3,661.7h0.62v0.62h-0.62zM237.6,635.1h0.62v0.62h-0.62zM204.3,646.0h0.62v0.62h-0.62zM235.2,649.1h0.62v0.62h-0.62zM234.3,638.9h0.62v0.62h-0.62zM219.7,630.6h0.62v0.62h-0.62zM228.2,643.5h0.62v0.62h-0.62zM210.6,636.9h0.62v0.62h-0.62zM237.8,640.8h0.62v0.62h-0.62zM209.7,642.6h0.62v0.62h-0.62zM243.3,638.1h0.62v0.62h-0.62zM240.7,636.9h0.62v0.62h-0.62zM219.3,639.6h0.62v0.62h-0.62zM218.1,631.7h0.62v0.62h-0.62zM232.3,639.0h0.62v0.62h-0.62zM212.0,646.3h0.62v0.62h-0.62zM222.3,636.1h0.62v0.62h-0.62zM230.6,636.4h0.62v0.62h-0.62zM220.8,630.6h0.62v0.62h-0.62zM220.7,633.6h0.62v0.62h-0.62zM234.2,642.1h0.62v0.62h-0.62zM235.0,631.7h0.62v0.62h-0.62zM229.7,651.3h0.62v0.62h-0.62zM214.9,641.9h0.62v0.62h-0.62zM223.3,648.5h0.62v0.62h-0.62zM234.9,646.7h0.62v0.62h-0.62zM238.5,646.3h0.62v0.62h-0.62zM238.6,644.6h0.62v0.62h-0.62zM241.9,634.9h0.62v0.62h-0.62zM220.7,652.9h0.62v0.62h-0.62zM233.6,654.3h0.62v0.62h-0.62zM208.8,649.6h0.62v0.62h-0.62zM248.2,641.5h0.62v0.62h-0.62zM234.3,633.0h0.62v0.62h-0.62zM209.1,647.3h0.62v0.62h-0.62zM219.3,653.7h0.62v0.62h-0.62zM216.4,659.4h0.62v0.62h-0.62zM241.7,647.4h0.62v0.62h-0.62zM229.7,636.2h0.62v0.62h-0.62zM211.0,648.3h0.62v0.62h-0.62zM217.6,654.1h0.62v0.62h-0.62zM205.3,634.4h0.62v0.62h-0.62zM219.8,658.7h0.62v0.62h-0.62zM230.7,643.5h0.62v0.62h-0.62zM234.5,634.0h0.62v0.62h-0.62zM235.3,646.0h0.62v0.62h-0.62zM212.8,632.7h0.62v0.62h-0.62zM214.0,660.1h0.62v0.62h-0.62zM246.1,638.0h0.62v0.62h-0.62zM229.8,637.5h0.62v0.62h-0.62zM221.0,646.4h0.62v0.62h-0.62zM227.3,645.5h0.62v0.62h-0.62zM219.7,646.9h0.62v0.62h-0.62zM225.4,633.6h0.62v0.62h-0.62zM209.2,650.7h0.62v0.62h-0.62zM206.2,640.2h0.62v0.62h-0.62zM224.7,650.0h0.62v0.62h-0.62zM234.1,651.5h0.62v0.62h-0.62zM234.3,648.2h0.62v0.62h-0.62zM226.1,655.0h0.62v0.62h-0.62zM231.2,656.0h0.62v0.62h-0.62zM233.6,643.3h0.62v0.62h-0.62zM236.2,645.5h0.62v0.62h-0.62zM222.4,639.9h0.62v0.62h-0.62zM230.0,652.5h0.62v0.62h-0.62zM221.6,648.3h0.62v0.62h-0.62zM236.1,642.1h0.62v0.62h-0.62zM226.1,654.4h0.62v0.62h-0.62zM206.7,650.9h0.62v0.62h-0.62zM229.9,640.0h0.62v0.62h-0.62zM214.7,638.5h0.62v0.62h-0.62zM225.5,645.2h0.62v0.62h-0.62zM214.7,661.4h0.62v0.62h-0.62zM221.5,638.9h0.62v0.62h-0.62zM208.6,640.2h0.62v0.62h-0.62zM228.5,647.8h0.62v0.62h-0.62zM211.9,661.2h0.62v0.62h-0.62zM208.2,634.8h0.62v0.62h-0.62zM222.2,643.6h0.62v0.62h-0.62zM219.8,635.7h0.62v0.62h-0.62zM223.4,655.2h0.62v0.62h-0.62zM213.7,640.8h0.62v0.62h-0.62zM216.0,658.1h0.62v0.62h-0.62zM222.8,656.0h0.62v0.62h-0.62zM236.0,636.4h0.62v0.62h-0.62zM245.6,639.7h0.62v0.62h-0.62zM229.1,656.5h0.62v0.62h-0.62zM238.6,633.9h0.62v0.62h-0.62zM211.7,632.3h0.62v0.62h-0.62zM239.7,647.9h0.62v0.62h-0.62zM220.1,646.4h0.62v0.62h-0.62zM224.5,645.5h0.62v0.62h-0.62zM246.3,640.4h0.62v0.62h-0.62zM242.4,640.2h0.62v0.62h-0.62zM227.6,641.3h0.62v0.62h-0.62zM219.5,634.0h0.62v0.62h-0.62zM231.1,647.0h0.62v0.62h-0.62zM228.4,647.5h0.62v0.62h-0.62zM206.7,653.2h0.62v0.62h-0.62zM238.1,652.3h0.62v0.62h-0.62zM226.5,644.7h0.62v0.62h-0.62zM223.4,648.0h0.62v0.62h-0.62zM240.4,654.4h0.62v0.62h-0.62zM222.3,633.8h0.62v0.62h-0.62zM211.1,655.3h0.62v0.62h-0.62zM230.6,661.3h0.62v0.62h-0.62zM215.9,660.2h0.62v0.62h-0.62zM237.9,640.0h0.62v0.62h-0.62zM211.9,660.2h0.62v0.62h-0.62zM231.9,658.7h0.62v0.62h-0.62zM239.2,632.9h0.62v0.62h-0.62zM241.8,654.5h0.62v0.62h-0.62zM250.3,634.9h0.62v0.62h-0.62zM225.5,638.8h0.62v0.62h-0.62zM219.6,650.4h0.62v0.62h-0.62zM230.9,648.6h0.62v0.62h-0.62zM242.3,632.7h0.62v0.62h-0.62zM224.8,637.6h0.62v0.62h-0.62zM218.5,643.2h0.62v0.62h-0.62zM219.6,655.2h0.62v0.62h-0.62zM253.1,630.8h0.62v0.62h-0.62zM213.4,656.8h0.62v0.62h-0.62zM236.7,653.1h0.62v0.62h-0.62zM234.1,641.3h0.62v0.62h-0.62zM235.7,652.3h0.62v0.62h-0.62zM239.0,632.1h0.62v0.62h-0.62zM240.5,650.0h0.62v0.62h-0.62zM225.2,636.7h0.62v0.62h-0.62zM234.4,632.4h0.62v0.62h-0.62zM237.1,646.3h0.62v0.62h-0.62zM223.5,643.8h0.62v0.62h-0.62zM217.2,634.5h0.62v0.62h-0.62zM229.4,645.0h0.62v0.62h-0.62zM228.6,635.2h0.62v0.62h-0.62zM231.4,653.5h0.62v0.62h-0.62zM232.6,638.6h0.62v0.62h-0.62zM232.9,638.3h0.62v0.62h-0.62zM246.5,639.3h0.62v0.62h-0.62zM242.7,632.6h0.62v0.62h-0.62zM226.7,648.4h0.62v0.62h-0.62zM229.6,633.0h0.62v0.62h-0.62zM241.1,635.2h0.62v0.62h-0.62zM212.8,651.5h0.62v0.62h-0.62zM207.2,653.2h0.62v0.62h-0.62zM210.6,631.5h0.62v0.62h-0.62zM211.0,631.1h0.62v0.62h-0.62zM208.7,652.3h0.62v0.62h-0.62zM236.1,634.1h0.62v0.62h-0.62zM230.9,633.6h0.62v0.62h-0.62zM237.6,650.5h0.62v0.62h-0.62zM215.4,643.3h0.62v0.62h-0.62zM226.2,634.5h0.62v0.62h-0.62zM241.8,650.8h0.62v0.62h-0.62zM237.1,658.6h0.62v0.62h-0.62zM214.9,644.3h0.62v0.62h-0.62zM216.8,655.6h0.62v0.62h-0.62zM232.3,650.3h0.62v0.62h-0.62zM231.1,636.2h0.62v0.62h-0.62zM232.7,644.0h0.62v0.62h-0.62zM240.6,631.6h0.62v0.62h-0.62zM206.2,636.6h0.62v0.62h-0.62zM218.5,640.4h0.62v0.62h-0.62zM221.9,657.8h0.62v0.62h-0.62zM225.9,634.4h0.62v0.62h-0.62zM243.3,631.5h0.62v0.62h-0.62zM234.8,654.1h0.62v0.62h-0.62zM236.0,644.6h0.62v0.62h-0.62zM232.2,641.7h0.62v0.62h-0.62zM214.8,653.6h0.62v0.62h-0.62zM221.1,658.5h0.62v0.62h-0.62zM246.8,634.1h0.62v0.62h-0.62zM226.7,664.5h0.62v0.62h-0.62zM227.2,644.9h0.62v0.62h-0.62zM236.7,647.6h0.62v0.62h-0.62zM210.1,642.9h0.62v0.62h-0.62zM245.3,636.3h0.62v0.62h-0.62zM233.7,649.4h0.62v0.62h-0.62zM222.6,638.0h0.62v0.62h-0.62zM229.0,659.0h0.62v0.62h-0.62zM226.2,649.1h0.62v0.62h-0.62zM238.7,643.9h0.62v0.62h-0.62zM218.5,631.3h0.62v0.62h-0.62zM211.8,642.2h0.62v0.62h-0.62zM210.6,658.6h0.62v0.62h-0.62zM230.4,639.2h0.62v0.62h-0.62zM233.5,631.8h0.62v0.62h-0.62zM222.4,655.5h0.62v0.62h-0.62zM232.7,651.7h0.62v0.62h-0.62zM241.3,652.4h0.62v0.62h-0.62zM224.4,654.5h0.62v0.62h-0.62zM219.2,635.5h0.62v0.62h-0.62zM220.8,663.3h0.62v0.62h-0.62zM225.5,653.3h0.62v0.62h-0.62zM219.9,636.4h0.62v0.62h-0.62zM231.9,631.1h0.62v0.62h-0.62zM225.0,632.6h0.62v0.62h-0.62zM223.2,640.1h0.62v0.62h-0.62zM214.5,641.2h0.62v0.62h-0.62zM211.5,638.6h0.62v0.62h-0.62zM235.3,639.0h0.62v0.62h-0.62zM246.4,634.3h0.62v0.62h-0.62zM245.7,646.5h0.62v0.62h-0.62zM215.2,634.5h0.62v0.62h-0.62zM210.2,640.9h0.62v0.62h-0.62zM218.2,660.4h0.62v0.62h-0.62zM228.9,660.2h0.62v0.62h-0.62zM239.8,649.0h0.62v0.62h-0.62zM232.3,652.4h0.62v0.62h-0.62zM239.1,636.0h0.62v0.62h-0.62zM232.2,640.5h0.62v0.62h-0.62zM227.2,652.9h0.62v0.62h-0.62zM218.5,640.3h0.62v0.62h-0.62zM229.0,633.5h0.62v0.62h-0.62zM240.0,643.0h0.62v0.62h-0.62zM207.5,644.5h0.62v0.62h-0.62zM237.6,653.7h0.62v0.62h-0.62zM227.4,653.8h0.62v0.62h-0.62zM229.6,635.8h0.62v0.62h-0.62zM224.1,656.3h0.62v0.62h-0.62zM213.4,652.7h0.62v0.62h-0.62zM221.1,648.1h0.62v0.62h-0.62zM214.9,661.0h0.62v0.62h-0.62zM217.7,649.6h0.62v0.62h-0.62zM235.8,640.6h0.62v0.62h-0.62zM222.3,640.0h0.62v0.62h-0.62zM228.1,634.8h0.62v0.62h-0.62zM208.7,636.3h0.62v0.62h-0.62zM206.5,644.3h0.62v0.62h-0.62zM206.4,640.1h0.62v0.62h-0.62zM239.0,750.5h0.62v0.62h-0.62zM216.2,720.6h0.62v0.62h-0.62zM237.9,738.3h0.62v0.62h-0.62zM243.7,757.9h0.62v0.62h-0.62zM206.4,719.8h0.62v0.62h-0.62zM241.6,751.2h0.62v0.62h-0.62zM249.8,773.6h0.62v0.62h-0.62zM233.8,761.6h0.62v0.62h-0.62zM223.9,739.9h0.62v0.62h-0.62zM227.3,730.6h0.62v0.62h-0.62zM237.5,764.3h0.62v0.62h-0.62zM231.7,751.5h0.62v0.62h-0.62zM228.2,748.7h0.62v0.62h-0.62zM249.0,770.1h0.62v0.62h-0.62zM236.7,747.0h0.62v0.62h-0.62zM227.6,737.6h0.62v0.62h-0.62zM236.1,755.9h0.62v0.62h-0.62zM244.2,761.9h0.62v0.62h-0.62zM242.5,752.0h0.62v0.62h-0.62zM253.1,772.6h0.62v0.62h-0.62zM244.1,775.4h0.62v0.62h-0.62zM243.1,778.4h0.62v0.62h-0.62zM248.8,775.6h0.62v0.62h-0.62zM247.7,777.3h0.62v0.62h-0.62zM252.5,772.9h0.62v0.62h-0.62zM233.2,750.3h0.62v0.62h-0.62zM233.7,743.7h0.62v0.62h-0.62zM222.2,730.1h0.62v0.62h-0.62zM224.7,731.9h0.62v0.62h-0.62zM242.5,767.7h0.62v0.62h-0.62zM217.1,727.8h0.62v0.62h-0.62zM224.9,741.5h0.62v0.62h-0.62zM251.6,774.3h0.62v0.62h-0.62zM227.5,737.9h0.62v0.62h-0.62zM242.1,754.8h0.62v0.62h-0.62zM223.0,730.0h0.62v0.62h-0.62zM201.1,711.9h0.62v0.62h-0.62zM235.9,743.3h0.62v0.62h-0.62zM223.7,733.7h0.62v0.62h-0.62zM223.4,743.2h0.62v0.62h-0.62zM190.6,708.1h0.62v0.62h-0.62zM223.4,738.4h0.62v0.62h-0.62zM248.4,769.1h0.62v0.62h-0.62zM236.9,750.7h0.62v0.62h-0.62zM248.2,762.0h0.62v0.62h-0.62zM242.8,764.2h0.62v0.62h-0.62zM248.4,772.0h0.62v0.62h-0.62zM237.5,755.0h0.62v0.62h-0.62zM235.1,750.4h0.62v0.62h-0.62zM245.7,771.8h0.62v0.62h-0.62zM218.1,731.1h0.62v0.62h-0.62zM240.7,760.5h0.62v0.62h-0.62zM244.0,764.7h0.62v0.62h-0.62zM247.1,772.4h0.62v0.62h-0.62zM220.7,727.9h0.62v0.62h-0.62zM248.8,766.4h0.62v0.62h-0.62zM240.4,764.2h0.62v0.62h-0.62zM217.5,725.0h0.62v0.62h-0.62zM239.7,755.8h0.62v0.62h-0.62zM237.9,758.8h0.62v0.62h-0.62zM242.4,768.0h0.62v0.62h-0.62zM243.0,757.7h0.62v0.62h-0.62zM244.7,760.0h0.62v0.62h-0.62zM239.0,752.0h0.62v0.62h-0.62zM219.3,726.4h0.62v0.62h-0.62zM231.9,736.0h0.62v0.62h-0.62zM227.6,738.7h0.62v0.62h-0.62zM231.8,737.6h0.62v0.62h-0.62zM226.3,744.6h0.62v0.62h-0.62zM235.7,759.9h0.62v0.62h-0.62zM244.0,765.5h0.62v0.62h-0.62zM232.0,741.8h0.62v0.62h-0.62zM247.8,767.6h0.62v0.62h-0.62zM227.0,745.5h0.62v0.62h-0.62zM240.0,750.6h0.62v0.62h-0.62zM230.2,737.2h0.62v0.62h-0.62zM244.3,764.9h0.62v0.62h-0.62zM213.5,722.5h0.62v0.62h-0.62zM228.2,741.2h0.62v0.62h-0.62zM230.8,739.0h0.62v0.62h-0.62zM244.4,773.8h0.62v0.62h-0.62zM245.4,756.5h0.62v0.62h-0.62zM226.0,741.2h0.62v0.62h-0.62zM228.1,739.9h0.62v0.62h-0.62zM244.6,759.8h0.62v0.62h-0.62zM243.2,766.0h0.62v0.62h-0.62zM236.4,743.6h0.62v0.62h-0.62zM236.6,746.2h0.62v0.62h-0.62zM244.5,753.2h0.62v0.62h-0.62zM220.9,732.6h0.62v0.62h-0.62zM244.6,772.8h0.62v0.62h-0.62zM203.9,715.6h0.62v0.62h-0.62zM228.4,739.9h0.62v0.62h-0.62zM248.5,777.4h0.62v0.62h-0.62zM241.4,757.7h0.62v0.62h-0.62zM249.8,761.4h0.62v0.62h-0.62zM224.1,734.6h0.62v0.62h-0.62zM238.9,771.9h0.62v0.62h-0.62zM250.5,772.5h0.62v0.62h-0.62zM208.6,716.0h0.62v0.62h-0.62zM243.3,775.8h0.62v0.62h-0.62zM231.8,747.2h0.62v0.62h-0.62zM231.1,748.8h0.62v0.62h-0.62zM244.0,755.0h0.62v0.62h-0.62zM201.4,712.9h0.62v0.62h-0.62zM252.7,763.8h0.62v0.62h-0.62zM244.3,760.3h0.62v0.62h-0.62zM250.3,761.9h0.62v0.62h-0.62zM192.0,706.7h0.62v0.62h-0.62zM235.0,751.9h0.62v0.62h-0.62zM247.7,759.1h0.62v0.62h-0.62zM215.1,731.0h0.62v0.62h-0.62zM243.2,768.1h0.62v0.62h-0.62zM252.6,761.3h0.62v0.62h-0.62zM242.1,755.6h0.62v0.62h-0.62zM210.6,722.4h0.62v0.62h-0.62zM249.3,763.1h0.62v0.62h-0.62zM242.1,760.1h0.62v0.62h-0.62zM213.9,717.5h0.62v0.62h-0.62zM250.2,774.3h0.62v0.62h-0.62zM247.5,773.0h0.62v0.62h-0.62zM223.5,741.4h0.62v0.62h-0.62zM214.0,722.5h0.62v0.62h-0.62zM225.2,735.9h0.62v0.62h-0.62zM245.2,766.0h0.62v0.62h-0.62zM240.9,764.7h0.62v0.62h-0.62zM208.3,720.8h0.62v0.62h-0.62zM222.2,727.6h0.62v0.62h-0.62zM232.5,744.9h0.62v0.62h-0.62zM237.8,743.8h0.62v0.62h-0.62zM232.8,752.8h0.62v0.62h-0.62zM233.0,751.2h0.62v0.62h-0.62zM244.0,766.0h0.62v0.62h-0.62zM206.8,717.0h0.62v0.62h-0.62zM225.2,738.8h0.62v0.62h-0.62zM243.7,773.6h0.62v0.62h-0.62zM234.6,747.1h0.62v0.62h-0.62zM241.7,755.1h0.62v0.62h-0.62zM238.9,771.4h0.62v0.62h-0.62zM210.8,719.8h0.62v0.62h-0.62zM238.9,764.7h0.62v0.62h-0.62zM250.9,764.3h0.62v0.62h-0.62zM218.2,727.3h0.62v0.62h-0.62zM238.0,750.3h0.62v0.62h-0.62zM250.7,776.0h0.62v0.62h-0.62zM223.0,731.2h0.62v0.62h-0.62zM240.9,751.9h0.62v0.62h-0.62zM216.2,728.3h0.62v0.62h-0.62zM227.0,734.1h0.62v0.62h-0.62zM240.6,753.6h0.62v0.62h-0.62zM235.0,745.2h0.62v0.62h-0.62zM246.0,766.7h0.62v0.62h-0.62zM231.6,750.8h0.62v0.62h-0.62zM243.2,756.0h0.62v0.62h-0.62zM244.5,757.4h0.62v0.62h-0.62zM236.1,756.1h0.62v0.62h-0.62zM250.4,775.9h0.62v0.62h-0.62zM225.3,732.7h0.62v0.62h-0.62zM229.3,741.7h0.62v0.62h-0.62zM245.8,770.3h0.62v0.62h-0.62zM192.1,709.7h0.62v0.62h-0.62zM220.2,744.4h0.62v0.62h-0.62zM244.6,770.7h0.62v0.62h-0.62zM246.1,759.9h0.62v0.62h-0.62zM233.6,764.3h0.62v0.62h-0.62zM228.1,747.2h0.62v0.62h-0.62zM248.2,776.3h0.62v0.62h-0.62zM228.1,740.1h0.62v0.62h-0.62zM222.9,728.1h0.62v0.62h-0.62zM235.1,757.5h0.62v0.62h-0.62zM230.9,750.5h0.62v0.62h-0.62zM204.9,711.1h0.62v0.62h-0.62zM238.1,744.6h0.62v0.62h-0.62zM212.8,717.6h0.62v0.62h-0.62zM239.1,747.6h0.62v0.62h-0.62zM244.3,752.8h0.62v0.62h-0.62zM216.5,720.1h0.62v0.62h-0.62zM222.8,745.1h0.62v0.62h-0.62zM251.4,774.1h0.62v0.62h-0.62zM219.1,728.9h0.62v0.62h-0.62zM234.3,747.7h0.62v0.62h-0.62zM247.1,772.8h0.62v0.62h-0.62zM246.4,768.1h0.62v0.62h-0.62zM247.6,763.9h0.62v0.62h-0.62zM221.6,728.1h0.62v0.62h-0.62zM233.2,741.8h0.62v0.62h-0.62zM246.7,762.5h0.62v0.62h-0.62zM245.0,765.2h0.62v0.62h-0.62zM235.0,738.8h0.62v0.62h-0.62zM245.6,770.8h0.62v0.62h-0.62zM246.8,772.7h0.62v0.62h-0.62zM246.3,765.5h0.62v0.62h-0.62zM237.9,748.4h0.62v0.62h-0.62zM239.3,756.9h0.62v0.62h-0.62zM223.6,730.4h0.62v0.62h-0.62zM223.5,732.6h0.62v0.62h-0.62zM248.7,764.9h0.62v0.62h-0.62zM244.5,773.1h0.62v0.62h-0.62zM244.4,749.7h0.62v0.62h-0.62zM216.2,730.0h0.62v0.62h-0.62zM250.7,776.7h0.62v0.62h-0.62zM212.1,722.3h0.62v0.62h-0.62zM248.8,771.8h0.62v0.62h-0.62zM233.0,750.5h0.62v0.62h-0.62zM239.3,763.0h0.62v0.62h-0.62zM212.5,720.1h0.62v0.62h-0.62zM248.2,772.0h0.62v0.62h-0.62zM242.3,771.2h0.62v0.62h-0.62zM239.4,745.3h0.62v0.62h-0.62zM249.7,762.5h0.62v0.62h-0.62zM247.1,775.5h0.62v0.62h-0.62zM250.3,764.4h0.62v0.62h-0.62zM242.5,767.8h0.62v0.62h-0.62zM227.3,748.6h0.62v0.62h-0.62zM246.8,771.8h0.62v0.62h-0.62zM211.6,716.6h0.62v0.62h-0.62zM243.6,764.5h0.62v0.62h-0.62zM241.5,773.7h0.62v0.62h-0.62zM204.2,710.5h0.62v0.62h-0.62zM240.0,757.1h0.62v0.62h-0.62zM243.5,748.9h0.62v0.62h-0.62zM213.4,725.0h0.62v0.62h-0.62zM251.1,769.1h0.62v0.62h-0.62zM237.5,748.0h0.62v0.62h-0.62zM220.5,727.5h0.62v0.62h-0.62zM222.5,731.2h0.62v0.62h-0.62zM234.5,755.1h0.62v0.62h-0.62zM252.1,765.3h0.62v0.62h-0.62zM228.8,747.0h0.62v0.62h-0.62zM226.7,739.7h0.62v0.62h-0.62zM230.8,742.0h0.62v0.62h-0.62zM245.2,772.3h0.62v0.62h-0.62zM197.1,710.5h0.62v0.62h-0.62zM215.8,723.1h0.62v0.62h-0.62zM209.4,716.8h0.62v0.62h-0.62zM209.5,722.0h0.62v0.62h-0.62zM241.2,775.2h0.62v0.62h-0.62zM249.6,765.9h0.62v0.62h-0.62zM240.4,764.2h0.62v0.62h-0.62zM225.8,729.2h0.62v0.62h-0.62zM210.0,717.9h0.62v0.62h-0.62zM232.8,740.7h0.62v0.62h-0.62zM247.2,776.7h0.62v0.62h-0.62zM236.1,744.9h0.62v0.62h-0.62zM234.2,740.4h0.62v0.62h-0.62zM224.0,739.1h0.62v0.62h-0.62zM247.6,773.0h0.62v0.62h-0.62zM207.0,718.3h0.62v0.62h-0.62zM241.9,750.7h0.62v0.62h-0.62zM246.0,770.1h0.62v0.62h-0.62zM242.4,778.6h0.62v0.62h-0.62zM250.8,765.0h0.62v0.62h-0.62zM246.1,773.9h0.62v0.62h-0.62zM250.8,771.3h0.62v0.62h-0.62zM246.5,772.9h0.62v0.62h-0.62zM217.9,735.5h0.62v0.62h-0.62zM247.3,769.4h0.62v0.62h-0.62zM244.0,758.6h0.62v0.62h-0.62zM247.4,763.2h0.62v0.62h-0.62zM218.8,719.0h0.62v0.62h-0.62zM228.9,753.6h0.62v0.62h-0.62zM247.4,763.7h0.62v0.62h-0.62zM237.3,746.5h0.62v0.62h-0.62zM248.3,777.6h0.62v0.62h-0.62zM231.6,749.9h0.62v0.62h-0.62zM246.1,773.7h0.62v0.62h-0.62zM246.7,772.6h0.62v0.62h-0.62zM196.7,706.4h0.62v0.62h-0.62zM209.6,717.6h0.62v0.62h-0.62zM234.7,735.2h0.62v0.62h-0.62zM227.7,749.5h0.62v0.62h-0.62zM225.2,736.3h0.62v0.62h-0.62zM249.0,775.8h0.62v0.62h-0.62zM213.6,726.2h0.62v0.62h-0.62zM249.3,766.6h0.62v0.62h-0.62zM220.9,728.9h0.62v0.62h-0.62zM238.1,743.6h0.62v0.62h-0.62zM227.0,743.6h0.62v0.62h-0.62zM228.8,748.7h0.62v0.62h-0.62zM241.2,773.1h0.62v0.62h-0.62zM240.3,741.3h0.62v0.62h-0.62zM244.6,762.3h0.62v0.62h-0.62zM232.4,735.2h0.62v0.62h-0.62zM223.8,738.5h0.62v0.62h-0.62zM245.5,764.1h0.62v0.62h-0.62zM244.4,750.7h0.62v0.62h-0.62zM247.6,757.2h0.62v0.62h-0.62zM234.3,747.7h0.62v0.62h-0.62zM241.3,754.8h0.62v0.62h-0.62zM234.3,749.2h0.62v0.62h-0.62zM192.4,709.8h0.62v0.62h-0.62zM228.0,749.1h0.62v0.62h-0.62zM230.6,741.7h0.62v0.62h-0.62zM244.2,769.5h0.62v0.62h-0.62zM244.2,750.9h0.62v0.62h-0.62zM220.9,738.6h0.62v0.62h-0.62zM215.9,717.2h0.62v0.62h-0.62zM227.0,740.9h0.62v0.62h-0.62zM230.8,733.9h0.62v0.62h-0.62zM208.8,725.7h0.62v0.62h-0.62zM223.2,731.8h0.62v0.62h-0.62zM229.0,741.8h0.62v0.62h-0.62zM245.9,763.7h0.62v0.62h-0.62zM213.1,721.6h0.62v0.62h-0.62zM215.6,722.3h0.62v0.62h-0.62zM238.3,754.0h0.62v0.62h-0.62zM248.0,770.0h0.62v0.62h-0.62zM242.8,765.0h0.62v0.62h-0.62zM247.6,773.6h0.62v0.62h-0.62zM236.5,763.0h0.62v0.62h-0.62zM228.8,747.0h0.62v0.62h-0.62zM244.2,768.5h0.62v0.62h-0.62zM245.1,759.9h0.62v0.62h-0.62zM248.2,769.0h0.62v0.62h-0.62zM239.0,759.1h0.62v0.62h-0.62zM225.7,738.6h0.62v0.62h-0.62zM246.3,776.8h0.62v0.62h-0.62zM243.6,755.9h0.62v0.62h-0.62zM229.3,742.9h0.62v0.62h-0.62zM244.2,762.3h0.62v0.62h-0.62zM214.3,720.9h0.62v0.62h-0.62zM244.8,751.5h0.62v0.62h-0.62zM246.5,775.6h0.62v0.62h-0.62zM245.2,751.7h0.62v0.62h-0.62zM214.4,715.3h0.62v0.62h-0.62zM238.4,759.8h0.62v0.62h-0.62zM248.5,771.4h0.62v0.62h-0.62zM239.7,754.8h0.62v0.62h-0.62zM237.3,753.5h0.62v0.62h-0.62zM240.3,772.4h0.62v0.62h-0.62zM234.7,742.1h0.62v0.62h-0.62zM234.5,736.2h0.62v0.62h-0.62zM229.9,744.9h0.62v0.62h-0.62zM226.9,737.3h0.62v0.62h-0.62zM243.1,777.6h0.62v0.62h-0.62zM208.3,716.7h0.62v0.62h-0.62zM242.6,759.3h0.62v0.62h-0.62zM245.7,760.6h0.62v0.62h-0.62zM220.1,728.7h0.62v0.62h-0.62zM245.5,771.0h0.62v0.62h-0.62zM235.0,769.2h0.62v0.62h-0.62zM212.8,715.3h0.62v0.62h-0.62zM220.3,735.4h0.62v0.62h-0.62zM245.5,775.9h0.62v0.62h-0.62zM223.4,731.5h0.62v0.62h-0.62zM234.7,754.7h0.62v0.62h-0.62zM205.1,711.9h0.62v0.62h-0.62zM226.6,731.8h0.62v0.62h-0.62zM236.4,743.9h0.62v0.62h-0.62zM240.6,758.8h0.62v0.62h-0.62zM211.8,720.9h0.62v0.62h-0.62zM249.6,774.6h0.62v0.62h-0.62zM211.9,717.1h0.62v0.62h-0.62zM221.1,737.3h0.62v0.62h-0.62zM243.6,757.7h0.62v0.62h-0.62zM246.5,758.6h0.62v0.62h-0.62zM223.0,733.8h0.62v0.62h-0.62zM248.4,770.7h0.62v0.62h-0.62zM248.3,776.1h0.62v0.62h-0.62zM237.4,746.9h0.62v0.62h-0.62zM238.2,750.2h0.62v0.62h-0.62zM228.7,748.1h0.62v0.62h-0.62zM249.8,776.8h0.62v0.62h-0.62zM242.8,773.3h0.62v0.62h-0.62zM222.2,744.8h0.62v0.62h-0.62zM194.1,708.5h0.62v0.62h-0.62zM249.2,767.0h0.62v0.62h-0.62zM248.3,777.2h0.62v0.62h-0.62zM223.1,728.8h0.62v0.62h-0.62zM247.3,761.3h0.62v0.62h-0.62zM210.1,716.6h0.62v0.62h-0.62zM230.9,746.1h0.62v0.62h-0.62zM217.8,729.9h0.62v0.62h-0.62zM241.2,751.6h0.62v0.62h-0.62zM246.8,764.7h0.62v0.62h-0.62zM239.5,770.0h0.62v0.62h-0.62zM249.6,758.6h0.62v0.62h-0.62zM241.6,754.7h0.62v0.62h-0.62zM235.0,743.5h0.62v0.62h-0.62zM219.7,730.6h0.62v0.62h-0.62zM196.6,708.6h0.62v0.62h-0.62zM233.9,748.6h0.62v0.62h-0.62zM209.7,728.4h0.62v0.62h-0.62zM206.5,716.4h0.62v0.62h-0.62zM248.7,765.2h0.62v0.62h-0.62zM242.5,753.2h0.62v0.62h-0.62zM244.4,762.2h0.62v0.62h-0.62zM241.8,754.2h0.62v0.62h-0.62zM250.0,776.0h0.62v0.62h-0.62zM221.8,737.2h0.62v0.62h-0.62zM232.0,746.0h0.62v0.62h-0.62zM234.4,747.0h0.62v0.62h-0.62zM221.9,731.2h0.62v0.62h-0.62zM232.1,742.1h0.62v0.62h-0.62zM242.8,756.5h0.62v0.62h-0.62zM243.1,768.3h0.62v0.62h-0.62zM193.9,708.9h0.62v0.62h-0.62zM239.0,742.7h0.62v0.62h-0.62zM244.0,757.1h0.62v0.62h-0.62zM249.6,770.6h0.62v0.62h-0.62zM249.4,773.3h0.62v0.62h-0.62zM254.0,768.9h0.62v0.62h-0.62zM233.7,744.6h0.62v0.62h-0.62zM220.9,728.3h0.62v0.62h-0.62zM248.6,765.0h0.62v0.62h-0.62zM229.5,746.6h0.62v0.62h-0.62zM243.5,774.0h0.62v0.62h-0.62zM240.4,762.0h0.62v0.62h-0.62zM242.2,770.1h0.62v0.62h-0.62zM246.3,769.6h0.62v0.62h-0.62zM231.0,744.2h0.62v0.62h-0.62zM218.6,726.2h0.62v0.62h-0.62zM246.7,773.3h0.62v0.62h-0.62zM241.1,775.0h0.62v0.62h-0.62zM204.5,714.9h0.62v0.62h-0.62zM245.1,752.7h0.62v0.62h-0.62zM225.6,739.0h0.62v0.62h-0.62zM235.9,744.2h0.62v0.62h-0.62zM219.6,728.9h0.62v0.62h-0.62zM244.9,760.0h0.62v0.62h-0.62zM211.9,720.1h0.62v0.62h-0.62zM251.8,771.4h0.62v0.62h-0.62zM225.4,733.7h0.62v0.62h-0.62zM237.4,749.3h0.62v0.62h-0.62zM235.8,746.6h0.62v0.62h-0.62zM233.1,746.3h0.62v0.62h-0.62zM220.3,733.7h0.62v0.62h-0.62zM194.2,710.0h0.62v0.62h-0.62zM229.7,746.2h0.62v0.62h-0.62zM227.5,735.0h0.62v0.62h-0.62zM239.3,745.6h0.62v0.62h-0.62zM239.9,774.5h0.62v0.62h-0.62zM235.7,762.7h0.62v0.62h-0.62zM245.1,754.0h0.62v0.62h-0.62zM238.6,749.1h0.62v0.62h-0.62zM236.1,744.2h0.62v0.62h-0.62zM246.2,759.1h0.62v0.62h-0.62zM243.8,777.6h0.62v0.62h-0.62zM228.0,742.7h0.62v0.62h-0.62zM244.0,757.7h0.62v0.62h-0.62zM238.3,756.4h0.62v0.62h-0.62zM243.9,776.5h0.62v0.62h-0.62zM233.5,755.6h0.62v0.62h-0.62zM227.6,744.5h0.62v0.62h-0.62zM230.9,754.7h0.62v0.62h-0.62zM205.1,716.3h0.62v0.62h-0.62zM251.4,770.5h0.62v0.62h-0.62zM231.4,745.6h0.62v0.62h-0.62zM247.2,776.5h0.62v0.62h-0.62zM239.0,777.3h0.62v0.62h-0.62zM225.4,733.4h0.62v0.62h-0.62zM249.8,775.8h0.62v0.62h-0.62zM225.2,739.4h0.62v0.62h-0.62zM194.8,709.3h0.62v0.62h-0.62zM244.8,774.2h0.62v0.62h-0.62zM244.5,764.3h0.62v0.62h-0.62zM239.3,771.3h0.62v0.62h-0.62zM209.0,720.4h0.62v0.62h-0.62zM233.0,741.3h0.62v0.62h-0.62zM248.5,776.9h0.62v0.62h-0.62zM246.5,775.7h0.62v0.62h-0.62zM218.5,732.0h0.62v0.62h-0.62zM223.8,726.7h0.62v0.62h-0.62zM234.5,754.9h0.62v0.62h-0.62zM245.0,775.9h0.62v0.62h-0.62zM242.8,751.7h0.62v0.62h-0.62zM237.2,754.9h0.62v0.62h-0.62zM245.7,776.8h0.62v0.62h-0.62zM221.9,732.6h0.62v0.62h-0.62zM220.1,725.9h0.62v0.62h-0.62zM237.3,761.9h0.62v0.62h-0.62zM226.3,744.9h0.62v0.62h-0.62zM233.3,738.2h0.62v0.62h-0.62zM247.5,766.1h0.62v0.62h-0.62zM217.3,730.8h0.62v0.62h-0.62zM227.7,750.8h0.62v0.62h-0.62zM228.4,734.1h0.62v0.62h-0.62zM243.7,760.1h0.62v0.62h-0.62zM211.5,715.6h0.62v0.62h-0.62zM189.0,707.0h0.62v0.62h-0.62zM189.0,706.1h0.62v0.62h-0.62zM223.6,734.8h0.62v0.62h-0.62zM193.1,707.8h0.62v0.62h-0.62zM231.4,733.2h0.62v0.62h-0.62zM221.2,732.0h0.62v0.62h-0.62zM221.0,725.9h0.62v0.62h-0.62zM246.6,776.7h0.62v0.62h-0.62zM248.3,762.9h0.62v0.62h-0.62zM237.7,747.9h0.62v0.62h-0.62zM252.5,765.2h0.62v0.62h-0.62zM238.2,755.7h0.62v0.62h-0.62zM251.2,776.4h0.62v0.62h-0.62zM245.3,764.8h0.62v0.62h-0.62zM233.6,749.6h0.62v0.62h-0.62zM241.0,772.7h0.62v0.62h-0.62zM240.2,754.1h0.62v0.62h-0.62zM208.8,717.6h0.62v0.62h-0.62zM224.0,735.9h0.62v0.62h-0.62zM223.8,727.8h0.62v0.62h-0.62zM238.4,758.6h0.62v0.62h-0.62zM241.1,756.1h0.62v0.62h-0.62zM228.6,744.7h0.62v0.62h-0.62zM215.0,727.2h0.62v0.62h-0.62zM247.1,761.5h0.62v0.62h-0.62zM250.3,776.5h0.62v0.62h-0.62zM245.6,763.4h0.62v0.62h-0.62zM251.2,764.3h0.62v0.62h-0.62zM237.1,747.3h0.62v0.62h-0.62zM245.9,777.6h0.62v0.62h-0.62zM230.9,749.6h0.62v0.62h-0.62zM243.2,771.7h0.62v0.62h-0.62zM239.7,748.1h0.62v0.62h-0.62zM217.5,720.6h0.62v0.62h-0.62zM252.1,772.5h0.62v0.62h-0.62zM243.6,776.1h0.62v0.62h-0.62zM242.6,777.8h0.62v0.62h-0.62zM229.9,754.1h0.62v0.62h-0.62zM249.6,775.6h0.62v0.62h-0.62zM235.2,748.4h0.62v0.62h-0.62zM237.8,738.6h0.62v0.62h-0.62zM209.4,711.5h0.62v0.62h-0.62zM235.0,753.9h0.62v0.62h-0.62zM207.8,715.5h0.62v0.62h-0.62zM231.3,750.4h0.62v0.62h-0.62zM245.2,763.0h0.62v0.62h-0.62zM226.0,741.8h0.62v0.62h-0.62zM227.1,734.8h0.62v0.62h-0.62zM219.1,725.6h0.62v0.62h-0.62zM234.0,740.3h0.62v0.62h-0.62zM240.5,757.1h0.62v0.62h-0.62zM224.7,736.7h0.62v0.62h-0.62zM235.5,763.2h0.62v0.62h-0.62zM244.9,765.3h0.62v0.62h-0.62zM229.5,749.6h0.62v0.62h-0.62zM240.2,760.6h0.62v0.62h-0.62zM240.8,752.6h0.62v0.62h-0.62zM249.4,758.7h0.62v0.62h-0.62zM248.6,769.0h0.62v0.62h-0.62zM250.4,762.0h0.62v0.62h-0.62zM248.2,767.7h0.62v0.62h-0.62zM236.9,747.9h0.62v0.62h-0.62zM238.3,749.5h0.62v0.62h-0.62zM249.9,773.8h0.62v0.62h-0.62zM203.3,712.8h0.62v0.62h-0.62zM215.3,718.8h0.62v0.62h-0.62zM248.4,767.1h0.62v0.62h-0.62zM237.5,764.3h0.62v0.62h-0.62zM235.0,746.7h0.62v0.62h-0.62zM249.0,775.1h0.62v0.62h-0.62zM221.2,732.4h0.62v0.62h-0.62zM243.1,761.3h0.62v0.62h-0.62zM248.8,776.5h0.62v0.62h-0.62zM245.3,761.4h0.62v0.62h-0.62zM231.8,756.2h0.62v0.62h-0.62zM247.7,773.3h0.62v0.62h-0.62zM244.4,764.3h0.62v0.62h-0.62zM226.2,747.0h0.62v0.62h-0.62zM247.9,777.1h0.62v0.62h-0.62zM211.2,717.2h0.62v0.62h-0.62zM248.5,770.7h0.62v0.62h-0.62zM212.6,719.6h0.62v0.62h-0.62zM228.4,738.1h0.62v0.62h-0.62zM242.4,765.6h0.62v0.62h-0.62zM242.4,772.8h0.62v0.62h-0.62zM213.2,727.6h0.62v0.62h-0.62zM216.0,721.2h0.62v0.62h-0.62zM233.7,743.0h0.62v0.62h-0.62zM201.9,710.6h0.62v0.62h-0.62zM207.7,721.2h0.62v0.62h-0.62zM223.4,735.9h0.62v0.62h-0.62zM196.4,710.6h0.62v0.62h-0.62zM231.1,742.4h0.62v0.62h-0.62zM248.1,775.7h0.62v0.62h-0.62zM249.0,771.9h0.62v0.62h-0.62zM243.1,769.4h0.62v0.62h-0.62zM227.8,746.9h0.62v0.62h-0.62zM204.9,715.3h0.62v0.62h-0.62zM247.6,765.8h0.62v0.62h-0.62zM235.9,756.0h0.62v0.62h-0.62zM240.0,768.8h0.62v0.62h-0.62zM186.8,731.3h0.62v0.62h-0.62zM182.6,728.0h0.62v0.62h-0.62zM213.7,775.7h0.62v0.62h-0.62zM194.0,749.0h0.62v0.62h-0.62zM193.3,749.0h0.62v0.62h-0.62zM183.9,731.7h0.62v0.62h-0.62zM196.2,759.4h0.62v0.62h-0.62zM190.5,750.1h0.62v0.62h-0.62zM202.8,761.3h0.62v0.62h-0.62zM200.9,760.1h0.62v0.62h-0.62zM188.9,751.3h0.62v0.62h-0.62zM188.7,747.7h0.62v0.62h-0.62zM190.2,759.3h0.62v0.62h-0.62zM188.4,749.2h0.62v0.62h-0.62zM181.5,728.8h0.62v0.62h-0.62zM208.8,771.1h0.62v0.62h-0.62zM200.8,753.5h0.62v0.62h-0.62zM181.1,728.6h0.62v0.62h-0.62zM210.5,759.5h0.62v0.62h-0.62zM182.4,731.0h0.62v0.62h-0.62zM193.8,750.2h0.62v0.62h-0.62zM204.5,772.7h0.62v0.62h-0.62zM190.3,745.9h0.62v0.62h-0.62zM192.0,741.4h0.62v0.62h-0.62zM184.7,737.0h0.62v0.62h-0.62zM190.3,737.2h0.62v0.62h-0.62zM193.6,748.8h0.62v0.62h-0.62zM182.4,730.1h0.62v0.62h-0.62zM205.8,765.5h0.62v0.62h-0.62zM190.5,746.5h0.62v0.62h-0.62zM204.3,768.2h0.62v0.62h-0.62zM216.4,774.2h0.62v0.62h-0.62zM209.9,775.7h0.62v0.62h-0.62zM208.8,769.7h0.62v0.62h-0.62zM190.6,750.3h0.62v0.62h-0.62zM220.1,771.7h0.62v0.62h-0.62z" fill="#f4776f"/>
<path d="M61.1,720.3h0.62v0.62h-0.62zM60.3,724.6h0.62v0.62h-0.62zM66.7,737.2h0.62v0.62h-0.62zM64.3,735.1h0.62v0.62h-0.62zM61.8,741.0h0.62v0.62h-0.62zM54.4,725.7h0.62v0.62h-0.62zM65.0,723.5h0.62v0.62h-0.62zM56.7,740.4h0.62v0.62h-0.62zM53.6,748.6h0.62v0.62h-0.62zM62.0,723.8h0.62v0.62h-0.62zM49.7,741.6h0.62v0.62h-0.62zM54.3,726.4h0.62v0.62h-0.62zM60.0,729.2h0.62v0.62h-0.62zM59.6,723.8h0.62v0.62h-0.62zM66.5,729.4h0.62v0.62h-0.62zM65.1,723.7h0.62v0.62h-0.62zM56.3,719.8h0.62v0.62h-0.62zM56.0,739.8h0.62v0.62h-0.62zM53.0,736.7h0.62v0.62h-0.62zM50.4,734.0h0.62v0.62h-0.62zM62.9,732.9h0.62v0.62h-0.62zM61.9,722.5h0.62v0.62h-0.62zM67.0,736.1h0.62v0.62h-0.62zM54.3,730.2h0.62v0.62h-0.62zM63.3,735.1h0.62v0.62h-0.62zM58.1,747.2h0.62v0.62h-0.62zM60.3,736.5h0.62v0.62h-0.62zM53.9,748.2h0.62v0.62h-0.62zM65.2,726.2h0.62v0.62h-0.62zM60.3,750.6h0.62v0.62h-0.62zM55.3,749.9h0.62v0.62h-0.62zM61.5,720.3h0.62v0.62h-0.62zM55.1,733.5h0.62v0.62h-0.62zM53.4,743.2h0.62v0.62h-0.62zM52.1,744.7h0.62v0.62h-0.62zM54.4,721.0h0.62v0.62h-0.62zM59.5,721.8h0.62v0.62h-0.62zM59.4,744.7h0.62v0.62h-0.62zM60.3,733.9h0.62v0.62h-0.62zM49.3,735.6h0.62v0.62h-0.62zM50.5,740.0h0.62v0.62h-0.62zM51.2,737.8h0.62v0.62h-0.62zM55.5,731.1h0.62v0.62h-0.62zM61.6,724.1h0.62v0.62h-0.62zM55.1,746.5h0.62v0.62h-0.62zM65.7,734.5h0.62v0.62h-0.62zM58.3,736.4h0.62v0.62h-0.62zM50.9,734.1h0.62v0.62h-0.62zM51.8,736.4h0.62v0.62h-0.62zM58.5,730.8h0.62v0.62h-0.62zM52.5,732.0h0.62v0.62h-0.62zM52.6,722.9h0.62v0.62h-0.62zM53.3,747.5h0.62v0.62h-0.62zM58.4,748.1h0.62v0.62h-0.62zM58.2,744.8h0.62v0.62h-0.62zM59.8,741.4h0.62v0.62h-0.62zM53.1,743.4h0.62v0.62h-0.62zM51.6,727.4h0.62v0.62h-0.62zM49.2,731.7h0.62v0.62h-0.62zM58.7,728.3h0.62v0.62h-0.62zM59.9,726.4h0.62v0.62h-0.62zM60.3,744.6h0.62v0.62h-0.62zM62.5,720.7h0.62v0.62h-0.62zM53.4,738.5h0.62v0.62h-0.62zM60.7,741.5h0.62v0.62h-0.62zM64.6,730.0h0.62v0.62h-0.62zM64.5,733.9h0.62v0.62h-0.62zM67.0,732.3h0.62v0.62h-0.62zM56.6,721.6h0.62v0.62h-0.62zM53.4,742.9h0.62v0.62h-0.62zM61.9,723.7h0.62v0.62h-0.62zM55.3,723.3h0.62v0.62h-0.62zM52.5,725.9h0.62v0.62h-0.62zM58.0,735.1h0.62v0.62h-0.62zM63.9,748.7h0.62v0.62h-0.62zM63.3,739.7h0.62v0.62h-0.62zM52.5,739.3h0.62v0.62h-0.62zM65.2,744.6h0.62v0.62h-0.62zM50.4,742.4h0.62v0.62h-0.62zM55.4,724.0h0.62v0.62h-0.62zM67.5,740.9h0.62v0.62h-0.62zM63.2,723.1h0.62v0.62h-0.62zM66.3,743.3h0.62v0.62h-0.62zM64.9,745.2h0.62v0.62h-0.62zM60.2,733.1h0.62v0.62h-0.62zM64.8,744.6h0.62v0.62h-0.62zM65.7,728.6h0.62v0.62h-0.62zM67.4,736.2h0.62v0.62h-0.62zM53.5,746.4h0.62v0.62h-0.62zM53.1,725.2h0.62v0.62h-0.62zM57.6,726.5h0.62v0.62h-0.62zM58.2,748.7h0.62v0.62h-0.62zM62.0,742.1h0.62v0.62h-0.62zM56.3,744.6h0.62v0.62h-0.62zM64.1,741.2h0.62v0.62h-0.62zM56.6,721.6h0.62v0.62h-0.62zM61.4,746.3h0.62v0.62h-0.62zM55.2,738.3h0.62v0.62h-0.62zM65.0,744.9h0.62v0.62h-0.62zM48.7,734.8h0.62v0.62h-0.62zM64.5,732.5h0.62v0.62h-0.62zM60.4,733.8h0.62v0.62h-0.62zM55.2,725.7h0.62v0.62h-0.62zM55.5,746.6h0.62v0.62h-0.62zM60.7,728.3h0.62v0.62h-0.62zM50.3,727.6h0.62v0.62h-0.62zM62.3,733.3h0.62v0.62h-0.62zM61.5,745.3h0.62v0.62h-0.62zM51.0,741.2h0.62v0.62h-0.62zM52.2,727.6h0.62v0.62h-0.62zM67.4,730.6h0.62v0.62h-0.62zM53.0,748.1h0.62v0.62h-0.62zM60.6,748.2h0.62v0.62h-0.62zM56.3,735.2h0.62v0.62h-0.62zM67.3,735.4h0.62v0.62h-0.62zM64.9,724.0h0.62v0.62h-0.62zM57.5,745.4h0.62v0.62h-0.62zM53.5,730.3h0.62v0.62h-0.62zM50.6,736.9h0.62v0.62h-0.62zM65.5,735.6h0.62v0.62h-0.62zM56.0,749.3h0.62v0.62h-0.62zM66.1,740.7h0.62v0.62h-0.62zM50.1,739.3h0.62v0.62h-0.62zM57.3,750.3h0.62v0.62h-0.62zM55.7,740.5h0.62v0.62h-0.62zM61.0,731.1h0.62v0.62h-0.62zM58.8,741.0h0.62v0.62h-0.62zM66.4,735.1h0.62v0.62h-0.62zM55.7,750.9h0.62v0.62h-0.62zM62.0,737.1h0.62v0.62h-0.62zM57.4,743.5h0.62v0.62h-0.62zM66.1,742.7h0.62v0.62h-0.62zM55.0,723.2h0.62v0.62h-0.62zM51.4,738.1h0.62v0.62h-0.62zM59.9,720.2h0.62v0.62h-0.62zM56.3,743.4h0.62v0.62h-0.62zM61.2,728.0h0.62v0.62h-0.62zM63.5,728.3h0.62v0.62h-0.62zM59.3,732.6h0.62v0.62h-0.62zM64.4,741.0h0.62v0.62h-0.62zM56.0,750.5h0.62v0.62h-0.62zM62.5,741.5h0.62v0.62h-0.62zM54.0,724.0h0.62v0.62h-0.62zM59.9,745.9h0.62v0.62h-0.62zM64.1,730.1h0.62v0.62h-0.62zM51.3,735.7h0.62v0.62h-0.62zM63.1,724.3h0.62v0.62h-0.62zM54.7,720.5h0.62v0.62h-0.62zM54.4,731.3h0.62v0.62h-0.62zM52.3,728.9h0.62v0.62h-0.62zM54.9,733.2h0.62v0.62h-0.62zM50.7,727.3h0.62v0.62h-0.62zM56.3,731.4h0.62v0.62h-0.62zM57.4,746.3h0.62v0.62h-0.62zM61.1,744.4h0.62v0.62h-0.62zM54.8,723.7h0.62v0.62h-0.62zM63.4,734.2h0.62v0.62h-0.62zM59.5,740.8h0.62v0.62h-0.62zM63.3,727.8h0.62v0.62h-0.62zM55.7,749.0h0.62v0.62h-0.62zM59.0,728.2h0.62v0.62h-0.62zM60.9,727.3h0.62v0.62h-0.62zM64.8,737.4h0.62v0.62h-0.62zM55.5,749.7h0.62v0.62h-0.62zM53.8,726.7h0.62v0.62h-0.62zM50.0,736.8h0.62v0.62h-0.62zM63.4,741.1h0.62v0.62h-0.62zM56.7,745.3h0.62v0.62h-0.62zM50.8,728.8h0.62v0.62h-0.62zM61.2,750.6h0.62v0.62h-0.62zM61.0,741.5h0.62v0.62h-0.62zM63.8,731.7h0.62v0.62h-0.62zM55.3,731.6h0.62v0.62h-0.62zM64.4,730.2h0.62v0.62h-0.62zM52.2,747.5h0.62v0.62h-0.62zM59.0,735.9h0.62v0.62h-0.62zM61.7,748.4h0.62v0.62h-0.62zM51.2,729.9h0.62v0.62h-0.62zM49.9,732.3h0.62v0.62h-0.62zM58.4,746.8h0.62v0.62h-0.62zM61.7,737.8h0.62v0.62h-0.62zM56.5,737.6h0.62v0.62h-0.62zM54.0,746.6h0.62v0.62h-0.62zM64.0,746.4h0.62v0.62h-0.62zM51.6,740.9h0.62v0.62h-0.62zM63.4,735.2h0.62v0.62h-0.62zM63.2,745.8h0.62v0.62h-0.62zM61.3,747.7h0.62v0.62h-0.62zM51.2,741.9h0.62v0.62h-0.62zM62.4,738.9h0.62v0.62h-0.62zM54.0,720.9h0.62v0.62h-0.62zM60.4,745.9h0.62v0.62h-0.62zM53.9,725.7h0.62v0.62h-0.62zM53.0,721.8h0.62v0.62h-0.62zM64.3,730.6h0.62v0.62h-0.62zM62.3,721.1h0.62v0.62h-0.62zM65.0,729.4h0.62v0.62h-0.62zM51.3,727.8h0.62v0.62h-0.62zM49.7,733.4h0.62v0.62h-0.62zM59.5,745.3h0.62v0.62h-0.62zM50.8,726.1h0.62v0.62h-0.62zM60.9,729.9h0.62v0.62h-0.62zM55.1,737.4h0.62v0.62h-0.62zM52.9,744.9h0.62v0.62h-0.62zM52.7,746.4h0.62v0.62h-0.62zM64.4,736.4h0.62v0.62h-0.62zM49.1,735.3h0.62v0.62h-0.62zM56.9,720.8h0.62v0.62h-0.62zM60.9,742.6h0.62v0.62h-0.62zM60.1,731.9h0.62v0.62h-0.62zM58.6,738.1h0.62v0.62h-0.62zM53.0,747.3h0.62v0.62h-0.62zM67.4,729.6h0.62v0.62h-0.62zM58.0,723.1h0.62v0.62h-0.62zM57.5,741.2h0.62v0.62h-0.62zM62.5,733.7h0.62v0.62h-0.62zM55.3,725.0h0.62v0.62h-0.62zM56.5,728.0h0.62v0.62h-0.62zM52.4,743.0h0.62v0.62h-0.62zM58.7,733.2h0.62v0.62h-0.62zM52.5,741.9h0.62v0.62h-0.62zM52.4,727.5h0.62v0.62h-0.62zM59.6,741.8h0.62v0.62h-0.62zM62.8,742.4h0.62v0.62h-0.62zM62.7,739.5h0.62v0.62h-0.62zM53.8,730.4h0.62v0.62h-0.62zM51.8,739.6h0.62v0.62h-0.62zM55.6,748.4h0.62v0.62h-0.62zM64.4,733.7h0.62v0.62h-0.62zM51.6,744.3h0.62v0.62h-0.62zM57.8,751.4h0.62v0.62h-0.62zM57.9,745.8h0.62v0.62h-0.62zM59.6,735.5h0.62v0.62h-0.62zM52.7,727.0h0.62v0.62h-0.62zM62.5,749.9h0.62v0.62h-0.62zM67.8,733.1h0.62v0.62h-0.62zM62.9,731.4h0.62v0.62h-0.62zM64.5,746.5h0.62v0.62h-0.62zM52.8,738.0h0.62v0.62h-0.62zM64.9,744.6h0.62v0.62h-0.62zM57.7,720.1h0.62v0.62h-0.62zM66.0,736.3h0.62v0.62h-0.62zM50.0,729.4h0.62v0.62h-0.62zM60.8,747.9h0.62v0.62h-0.62zM58.1,739.8h0.62v0.62h-0.62zM52.6,726.7h0.62v0.62h-0.62zM66.3,731.3h0.62v0.62h-0.62zM50.6,738.2h0.62v0.62h-0.62zM51.1,725.3h0.62v0.62h-0.62zM57.5,738.0h0.62v0.62h-0.62zM61.1,742.0h0.62v0.62h-0.62zM57.2,720.9h0.62v0.62h-0.62zM62.8,720.5h0.62v0.62h-0.62zM57.8,731.9h0.62v0.62h-0.62zM61.8,742.2h0.62v0.62h-0.62zM53.3,740.1h0.62v0.62h-0.62zM62.2,734.3h0.62v0.62h-0.62zM60.3,720.8h0.62v0.62h-0.62zM53.1,731.6h0.62v0.62h-0.62zM64.0,745.9h0.62v0.62h-0.62zM61.0,743.2h0.62v0.62h-0.62zM52.9,740.9h0.62v0.62h-0.62zM66.8,739.8h0.62v0.62h-0.62zM66.6,727.4h0.62v0.62h-0.62zM63.4,722.1h0.62v0.62h-0.62zM52.3,745.3h0.62v0.62h-0.62zM51.8,735.6h0.62v0.62h-0.62zM50.7,744.7h0.62v0.62h-0.62zM59.5,745.8h0.62v0.62h-0.62zM58.4,739.1h0.62v0.62h-0.62zM60.2,745.1h0.62v0.62h-0.62zM59.3,728.3h0.62v0.62h-0.62zM64.9,745.5h0.62v0.62h-0.62zM57.6,722.7h0.62v0.62h-0.62zM61.3,725.5h0.62v0.62h-0.62zM57.0,722.3h0.62v0.62h-0.62zM67.7,736.7h0.62v0.62h-0.62zM55.5,721.8h0.62v0.62h-0.62zM62.9,746.7h0.62v0.62h-0.62zM55.8,728.7h0.62v0.62h-0.62zM63.5,723.6h0.62v0.62h-0.62zM60.5,751.0h0.62v0.62h-0.62zM62.2,738.4h0.62v0.62h-0.62zM58.8,733.7h0.62v0.62h-0.62zM56.6,738.9h0.62v0.62h-0.62zM61.3,748.9h0.62v0.62h-0.62zM63.0,745.0h0.62v0.62h-0.62zM61.9,746.7h0.62v0.62h-0.62zM57.0,747.7h0.62v0.62h-0.62zM57.2,742.0h0.62v0.62h-0.62zM53.5,728.6h0.62v0.62h-0.62zM55.4,729.4h0.62v0.62h-0.62zM50.4,733.3h0.62v0.62h-0.62zM63.3,727.7h0.62v0.62h-0.62zM53.5,732.3h0.62v0.62h-0.62zM55.0,744.1h0.62v0.62h-0.62zM63.8,748.1h0.62v0.62h-0.62zM64.2,736.2h0.62v0.62h-0.62zM54.7,739.4h0.62v0.62h-0.62zM55.8,736.4h0.62v0.62h-0.62zM59.0,740.1h0.62v0.62h-0.62zM59.1,749.6h0.62v0.62h-0.62zM56.6,748.8h0.62v0.62h-0.62zM54.2,748.6h0.62v0.62h-0.62zM52.0,733.1h0.62v0.62h-0.62zM62.1,741.5h0.62v0.62h-0.62zM63.2,743.5h0.62v0.62h-0.62zM53.5,727.2h0.62v0.62h-0.62zM52.7,727.3h0.62v0.62h-0.62zM67.5,739.9h0.62v0.62h-0.62zM60.2,740.3h0.62v0.62h-0.62zM60.3,741.6h0.62v0.62h-0.62zM54.5,720.8h0.62v0.62h-0.62zM55.7,723.4h0.62v0.62h-0.62zM50.8,735.0h0.62v0.62h-0.62zM53.9,744.1h0.62v0.62h-0.62zM54.5,732.2h0.62v0.62h-0.62zM62.1,733.4h0.62v0.62h-0.62zM62.9,721.8h0.62v0.62h-0.62zM66.9,730.0h0.62v0.62h-0.62zM64.8,726.2h0.62v0.62h-0.62zM65.3,745.2h0.62v0.62h-0.62zM61.7,727.9h0.62v0.62h-0.62zM61.5,738.1h0.62v0.62h-0.62zM61.5,724.7h0.62v0.62h-0.62zM67.9,731.3h0.62v0.62h-0.62zM61.4,737.5h0.62v0.62h-0.62zM55.7,742.5h0.62v0.62h-0.62zM51.3,744.7h0.62v0.62h-0.62zM53.5,730.8h0.62v0.62h-0.62zM58.8,722.4h0.62v0.62h-0.62zM53.5,745.0h0.62v0.62h-0.62zM54.2,731.3h0.62v0.62h-0.62zM63.6,726.1h0.62v0.62h-0.62zM52.4,725.9h0.62v0.62h-0.62zM56.1,730.7h0.62v0.62h-0.62zM61.2,734.3h0.62v0.62h-0.62zM61.6,746.3h0.62v0.62h-0.62zM57.2,722.5h0.62v0.62h-0.62zM57.6,742.2h0.62v0.62h-0.62zM58.0,724.4h0.62v0.62h-0.62zM53.1,733.2h0.62v0.62h-0.62zM55.7,734.2h0.62v0.62h-0.62zM66.9,737.0h0.62v0.62h-0.62zM63.2,737.3h0.62v0.62h-0.62zM67.1,736.0h0.62v0.62h-0.62zM53.3,724.3h0.62v0.62h-0.62zM65.5,725.7h0.62v0.62h-0.62zM50.2,727.4h0.62v0.62h-0.62zM66.7,733.9h0.62v0.62h-0.62zM62.9,721.1h0.62v0.62h-0.62zM57.5,729.2h0.62v0.62h-0.62zM52.6,740.6h0.62v0.62h-0.62zM55.7,722.6h0.62v0.62h-0.62zM67.9,734.6h0.62v0.62h-0.62zM61.4,735.7h0.62v0.62h-0.62zM49.1,734.2h0.62v0.62h-0.62zM63.1,736.4h0.62v0.62h-0.62zM53.2,735.2h0.62v0.62h-0.62zM60.4,740.2h0.62v0.62h-0.62zM51.4,745.2h0.62v0.62h-0.62zM65.4,730.8h0.62v0.62h-0.62zM53.0,738.4h0.62v0.62h-0.62zM57.2,723.3h0.62v0.62h-0.62zM52.3,743.4h0.62v0.62h-0.62zM60.0,749.7h0.62v0.62h-0.62zM56.5,741.1h0.62v0.62h-0.62zM53.2,734.4h0.62v0.62h-0.62zM58.6,750.0h0.62v0.62h-0.62zM58.2,751.4h0.62v0.62h-0.62zM60.8,725.8h0.62v0.62h-0.62zM64.9,725.4h0.62v0.62h-0.62zM54.9,732.1h0.62v0.62h-0.62zM55.3,740.8h0.62v0.62h-0.62zM49.0,731.0h0.62v0.62h-0.62zM51.8,746.0h0.62v0.62h-0.62zM53.6,733.7h0.62v0.62h-0.62zM59.6,742.2h0.62v0.62h-0.62zM51.3,726.6h0.62v0.62h-0.62zM58.8,737.9h0.62v0.62h-0.62zM53.2,724.2h0.62v0.62h-0.62zM60.1,733.6h0.62v0.62h-0.62zM56.6,748.0h0.62v0.62h-0.62zM61.6,747.1h0.62v0.62h-0.62zM67.1,732.1h0.62v0.62h-0.62zM54.3,728.2h0.62v0.62h-0.62zM56.8,736.2h0.62v0.62h-0.62zM65.2,745.3h0.62v0.62h-0.62zM61.4,735.6h0.62v0.62h-0.62zM50.9,726.7h0.62v0.62h-0.62zM61.5,738.0h0.62v0.62h-0.62zM64.3,748.3h0.62v0.62h-0.62zM59.8,724.7h0.62v0.62h-0.62zM62.2,727.1h0.62v0.62h-0.62zM53.2,730.8h0.62v0.62h-0.62zM58.9,741.0h0.62v0.62h-0.62zM50.0,743.2h0.62v0.62h-0.62zM60.8,734.3h0.62v0.62h-0.62zM61.8,745.1h0.62v0.62h-0.62zM48.8,734.4h0.62v0.62h-0.62zM61.9,742.1h0.62v0.62h-0.62zM61.3,724.6h0.62v0.62h-0.62zM53.2,732.9h0.62v0.62h-0.62zM56.6,750.4h0.62v0.62h-0.62zM66.2,726.4h0.62v0.62h-0.62zM63.0,730.6h0.62v0.62h-0.62zM61.6,744.0h0.62v0.62h-0.62zM51.1,726.0h0.62v0.62h-0.62zM52.8,727.5h0.62v0.62h-0.62zM56.6,732.6h0.62v0.62h-0.62zM50.1,737.9h0.62v0.62h-0.62zM67.1,737.7h0.62v0.62h-0.62zM55.6,741.9h0.62v0.62h-0.62zM57.2,724.5h0.62v0.62h-0.62zM58.0,719.3h0.62v0.62h-0.62zM61.8,724.0h0.62v0.62h-0.62zM55.8,750.5h0.62v0.62h-0.62zM63.6,746.3h0.62v0.62h-0.62zM61.2,739.6h0.62v0.62h-0.62zM52.4,744.0h0.62v0.62h-0.62zM54.5,727.1h0.62v0.62h-0.62zM64.7,738.5h0.62v0.62h-0.62zM60.1,725.2h0.62v0.62h-0.62zM48.9,736.3h0.62v0.62h-0.62zM62.8,727.7h0.62v0.62h-0.62zM52.0,741.7h0.62v0.62h-0.62zM53.8,742.2h0.62v0.62h-0.62zM55.2,735.9h0.62v0.62h-0.62zM54.9,732.5h0.62v0.62h-0.62zM58.0,727.2h0.62v0.62h-0.62zM60.8,741.7h0.62v0.62h-0.62zM53.7,744.8h0.62v0.62h-0.62zM62.9,730.0h0.62v0.62h-0.62zM58.2,724.9h0.62v0.62h-0.62zM66.8,737.2h0.62v0.62h-0.62zM62.2,731.4h0.62v0.62h-0.62zM62.6,726.3h0.62v0.62h-0.62zM64.2,745.2h0.62v0.62h-0.62zM50.4,738.0h0.62v0.62h-0.62zM52.3,742.0h0.62v0.62h-0.62zM64.3,744.8h0.62v0.62h-0.62zM53.1,721.8h0.62v0.62h-0.62zM61.6,737.3h0.62v0.62h-0.62zM51.3,725.0h0.62v0.62h-0.62zM60.0,722.3h0.62v0.62h-0.62zM61.0,726.6h0.62v0.62h-0.62zM53.7,732.7h0.62v0.62h-0.62zM59.0,742.6h0.62v0.62h-0.62zM52.9,728.3h0.62v0.62h-0.62zM61.1,741.5h0.62v0.62h-0.62zM60.6,748.5h0.62v0.62h-0.62zM52.6,729.0h0.62v0.62h-0.62zM61.6,727.3h0.62v0.62h-0.62zM51.7,726.2h0.62v0.62h-0.62zM63.7,746.0h0.62v0.62h-0.62zM64.2,728.9h0.62v0.62h-0.62zM54.8,742.5h0.62v0.62h-0.62zM49.7,738.8h0.62v0.62h-0.62zM58.7,723.7h0.62v0.62h-0.62zM57.6,725.2h0.62v0.62h-0.62zM50.9,735.4h0.62v0.62h-0.62zM58.8,730.7h0.62v0.62h-0.62zM62.6,736.2h0.62v0.62h-0.62zM63.8,722.2h0.62v0.62h-0.62zM50.0,731.5h0.62v0.62h-0.62zM58.1,727.0h0.62v0.62h-0.62zM61.7,726.0h0.62v0.62h-0.62zM54.8,734.4h0.62v0.62h-0.62zM62.6,744.1h0.62v0.62h-0.62zM55.9,733.4h0.62v0.62h-0.62zM60.7,722.2h0.62v0.62h-0.62zM57.5,739.7h0.62v0.62h-0.62zM51.1,734.1h0.62v0.62h-0.62zM60.7,728.6h0.62v0.62h-0.62zM49.9,743.5h0.62v0.62h-0.62zM63.7,733.1h0.62v0.62h-0.62zM50.3,731.7h0.62v0.62h-0.62zM49.6,728.2h0.62v0.62h-0.62zM63.6,723.1h0.62v0.62h-0.62zM51.8,736.2h0.62v0.62h-0.62z" fill="#1fb6c1"/>
<text x="87.4" y="654.7" font-size="10.6" text-anchor="middle" font-weight="bold" fill="#000">COP</text>
<text x="63.3" y="778.0" font-size="10.6" text-anchor="middle" font-weight="bold" fill="#000">OPC</text>
<text x="128.9" y="745.1" font-size="10.6" text-anchor="middle" font-weight="bold" fill="#000">NFOL</text>
<text x="224.8" y="690.6" font-size="10.6" text-anchor="middle" font-weight="bold" fill="#000">MOL</text>
<text x="210.3" y="806.2" font-size="10.6" text-anchor="middle" font-weight="bold" fill="#000">MFOL</text>
<text x="55.3" y="804.3" font-size="10.8" text-anchor="middle" font-weight="bold" fill="#000">UMAP1</text>
<text transform="translate(31.0,769.5) rotate(-90)" font-size="10.8" text-anchor="middle" font-weight="bold">UMAP2</text>
<path d="M35.2,741 V790.1 H85" fill="none" stroke="#111" stroke-width="0.9"/>
<path d="M35.2,737.6 l-2,4.6 h4z M88.4,790.1 l-4.6,-2 v4z" fill="#222"/>
<line x1="274.8" x2="274.8" y1="692.9" y2="706.7" stroke="#111" stroke-width="0.9"/>
<rect x="278.1" y="692.9" width="5" height="5" fill="#f4776f"/><rect x="278.1" y="701" width="5" height="5" fill="#22b8c3"/>
<text x="285.6" y="699.0" font-size="8.9" text-anchor="start" font-weight="bold" fill="#000">R6/2</text>
<text x="285.6" y="707.1" font-size="8.9" text-anchor="start" font-weight="bold" fill="#000">NT</text>
<text x="459.6" y="594.9" font-size="11.2" text-anchor="middle" font-weight="bold" fill="#000">Pseudotime</text>
<text transform="translate(339.3,752.0) rotate(-90)" font-size="12" text-anchor="middle" font-weight="bold">Identity</text>
<line x1="413.7" x2="413.7" y1="600" y2="838" stroke="#e6e6e6" stroke-width="0.5"/>
<line x1="443.8" x2="443.8" y1="600" y2="838" stroke="#e6e6e6" stroke-width="0.5"/>
<line x1="474" x2="474" y1="600" y2="838" stroke="#e6e6e6" stroke-width="0.5"/>
<line x1="504.4" x2="504.4" y1="600" y2="838" stroke="#e6e6e6" stroke-width="0.5"/>
<text x="411.4" y="844.9" font-size="7.6" text-anchor="middle" font-weight="bold" fill="#000">0</text>
<text x="443.3" y="844.9" font-size="7.6" text-anchor="middle" font-weight="bold" fill="#000">10</text>
<text x="473.6" y="844.9" font-size="7.6" text-anchor="middle" font-weight="bold" fill="#000">20</text>
<text x="504.2" y="844.9" font-size="7.6" text-anchor="middle" font-weight="bold" fill="#000">30</text>
<path d="M404.38,673.74C404.96,673.51 406.72,673.45 407.88,672.34C409.05,671.23 410.37,669.27 411.39,667.08C412.41,664.89 413.05,661.83 414.02,659.20C414.98,656.57 416.23,651.61 417.17,651.32C418.10,651.03 418.83,655.11 419.62,657.45C420.41,659.79 420.94,663.14 421.90,665.33C422.86,667.52 423.65,669.27 425.40,670.59C427.15,671.90 429.34,672.69 432.41,673.22C435.48,673.74 437.52,673.71 443.80,673.74C450.08,673.77 465.11,673.63 470.08,673.39C475.04,673.16 472.41,673.10 473.58,672.34C474.75,671.58 475.92,670.59 477.08,668.84C478.25,667.08 479.42,664.75 480.59,661.83C481.76,658.91 482.92,655.41 484.09,651.32C485.26,647.23 486.43,642.27 487.60,637.30C488.76,632.34 490.08,626.50 491.10,621.53C492.12,616.57 492.94,610.96 493.73,607.52C494.52,604.07 495.16,600.86 495.83,600.86C496.50,600.86 497.14,603.49 497.76,607.52C498.37,611.55 498.87,618.32 499.51,625.04C500.15,631.75 500.91,641.39 501.61,647.81C502.31,654.24 502.98,659.64 503.71,663.58C504.44,667.52 505.17,669.77 505.99,671.46C506.81,673.16 508.18,673.36 508.62,673.74Z" fill="#ff61cc" stroke="#111" stroke-width="0.42"/>
<text transform="translate(400.1,674.2) scale(1.085,1)" font-size="8.4" text-anchor="end" font-weight="bold">NT:8w:str</text>
<line x1="403.6" x2="405.2" y1="673.7" y2="673.7" stroke="#888" stroke-width="0.4"/>
<path d="M404.38,696.87C405.11,696.58 407.45,696.43 408.76,695.12C410.07,693.80 411.10,691.61 412.26,688.98C413.43,686.36 414.75,681.68 415.77,679.35C416.79,677.01 417.52,674.68 418.40,674.97C419.27,675.26 420.15,678.91 421.02,681.10C421.90,683.29 422.48,686.06 423.65,688.11C424.82,690.15 426.13,691.99 428.03,693.36C429.93,694.74 430.95,695.76 435.04,696.34C439.13,696.93 446.13,696.84 452.56,696.87C458.98,696.90 469.35,696.96 473.58,696.52C477.81,696.08 476.50,695.93 477.96,694.24C479.42,692.55 481.03,689.71 482.34,686.36C483.65,683.00 484.68,679.35 485.84,674.09C487.01,668.84 488.18,662.41 489.35,654.82C490.52,647.23 491.92,635.26 492.85,628.54C493.79,621.83 494.37,617.51 494.95,614.53C495.54,611.55 495.83,610.09 496.36,610.67C496.88,611.26 497.52,613.88 498.11,618.03C498.69,622.18 499.22,627.96 499.86,635.55C500.50,643.14 501.23,655.41 501.96,663.58C502.69,671.76 503.51,679.49 504.24,684.60C504.97,689.71 505.61,692.20 506.34,694.24C507.07,696.28 508.24,696.43 508.62,696.87Z" fill="#c77cff" stroke="#111" stroke-width="0.42"/>
<text transform="translate(400.1,697.9) scale(1.085,1)" font-size="8.4" text-anchor="end" font-weight="bold">NT:8w:cor</text>
<line x1="403.6" x2="405.2" y1="696.9" y2="696.9" stroke="#888" stroke-width="0.4"/>
<path d="M404.38,720.69C405.11,720.46 407.45,720.49 408.76,719.29C410.07,718.10 411.24,715.79 412.26,713.51C413.29,711.23 414.07,707.73 414.89,705.63C415.71,703.52 416.38,700.75 417.17,700.90C417.96,701.04 418.83,704.40 419.62,706.50C420.41,708.61 420.79,711.47 421.90,713.51C423.01,715.55 424.38,717.63 426.28,718.77C428.18,719.91 428.91,720.02 433.29,720.34C437.67,720.66 445.55,720.69 452.56,720.69C459.57,720.69 470.81,720.66 475.33,720.34C479.86,720.02 478.40,720.34 479.71,718.77C481.03,717.19 482.05,714.82 483.22,710.88C484.38,706.94 485.55,701.54 486.72,695.12C487.89,688.69 489.06,680.22 490.22,672.34C491.39,664.46 492.76,653.51 493.73,647.81C494.69,642.12 495.33,638.76 496.01,638.18C496.68,637.59 497.17,640.66 497.76,644.31C498.34,647.96 498.87,653.36 499.51,660.08C500.15,666.79 500.91,677.01 501.61,684.60C502.31,692.20 502.98,700.23 503.71,705.63C504.44,711.03 505.17,714.50 505.99,717.01C506.81,719.53 508.18,720.08 508.62,720.69Z" fill="#00a9ff" stroke="#111" stroke-width="0.42"/>
<text transform="translate(400.1,720.7) scale(1.085,1)" font-size="8.4" text-anchor="end" font-weight="bold">NT:12w:str</text>
<line x1="403.6" x2="405.2" y1="720.7" y2="720.7" stroke="#888" stroke-width="0.4"/>
<path d="M404.38,743.68C405.11,743.45 407.30,743.68 408.76,742.28C410.22,740.88 411.91,737.90 413.14,735.27C414.37,732.64 415.24,728.56 416.12,726.51C416.99,724.47 417.64,722.86 418.40,723.01C419.15,723.15 419.88,725.34 420.67,727.39C421.46,729.43 422.19,733.08 423.13,735.27C424.06,737.46 424.59,739.21 426.28,740.53C427.97,741.84 428.91,742.63 433.29,743.15C437.67,743.68 445.26,743.59 452.56,743.68C459.86,743.77 472.12,743.91 477.08,743.68C482.05,743.45 480.97,743.97 482.34,742.28C483.71,740.59 484.44,737.32 485.32,733.52C486.19,729.72 486.63,725.93 487.60,719.50C488.56,713.08 489.99,703.44 491.10,694.98C492.21,686.51 493.38,676.11 494.25,668.70C495.13,661.28 495.71,652.23 496.36,650.48C497.00,648.73 497.52,652.52 498.11,658.19C498.69,663.85 499.28,676.58 499.86,684.47C500.44,692.35 500.97,698.48 501.61,705.49C502.25,712.50 502.98,720.96 503.71,726.51C504.44,732.06 505.23,735.91 505.99,738.78C506.75,741.64 507.89,742.86 508.27,743.68Z" fill="#00bfc4" stroke="#111" stroke-width="0.42"/>
<text transform="translate(400.1,744.2) scale(1.085,1)" font-size="8.4" text-anchor="end" font-weight="bold">NT:12w:cor</text>
<line x1="403.6" x2="405.2" y1="743.7" y2="743.7" stroke="#888" stroke-width="0.4"/>
<path d="M404.38,767.16C405.11,766.81 407.30,766.72 408.76,765.05C410.22,763.39 411.91,759.80 413.14,757.17C414.37,754.54 415.18,751.10 416.12,749.29C417.05,747.48 417.78,746.16 418.75,746.31C419.71,746.45 420.79,748.94 421.90,750.16C423.01,751.39 424.23,752.99 425.40,753.67C426.57,754.34 427.74,753.32 428.91,754.19C430.07,755.07 431.24,757.26 432.41,758.92C433.58,760.59 434.75,762.95 435.91,764.18C437.08,765.40 436.64,765.90 439.42,766.28C442.19,766.66 448.62,766.51 452.56,766.46C456.50,766.40 460.44,766.60 463.07,765.93C465.70,765.26 467.01,764.91 468.33,762.43C469.64,759.94 470.08,756.15 470.95,751.04C471.83,745.93 472.70,737.32 473.58,731.77C474.46,726.22 475.48,720.73 476.21,717.75C476.94,714.77 477.29,713.90 477.96,713.90C478.63,713.90 479.36,714.77 480.24,717.75C481.11,720.73 482.28,727.68 483.22,731.77C484.15,735.86 484.82,739.51 485.84,742.28C486.87,745.05 487.89,746.66 489.35,748.41C490.81,750.16 492.85,751.04 494.60,752.79C496.36,754.54 498.40,757.02 499.86,758.92C501.32,760.82 502.20,762.81 503.36,764.18C504.53,765.55 506.28,766.66 506.87,767.16Z" fill="#00be67" stroke="#111" stroke-width="0.42"/>
<text transform="translate(400.1,767.4) scale(1.085,1)" font-size="8.4" text-anchor="end" font-weight="bold">R6/2:8w:str</text>
<line x1="403.6" x2="405.2" y1="767.2" y2="767.2" stroke="#888" stroke-width="0.4"/>
<path d="M404.38,790.46C405.11,790.08 407.30,789.93 408.76,788.18C410.22,786.43 411.91,782.63 413.14,779.95C414.37,777.26 415.18,773.87 416.12,772.06C417.05,770.25 417.78,768.94 418.75,769.08C419.71,769.23 420.79,771.57 421.90,772.94C423.01,774.31 424.09,776.82 425.40,777.32C426.72,777.81 428.47,775.33 429.78,775.92C431.10,776.50 432.12,779.13 433.29,780.82C434.45,782.51 435.62,784.85 436.79,786.08C437.96,787.30 437.67,787.65 440.29,788.18C442.92,788.70 448.47,789.08 452.56,789.23C456.65,789.38 462.05,789.43 464.82,789.06C467.60,788.68 467.74,788.62 469.20,786.95C470.66,785.29 472.12,782.72 473.58,779.07C475.04,775.42 476.56,768.32 477.96,765.05C479.36,761.78 480.68,759.97 481.99,759.45C483.30,758.92 484.68,760.88 485.84,761.90C487.01,762.92 487.98,765.93 489.00,765.58C490.02,765.23 491.04,762.37 491.98,759.80C492.91,757.23 493.93,752.29 494.60,750.16C495.28,748.03 495.42,746.57 496.01,747.01C496.59,747.45 497.32,749.49 498.11,752.79C498.90,756.09 499.86,762.13 500.74,766.81C501.61,771.48 502.55,777.32 503.36,780.82C504.18,784.33 504.91,786.22 505.64,787.83C506.37,789.43 507.39,790.02 507.74,790.46Z" fill="#7cae00" stroke="#111" stroke-width="0.42"/>
<text transform="translate(400.1,790.6) scale(1.085,1)" font-size="8.4" text-anchor="end" font-weight="bold">R6/2:8w:cor</text>
<line x1="403.6" x2="405.2" y1="790.5" y2="790.5" stroke="#888" stroke-width="0.4"/>
<path d="M404.38,813.58C405.11,813.23 407.30,813.14 408.76,811.48C410.22,809.82 411.83,805.84 413.14,803.60C414.45,801.35 415.77,799.10 416.64,797.99C417.52,796.88 417.67,796.88 418.40,796.94C419.13,797.00 420.15,797.73 421.02,798.34C421.90,798.95 422.78,800.76 423.65,800.62C424.53,800.47 425.32,798.52 426.28,797.46C427.24,796.41 428.41,794.17 429.43,794.31C430.45,794.46 431.33,796.06 432.41,798.34C433.49,800.62 434.75,805.70 435.91,807.98C437.08,810.25 436.64,811.22 439.42,812.01C442.19,812.79 448.91,812.71 452.56,812.71C456.21,812.71 459.13,812.65 461.32,812.01C463.51,811.36 464.38,811.13 465.70,808.85C467.01,806.57 468.03,803.60 469.20,798.34C470.37,793.08 471.68,783.01 472.70,777.32C473.73,771.62 474.66,766.75 475.33,764.18C476.00,761.61 476.15,761.46 476.73,761.90C477.32,762.34 478.05,763.36 478.84,766.81C479.63,770.25 480.59,777.90 481.46,782.57C482.34,787.25 483.22,791.77 484.09,794.84C484.97,797.90 485.90,799.71 486.72,800.97C487.54,802.22 488.12,802.66 489.00,802.37C489.87,802.08 490.90,800.12 491.98,799.22C493.06,798.31 494.46,796.94 495.48,796.94C496.50,796.94 497.09,797.52 498.11,799.22C499.13,800.91 500.44,804.91 501.61,807.10C502.78,809.29 504.09,811.28 505.12,812.36C506.14,813.44 507.31,813.38 507.74,813.58Z" fill="#cd9600" stroke="#111" stroke-width="0.42"/>
<text transform="translate(400.1,813.7) scale(1.085,1)" font-size="8.4" text-anchor="end" font-weight="bold">R6/2:12w:str</text>
<line x1="403.6" x2="405.2" y1="813.6" y2="813.6" stroke="#888" stroke-width="0.4"/>
<path d="M404.38,836.88C405.11,836.59 407.30,836.44 408.76,835.13C410.22,833.82 411.91,830.98 413.14,829.00C414.37,827.01 415.30,824.39 416.12,823.22C416.94,822.05 417.23,821.70 418.04,821.99C418.86,822.28 419.94,823.95 421.02,824.97C422.10,825.99 423.42,828.12 424.53,828.12C425.64,828.12 426.66,825.79 427.68,824.97C428.70,824.15 429.58,822.93 430.66,823.22C431.74,823.51 432.99,825.47 434.16,826.72C435.33,827.98 436.35,829.79 437.67,830.75C438.98,831.71 440.15,831.92 442.05,832.50C443.94,833.09 446.72,833.88 449.05,834.26C451.39,834.63 453.73,834.52 456.06,834.78C458.40,835.04 461.32,835.83 463.07,835.83C464.82,835.83 465.41,836.07 466.57,834.78C467.74,833.50 468.91,830.98 470.08,828.12C471.25,825.26 472.41,820.68 473.58,817.61C474.75,814.55 475.98,811.42 477.08,809.73C478.19,808.03 479.07,807.16 480.24,807.45C481.41,807.74 482.78,810.14 484.09,811.48C485.41,812.82 486.95,815.66 488.12,815.51C489.29,815.36 490.17,813.47 491.10,810.60C492.03,807.74 492.85,801.61 493.73,798.34C494.60,795.07 495.57,790.98 496.36,790.98C497.14,790.98 497.73,794.49 498.46,798.34C499.19,802.19 499.92,809.14 500.74,814.11C501.55,819.07 502.55,824.62 503.36,828.12C504.18,831.63 504.91,833.67 505.64,835.13C506.37,836.59 507.39,836.59 507.74,836.88Z" fill="#f8766d" stroke="#111" stroke-width="0.42"/>
<text transform="translate(400.1,837.3) scale(1.085,1)" font-size="8.4" text-anchor="end" font-weight="bold">R6/2:12w:cor</text>
<line x1="403.6" x2="405.2" y1="836.9" y2="836.9" stroke="#888" stroke-width="0.4"/>
</svg>
</body></html>
